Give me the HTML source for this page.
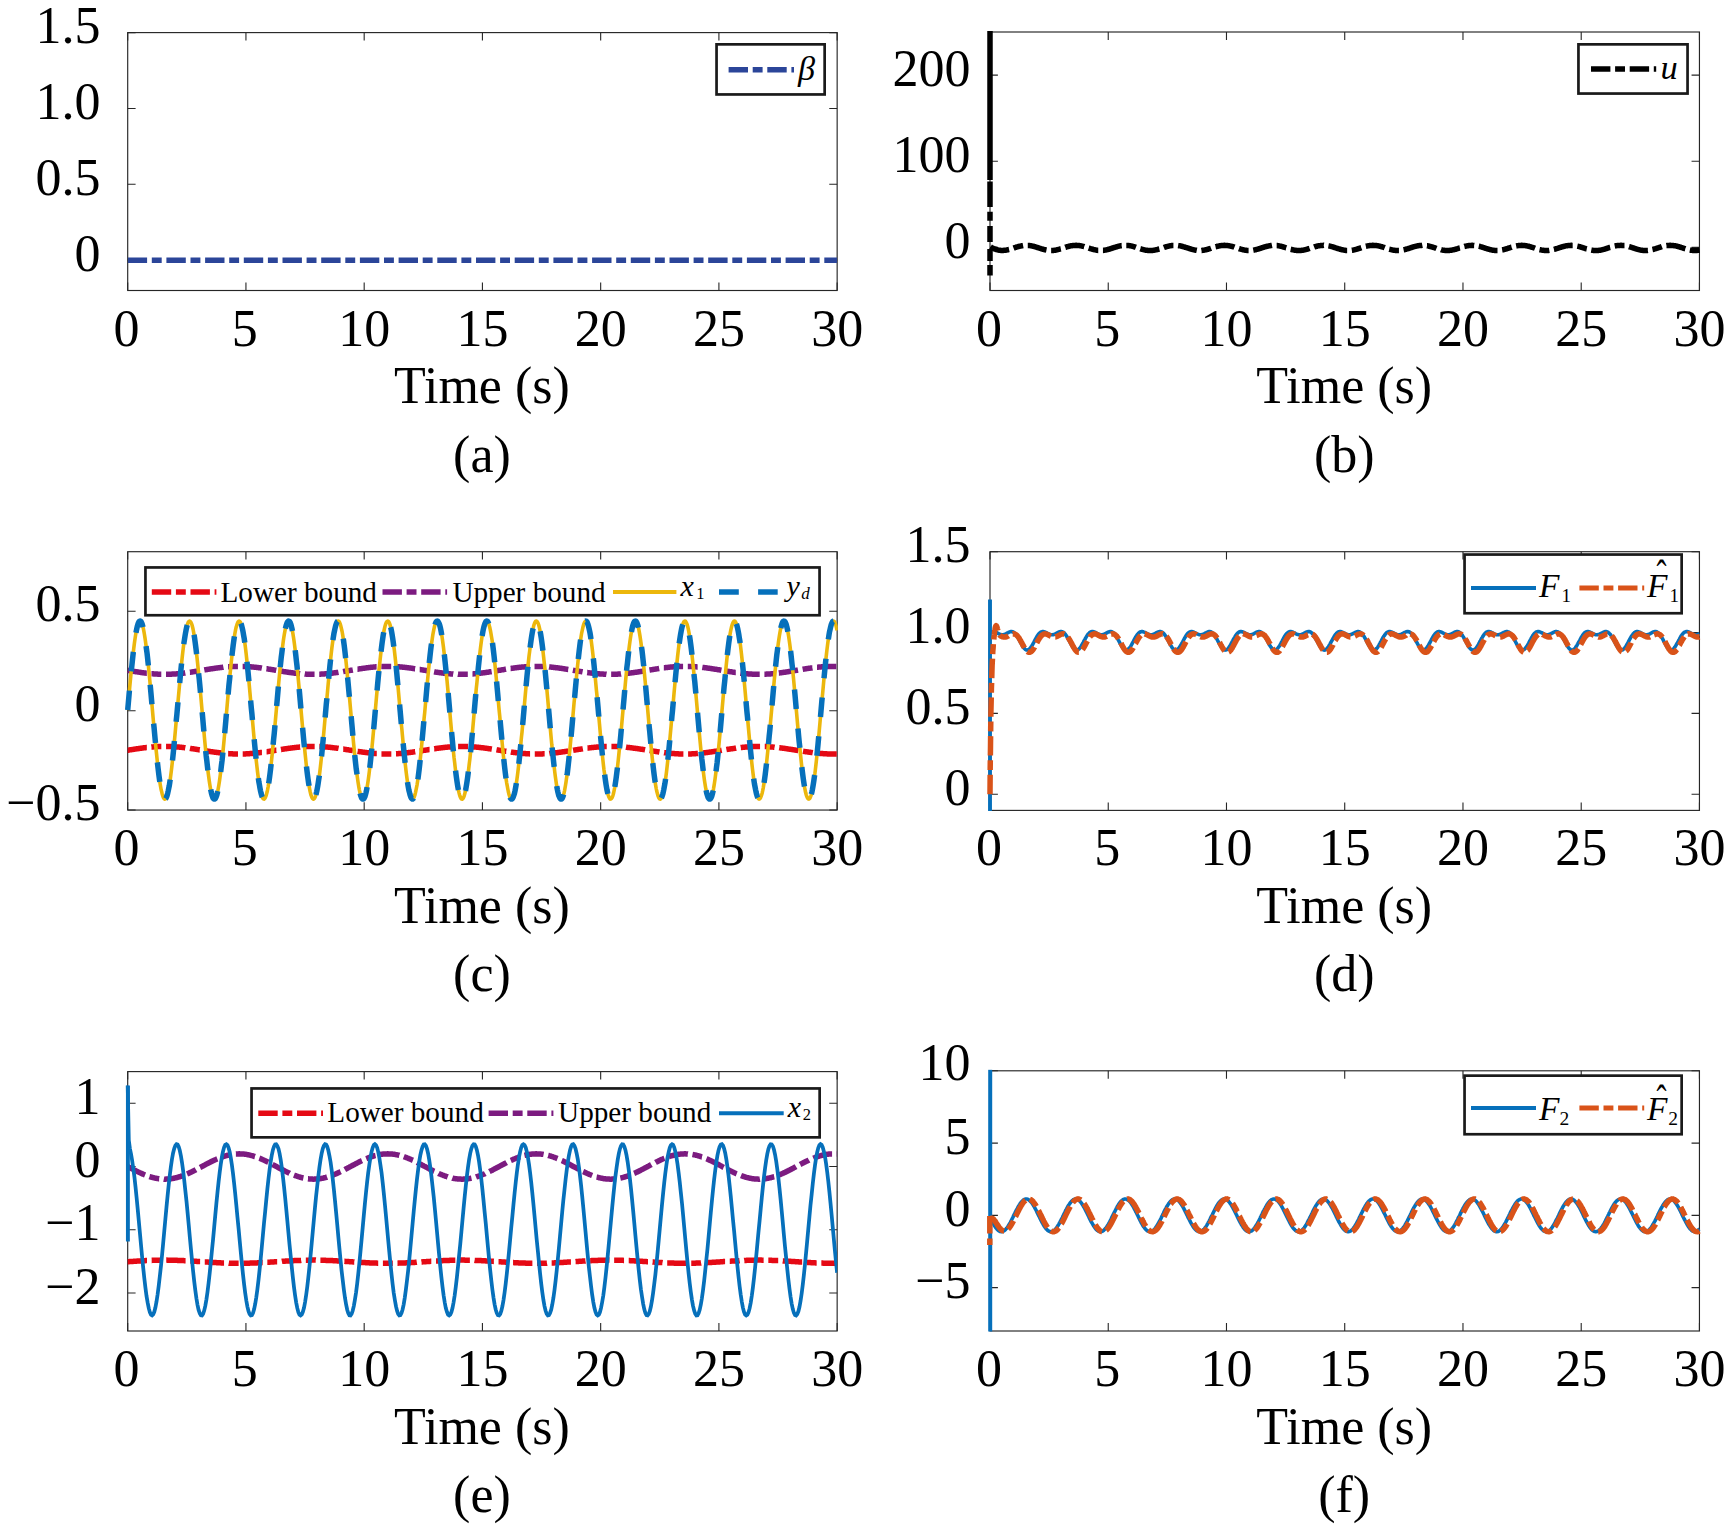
<!DOCTYPE html>
<html lang="en"><head><meta charset="utf-8"><title>Simulation results</title>
<style>html,body{margin:0;padding:0;background:#fff}svg{display:block}text{font-family:'Liberation Serif', 'Times New Roman', serif;fill:#000}</style>
</head><body>
<svg width="1732" height="1528" viewBox="0 0 1732 1528" font-family='"Liberation Serif", "Times New Roman", serif' font-size="52">
<rect width="1732" height="1528" fill="#ffffff"/>
<path d="M127.7 290.5 v-7.9 M127.7 32.6 v7.9 M245.94 290.5 v-7.9 M245.94 32.6 v7.9 M364.18 290.5 v-7.9 M364.18 32.6 v7.9 M482.42 290.5 v-7.9 M482.42 32.6 v7.9 M600.67 290.5 v-7.9 M600.67 32.6 v7.9 M718.91 290.5 v-7.9 M718.91 32.6 v7.9 M837.15 290.5 v-7.9 M837.15 32.6 v7.9 M127.7 32.6 h7.9 M837.15 32.6 h-7.9 M127.7 108.45 h7.9 M837.15 108.45 h-7.9 M127.7 184.31 h7.9 M837.15 184.31 h-7.9 M127.7 260.16 h7.9 M837.15 260.16 h-7.9" fill="none" stroke="#262626" stroke-width="1.1"/>
<rect x="127.7" y="32.6" width="709.45" height="257.9" fill="none" stroke="#262626" stroke-width="1.15"/>
<clipPath id="cp1"><rect x="127.7" y="31.6" width="709.45" height="259.4"/></clipPath>
<g clip-path="url(#cp1)" fill="none" stroke-linejoin="round">
<path d="M127.7 260.3 H837.15" stroke="#2B4599" stroke-width="5.5" stroke-dasharray="19.4 4.7 9.9 4.7"/>
</g>
<text x="126.6" y="346.2" text-anchor="middle">0</text>
<text x="244.84" y="346.2" text-anchor="middle">5</text>
<text x="364.18" y="346.2" text-anchor="middle">10</text>
<text x="482.42" y="346.2" text-anchor="middle">15</text>
<text x="600.67" y="346.2" text-anchor="middle">20</text>
<text x="718.91" y="346.2" text-anchor="middle">25</text>
<text x="837.15" y="346.2" text-anchor="middle">30</text>
<text x="100.4" y="43.2" text-anchor="end">1.5</text>
<text x="100.4" y="119.05" text-anchor="end">1.0</text>
<text x="100.4" y="194.91" text-anchor="end">0.5</text>
<text x="100.4" y="270.76" text-anchor="end">0</text>
<text x="481.93" y="403.4" text-anchor="middle">Time (s)</text>
<text x="481.93" y="471.7" text-anchor="middle">(a)</text>
<rect x="716.55" y="44.35" width="108.1" height="50.1" fill="#ffffff" stroke="#1a1a1a" stroke-width="2.7"/>
<path d="M728.6 69.7 H794" fill="none" stroke="#2B4599" stroke-width="5.5" stroke-dasharray="19.4 4.7 9.9 4.7"/>
<text x="797.9" y="79.6" font-size="34.2" font-style="italic">β</text>
<path d="M990 290.5 v-7.9 M990 32 v7.9 M1108.24 290.5 v-7.9 M1108.24 32 v7.9 M1226.48 290.5 v-7.9 M1226.48 32 v7.9 M1344.72 290.5 v-7.9 M1344.72 32 v7.9 M1462.97 290.5 v-7.9 M1462.97 32 v7.9 M1581.21 290.5 v-7.9 M1581.21 32 v7.9 M1699.45 290.5 v-7.9 M1699.45 32 v7.9 M990 75.08 h7.9 M1699.45 75.08 h-7.9 M990 161.25 h7.9 M1699.45 161.25 h-7.9 M990 247.42 h7.9 M1699.45 247.42 h-7.9" fill="none" stroke="#262626" stroke-width="1.1"/>
<rect x="990" y="32" width="709.45" height="258.5" fill="none" stroke="#262626" stroke-width="1.15"/>
<clipPath id="cp2"><rect x="986" y="31" width="714.45" height="260"/></clipPath>
<g clip-path="url(#cp2)" fill="none" stroke-linejoin="round">
<path d="M990 31 V180" stroke="#000000" stroke-width="5.5"/>
<path d="M990 181.5 V275.7" stroke="#000000" stroke-width="5.5" stroke-dasharray="25.5 4.7 9 5.3 16 7 12 4 10.6 30"/>
<path d="M990.5 246.9 991 247.2 991.5 247.5 992 247.8 992.5 248 993 248.3 993.5 248.5 994 248.7 994.5 248.9 995 249.1 995.5 249.3 996 249.4 996.5 249.6 997.1 249.7 997.6 249.9 998.1 250 998.6 250.1 999.1 250.2 999.6 250.2 1000.1 250.3 1000.6 250.4 1001.1 250.4 1001.6 250.4 1002.1 250.4 1002.6 250.4 1003.1 250.4 1003.6 250.4 1004.1 250.3 1004.7 250.3 1005.2 250.2 1005.7 250.2 1006.2 250.1 1006.7 250 1007.2 249.9 1007.7 249.8 1008.2 249.7 1008.7 249.5 1009.2 249.4 1009.7 249.3 1010.2 249.1 1010.7 249 1011.2 248.8 1011.7 248.7 1012.2 248.5 1012.8 248.3 1013.3 248.2 1013.8 248 1014.3 247.8 1014.8 247.7 1015.3 247.5 1015.8 247.3 1016.3 247.2 1016.8 247 1017.3 246.9 1017.8 246.7 1018.3 246.6 1018.8 246.4 1019.3 246.3 1019.8 246.2 1020.4 246.1 1020.9 246 1021.4 245.9 1021.9 245.8 1022.4 245.7 1022.9 245.6 1023.4 245.5 1023.9 245.5 1024.4 245.4 1024.9 245.4 1025.4 245.4 1025.9 245.4 1026.4 245.3 1026.9 245.4 1027.4 245.4 1027.9 245.4 1028.5 245.4 1029 245.5 1029.5 245.5 1030 245.6 1030.5 245.7 1031 245.8 1031.5 245.9 1032 246 1032.5 246.1 1033 246.2 1033.5 246.3 1034 246.5 1034.5 246.6 1035 246.8 1035.5 246.9 1036.1 247.1 1036.6 247.2 1037.1 247.4 1037.6 247.6 1038.1 247.7 1038.6 247.9 1039.1 248 1039.6 248.2 1040.1 248.4 1040.6 248.5 1041.1 248.7 1041.6 248.9 1042.1 249 1042.6 249.2 1043.1 249.3 1043.6 249.4 1044.2 249.6 1044.7 249.7 1045.2 249.8 1045.7 249.9 1046.2 250 1046.7 250.1 1047.2 250.2 1047.7 250.3 1048.2 250.3 1048.7 250.4 1049.2 250.4 1049.7 250.5 1050.2 250.5 1050.7 250.5 1051.2 250.5 1051.7 250.5 1052.3 250.5 1052.8 250.5 1053.3 250.4 1053.8 250.4 1054.3 250.3 1054.8 250.2 1055.3 250.2 1055.8 250.1 1056.3 250 1056.8 249.9 1057.3 249.8 1057.8 249.6 1058.3 249.5 1058.8 249.4 1059.3 249.2 1059.9 249.1 1060.4 248.9 1060.9 248.8 1061.4 248.6 1061.9 248.5 1062.4 248.3 1062.9 248.1 1063.4 248 1063.9 247.8 1064.4 247.6 1064.9 247.5 1065.4 247.3 1065.9 247.2 1066.4 247 1066.9 246.8 1067.4 246.7 1068 246.6 1068.5 246.4 1069 246.3 1069.5 246.2 1070 246 1070.5 245.9 1071 245.8 1071.5 245.7 1072 245.7 1072.5 245.6 1073 245.5 1073.5 245.5 1074 245.4 1074.5 245.4 1075 245.4 1075.6 245.4 1076.1 245.3 1076.6 245.4 1077.1 245.4 1077.6 245.4 1078.1 245.4 1078.6 245.5 1079.1 245.6 1079.6 245.6 1080.1 245.7 1080.6 245.8 1081.1 245.9 1081.6 246 1082.1 246.1 1082.6 246.2 1083.1 246.4 1083.7 246.5 1084.2 246.6 1084.7 246.8 1085.2 246.9 1085.7 247.1 1086.2 247.3 1086.7 247.4 1087.2 247.6 1087.7 247.7 1088.2 247.9 1088.7 248.1 1089.2 248.2 1089.7 248.4 1090.2 248.6 1090.7 248.7 1091.2 248.9 1091.8 249 1092.3 249.2 1092.8 249.3 1093.3 249.5 1093.8 249.6 1094.3 249.7 1094.8 249.8 1095.3 249.9 1095.8 250 1096.3 250.1 1096.8 250.2 1097.3 250.3 1097.8 250.4 1098.3 250.4 1098.8 250.5 1099.4 250.5 1099.9 250.5 1100.4 250.5 1100.9 250.5 1101.4 250.5 1101.9 250.5 1102.4 250.5 1102.9 250.4 1103.4 250.4 1103.9 250.3 1104.4 250.2 1104.9 250.1 1105.4 250.1 1105.9 250 1106.4 249.9 1106.9 249.7 1107.5 249.6 1108 249.5 1108.5 249.3 1109 249.2 1109.5 249.1 1110 248.9 1110.5 248.8 1111 248.6 1111.5 248.4 1112 248.3 1112.5 248.1 1113 247.9 1113.5 247.8 1114 247.6 1114.5 247.4 1115.1 247.3 1115.6 247.1 1116.1 247 1116.6 246.8 1117.1 246.7 1117.6 246.5 1118.1 246.4 1118.6 246.3 1119.1 246.1 1119.6 246 1120.1 245.9 1120.6 245.8 1121.1 245.7 1121.6 245.6 1122.1 245.6 1122.6 245.5 1123.2 245.5 1123.7 245.4 1124.2 245.4 1124.7 245.4 1125.2 245.3 1125.7 245.4 1126.2 245.4 1126.7 245.4 1127.2 245.4 1127.7 245.5 1128.2 245.5 1128.7 245.6 1129.2 245.6 1129.7 245.7 1130.2 245.8 1130.7 245.9 1131.3 246 1131.8 246.1 1132.3 246.3 1132.8 246.4 1133.3 246.5 1133.8 246.7 1134.3 246.8 1134.8 247 1135.3 247.1 1135.8 247.3 1136.3 247.5 1136.8 247.6 1137.3 247.8 1137.8 247.9 1138.3 248.1 1138.9 248.3 1139.4 248.4 1139.9 248.6 1140.4 248.8 1140.9 248.9 1141.4 249.1 1141.9 249.2 1142.4 249.4 1142.9 249.5 1143.4 249.6 1143.9 249.7 1144.4 249.9 1144.9 250 1145.4 250.1 1145.9 250.2 1146.4 250.2 1147 250.3 1147.5 250.4 1148 250.4 1148.5 250.5 1149 250.5 1149.5 250.5 1150 250.5 1150.5 250.5 1151 250.5 1151.5 250.5 1152 250.4 1152.5 250.4 1153 250.4 1153.5 250.3 1154 250.2 1154.6 250.1 1155.1 250 1155.6 249.9 1156.1 249.8 1156.6 249.7 1157.1 249.6 1157.6 249.5 1158.1 249.3 1158.6 249.2 1159.1 249 1159.6 248.9 1160.1 248.7 1160.6 248.6 1161.1 248.4 1161.6 248.2 1162.1 248.1 1162.7 247.9 1163.2 247.7 1163.7 247.6 1164.2 247.4 1164.7 247.2 1165.2 247.1 1165.7 246.9 1166.2 246.8 1166.7 246.6 1167.2 246.5 1167.7 246.4 1168.2 246.2 1168.7 246.1 1169.2 246 1169.7 245.9 1170.2 245.8 1170.8 245.7 1171.3 245.6 1171.8 245.6 1172.3 245.5 1172.8 245.4 1173.3 245.4 1173.8 245.4 1174.3 245.4 1174.8 245.3 1175.3 245.4 1175.8 245.4 1176.3 245.4 1176.8 245.4 1177.3 245.5 1177.8 245.5 1178.4 245.6 1178.9 245.7 1179.4 245.7 1179.9 245.8 1180.4 245.9 1180.9 246 1181.4 246.2 1181.9 246.3 1182.4 246.4 1182.9 246.6 1183.4 246.7 1183.9 246.9 1184.4 247 1184.9 247.2 1185.4 247.3 1185.9 247.5 1186.5 247.6 1187 247.8 1187.5 248 1188 248.1 1188.5 248.3 1189 248.5 1189.5 248.6 1190 248.8 1190.5 248.9 1191 249.1 1191.5 249.2 1192 249.4 1192.5 249.5 1193 249.6 1193.5 249.8 1194.1 249.9 1194.6 250 1195.1 250.1 1195.6 250.2 1196.1 250.2 1196.6 250.3 1197.1 250.4 1197.6 250.4 1198.1 250.5 1198.6 250.5 1199.1 250.5 1199.6 250.5 1200.1 250.5 1200.6 250.5 1201.1 250.5 1201.6 250.4 1202.2 250.4 1202.7 250.3 1203.2 250.3 1203.7 250.2 1204.2 250.1 1204.7 250 1205.2 249.9 1205.7 249.8 1206.2 249.7 1206.7 249.6 1207.2 249.4 1207.7 249.3 1208.2 249.2 1208.7 249 1209.2 248.8 1209.7 248.7 1210.3 248.5 1210.8 248.4 1211.3 248.2 1211.8 248 1212.3 247.9 1212.8 247.7 1213.3 247.5 1213.8 247.4 1214.3 247.2 1214.8 247.1 1215.3 246.9 1215.8 246.8 1216.3 246.6 1216.8 246.5 1217.3 246.3 1217.9 246.2 1218.4 246.1 1218.9 246 1219.4 245.9 1219.9 245.8 1220.4 245.7 1220.9 245.6 1221.4 245.5 1221.9 245.5 1222.4 245.4 1222.9 245.4 1223.4 245.4 1223.9 245.4 1224.4 245.3 1224.9 245.4 1225.4 245.4 1226 245.4 1226.5 245.4 1227 245.5 1227.5 245.5 1228 245.6 1228.5 245.7 1229 245.8 1229.5 245.9 1230 246 1230.5 246.1 1231 246.2 1231.5 246.3 1232 246.4 1232.5 246.6 1233 246.7 1233.6 246.9 1234.1 247 1234.6 247.2 1235.1 247.4 1235.6 247.5 1236.1 247.7 1236.6 247.8 1237.1 248 1237.6 248.2 1238.1 248.3 1238.6 248.5 1239.1 248.7 1239.6 248.8 1240.1 249 1240.6 249.1 1241.1 249.3 1241.7 249.4 1242.2 249.5 1242.7 249.7 1243.2 249.8 1243.7 249.9 1244.2 250 1244.7 250.1 1245.2 250.2 1245.7 250.3 1246.2 250.3 1246.7 250.4 1247.2 250.4 1247.7 250.5 1248.2 250.5 1248.7 250.5 1249.2 250.5 1249.8 250.5 1250.3 250.5 1250.8 250.5 1251.3 250.4 1251.8 250.4 1252.3 250.3 1252.8 250.3 1253.3 250.2 1253.8 250.1 1254.3 250 1254.8 249.9 1255.3 249.8 1255.8 249.7 1256.3 249.5 1256.8 249.4 1257.4 249.3 1257.9 249.1 1258.4 249 1258.9 248.8 1259.4 248.7 1259.9 248.5 1260.4 248.3 1260.9 248.2 1261.4 248 1261.9 247.8 1262.4 247.7 1262.9 247.5 1263.4 247.3 1263.9 247.2 1264.4 247 1264.9 246.9 1265.5 246.7 1266 246.6 1266.5 246.4 1267 246.3 1267.5 246.2 1268 246.1 1268.5 246 1269 245.9 1269.5 245.8 1270 245.7 1270.5 245.6 1271 245.5 1271.5 245.5 1272 245.4 1272.5 245.4 1273.1 245.4 1273.6 245.4 1274.1 245.3 1274.6 245.4 1275.1 245.4 1275.6 245.4 1276.1 245.4 1276.6 245.5 1277.1 245.5 1277.6 245.6 1278.1 245.7 1278.6 245.8 1279.1 245.9 1279.6 246 1280.1 246.1 1280.6 246.2 1281.2 246.3 1281.7 246.5 1282.2 246.6 1282.7 246.8 1283.2 246.9 1283.7 247.1 1284.2 247.2 1284.7 247.4 1285.2 247.5 1285.7 247.7 1286.2 247.9 1286.7 248 1287.2 248.2 1287.7 248.4 1288.2 248.5 1288.7 248.7 1289.3 248.9 1289.8 249 1290.3 249.2 1290.8 249.3 1291.3 249.4 1291.8 249.6 1292.3 249.7 1292.8 249.8 1293.3 249.9 1293.8 250 1294.3 250.1 1294.8 250.2 1295.3 250.3 1295.8 250.3 1296.3 250.4 1296.9 250.4 1297.4 250.5 1297.9 250.5 1298.4 250.5 1298.9 250.5 1299.4 250.5 1299.9 250.5 1300.4 250.5 1300.9 250.4 1301.4 250.4 1301.9 250.3 1302.4 250.2 1302.9 250.2 1303.4 250.1 1303.9 250 1304.4 249.9 1305 249.8 1305.5 249.6 1306 249.5 1306.5 249.4 1307 249.2 1307.5 249.1 1308 248.9 1308.5 248.8 1309 248.6 1309.5 248.5 1310 248.3 1310.5 248.1 1311 248 1311.5 247.8 1312 247.6 1312.6 247.5 1313.1 247.3 1313.6 247.2 1314.1 247 1314.6 246.8 1315.1 246.7 1315.6 246.6 1316.1 246.4 1316.6 246.3 1317.1 246.2 1317.6 246 1318.1 245.9 1318.6 245.8 1319.1 245.7 1319.6 245.7 1320.1 245.6 1320.7 245.5 1321.2 245.5 1321.7 245.4 1322.2 245.4 1322.7 245.4 1323.2 245.4 1323.7 245.3 1324.2 245.4 1324.7 245.4 1325.2 245.4 1325.7 245.4 1326.2 245.5 1326.7 245.6 1327.2 245.6 1327.7 245.7 1328.2 245.8 1328.8 245.9 1329.3 246 1329.8 246.1 1330.3 246.2 1330.8 246.4 1331.3 246.5 1331.8 246.6 1332.3 246.8 1332.8 246.9 1333.3 247.1 1333.8 247.3 1334.3 247.4 1334.8 247.6 1335.3 247.7 1335.8 247.9 1336.4 248.1 1336.9 248.2 1337.4 248.4 1337.9 248.6 1338.4 248.7 1338.9 248.9 1339.4 249 1339.9 249.2 1340.4 249.3 1340.9 249.5 1341.4 249.6 1341.9 249.7 1342.4 249.8 1342.9 249.9 1343.4 250 1343.9 250.1 1344.5 250.2 1345 250.3 1345.5 250.4 1346 250.4 1346.5 250.5 1347 250.5 1347.5 250.5 1348 250.5 1348.5 250.5 1349 250.5 1349.5 250.5 1350 250.5 1350.5 250.4 1351 250.4 1351.5 250.3 1352.1 250.2 1352.6 250.2 1353.1 250.1 1353.6 250 1354.1 249.9 1354.6 249.7 1355.1 249.6 1355.6 249.5 1356.1 249.4 1356.6 249.2 1357.1 249.1 1357.6 248.9 1358.1 248.8 1358.6 248.6 1359.1 248.4 1359.6 248.3 1360.2 248.1 1360.7 247.9 1361.2 247.8 1361.7 247.6 1362.2 247.4 1362.7 247.3 1363.2 247.1 1363.7 247 1364.2 246.8 1364.7 246.7 1365.2 246.5 1365.7 246.4 1366.2 246.3 1366.7 246.1 1367.2 246 1367.8 245.9 1368.3 245.8 1368.8 245.7 1369.3 245.6 1369.8 245.6 1370.3 245.5 1370.8 245.5 1371.3 245.4 1371.8 245.4 1372.3 245.4 1372.8 245.3 1373.3 245.4 1373.8 245.4 1374.3 245.4 1374.8 245.4 1375.3 245.5 1375.9 245.5 1376.4 245.6 1376.9 245.6 1377.4 245.7 1377.9 245.8 1378.4 245.9 1378.9 246 1379.4 246.1 1379.9 246.3 1380.4 246.4 1380.9 246.5 1381.4 246.7 1381.9 246.8 1382.4 247 1382.9 247.1 1383.4 247.3 1384 247.4 1384.5 247.6 1385 247.8 1385.5 247.9 1386 248.1 1386.5 248.3 1387 248.4 1387.5 248.6 1388 248.8 1388.5 248.9 1389 249.1 1389.5 249.2 1390 249.4 1390.5 249.5 1391 249.6 1391.6 249.7 1392.1 249.9 1392.6 250 1393.1 250.1 1393.6 250.2 1394.1 250.2 1394.6 250.3 1395.1 250.4 1395.6 250.4 1396.1 250.5 1396.6 250.5 1397.1 250.5 1397.6 250.5 1398.1 250.5 1398.6 250.5 1399.1 250.5 1399.7 250.4 1400.2 250.4 1400.7 250.4 1401.2 250.3 1401.7 250.2 1402.2 250.1 1402.7 250 1403.2 249.9 1403.7 249.8 1404.2 249.7 1404.7 249.6 1405.2 249.5 1405.7 249.3 1406.2 249.2 1406.7 249 1407.3 248.9 1407.8 248.7 1408.3 248.6 1408.8 248.4 1409.3 248.2 1409.8 248.1 1410.3 247.9 1410.8 247.7 1411.3 247.6 1411.8 247.4 1412.3 247.3 1412.8 247.1 1413.3 246.9 1413.8 246.8 1414.3 246.6 1414.8 246.5 1415.4 246.4 1415.9 246.2 1416.4 246.1 1416.9 246 1417.4 245.9 1417.9 245.8 1418.4 245.7 1418.9 245.6 1419.4 245.6 1419.9 245.5 1420.4 245.4 1420.9 245.4 1421.4 245.4 1421.9 245.4 1422.4 245.3 1422.9 245.4 1423.5 245.4 1424 245.4 1424.5 245.4 1425 245.5 1425.5 245.5 1426 245.6 1426.5 245.7 1427 245.7 1427.5 245.8 1428 245.9 1428.5 246 1429 246.2 1429.5 246.3 1430 246.4 1430.5 246.6 1431.1 246.7 1431.6 246.8 1432.1 247 1432.6 247.2 1433.1 247.3 1433.6 247.5 1434.1 247.6 1434.6 247.8 1435.1 248 1435.6 248.1 1436.1 248.3 1436.6 248.5 1437.1 248.6 1437.6 248.8 1438.1 248.9 1438.6 249.1 1439.2 249.2 1439.7 249.4 1440.2 249.5 1440.7 249.6 1441.2 249.8 1441.7 249.9 1442.2 250 1442.7 250.1 1443.2 250.2 1443.7 250.2 1444.2 250.3 1444.7 250.4 1445.2 250.4 1445.7 250.5 1446.2 250.5 1446.8 250.5 1447.3 250.5 1447.8 250.5 1448.3 250.5 1448.8 250.5 1449.3 250.4 1449.8 250.4 1450.3 250.3 1450.8 250.3 1451.3 250.2 1451.8 250.1 1452.3 250 1452.8 249.9 1453.3 249.8 1453.8 249.7 1454.3 249.6 1454.9 249.4 1455.4 249.3 1455.9 249.2 1456.4 249 1456.9 248.9 1457.4 248.7 1457.9 248.5 1458.4 248.4 1458.9 248.2 1459.4 248 1459.9 247.9 1460.4 247.7 1460.9 247.5 1461.4 247.4 1461.9 247.2 1462.4 247.1 1463 246.9 1463.5 246.8 1464 246.6 1464.5 246.5 1465 246.3 1465.5 246.2 1466 246.1 1466.5 246 1467 245.9 1467.5 245.8 1468 245.7 1468.5 245.6 1469 245.5 1469.5 245.5 1470 245.4 1470.6 245.4 1471.1 245.4 1471.6 245.4 1472.1 245.3 1472.6 245.4 1473.1 245.4 1473.6 245.4 1474.1 245.4 1474.6 245.5 1475.1 245.5 1475.6 245.6 1476.1 245.7 1476.6 245.8 1477.1 245.9 1477.6 246 1478.1 246.1 1478.7 246.2 1479.2 246.3 1479.7 246.4 1480.2 246.6 1480.7 246.7 1481.2 246.9 1481.7 247 1482.2 247.2 1482.7 247.3 1483.2 247.5 1483.7 247.7 1484.2 247.8 1484.7 248 1485.2 248.2 1485.7 248.3 1486.3 248.5 1486.8 248.7 1487.3 248.8 1487.8 249 1488.3 249.1 1488.8 249.3 1489.3 249.4 1489.8 249.5 1490.3 249.7 1490.8 249.8 1491.3 249.9 1491.8 250 1492.3 250.1 1492.8 250.2 1493.3 250.3 1493.8 250.3 1494.4 250.4 1494.9 250.4 1495.4 250.5 1495.9 250.5 1496.4 250.5 1496.9 250.5 1497.4 250.5 1497.9 250.5 1498.4 250.5 1498.9 250.4 1499.4 250.4 1499.9 250.3 1500.4 250.3 1500.9 250.2 1501.4 250.1 1501.9 250 1502.5 249.9 1503 249.8 1503.5 249.7 1504 249.5 1504.5 249.4 1505 249.3 1505.5 249.1 1506 249 1506.5 248.8 1507 248.7 1507.5 248.5 1508 248.3 1508.5 248.2 1509 248 1509.5 247.8 1510.1 247.7 1510.6 247.5 1511.1 247.3 1511.6 247.2 1512.1 247 1512.6 246.9 1513.1 246.7 1513.6 246.6 1514.1 246.4 1514.6 246.3 1515.1 246.2 1515.6 246.1 1516.1 246 1516.6 245.9 1517.1 245.8 1517.6 245.7 1518.2 245.6 1518.7 245.5 1519.2 245.5 1519.7 245.4 1520.2 245.4 1520.7 245.4 1521.2 245.4 1521.7 245.3 1522.2 245.4 1522.7 245.4 1523.2 245.4 1523.7 245.4 1524.2 245.5 1524.7 245.5 1525.2 245.6 1525.8 245.7 1526.3 245.8 1526.8 245.9 1527.3 246 1527.8 246.1 1528.3 246.2 1528.8 246.3 1529.3 246.5 1529.8 246.6 1530.3 246.8 1530.8 246.9 1531.3 247.1 1531.8 247.2 1532.3 247.4 1532.8 247.5 1533.3 247.7 1533.9 247.9 1534.4 248 1534.9 248.2 1535.4 248.4 1535.9 248.5 1536.4 248.7 1536.9 248.9 1537.4 249 1537.9 249.2 1538.4 249.3 1538.9 249.4 1539.4 249.6 1539.9 249.7 1540.4 249.8 1540.9 249.9 1541.4 250 1542 250.1 1542.5 250.2 1543 250.3 1543.5 250.3 1544 250.4 1544.5 250.4 1545 250.5 1545.5 250.5 1546 250.5 1546.5 250.5 1547 250.5 1547.5 250.5 1548 250.5 1548.5 250.4 1549 250.4 1549.6 250.3 1550.1 250.2 1550.6 250.2 1551.1 250.1 1551.6 250 1552.1 249.9 1552.6 249.8 1553.1 249.6 1553.6 249.5 1554.1 249.4 1554.6 249.2 1555.1 249.1 1555.6 248.9 1556.1 248.8 1556.6 248.6 1557.1 248.5 1557.7 248.3 1558.2 248.1 1558.7 248 1559.2 247.8 1559.7 247.6 1560.2 247.5 1560.7 247.3 1561.2 247.2 1561.7 247 1562.2 246.8 1562.7 246.7 1563.2 246.6 1563.7 246.4 1564.2 246.3 1564.7 246.2 1565.3 246 1565.8 245.9 1566.3 245.8 1566.8 245.7 1567.3 245.7 1567.8 245.6 1568.3 245.5 1568.8 245.5 1569.3 245.4 1569.8 245.4 1570.3 245.4 1570.8 245.4 1571.3 245.3 1571.8 245.4 1572.3 245.4 1572.8 245.4 1573.4 245.4 1573.9 245.5 1574.4 245.6 1574.9 245.6 1575.4 245.7 1575.9 245.8 1576.4 245.9 1576.9 246 1577.4 246.1 1577.9 246.2 1578.4 246.4 1578.9 246.5 1579.4 246.6 1579.9 246.8 1580.4 246.9 1580.9 247.1 1581.5 247.3 1582 247.4 1582.5 247.6 1583 247.7 1583.5 247.9 1584 248.1 1584.5 248.2 1585 248.4 1585.5 248.6 1586 248.7 1586.5 248.9 1587 249 1587.5 249.2 1588 249.3 1588.5 249.5 1589.1 249.6 1589.6 249.7 1590.1 249.8 1590.6 249.9 1591.1 250 1591.6 250.1 1592.1 250.2 1592.6 250.3 1593.1 250.4 1593.6 250.4 1594.1 250.4 1594.6 250.5 1595.1 250.5 1595.6 250.5 1596.1 250.5 1596.6 250.5 1597.2 250.5 1597.7 250.5 1598.2 250.4 1598.7 250.4 1599.2 250.3 1599.7 250.2 1600.2 250.2 1600.7 250.1 1601.2 250 1601.7 249.9 1602.2 249.7 1602.7 249.6 1603.2 249.5 1603.7 249.4 1604.2 249.2 1604.8 249.1 1605.3 248.9 1605.8 248.8 1606.3 248.6 1606.8 248.4 1607.3 248.3 1607.8 248.1 1608.3 247.9 1608.8 247.8 1609.3 247.6 1609.8 247.4 1610.3 247.3 1610.8 247.1 1611.3 247 1611.8 246.8 1612.3 246.7 1612.9 246.5 1613.4 246.4 1613.9 246.3 1614.4 246.1 1614.9 246 1615.4 245.9 1615.9 245.8 1616.4 245.7 1616.9 245.6 1617.4 245.6 1617.9 245.5 1618.4 245.5 1618.9 245.4 1619.4 245.4 1619.9 245.4 1620.4 245.4 1621 245.3 1621.5 245.4 1622 245.4 1622.5 245.4 1623 245.5 1623.5 245.5 1624 245.6 1624.5 245.6 1625 245.7 1625.5 245.8 1626 245.9 1626.5 246 1627 246.1 1627.5 246.3 1628 246.4 1628.6 246.5 1629.1 246.7 1629.6 246.8 1630.1 247 1630.6 247.1 1631.1 247.3 1631.6 247.4 1632.1 247.6 1632.6 247.8 1633.1 247.9 1633.6 248.1 1634.1 248.3 1634.6 248.4 1635.1 248.6 1635.6 248.8 1636.1 248.9 1636.7 249.1 1637.2 249.2 1637.7 249.4 1638.2 249.5 1638.7 249.6 1639.2 249.7 1639.7 249.9 1640.2 250 1640.7 250.1 1641.2 250.2 1641.7 250.2 1642.2 250.3 1642.7 250.4 1643.2 250.4 1643.7 250.5 1644.3 250.5 1644.8 250.5 1645.3 250.5 1645.8 250.5 1646.3 250.5 1646.8 250.5 1647.3 250.5 1647.8 250.4 1648.3 250.4 1648.8 250.3 1649.3 250.2 1649.8 250.1 1650.3 250 1650.8 249.9 1651.3 249.8 1651.8 249.7 1652.4 249.6 1652.9 249.5 1653.4 249.3 1653.9 249.2 1654.4 249 1654.9 248.9 1655.4 248.7 1655.9 248.6 1656.4 248.4 1656.9 248.2 1657.4 248.1 1657.9 247.9 1658.4 247.7 1658.9 247.6 1659.4 247.4 1659.9 247.3 1660.5 247.1 1661 246.9 1661.5 246.8 1662 246.6 1662.5 246.5 1663 246.4 1663.5 246.2 1664 246.1 1664.5 246 1665 245.9 1665.5 245.8 1666 245.7 1666.5 245.6 1667 245.6 1667.5 245.5 1668.1 245.4 1668.6 245.4 1669.1 245.4 1669.6 245.4 1670.1 245.3 1670.6 245.4 1671.1 245.4 1671.6 245.4 1672.1 245.4 1672.6 245.5 1673.1 245.5 1673.6 245.6 1674.1 245.7 1674.6 245.7 1675.1 245.8 1675.6 245.9 1676.2 246 1676.7 246.2 1677.2 246.3 1677.7 246.4 1678.2 246.6 1678.7 246.7 1679.2 246.8 1679.7 247 1680.2 247.2 1680.7 247.3 1681.2 247.5 1681.7 247.6 1682.2 247.8 1682.7 248 1683.2 248.1 1683.8 248.3 1684.3 248.5 1684.8 248.6 1685.3 248.8 1685.8 248.9 1686.3 249.1 1686.8 249.2 1687.3 249.4 1687.8 249.5 1688.3 249.6 1688.8 249.8 1689.3 249.9 1689.8 250 1690.3 250.1 1690.8 250.2 1691.3 250.2 1691.9 250.3 1692.4 250.4 1692.9 250.4 1693.4 250.5 1693.9 250.5 1694.4 250.5 1694.9 250.5 1695.4 250.5 1695.9 250.5 1696.4 250.5 1696.9 250.4 1697.4 250.4 1697.9 250.3 1698.4 250.3 1698.9 250.2 1699.5 250.1" stroke="#000000" stroke-width="5.5" stroke-dasharray="19.4 4.7 9.9 4.7"/>
</g>
<text x="988.9" y="346.2" text-anchor="middle">0</text>
<text x="1107.14" y="346.2" text-anchor="middle">5</text>
<text x="1226.48" y="346.2" text-anchor="middle">10</text>
<text x="1344.72" y="346.2" text-anchor="middle">15</text>
<text x="1462.97" y="346.2" text-anchor="middle">20</text>
<text x="1581.21" y="346.2" text-anchor="middle">25</text>
<text x="1699.45" y="346.2" text-anchor="middle">30</text>
<text x="970.4" y="85.68" text-anchor="end">200</text>
<text x="970.4" y="171.85" text-anchor="end">100</text>
<text x="970.4" y="258.02" text-anchor="end">0</text>
<text x="1344.22" y="403.4" text-anchor="middle">Time (s)</text>
<text x="1344.22" y="471.7" text-anchor="middle">(b)</text>
<rect x="1578.45" y="44.35" width="109.1" height="49.2" fill="#ffffff" stroke="#1a1a1a" stroke-width="2.7"/>
<path d="M1591 69 H1656.2" fill="none" stroke="#000000" stroke-width="5.5" stroke-dasharray="19.4 4.7 9.9 4.7"/>
<text x="1660.6" y="79.4" font-size="34.5" font-style="italic">u</text>
<path d="M127.7 810.05 v-7.9 M127.7 551.7 v7.9 M245.94 810.05 v-7.9 M245.94 551.7 v7.9 M364.18 810.05 v-7.9 M364.18 551.7 v7.9 M482.42 810.05 v-7.9 M482.42 551.7 v7.9 M600.67 810.05 v-7.9 M600.67 551.7 v7.9 M718.91 810.05 v-7.9 M718.91 551.7 v7.9 M837.15 810.05 v-7.9 M837.15 551.7 v7.9 M127.7 611.32 h7.9 M837.15 611.32 h-7.9 M127.7 710.68 h7.9 M837.15 710.68 h-7.9 M127.7 810.05 h7.9 M837.15 810.05 h-7.9" fill="none" stroke="#262626" stroke-width="1.1"/>
<rect x="127.7" y="551.7" width="709.45" height="258.35" fill="none" stroke="#262626" stroke-width="1.15"/>
<clipPath id="cp3"><rect x="124.7" y="550.7" width="713.05" height="259.85"/></clipPath>
<g clip-path="url(#cp3)" fill="none" stroke-linejoin="round">
<path d="M127.7 750.2 128.2 750.2 128.7 750.1 129.2 750 129.7 749.9 130.2 749.8 130.7 749.7 131.2 749.7 131.8 749.6 132.3 749.5 132.8 749.4 133.3 749.4 133.8 749.3 134.3 749.2 134.8 749.1 135.3 749 135.8 749 136.3 748.9 136.8 748.8 137.3 748.7 137.8 748.7 138.3 748.6 138.8 748.5 139.4 748.4 139.9 748.4 140.4 748.3 140.9 748.2 141.4 748.2 141.9 748.1 142.4 748 142.9 748 143.4 747.9 143.9 747.8 144.4 747.8 144.9 747.7 145.4 747.7 145.9 747.6 146.4 747.5 147 747.5 147.5 747.4 148 747.4 148.5 747.3 149 747.3 149.5 747.2 150 747.2 150.5 747.1 151 747.1 151.5 747 152 747 152.5 747 153 746.9 153.5 746.9 154.1 746.8 154.6 746.8 155.1 746.8 155.6 746.7 156.1 746.7 156.6 746.7 157.1 746.7 157.6 746.6 158.1 746.6 158.6 746.6 159.1 746.6 159.6 746.5 160.1 746.5 160.6 746.5 161.1 746.5 161.7 746.5 162.2 746.5 162.7 746.5 163.2 746.5 163.7 746.5 164.2 746.5 164.7 746.5 165.2 746.5 165.7 746.5 166.2 746.5 166.7 746.5 167.2 746.5 167.7 746.5 168.2 746.5 168.7 746.5 169.3 746.5 169.8 746.5 170.3 746.6 170.8 746.6 171.3 746.6 171.8 746.6 172.3 746.6 172.8 746.7 173.3 746.7 173.8 746.7 174.3 746.8 174.8 746.8 175.3 746.8 175.8 746.9 176.3 746.9 176.9 746.9 177.4 747 177.9 747 178.4 747.1 178.9 747.1 179.4 747.1 179.9 747.2 180.4 747.2 180.9 747.3 181.4 747.3 181.9 747.4 182.4 747.5 182.9 747.5 183.4 747.6 183.9 747.6 184.5 747.7 185 747.7 185.5 747.8 186 747.9 186.5 747.9 187 748 187.5 748.1 188 748.1 188.5 748.2 189 748.3 189.5 748.3 190 748.4 190.5 748.5 191 748.5 191.6 748.6 192.1 748.7 192.6 748.8 193.1 748.8 193.6 748.9 194.1 749 194.6 749.1 195.1 749.1 195.6 749.2 196.1 749.3 196.6 749.4 197.1 749.5 197.6 749.5 198.1 749.6 198.6 749.7 199.2 749.8 199.7 749.9 200.2 749.9 200.7 750 201.2 750.1 201.7 750.2 202.2 750.3 202.7 750.3 203.2 750.4 203.7 750.5 204.2 750.6 204.7 750.7 205.2 750.7 205.7 750.8 206.2 750.9 206.8 751 207.3 751.1 207.8 751.1 208.3 751.2 208.8 751.3 209.3 751.4 209.8 751.5 210.3 751.5 210.8 751.6 211.3 751.7 211.8 751.8 212.3 751.8 212.8 751.9 213.3 752 213.8 752 214.4 752.1 214.9 752.2 215.4 752.3 215.9 752.3 216.4 752.4 216.9 752.5 217.4 752.5 217.9 752.6 218.4 752.6 218.9 752.7 219.4 752.8 219.9 752.8 220.4 752.9 220.9 752.9 221.4 753 222 753.1 222.5 753.1 223 753.2 223.5 753.2 224 753.3 224.5 753.3 225 753.4 225.5 753.4 226 753.4 226.5 753.5 227 753.5 227.5 753.6 228 753.6 228.5 753.6 229 753.7 229.6 753.7 230.1 753.7 230.6 753.8 231.1 753.8 231.6 753.8 232.1 753.8 232.6 753.9 233.1 753.9 233.6 753.9 234.1 753.9 234.6 753.9 235.1 754 235.6 754 236.1 754 236.7 754 237.2 754 237.7 754 238.2 754 238.7 754 239.2 754 239.7 754 240.2 754 240.7 754 241.2 754 241.7 754 242.2 754 242.7 754 243.2 754 243.7 753.9 244.3 753.9 244.8 753.9 245.3 753.9 245.8 753.9 246.3 753.8 246.8 753.8 247.3 753.8 247.8 753.8 248.3 753.7 248.8 753.7 249.3 753.7 249.8 753.6 250.3 753.6 250.8 753.6 251.3 753.5 251.9 753.5 252.4 753.4 252.9 753.4 253.4 753.3 253.9 753.3 254.4 753.2 254.9 753.2 255.4 753.1 255.9 753.1 256.4 753 256.9 753 257.4 752.9 257.9 752.9 258.4 752.8 258.9 752.8 259.5 752.7 260 752.6 260.5 752.6 261 752.5 261.5 752.4 262 752.4 262.5 752.3 263 752.2 263.5 752.2 264 752.1 264.5 752 265 752 265.5 751.9 266 751.8 266.5 751.7 267.1 751.7 267.6 751.6 268.1 751.5 268.6 751.4 269.1 751.4 269.6 751.3 270.1 751.2 270.6 751.1 271.1 751.1 271.6 751 272.1 750.9 272.6 750.8 273.1 750.7 273.6 750.7 274.2 750.6 274.7 750.5 275.2 750.4 275.7 750.3 276.2 750.2 276.7 750.2 277.2 750.1 277.7 750 278.2 749.9 278.7 749.8 279.2 749.8 279.7 749.7 280.2 749.6 280.7 749.5 281.2 749.4 281.8 749.4 282.3 749.3 282.8 749.2 283.3 749.1 283.8 749.1 284.3 749 284.8 748.9 285.3 748.8 285.8 748.8 286.3 748.7 286.8 748.6 287.3 748.5 287.8 748.5 288.3 748.4 288.8 748.3 289.4 748.3 289.9 748.2 290.4 748.1 290.9 748 291.4 748 291.9 747.9 292.4 747.9 292.9 747.8 293.4 747.7 293.9 747.7 294.4 747.6 294.9 747.6 295.4 747.5 295.9 747.4 296.4 747.4 297 747.3 297.5 747.3 298 747.2 298.5 747.2 299 747.1 299.5 747.1 300 747 300.5 747 301 747 301.5 746.9 302 746.9 302.5 746.9 303 746.8 303.5 746.8 304 746.7 304.6 746.7 305.1 746.7 305.6 746.7 306.1 746.6 306.6 746.6 307.1 746.6 307.6 746.6 308.1 746.6 308.6 746.5 309.1 746.5 309.6 746.5 310.1 746.5 310.6 746.5 311.1 746.5 311.7 746.5 312.2 746.5 312.7 746.5 313.2 746.5 313.7 746.5 314.2 746.5 314.7 746.5 315.2 746.5 315.7 746.5 316.2 746.5 316.7 746.5 317.2 746.5 317.7 746.5 318.2 746.5 318.7 746.6 319.3 746.6 319.8 746.6 320.3 746.6 320.8 746.6 321.3 746.7 321.8 746.7 322.3 746.7 322.8 746.7 323.3 746.8 323.8 746.8 324.3 746.8 324.8 746.9 325.3 746.9 325.8 747 326.3 747 326.9 747 327.4 747.1 327.9 747.1 328.4 747.2 328.9 747.2 329.4 747.3 329.9 747.3 330.4 747.4 330.9 747.4 331.4 747.5 331.9 747.6 332.4 747.6 332.9 747.7 333.4 747.7 333.9 747.8 334.5 747.9 335 747.9 335.5 748 336 748 336.5 748.1 337 748.2 337.5 748.2 338 748.3 338.5 748.4 339 748.5 339.5 748.5 340 748.6 340.5 748.7 341 748.7 341.5 748.8 342.1 748.9 342.6 749 343.1 749.1 343.6 749.1 344.1 749.2 344.6 749.3 345.1 749.4 345.6 749.4 346.1 749.5 346.6 749.6 347.1 749.7 347.6 749.8 348.1 749.8 348.6 749.9 349.1 750 349.7 750.1 350.2 750.2 350.7 750.2 351.2 750.3 351.7 750.4 352.2 750.5 352.7 750.6 353.2 750.7 353.7 750.7 354.2 750.8 354.7 750.9 355.2 751 355.7 751 356.2 751.1 356.8 751.2 357.3 751.3 357.8 751.4 358.3 751.4 358.8 751.5 359.3 751.6 359.8 751.7 360.3 751.7 360.8 751.8 361.3 751.9 361.8 752 362.3 752 362.8 752.1 363.3 752.2 363.8 752.2 364.4 752.3 364.9 752.4 365.4 752.4 365.9 752.5 366.4 752.6 366.9 752.6 367.4 752.7 367.9 752.8 368.4 752.8 368.9 752.9 369.4 752.9 369.9 753 370.4 753 370.9 753.1 371.4 753.1 372 753.2 372.5 753.2 373 753.3 373.5 753.3 374 753.4 374.5 753.4 375 753.5 375.5 753.5 376 753.6 376.5 753.6 377 753.6 377.5 753.7 378 753.7 378.5 753.7 379 753.8 379.6 753.8 380.1 753.8 380.6 753.8 381.1 753.9 381.6 753.9 382.1 753.9 382.6 753.9 383.1 753.9 383.6 754 384.1 754 384.6 754 385.1 754 385.6 754 386.1 754 386.6 754 387.2 754 387.7 754 388.2 754 388.7 754 389.2 754 389.7 754 390.2 754 390.7 754 391.2 754 391.7 754 392.2 753.9 392.7 753.9 393.2 753.9 393.7 753.9 394.3 753.9 394.8 753.8 395.3 753.8 395.8 753.8 396.3 753.8 396.8 753.7 397.3 753.7 397.8 753.7 398.3 753.6 398.8 753.6 399.3 753.6 399.8 753.5 400.3 753.5 400.8 753.4 401.3 753.4 401.9 753.4 402.4 753.3 402.9 753.3 403.4 753.2 403.9 753.2 404.4 753.1 404.9 753.1 405.4 753 405.9 752.9 406.4 752.9 406.9 752.8 407.4 752.8 407.9 752.7 408.4 752.6 408.9 752.6 409.5 752.5 410 752.5 410.5 752.4 411 752.3 411.5 752.3 412 752.2 412.5 752.1 413 752 413.5 752 414 751.9 414.5 751.8 415 751.8 415.5 751.7 416 751.6 416.5 751.5 417.1 751.5 417.6 751.4 418.1 751.3 418.6 751.2 419.1 751.1 419.6 751.1 420.1 751 420.6 750.9 421.1 750.8 421.6 750.8 422.1 750.7 422.6 750.6 423.1 750.5 423.6 750.4 424.1 750.3 424.7 750.3 425.2 750.2 425.7 750.1 426.2 750 426.7 749.9 427.2 749.9 427.7 749.8 428.2 749.7 428.7 749.6 429.2 749.5 429.7 749.5 430.2 749.4 430.7 749.3 431.2 749.2 431.8 749.1 432.3 749.1 432.8 749 433.3 748.9 433.8 748.8 434.3 748.8 434.8 748.7 435.3 748.6 435.8 748.5 436.3 748.5 436.8 748.4 437.3 748.3 437.8 748.3 438.3 748.2 438.8 748.1 439.4 748.1 439.9 748 440.4 747.9 440.9 747.9 441.4 747.8 441.9 747.7 442.4 747.7 442.9 747.6 443.4 747.6 443.9 747.5 444.4 747.5 444.9 747.4 445.4 747.3 445.9 747.3 446.4 747.2 447 747.2 447.5 747.1 448 747.1 448.5 747.1 449 747 449.5 747 450 746.9 450.5 746.9 451 746.9 451.5 746.8 452 746.8 452.5 746.8 453 746.7 453.5 746.7 454 746.7 454.6 746.6 455.1 746.6 455.6 746.6 456.1 746.6 456.6 746.6 457.1 746.5 457.6 746.5 458.1 746.5 458.6 746.5 459.1 746.5 459.6 746.5 460.1 746.5 460.6 746.5 461.1 746.5 461.6 746.5 462.2 746.5 462.7 746.5 463.2 746.5 463.7 746.5 464.2 746.5 464.7 746.5 465.2 746.5 465.7 746.5 466.2 746.5 466.7 746.5 467.2 746.5 467.7 746.6 468.2 746.6 468.7 746.6 469.2 746.6 469.8 746.7 470.3 746.7 470.8 746.7 471.3 746.7 471.8 746.8 472.3 746.8 472.8 746.8 473.3 746.9 473.8 746.9 474.3 747 474.8 747 475.3 747 475.8 747.1 476.3 747.1 476.9 747.2 477.4 747.2 477.9 747.3 478.4 747.3 478.9 747.4 479.4 747.4 479.9 747.5 480.4 747.5 480.9 747.6 481.4 747.7 481.9 747.7 482.4 747.8 482.9 747.8 483.4 747.9 483.9 748 484.5 748 485 748.1 485.5 748.2 486 748.2 486.5 748.3 487 748.4 487.5 748.4 488 748.5 488.5 748.6 489 748.7 489.5 748.7 490 748.8 490.5 748.9 491 749 491.5 749 492.1 749.1 492.6 749.2 493.1 749.3 493.6 749.3 494.1 749.4 494.6 749.5 495.1 749.6 495.6 749.7 496.1 749.7 496.6 749.8 497.1 749.9 497.6 750 498.1 750.1 498.6 750.1 499.1 750.2 499.7 750.3 500.2 750.4 500.7 750.5 501.2 750.6 501.7 750.6 502.2 750.7 502.7 750.8 503.2 750.9 503.7 751 504.2 751 504.7 751.1 505.2 751.2 505.7 751.3 506.2 751.3 506.7 751.4 507.3 751.5 507.8 751.6 508.3 751.6 508.8 751.7 509.3 751.8 509.8 751.9 510.3 751.9 510.8 752 511.3 752.1 511.8 752.2 512.3 752.2 512.8 752.3 513.3 752.4 513.8 752.4 514.4 752.5 514.9 752.6 515.4 752.6 515.9 752.7 516.4 752.7 516.9 752.8 517.4 752.9 517.9 752.9 518.4 753 518.9 753 519.4 753.1 519.9 753.1 520.4 753.2 520.9 753.2 521.4 753.3 522 753.3 522.5 753.4 523 753.4 523.5 753.5 524 753.5 524.5 753.5 525 753.6 525.5 753.6 526 753.7 526.5 753.7 527 753.7 527.5 753.8 528 753.8 528.5 753.8 529 753.8 529.6 753.9 530.1 753.9 530.6 753.9 531.1 753.9 531.6 753.9 532.1 753.9 532.6 754 533.1 754 533.6 754 534.1 754 534.6 754 535.1 754 535.6 754 536.1 754 536.6 754 537.2 754 537.7 754 538.2 754 538.7 754 539.2 754 539.7 754 540.2 754 540.7 753.9 541.2 753.9 541.7 753.9 542.2 753.9 542.7 753.9 543.2 753.8 543.7 753.8 544.2 753.8 544.8 753.8 545.3 753.7 545.8 753.7 546.3 753.7 546.8 753.6 547.3 753.6 547.8 753.6 548.3 753.5 548.8 753.5 549.3 753.5 549.8 753.4 550.3 753.4 550.8 753.3 551.3 753.3 551.8 753.2 552.4 753.2 552.9 753.1 553.4 753.1 553.9 753 554.4 753 554.9 752.9 555.4 752.8 555.9 752.8 556.4 752.7 556.9 752.7 557.4 752.6 557.9 752.5 558.4 752.5 558.9 752.4 559.5 752.3 560 752.3 560.5 752.2 561 752.1 561.5 752.1 562 752 562.5 751.9 563 751.8 563.5 751.8 564 751.7 564.5 751.6 565 751.6 565.5 751.5 566 751.4 566.5 751.3 567.1 751.2 567.6 751.2 568.1 751.1 568.6 751 569.1 750.9 569.6 750.8 570.1 750.8 570.6 750.7 571.1 750.6 571.6 750.5 572.1 750.4 572.6 750.4 573.1 750.3 573.6 750.2 574.1 750.1 574.7 750 575.2 750 575.7 749.9 576.2 749.8 576.7 749.7 577.2 749.6 577.7 749.6 578.2 749.5 578.7 749.4 579.2 749.3 579.7 749.2 580.2 749.2 580.7 749.1 581.2 749 581.7 748.9 582.3 748.9 582.8 748.8 583.3 748.7 583.8 748.6 584.3 748.6 584.8 748.5 585.3 748.4 585.8 748.3 586.3 748.3 586.8 748.2 587.3 748.1 587.8 748.1 588.3 748 588.8 747.9 589.3 747.9 589.9 747.8 590.4 747.8 590.9 747.7 591.4 747.6 591.9 747.6 592.4 747.5 592.9 747.5 593.4 747.4 593.9 747.4 594.4 747.3 594.9 747.3 595.4 747.2 595.9 747.2 596.4 747.1 597 747.1 597.5 747 598 747 598.5 746.9 599 746.9 599.5 746.9 600 746.8 600.5 746.8 601 746.8 601.5 746.7 602 746.7 602.5 746.7 603 746.6 603.5 746.6 604 746.6 604.6 746.6 605.1 746.6 605.6 746.5 606.1 746.5 606.6 746.5 607.1 746.5 607.6 746.5 608.1 746.5 608.6 746.5 609.1 746.5 609.6 746.5 610.1 746.5 610.6 746.5 611.1 746.5 611.6 746.5 612.2 746.5 612.7 746.5 613.2 746.5 613.7 746.5 614.2 746.5 614.7 746.5 615.2 746.5 615.7 746.5 616.2 746.6 616.7 746.6 617.2 746.6 617.7 746.6 618.2 746.7 618.7 746.7 619.2 746.7 619.8 746.7 620.3 746.8 620.8 746.8 621.3 746.8 621.8 746.9 622.3 746.9 622.8 746.9 623.3 747 623.8 747 624.3 747.1 624.8 747.1 625.3 747.2 625.8 747.2 626.3 747.3 626.8 747.3 627.4 747.4 627.9 747.4 628.4 747.5 628.9 747.5 629.4 747.6 629.9 747.6 630.4 747.7 630.9 747.8 631.4 747.8 631.9 747.9 632.4 748 632.9 748 633.4 748.1 633.9 748.2 634.4 748.2 635 748.3 635.5 748.4 636 748.4 636.5 748.5 637 748.6 637.5 748.6 638 748.7 638.5 748.8 639 748.9 639.5 748.9 640 749 640.5 749.1 641 749.2 641.5 749.3 642.1 749.3 642.6 749.4 643.1 749.5 643.6 749.6 644.1 749.6 644.6 749.7 645.1 749.8 645.6 749.9 646.1 750 646.6 750 647.1 750.1 647.6 750.2 648.1 750.3 648.6 750.4 649.1 750.5 649.7 750.5 650.2 750.6 650.7 750.7 651.2 750.8 651.7 750.9 652.2 750.9 652.7 751 653.2 751.1 653.7 751.2 654.2 751.3 654.7 751.3 655.2 751.4 655.7 751.5 656.2 751.6 656.7 751.6 657.3 751.7 657.8 751.8 658.3 751.9 658.8 751.9 659.3 752 659.8 752.1 660.3 752.1 660.8 752.2 661.3 752.3 661.8 752.3 662.3 752.4 662.8 752.5 663.3 752.5 663.8 752.6 664.3 752.7 664.9 752.7 665.4 752.8 665.9 752.8 666.4 752.9 666.9 753 667.4 753 667.9 753.1 668.4 753.1 668.9 753.2 669.4 753.2 669.9 753.3 670.4 753.3 670.9 753.4 671.4 753.4 671.9 753.5 672.5 753.5 673 753.5 673.5 753.6 674 753.6 674.5 753.6 675 753.7 675.5 753.7 676 753.7 676.5 753.8 677 753.8 677.5 753.8 678 753.8 678.5 753.9 679 753.9 679.6 753.9 680.1 753.9 680.6 753.9 681.1 754 681.6 754 682.1 754 682.6 754 683.1 754 683.6 754 684.1 754 684.6 754 685.1 754 685.6 754 686.1 754 686.6 754 687.2 754 687.7 754 688.2 754 688.7 754 689.2 753.9 689.7 753.9 690.2 753.9 690.7 753.9 691.2 753.9 691.7 753.9 692.2 753.8 692.7 753.8 693.2 753.8 693.7 753.7 694.2 753.7 694.8 753.7 695.3 753.7 695.8 753.6 696.3 753.6 696.8 753.5 697.3 753.5 697.8 753.5 698.3 753.4 698.8 753.4 699.3 753.3 699.8 753.3 700.3 753.2 700.8 753.2 701.3 753.1 701.8 753.1 702.4 753 702.9 753 703.4 752.9 703.9 752.9 704.4 752.8 704.9 752.7 705.4 752.7 705.9 752.6 706.4 752.6 706.9 752.5 707.4 752.4 707.9 752.4 708.4 752.3 708.9 752.2 709.4 752.1 710 752.1 710.5 752 711 751.9 711.5 751.9 712 751.8 712.5 751.7 713 751.6 713.5 751.6 714 751.5 714.5 751.4 715 751.3 715.5 751.3 716 751.2 716.5 751.1 717.1 751 717.6 750.9 718.1 750.9 718.6 750.8 719.1 750.7 719.6 750.6 720.1 750.5 720.6 750.5 721.1 750.4 721.6 750.3 722.1 750.2 722.6 750.1 723.1 750.1 723.6 750 724.1 749.9 724.7 749.8 725.2 749.7 725.7 749.7 726.2 749.6 726.7 749.5 727.2 749.4 727.7 749.3 728.2 749.3 728.7 749.2 729.2 749.1 729.7 749 730.2 749 730.7 748.9 731.2 748.8 731.7 748.7 732.3 748.7 732.8 748.6 733.3 748.5 733.8 748.4 734.3 748.4 734.8 748.3 735.3 748.2 735.8 748.2 736.3 748.1 736.8 748 737.3 748 737.8 747.9 738.3 747.8 738.8 747.8 739.3 747.7 739.9 747.7 740.4 747.6 740.9 747.5 741.4 747.5 741.9 747.4 742.4 747.4 742.9 747.3 743.4 747.3 743.9 747.2 744.4 747.2 744.9 747.1 745.4 747.1 745.9 747 746.4 747 746.9 747 747.5 746.9 748 746.9 748.5 746.8 749 746.8 749.5 746.8 750 746.7 750.5 746.7 751 746.7 751.5 746.7 752 746.6 752.5 746.6 753 746.6 753.5 746.6 754 746.5 754.5 746.5 755.1 746.5 755.6 746.5 756.1 746.5 756.6 746.5 757.1 746.5 757.6 746.5 758.1 746.5 758.6 746.5 759.1 746.5 759.6 746.5 760.1 746.5 760.6 746.5 761.1 746.5 761.6 746.5 762.2 746.5 762.7 746.5 763.2 746.5 763.7 746.5 764.2 746.5 764.7 746.6 765.2 746.6 765.7 746.6 766.2 746.6 766.7 746.6 767.2 746.7 767.7 746.7 768.2 746.7 768.7 746.8 769.2 746.8 769.8 746.8 770.3 746.9 770.8 746.9 771.3 746.9 771.8 747 772.3 747 772.8 747.1 773.3 747.1 773.8 747.2 774.3 747.2 774.8 747.3 775.3 747.3 775.8 747.4 776.3 747.4 776.8 747.5 777.4 747.5 777.9 747.6 778.4 747.6 778.9 747.7 779.4 747.8 779.9 747.8 780.4 747.9 780.9 747.9 781.4 748 781.9 748.1 782.4 748.1 782.9 748.2 783.4 748.3 783.9 748.3 784.4 748.4 785 748.5 785.5 748.6 786 748.6 786.5 748.7 787 748.8 787.5 748.9 788 748.9 788.5 749 789 749.1 789.5 749.2 790 749.2 790.5 749.3 791 749.4 791.5 749.5 792 749.6 792.6 749.6 793.1 749.7 793.6 749.8 794.1 749.9 794.6 750 795.1 750 795.6 750.1 796.1 750.2 796.6 750.3 797.1 750.4 797.6 750.4 798.1 750.5 798.6 750.6 799.1 750.7 799.7 750.8 800.2 750.8 800.7 750.9 801.2 751 801.7 751.1 802.2 751.2 802.7 751.2 803.2 751.3 803.7 751.4 804.2 751.5 804.7 751.5 805.2 751.6 805.7 751.7 806.2 751.8 806.7 751.8 807.3 751.9 807.8 752 808.3 752.1 808.8 752.1 809.3 752.2 809.8 752.3 810.3 752.3 810.8 752.4 811.3 752.5 811.8 752.5 812.3 752.6 812.8 752.7 813.3 752.7 813.8 752.8 814.3 752.8 814.9 752.9 815.4 753 815.9 753 816.4 753.1 816.9 753.1 817.4 753.2 817.9 753.2 818.4 753.3 818.9 753.3 819.4 753.4 819.9 753.4 820.4 753.4 820.9 753.5 821.4 753.5 821.9 753.6 822.5 753.6 823 753.6 823.5 753.7 824 753.7 824.5 753.7 825 753.8 825.5 753.8 826 753.8 826.5 753.8 827 753.9 827.5 753.9 828 753.9 828.5 753.9 829 753.9 829.5 754 830.1 754 830.6 754 831.1 754 831.6 754 832.1 754 832.6 754 833.1 754 833.6 754 834.1 754 834.6 754 835.1 754 835.6 754 836.1 754 836.6 754 837.1 754" stroke="#E50914" stroke-width="5.5" stroke-dasharray="19.4 4.7 9.9 4.7"/>
<path d="M127.7 670.3 128.2 670.4 128.7 670.5 129.2 670.6 129.7 670.7 130.2 670.8 130.7 670.9 131.2 670.9 131.8 671 132.3 671.1 132.8 671.2 133.3 671.3 133.8 671.4 134.3 671.4 134.8 671.5 135.3 671.6 135.8 671.7 136.3 671.8 136.8 671.8 137.3 671.9 137.8 672 138.3 672.1 138.8 672.1 139.4 672.2 139.9 672.3 140.4 672.4 140.9 672.4 141.4 672.5 141.9 672.6 142.4 672.7 142.9 672.7 143.4 672.8 143.9 672.9 144.4 672.9 144.9 673 145.4 673.1 145.9 673.1 146.4 673.2 147 673.2 147.5 673.3 148 673.3 148.5 673.4 149 673.5 149.5 673.5 150 673.6 150.5 673.6 151 673.7 151.5 673.7 152 673.7 152.5 673.8 153 673.8 153.5 673.9 154.1 673.9 154.6 673.9 155.1 674 155.6 674 156.1 674 156.6 674.1 157.1 674.1 157.6 674.1 158.1 674.2 158.6 674.2 159.1 674.2 159.6 674.2 160.1 674.2 160.6 674.3 161.1 674.3 161.7 674.3 162.2 674.3 162.7 674.3 163.2 674.3 163.7 674.3 164.2 674.3 164.7 674.3 165.2 674.3 165.7 674.3 166.2 674.3 166.7 674.3 167.2 674.3 167.7 674.3 168.2 674.3 168.7 674.3 169.3 674.2 169.8 674.2 170.3 674.2 170.8 674.2 171.3 674.2 171.8 674.1 172.3 674.1 172.8 674.1 173.3 674.1 173.8 674 174.3 674 174.8 674 175.3 673.9 175.8 673.9 176.3 673.9 176.9 673.8 177.4 673.8 177.9 673.7 178.4 673.7 178.9 673.6 179.4 673.6 179.9 673.5 180.4 673.5 180.9 673.4 181.4 673.4 181.9 673.3 182.4 673.3 182.9 673.2 183.4 673.2 183.9 673.1 184.5 673 185 673 185.5 672.9 186 672.8 186.5 672.8 187 672.7 187.5 672.6 188 672.6 188.5 672.5 189 672.4 189.5 672.3 190 672.3 190.5 672.2 191 672.1 191.6 672 192.1 672 192.6 671.9 193.1 671.8 193.6 671.7 194.1 671.6 194.6 671.6 195.1 671.5 195.6 671.4 196.1 671.3 196.6 671.2 197.1 671.2 197.6 671.1 198.1 671 198.6 670.9 199.2 670.8 199.7 670.7 200.2 670.6 200.7 670.6 201.2 670.5 201.7 670.4 202.2 670.3 202.7 670.2 203.2 670.1 203.7 670.1 204.2 670 204.7 669.9 205.2 669.8 205.7 669.7 206.2 669.6 206.8 669.5 207.3 669.5 207.8 669.4 208.3 669.3 208.8 669.2 209.3 669.1 209.8 669.1 210.3 669 210.8 668.9 211.3 668.8 211.8 668.7 212.3 668.7 212.8 668.6 213.3 668.5 213.8 668.4 214.4 668.4 214.9 668.3 215.4 668.2 215.9 668.1 216.4 668.1 216.9 668 217.4 667.9 217.9 667.9 218.4 667.8 218.9 667.7 219.4 667.7 219.9 667.6 220.4 667.5 220.9 667.5 221.4 667.4 222 667.4 222.5 667.3 223 667.3 223.5 667.2 224 667.2 224.5 667.1 225 667.1 225.5 667 226 667 226.5 666.9 227 666.9 227.5 666.8 228 666.8 228.5 666.8 229 666.7 229.6 666.7 230.1 666.7 230.6 666.6 231.1 666.6 231.6 666.6 232.1 666.5 232.6 666.5 233.1 666.5 233.6 666.5 234.1 666.5 234.6 666.4 235.1 666.4 235.6 666.4 236.1 666.4 236.7 666.4 237.2 666.4 237.7 666.4 238.2 666.4 238.7 666.4 239.2 666.4 239.7 666.4 240.2 666.4 240.7 666.4 241.2 666.4 241.7 666.4 242.2 666.4 242.7 666.4 243.2 666.4 243.7 666.4 244.3 666.5 244.8 666.5 245.3 666.5 245.8 666.5 246.3 666.5 246.8 666.6 247.3 666.6 247.8 666.6 248.3 666.7 248.8 666.7 249.3 666.7 249.8 666.8 250.3 666.8 250.8 666.8 251.3 666.9 251.9 666.9 252.4 667 252.9 667 253.4 667.1 253.9 667.1 254.4 667.2 254.9 667.2 255.4 667.3 255.9 667.3 256.4 667.4 256.9 667.4 257.4 667.5 257.9 667.6 258.4 667.6 258.9 667.7 259.5 667.7 260 667.8 260.5 667.9 261 667.9 261.5 668 262 668.1 262.5 668.2 263 668.2 263.5 668.3 264 668.4 264.5 668.4 265 668.5 265.5 668.6 266 668.7 266.5 668.8 267.1 668.8 267.6 668.9 268.1 669 268.6 669.1 269.1 669.2 269.6 669.2 270.1 669.3 270.6 669.4 271.1 669.5 271.6 669.6 272.1 669.6 272.6 669.7 273.1 669.8 273.6 669.9 274.2 670 274.7 670.1 275.2 670.2 275.7 670.2 276.2 670.3 276.7 670.4 277.2 670.5 277.7 670.6 278.2 670.7 278.7 670.7 279.2 670.8 279.7 670.9 280.2 671 280.7 671.1 281.2 671.2 281.8 671.3 282.3 671.3 282.8 671.4 283.3 671.5 283.8 671.6 284.3 671.7 284.8 671.7 285.3 671.8 285.8 671.9 286.3 672 286.8 672.1 287.3 672.1 287.8 672.2 288.3 672.3 288.8 672.4 289.4 672.4 289.9 672.5 290.4 672.6 290.9 672.6 291.4 672.7 291.9 672.8 292.4 672.8 292.9 672.9 293.4 673 293.9 673 294.4 673.1 294.9 673.2 295.4 673.2 295.9 673.3 296.4 673.3 297 673.4 297.5 673.4 298 673.5 298.5 673.5 299 673.6 299.5 673.6 300 673.7 300.5 673.7 301 673.8 301.5 673.8 302 673.9 302.5 673.9 303 673.9 303.5 674 304 674 304.6 674 305.1 674.1 305.6 674.1 306.1 674.1 306.6 674.2 307.1 674.2 307.6 674.2 308.1 674.2 308.6 674.2 309.1 674.3 309.6 674.3 310.1 674.3 310.6 674.3 311.1 674.3 311.7 674.3 312.2 674.3 312.7 674.3 313.2 674.3 313.7 674.3 314.2 674.3 314.7 674.3 315.2 674.3 315.7 674.3 316.2 674.3 316.7 674.3 317.2 674.3 317.7 674.3 318.2 674.2 318.7 674.2 319.3 674.2 319.8 674.2 320.3 674.2 320.8 674.1 321.3 674.1 321.8 674.1 322.3 674 322.8 674 323.3 674 323.8 673.9 324.3 673.9 324.8 673.9 325.3 673.8 325.8 673.8 326.3 673.7 326.9 673.7 327.4 673.6 327.9 673.6 328.4 673.5 328.9 673.5 329.4 673.4 329.9 673.4 330.4 673.3 330.9 673.3 331.4 673.2 331.9 673.2 332.4 673.1 332.9 673 333.4 673 333.9 672.9 334.5 672.8 335 672.8 335.5 672.7 336 672.6 336.5 672.6 337 672.5 337.5 672.4 338 672.4 338.5 672.3 339 672.2 339.5 672.1 340 672.1 340.5 672 341 671.9 341.5 671.8 342.1 671.7 342.6 671.7 343.1 671.6 343.6 671.5 344.1 671.4 344.6 671.3 345.1 671.3 345.6 671.2 346.1 671.1 346.6 671 347.1 670.9 347.6 670.8 348.1 670.8 348.6 670.7 349.1 670.6 349.7 670.5 350.2 670.4 350.7 670.3 351.2 670.2 351.7 670.2 352.2 670.1 352.7 670 353.2 669.9 353.7 669.8 354.2 669.7 354.7 669.6 355.2 669.6 355.7 669.5 356.2 669.4 356.8 669.3 357.3 669.2 357.8 669.2 358.3 669.1 358.8 669 359.3 668.9 359.8 668.8 360.3 668.8 360.8 668.7 361.3 668.6 361.8 668.5 362.3 668.4 362.8 668.4 363.3 668.3 363.8 668.2 364.4 668.2 364.9 668.1 365.4 668 365.9 667.9 366.4 667.9 366.9 667.8 367.4 667.7 367.9 667.7 368.4 667.6 368.9 667.6 369.4 667.5 369.9 667.4 370.4 667.4 370.9 667.3 371.4 667.3 372 667.2 372.5 667.2 373 667.1 373.5 667.1 374 667 374.5 667 375 666.9 375.5 666.9 376 666.8 376.5 666.8 377 666.8 377.5 666.7 378 666.7 378.5 666.7 379 666.6 379.6 666.6 380.1 666.6 380.6 666.5 381.1 666.5 381.6 666.5 382.1 666.5 382.6 666.5 383.1 666.4 383.6 666.4 384.1 666.4 384.6 666.4 385.1 666.4 385.6 666.4 386.1 666.4 386.6 666.4 387.2 666.4 387.7 666.4 388.2 666.4 388.7 666.4 389.2 666.4 389.7 666.4 390.2 666.4 390.7 666.4 391.2 666.4 391.7 666.4 392.2 666.4 392.7 666.5 393.2 666.5 393.7 666.5 394.3 666.5 394.8 666.5 395.3 666.6 395.8 666.6 396.3 666.6 396.8 666.7 397.3 666.7 397.8 666.7 398.3 666.8 398.8 666.8 399.3 666.8 399.8 666.9 400.3 666.9 400.8 667 401.3 667 401.9 667.1 402.4 667.1 402.9 667.2 403.4 667.2 403.9 667.3 404.4 667.3 404.9 667.4 405.4 667.4 405.9 667.5 406.4 667.5 406.9 667.6 407.4 667.7 407.9 667.7 408.4 667.8 408.9 667.9 409.5 667.9 410 668 410.5 668.1 411 668.1 411.5 668.2 412 668.3 412.5 668.4 413 668.4 413.5 668.5 414 668.6 414.5 668.7 415 668.7 415.5 668.8 416 668.9 416.5 669 417.1 669.1 417.6 669.1 418.1 669.2 418.6 669.3 419.1 669.4 419.6 669.5 420.1 669.5 420.6 669.6 421.1 669.7 421.6 669.8 422.1 669.9 422.6 670 423.1 670.1 423.6 670.1 424.1 670.2 424.7 670.3 425.2 670.4 425.7 670.5 426.2 670.6 426.7 670.6 427.2 670.7 427.7 670.8 428.2 670.9 428.7 671 429.2 671.1 429.7 671.2 430.2 671.2 430.7 671.3 431.2 671.4 431.8 671.5 432.3 671.6 432.8 671.6 433.3 671.7 433.8 671.8 434.3 671.9 434.8 672 435.3 672 435.8 672.1 436.3 672.2 436.8 672.3 437.3 672.3 437.8 672.4 438.3 672.5 438.8 672.6 439.4 672.6 439.9 672.7 440.4 672.8 440.9 672.8 441.4 672.9 441.9 673 442.4 673 442.9 673.1 443.4 673.1 443.9 673.2 444.4 673.3 444.9 673.3 445.4 673.4 445.9 673.4 446.4 673.5 447 673.5 447.5 673.6 448 673.6 448.5 673.7 449 673.7 449.5 673.8 450 673.8 450.5 673.9 451 673.9 451.5 673.9 452 674 452.5 674 453 674 453.5 674.1 454 674.1 454.6 674.1 455.1 674.1 455.6 674.2 456.1 674.2 456.6 674.2 457.1 674.2 457.6 674.2 458.1 674.3 458.6 674.3 459.1 674.3 459.6 674.3 460.1 674.3 460.6 674.3 461.1 674.3 461.6 674.3 462.2 674.3 462.7 674.3 463.2 674.3 463.7 674.3 464.2 674.3 464.7 674.3 465.2 674.3 465.7 674.3 466.2 674.3 466.7 674.2 467.2 674.2 467.7 674.2 468.2 674.2 468.7 674.2 469.2 674.1 469.8 674.1 470.3 674.1 470.8 674 471.3 674 471.8 674 472.3 673.9 472.8 673.9 473.3 673.9 473.8 673.8 474.3 673.8 474.8 673.7 475.3 673.7 475.8 673.7 476.3 673.6 476.9 673.6 477.4 673.5 477.9 673.5 478.4 673.4 478.9 673.3 479.4 673.3 479.9 673.2 480.4 673.2 480.9 673.1 481.4 673.1 481.9 673 482.4 672.9 482.9 672.9 483.4 672.8 483.9 672.7 484.5 672.7 485 672.6 485.5 672.5 486 672.4 486.5 672.4 487 672.3 487.5 672.2 488 672.2 488.5 672.1 489 672 489.5 671.9 490 671.8 490.5 671.8 491 671.7 491.5 671.6 492.1 671.5 492.6 671.4 493.1 671.4 493.6 671.3 494.1 671.2 494.6 671.1 495.1 671 495.6 670.9 496.1 670.9 496.6 670.8 497.1 670.7 497.6 670.6 498.1 670.5 498.6 670.4 499.1 670.3 499.7 670.3 500.2 670.2 500.7 670.1 501.2 670 501.7 669.9 502.2 669.8 502.7 669.8 503.2 669.7 503.7 669.6 504.2 669.5 504.7 669.4 505.2 669.3 505.7 669.3 506.2 669.2 506.7 669.1 507.3 669 507.8 668.9 508.3 668.8 508.8 668.8 509.3 668.7 509.8 668.6 510.3 668.5 510.8 668.5 511.3 668.4 511.8 668.3 512.3 668.2 512.8 668.2 513.3 668.1 513.8 668 514.4 668 514.9 667.9 515.4 667.8 515.9 667.8 516.4 667.7 516.9 667.6 517.4 667.6 517.9 667.5 518.4 667.5 518.9 667.4 519.4 667.3 519.9 667.3 520.4 667.2 520.9 667.2 521.4 667.1 522 667.1 522.5 667 523 667 523.5 666.9 524 666.9 524.5 666.9 525 666.8 525.5 666.8 526 666.7 526.5 666.7 527 666.7 527.5 666.6 528 666.6 528.5 666.6 529 666.6 529.6 666.5 530.1 666.5 530.6 666.5 531.1 666.5 531.6 666.4 532.1 666.4 532.6 666.4 533.1 666.4 533.6 666.4 534.1 666.4 534.6 666.4 535.1 666.4 535.6 666.4 536.1 666.4 536.6 666.4 537.2 666.4 537.7 666.4 538.2 666.4 538.7 666.4 539.2 666.4 539.7 666.4 540.2 666.4 540.7 666.4 541.2 666.5 541.7 666.5 542.2 666.5 542.7 666.5 543.2 666.5 543.7 666.6 544.2 666.6 544.8 666.6 545.3 666.6 545.8 666.7 546.3 666.7 546.8 666.8 547.3 666.8 547.8 666.8 548.3 666.9 548.8 666.9 549.3 667 549.8 667 550.3 667 550.8 667.1 551.3 667.1 551.8 667.2 552.4 667.2 552.9 667.3 553.4 667.4 553.9 667.4 554.4 667.5 554.9 667.5 555.4 667.6 555.9 667.7 556.4 667.7 556.9 667.8 557.4 667.8 557.9 667.9 558.4 668 558.9 668.1 559.5 668.1 560 668.2 560.5 668.3 561 668.3 561.5 668.4 562 668.5 562.5 668.6 563 668.6 563.5 668.7 564 668.8 564.5 668.9 565 669 565.5 669 566 669.1 566.5 669.2 567.1 669.3 567.6 669.4 568.1 669.4 568.6 669.5 569.1 669.6 569.6 669.7 570.1 669.8 570.6 669.9 571.1 669.9 571.6 670 572.1 670.1 572.6 670.2 573.1 670.3 573.6 670.4 574.1 670.5 574.7 670.5 575.2 670.6 575.7 670.7 576.2 670.8 576.7 670.9 577.2 671 577.7 671 578.2 671.1 578.7 671.2 579.2 671.3 579.7 671.4 580.2 671.5 580.7 671.5 581.2 671.6 581.7 671.7 582.3 671.8 582.8 671.9 583.3 671.9 583.8 672 584.3 672.1 584.8 672.2 585.3 672.2 585.8 672.3 586.3 672.4 586.8 672.5 587.3 672.5 587.8 672.6 588.3 672.7 588.8 672.7 589.3 672.8 589.9 672.9 590.4 672.9 590.9 673 591.4 673.1 591.9 673.1 592.4 673.2 592.9 673.3 593.4 673.3 593.9 673.4 594.4 673.4 594.9 673.5 595.4 673.5 595.9 673.6 596.4 673.6 597 673.7 597.5 673.7 598 673.8 598.5 673.8 599 673.8 599.5 673.9 600 673.9 600.5 674 601 674 601.5 674 602 674.1 602.5 674.1 603 674.1 603.5 674.1 604 674.2 604.6 674.2 605.1 674.2 605.6 674.2 606.1 674.2 606.6 674.3 607.1 674.3 607.6 674.3 608.1 674.3 608.6 674.3 609.1 674.3 609.6 674.3 610.1 674.3 610.6 674.3 611.1 674.3 611.6 674.3 612.2 674.3 612.7 674.3 613.2 674.3 613.7 674.3 614.2 674.3 614.7 674.3 615.2 674.2 615.7 674.2 616.2 674.2 616.7 674.2 617.2 674.2 617.7 674.1 618.2 674.1 618.7 674.1 619.2 674.1 619.8 674 620.3 674 620.8 674 621.3 673.9 621.8 673.9 622.3 673.8 622.8 673.8 623.3 673.8 623.8 673.7 624.3 673.7 624.8 673.6 625.3 673.6 625.8 673.5 626.3 673.5 626.8 673.4 627.4 673.4 627.9 673.3 628.4 673.2 628.9 673.2 629.4 673.1 629.9 673.1 630.4 673 630.9 672.9 631.4 672.9 631.9 672.8 632.4 672.7 632.9 672.7 633.4 672.6 633.9 672.5 634.4 672.5 635 672.4 635.5 672.3 636 672.2 636.5 672.2 637 672.1 637.5 672 638 671.9 638.5 671.9 639 671.8 639.5 671.7 640 671.6 640.5 671.5 641 671.5 641.5 671.4 642.1 671.3 642.6 671.2 643.1 671.1 643.6 671 644.1 671 644.6 670.9 645.1 670.8 645.6 670.7 646.1 670.6 646.6 670.5 647.1 670.4 647.6 670.4 648.1 670.3 648.6 670.2 649.1 670.1 649.7 670 650.2 669.9 650.7 669.9 651.2 669.8 651.7 669.7 652.2 669.6 652.7 669.5 653.2 669.4 653.7 669.4 654.2 669.3 654.7 669.2 655.2 669.1 655.7 669 656.2 668.9 656.7 668.9 657.3 668.8 657.8 668.7 658.3 668.6 658.8 668.6 659.3 668.5 659.8 668.4 660.3 668.3 660.8 668.3 661.3 668.2 661.8 668.1 662.3 668 662.8 668 663.3 667.9 663.8 667.8 664.3 667.8 664.9 667.7 665.4 667.6 665.9 667.6 666.4 667.5 666.9 667.5 667.4 667.4 667.9 667.4 668.4 667.3 668.9 667.2 669.4 667.2 669.9 667.1 670.4 667.1 670.9 667 671.4 667 671.9 666.9 672.5 666.9 673 666.9 673.5 666.8 674 666.8 674.5 666.7 675 666.7 675.5 666.7 676 666.6 676.5 666.6 677 666.6 677.5 666.6 678 666.5 678.5 666.5 679 666.5 679.6 666.5 680.1 666.5 680.6 666.4 681.1 666.4 681.6 666.4 682.1 666.4 682.6 666.4 683.1 666.4 683.6 666.4 684.1 666.4 684.6 666.4 685.1 666.4 685.6 666.4 686.1 666.4 686.6 666.4 687.2 666.4 687.7 666.4 688.2 666.4 688.7 666.4 689.2 666.4 689.7 666.4 690.2 666.5 690.7 666.5 691.2 666.5 691.7 666.5 692.2 666.6 692.7 666.6 693.2 666.6 693.7 666.6 694.2 666.7 694.8 666.7 695.3 666.7 695.8 666.8 696.3 666.8 696.8 666.9 697.3 666.9 697.8 666.9 698.3 667 698.8 667 699.3 667.1 699.8 667.1 700.3 667.2 700.8 667.2 701.3 667.3 701.8 667.3 702.4 667.4 702.9 667.5 703.4 667.5 703.9 667.6 704.4 667.6 704.9 667.7 705.4 667.8 705.9 667.8 706.4 667.9 706.9 668 707.4 668 707.9 668.1 708.4 668.2 708.9 668.3 709.4 668.3 710 668.4 710.5 668.5 711 668.5 711.5 668.6 712 668.7 712.5 668.8 713 668.9 713.5 668.9 714 669 714.5 669.1 715 669.2 715.5 669.3 716 669.3 716.5 669.4 717.1 669.5 717.6 669.6 718.1 669.7 718.6 669.8 719.1 669.8 719.6 669.9 720.1 670 720.6 670.1 721.1 670.2 721.6 670.3 722.1 670.4 722.6 670.4 723.1 670.5 723.6 670.6 724.1 670.7 724.7 670.8 725.2 670.9 725.7 670.9 726.2 671 726.7 671.1 727.2 671.2 727.7 671.3 728.2 671.4 728.7 671.4 729.2 671.5 729.7 671.6 730.2 671.7 730.7 671.8 731.2 671.8 731.7 671.9 732.3 672 732.8 672.1 733.3 672.2 733.8 672.2 734.3 672.3 734.8 672.4 735.3 672.5 735.8 672.5 736.3 672.6 736.8 672.7 737.3 672.7 737.8 672.8 738.3 672.9 738.8 672.9 739.3 673 739.9 673.1 740.4 673.1 740.9 673.2 741.4 673.2 741.9 673.3 742.4 673.4 742.9 673.4 743.4 673.5 743.9 673.5 744.4 673.6 744.9 673.6 745.4 673.7 745.9 673.7 746.4 673.8 746.9 673.8 747.5 673.8 748 673.9 748.5 673.9 749 674 749.5 674 750 674 750.5 674.1 751 674.1 751.5 674.1 752 674.1 752.5 674.2 753 674.2 753.5 674.2 754 674.2 754.5 674.2 755.1 674.3 755.6 674.3 756.1 674.3 756.6 674.3 757.1 674.3 757.6 674.3 758.1 674.3 758.6 674.3 759.1 674.3 759.6 674.3 760.1 674.3 760.6 674.3 761.1 674.3 761.6 674.3 762.2 674.3 762.7 674.3 763.2 674.3 763.7 674.2 764.2 674.2 764.7 674.2 765.2 674.2 765.7 674.2 766.2 674.1 766.7 674.1 767.2 674.1 767.7 674.1 768.2 674 768.7 674 769.2 674 769.8 673.9 770.3 673.9 770.8 673.9 771.3 673.8 771.8 673.8 772.3 673.7 772.8 673.7 773.3 673.6 773.8 673.6 774.3 673.5 774.8 673.5 775.3 673.4 775.8 673.4 776.3 673.3 776.8 673.3 777.4 673.2 777.9 673.1 778.4 673.1 778.9 673 779.4 673 779.9 672.9 780.4 672.8 780.9 672.8 781.4 672.7 781.9 672.6 782.4 672.5 782.9 672.5 783.4 672.4 783.9 672.3 784.4 672.3 785 672.2 785.5 672.1 786 672 786.5 672 787 671.9 787.5 671.8 788 671.7 788.5 671.6 789 671.6 789.5 671.5 790 671.4 790.5 671.3 791 671.2 791.5 671.1 792 671.1 792.6 671 793.1 670.9 793.6 670.8 794.1 670.7 794.6 670.6 795.1 670.6 795.6 670.5 796.1 670.4 796.6 670.3 797.1 670.2 797.6 670.1 798.1 670 798.6 670 799.1 669.9 799.7 669.8 800.2 669.7 800.7 669.6 801.2 669.5 801.7 669.5 802.2 669.4 802.7 669.3 803.2 669.2 803.7 669.1 804.2 669 804.7 669 805.2 668.9 805.7 668.8 806.2 668.7 806.7 668.6 807.3 668.6 807.8 668.5 808.3 668.4 808.8 668.3 809.3 668.3 809.8 668.2 810.3 668.1 810.8 668.1 811.3 668 811.8 667.9 812.3 667.9 812.8 667.8 813.3 667.7 813.8 667.7 814.3 667.6 814.9 667.5 815.4 667.5 815.9 667.4 816.4 667.4 816.9 667.3 817.4 667.3 817.9 667.2 818.4 667.1 818.9 667.1 819.4 667.1 819.9 667 820.4 667 820.9 666.9 821.4 666.9 821.9 666.8 822.5 666.8 823 666.8 823.5 666.7 824 666.7 824.5 666.7 825 666.6 825.5 666.6 826 666.6 826.5 666.5 827 666.5 827.5 666.5 828 666.5 828.5 666.5 829 666.4 829.5 666.4 830.1 666.4 830.6 666.4 831.1 666.4 831.6 666.4 832.1 666.4 832.6 666.4 833.1 666.4 833.6 666.4 834.1 666.4 834.6 666.4 835.1 666.4 835.6 666.4 836.1 666.4 836.6 666.4 837.1 666.4" stroke="#7C1B80" stroke-width="5.5" stroke-dasharray="19.4 4.7 9.9 4.7"/>
<path d="M127.7 710.1 128.2 704.4 128.7 698.7 129.2 693 129.7 687.4 130.2 682 130.7 676.6 131.2 671.4 131.8 666.3 132.3 661.4 132.8 656.7 133.3 652.2 133.8 648 134.3 644 134.8 640.3 135.3 636.9 135.8 633.8 136.3 631 136.8 628.6 137.3 626.4 137.8 624.7 138.3 623.2 138.8 622.1 139.4 621.4 139.9 621.1 140.4 621.1 140.9 621.5 141.4 622.3 141.9 623.4 142.4 624.9 142.9 626.7 143.4 628.9 143.9 631.4 144.4 634.2 144.9 637.4 145.4 640.8 145.9 644.6 146.4 648.6 147 652.8 147.5 657.3 148 662 148.5 666.9 149 672 149.5 677.3 150 682.7 150.5 688.2 151 693.8 151.5 699.4 152 705.1 152.5 710.8 153 716.6 153.5 722.2 154.1 727.9 154.6 733.5 155.1 738.9 155.6 744.3 156.1 749.5 156.6 754.5 157.1 759.4 157.6 764.1 158.1 768.5 158.6 772.7 159.1 776.6 159.6 780.3 160.1 783.7 160.6 786.7 161.1 789.5 161.7 791.9 162.2 794 162.7 795.7 163.2 797.1 163.7 798.1 164.2 798.8 164.7 799.1 165.2 799 165.7 798.6 166.2 797.8 166.7 796.6 167.2 795.1 167.7 793.2 168.2 791 168.7 788.4 169.3 785.6 169.8 782.4 170.3 778.9 170.8 775.1 171.3 771.1 171.8 766.8 172.3 762.3 172.8 757.5 173.3 752.6 173.8 747.5 174.3 742.2 174.8 736.8 175.3 731.3 175.8 725.7 176.3 720 176.9 714.3 177.4 708.6 177.9 702.9 178.4 697.2 178.9 691.6 179.4 686 179.9 680.5 180.4 675.2 180.9 670 181.4 665 181.9 660.2 182.4 655.5 182.9 651.1 183.4 647 183.9 643.1 184.5 639.4 185 636.1 185.5 633.1 186 630.4 186.5 628 187 625.9 187.5 624.2 188 622.9 188.5 621.9 189 621.3 189.5 621.1 190 621.2 190.5 621.7 191 622.5 191.6 623.7 192.1 625.3 192.6 627.2 193.1 629.5 193.6 632.1 194.1 635 194.6 638.2 195.1 641.8 195.6 645.6 196.1 649.6 196.6 654 197.1 658.5 197.6 663.3 198.1 668.3 198.6 673.4 199.2 678.7 199.7 684.1 200.2 689.6 200.7 695.2 201.2 700.9 201.7 706.6 202.2 712.3 202.7 718 203.2 723.7 203.7 729.4 204.2 734.9 204.7 740.3 205.2 745.7 205.7 750.8 206.2 755.8 206.8 760.6 207.3 765.2 207.8 769.6 208.3 773.7 208.8 777.6 209.3 781.2 209.8 784.5 210.3 787.5 210.8 790.2 211.3 792.5 211.8 794.5 212.3 796.1 212.8 797.4 213.3 798.4 213.8 798.9 214.4 799.1 214.9 799 215.4 798.4 215.9 797.5 216.4 796.3 216.9 794.6 217.4 792.7 217.9 790.4 218.4 787.7 218.9 784.8 219.4 781.5 219.9 777.9 220.4 774.1 220.9 770 221.4 765.6 222 761 222.5 756.2 223 751.3 223.5 746.1 224 740.8 224.5 735.4 225 729.8 225.5 724.2 226 718.5 226.5 712.8 227 707.1 227.5 701.4 228 695.7 228.5 690.1 229 684.6 229.6 679.1 230.1 673.8 230.6 668.7 231.1 663.7 231.6 658.9 232.1 654.3 232.6 650 233.1 645.9 233.6 642.1 234.1 638.5 234.6 635.3 235.1 632.3 235.6 629.7 236.1 627.4 236.7 625.5 237.2 623.9 237.7 622.6 238.2 621.7 238.7 621.2 239.2 621.1 239.7 621.3 240.2 621.9 240.7 622.8 241.2 624.1 241.7 625.8 242.2 627.8 242.7 630.1 243.2 632.8 243.7 635.8 244.3 639.1 244.8 642.7 245.3 646.6 245.8 650.8 246.3 655.1 246.8 659.8 247.3 664.6 247.8 669.6 248.3 674.8 248.8 680.1 249.3 685.5 249.8 691.1 250.3 696.7 250.8 702.4 251.3 708.1 251.9 713.8 252.4 719.5 252.9 725.2 253.4 730.8 253.9 736.3 254.4 741.7 254.9 747 255.4 752.1 255.9 757.1 256.4 761.9 256.9 766.4 257.4 770.7 257.9 774.8 258.4 778.6 258.9 782.1 259.5 785.3 260 788.2 260.5 790.8 261 793 261.5 794.9 262 796.5 262.5 797.7 263 798.5 263.5 799 264 799.1 264.5 798.8 265 798.2 265.5 797.2 266 795.9 266.5 794.2 267.1 792.1 267.6 789.7 268.1 787 268.6 783.9 269.1 780.6 269.6 776.9 270.1 773 270.6 768.9 271.1 764.4 271.6 759.8 272.1 755 272.6 749.9 273.1 744.7 273.6 739.4 274.2 733.9 274.7 728.4 275.2 722.7 275.7 717 276.2 711.3 276.7 705.6 277.2 699.9 277.7 694.2 278.2 688.6 278.7 683.1 279.2 677.7 279.7 672.5 280.2 667.4 280.7 662.4 281.2 657.7 281.8 653.2 282.3 648.9 282.8 644.9 283.3 641.1 283.8 637.6 284.3 634.5 284.8 631.6 285.3 629.1 285.8 626.9 286.3 625 286.8 623.5 287.3 622.3 287.8 621.6 288.3 621.1 288.8 621.1 289.4 621.4 289.9 622.1 290.4 623.1 290.9 624.5 291.4 626.3 291.9 628.4 292.4 630.8 292.9 633.6 293.4 636.7 293.9 640 294.4 643.7 294.9 647.7 295.4 651.9 295.9 656.3 296.4 661 297 665.9 297.5 670.9 298 676.1 298.5 681.5 299 687 299.5 692.5 300 698.2 300.5 703.9 301 709.6 301.5 715.3 302 721 302.5 726.7 303 732.3 303.5 737.8 304 743.1 304.6 748.4 305.1 753.5 305.6 758.4 306.1 763.1 306.6 767.6 307.1 771.8 307.6 775.8 308.1 779.5 308.6 783 309.1 786.1 309.6 788.9 310.1 791.4 310.6 793.6 311.1 795.4 311.7 796.9 312.2 798 312.7 798.7 313.2 799.1 313.7 799.1 314.2 798.7 314.7 798 315.2 796.9 315.7 795.5 316.2 793.7 316.7 791.5 317.2 789 317.7 786.2 318.2 783.1 318.7 779.7 319.3 776 319.8 772 320.3 767.7 320.8 763.2 321.3 758.6 321.8 753.7 322.3 748.6 322.8 743.3 323.3 738 323.8 732.5 324.3 726.9 324.8 721.2 325.3 715.5 325.8 709.8 326.3 704.1 326.9 698.4 327.4 692.8 327.9 687.2 328.4 681.7 328.9 676.3 329.4 671.1 329.9 666.1 330.4 661.2 330.9 656.5 331.4 652 331.9 647.8 332.4 643.9 332.9 640.2 333.4 636.8 333.9 633.7 334.5 630.9 335 628.5 335.5 626.3 336 624.6 336.5 623.2 337 622.1 337.5 621.4 338 621.1 338.5 621.1 339 621.5 339.5 622.3 340 623.4 340.5 624.9 341 626.8 341.5 629 342.1 631.5 342.6 634.4 343.1 637.5 343.6 641 344.1 644.7 344.6 648.7 345.1 653 345.6 657.5 346.1 662.3 346.6 667.2 347.1 672.3 347.6 677.5 348.1 682.9 348.6 688.4 349.1 694 349.7 699.7 350.2 705.4 350.7 711.1 351.2 716.8 351.7 722.5 352.2 728.1 352.7 733.7 353.2 739.2 353.7 744.5 354.2 749.7 354.7 754.8 355.2 759.6 355.7 764.3 356.2 768.7 356.8 772.9 357.3 776.8 357.8 780.5 358.3 783.8 358.8 786.9 359.3 789.6 359.8 792 360.3 794.1 360.8 795.8 361.3 797.2 361.8 798.2 362.3 798.8 362.8 799.1 363.3 799 363.8 798.6 364.4 797.7 364.9 796.6 365.4 795 365.9 793.1 366.4 790.9 366.9 788.3 367.4 785.4 367.9 782.2 368.4 778.7 368.9 774.9 369.4 770.9 369.9 766.6 370.4 762 370.9 757.3 371.4 752.3 372 747.2 372.5 741.9 373 736.5 373.5 731 374 725.4 374.5 719.8 375 714 375.5 708.3 376 702.6 376.5 696.9 377 691.3 377.5 685.7 378 680.3 378.5 675 379 669.8 379.6 664.8 380.1 659.9 380.6 655.3 381.1 650.9 381.6 646.8 382.1 642.9 382.6 639.3 383.1 635.9 383.6 632.9 384.1 630.2 384.6 627.9 385.1 625.8 385.6 624.2 386.1 622.8 386.6 621.9 387.2 621.3 387.7 621.1 388.2 621.2 388.7 621.7 389.2 622.6 389.7 623.8 390.2 625.4 390.7 627.3 391.2 629.6 391.7 632.2 392.2 635.2 392.7 638.4 393.2 641.9 393.7 645.8 394.3 649.8 394.8 654.2 395.3 658.7 395.8 663.5 396.3 668.5 396.8 673.6 397.3 678.9 397.8 684.4 398.3 689.9 398.8 695.5 399.3 701.2 399.8 706.9 400.3 712.6 400.8 718.3 401.3 724 401.9 729.6 402.4 735.1 402.9 740.6 403.4 745.9 403.9 751.1 404.4 756.1 404.9 760.9 405.4 765.4 405.9 769.8 406.4 773.9 406.9 777.8 407.4 781.4 407.9 784.6 408.4 787.6 408.9 790.3 409.5 792.6 410 794.6 410.5 796.2 411 797.5 411.5 798.4 412 798.9 412.5 799.1 413 798.9 413.5 798.4 414 797.5 414.5 796.2 415 794.6 415.5 792.6 416 790.2 416.5 787.6 417.1 784.6 417.6 781.3 418.1 777.8 418.6 773.9 419.1 769.8 419.6 765.4 420.1 760.8 420.6 756 421.1 751 421.6 745.9 422.1 740.5 422.6 735.1 423.1 729.6 423.6 723.9 424.1 718.3 424.7 712.6 425.2 706.8 425.7 701.1 426.2 695.4 426.7 689.8 427.2 684.3 427.7 678.9 428.2 673.6 428.7 668.5 429.2 663.5 429.7 658.7 430.2 654.1 430.7 649.8 431.2 645.7 431.8 641.9 432.3 638.4 432.8 635.1 433.3 632.2 433.8 629.6 434.3 627.3 434.8 625.4 435.3 623.8 435.8 622.6 436.3 621.7 436.8 621.2 437.3 621.1 437.8 621.3 438.3 621.9 438.8 622.9 439.4 624.2 439.9 625.9 440.4 627.9 440.9 630.3 441.4 633 441.9 636 442.4 639.3 442.9 642.9 443.4 646.8 443.9 651 444.4 655.4 444.9 660 445.4 664.8 445.9 669.8 446.4 675 447 680.3 447.5 685.8 448 691.3 448.5 697 449 702.7 449.5 708.4 450 714.1 450.5 719.8 451 725.5 451.5 731.1 452 736.6 452.5 742 453 747.3 453.5 752.4 454 757.3 454.6 762.1 455.1 766.6 455.6 770.9 456.1 775 456.6 778.7 457.1 782.2 457.6 785.4 458.1 788.3 458.6 790.9 459.1 793.1 459.6 795 460.1 796.6 460.6 797.7 461.1 798.6 461.6 799 462.2 799.1 462.7 798.8 463.2 798.2 463.7 797.2 464.2 795.8 464.7 794.1 465.2 792 465.7 789.6 466.2 786.8 466.7 783.8 467.2 780.4 467.7 776.8 468.2 772.8 468.7 768.7 469.2 764.2 469.8 759.6 470.3 754.7 470.8 749.7 471.3 744.5 471.8 739.1 472.3 733.7 472.8 728.1 473.3 722.5 473.8 716.8 474.3 711.1 474.8 705.3 475.3 699.6 475.8 694 476.3 688.4 476.9 682.9 477.4 677.5 477.9 672.2 478.4 667.1 478.9 662.2 479.4 657.5 479.9 653 480.4 648.7 480.9 644.7 481.4 641 481.9 637.5 482.4 634.3 482.9 631.5 483.4 629 483.9 626.8 484.5 624.9 485 623.4 485.5 622.3 486 621.5 486.5 621.1 487 621.1 487.5 621.4 488 622.1 488.5 623.2 489 624.6 489.5 626.4 490 628.5 490.5 630.9 491 633.7 491.5 636.8 492.1 640.2 492.6 643.9 493.1 647.9 493.6 652.1 494.1 656.5 494.6 661.2 495.1 666.1 495.6 671.2 496.1 676.4 496.6 681.8 497.1 687.2 497.6 692.8 498.1 698.5 498.6 704.2 499.1 709.9 499.7 715.6 500.2 721.3 500.7 726.9 501.2 732.5 501.7 738 502.2 743.4 502.7 748.6 503.2 753.7 503.7 758.6 504.2 763.3 504.7 767.8 505.2 772 505.7 776 506.2 779.7 506.7 783.1 507.3 786.2 507.8 789 508.3 791.5 508.8 793.7 509.3 795.5 509.8 796.9 510.3 798 510.8 798.7 511.3 799.1 511.8 799.1 512.3 798.7 512.8 797.9 513.3 796.8 513.8 795.4 514.4 793.6 514.9 791.4 515.4 788.9 515.9 786.1 516.4 782.9 516.9 779.5 517.4 775.8 517.9 771.8 518.4 767.5 518.9 763 519.4 758.3 519.9 753.4 520.4 748.3 520.9 743.1 521.4 737.7 522 732.2 522.5 726.6 523 721 523.5 715.3 524 709.6 524.5 703.8 525 698.1 525.5 692.5 526 686.9 526.5 681.5 527 676.1 527.5 670.9 528 665.8 528.5 661 529 656.3 529.6 651.8 530.1 647.6 530.6 643.7 531.1 640 531.6 636.6 532.1 633.6 532.6 630.8 533.1 628.4 533.6 626.3 534.1 624.5 534.6 623.1 535.1 622.1 535.6 621.4 536.1 621.1 536.6 621.1 537.2 621.6 537.7 622.4 538.2 623.5 538.7 625 539.2 626.9 539.7 629.1 540.2 631.6 540.7 634.5 541.2 637.7 541.7 641.1 542.2 644.9 542.7 648.9 543.2 653.2 543.7 657.7 544.2 662.5 544.8 667.4 545.3 672.5 545.8 677.8 546.3 683.2 546.8 688.7 547.3 694.3 547.8 699.9 548.3 705.6 548.8 711.4 549.3 717.1 549.8 722.8 550.3 728.4 550.8 734 551.3 739.4 551.8 744.8 552.4 750 552.9 755 553.4 759.8 553.9 764.5 554.4 768.9 554.9 773.1 555.4 777 555.9 780.6 556.4 784 556.9 787 557.4 789.7 557.9 792.1 558.4 794.2 558.9 795.9 559.5 797.2 560 798.2 560.5 798.9 561 799.1 561.5 799 562 798.5 562.5 797.7 563 796.5 563.5 794.9 564 793 564.5 790.8 565 788.2 565.5 785.3 566 782.1 566.5 778.6 567.1 774.8 567.6 770.7 568.1 766.4 568.6 761.8 569.1 757.1 569.6 752.1 570.1 747 570.6 741.7 571.1 736.3 571.6 730.8 572.1 725.2 572.6 719.5 573.1 713.8 573.6 708.1 574.1 702.3 574.7 696.7 575.2 691 575.7 685.5 576.2 680 576.7 674.7 577.2 669.5 577.7 664.5 578.2 659.7 578.7 655.1 579.2 650.7 579.7 646.6 580.2 642.7 580.7 639.1 581.2 635.8 581.7 632.8 582.3 630.1 582.8 627.8 583.3 625.8 583.8 624.1 584.3 622.8 584.8 621.9 585.3 621.3 585.8 621.1 586.3 621.2 586.8 621.7 587.3 622.6 587.8 623.9 588.3 625.5 588.8 627.4 589.3 629.7 589.9 632.3 590.4 635.3 590.9 638.6 591.4 642.1 591.9 645.9 592.4 650 592.9 654.4 593.4 659 593.9 663.8 594.4 668.7 594.9 673.9 595.4 679.2 595.9 684.6 596.4 690.1 597 695.8 597.5 701.4 598 707.1 598.5 712.9 599 718.6 599.5 724.2 600 729.9 600.5 735.4 601 740.8 601.5 746.1 602 751.3 602.5 756.3 603 761.1 603.5 765.7 604 770 604.6 774.1 605.1 778 605.6 781.5 606.1 784.8 606.6 787.7 607.1 790.4 607.6 792.7 608.1 794.7 608.6 796.3 609.1 797.5 609.6 798.4 610.1 799 610.6 799.1 611.1 798.9 611.6 798.3 612.2 797.4 612.7 796.1 613.2 794.5 613.7 792.5 614.2 790.1 614.7 787.5 615.2 784.5 615.7 781.2 616.2 777.6 616.7 773.7 617.2 769.6 617.7 765.2 618.2 760.6 618.7 755.8 619.2 750.8 619.8 745.6 620.3 740.3 620.8 734.9 621.3 729.3 621.8 723.7 622.3 718 622.8 712.3 623.3 706.6 623.8 700.9 624.3 695.2 624.8 689.6 625.3 684.1 625.8 678.6 626.3 673.4 626.8 668.2 627.4 663.3 627.9 658.5 628.4 653.9 628.9 649.6 629.4 645.5 629.9 641.7 630.4 638.2 630.9 635 631.4 632.1 631.9 629.5 632.4 627.2 632.9 625.3 633.4 623.7 633.9 622.5 634.4 621.7 635 621.2 635.5 621.1 636 621.3 636.5 621.9 637 622.9 637.5 624.3 638 625.9 638.5 628 639 630.4 639.5 633.1 640 636.1 640.5 639.5 641 643.1 641.5 647 642.1 651.2 642.6 655.6 643.1 660.2 643.6 665 644.1 670.1 644.6 675.3 645.1 680.6 645.6 686 646.1 691.6 646.6 697.2 647.1 702.9 647.6 708.6 648.1 714.4 648.6 720.1 649.1 725.7 649.7 731.3 650.2 736.8 650.7 742.2 651.2 747.5 651.7 752.6 652.2 757.6 652.7 762.3 653.2 766.8 653.7 771.1 654.2 775.1 654.7 778.9 655.2 782.4 655.7 785.6 656.2 788.5 656.7 791 657.3 793.2 657.8 795.1 658.3 796.6 658.8 797.8 659.3 798.6 659.8 799 660.3 799.1 660.8 798.8 661.3 798.1 661.8 797.1 662.3 795.7 662.8 794 663.3 791.9 663.8 789.5 664.3 786.7 664.9 783.6 665.4 780.3 665.9 776.6 666.4 772.7 666.9 768.5 667.4 764 667.9 759.4 668.4 754.5 668.9 749.4 669.4 744.2 669.9 738.9 670.4 733.4 670.9 727.8 671.4 722.2 671.9 716.5 672.5 710.8 673 705.1 673.5 699.4 674 693.7 674.5 688.1 675 682.6 675.5 677.2 676 672 676.5 666.9 677 662 677.5 657.3 678 652.8 678.5 648.5 679 644.5 679.6 640.8 680.1 637.3 680.6 634.2 681.1 631.4 681.6 628.9 682.1 626.7 682.6 624.9 683.1 623.4 683.6 622.3 684.1 621.5 684.6 621.1 685.1 621.1 685.6 621.4 686.1 622.2 686.6 623.2 687.2 624.7 687.7 626.5 688.2 628.6 688.7 631.1 689.2 633.9 689.7 637 690.2 640.4 690.7 644.1 691.2 648.1 691.7 652.3 692.2 656.8 692.7 661.4 693.2 666.3 693.7 671.4 694.2 676.6 694.8 682 695.3 687.5 695.8 693.1 696.3 698.7 696.8 704.4 697.3 710.1 697.8 715.9 698.3 721.5 698.8 727.2 699.3 732.8 699.8 738.3 700.3 743.6 700.8 748.9 701.3 753.9 701.8 758.8 702.4 763.5 702.9 768 703.4 772.2 703.9 776.2 704.4 779.9 704.9 783.3 705.4 786.4 705.9 789.2 706.4 791.6 706.9 793.8 707.4 795.5 707.9 797 708.4 798 708.9 798.7 709.4 799.1 710 799.1 710.5 798.7 711 797.9 711.5 796.8 712 795.3 712.5 793.5 713 791.3 713.5 788.8 714 785.9 714.5 782.8 715 779.3 715.5 775.6 716 771.6 716.5 767.3 717.1 762.8 717.6 758.1 718.1 753.2 718.6 748.1 719.1 742.8 719.6 737.5 720.1 732 720.6 726.4 721.1 720.7 721.6 715 722.1 709.3 722.6 703.6 723.1 697.9 723.6 692.2 724.1 686.7 724.7 681.2 725.2 675.9 725.7 670.6 726.2 665.6 726.7 660.7 727.2 656.1 727.7 651.6 728.2 647.5 728.7 643.5 729.2 639.9 729.7 636.5 730.2 633.4 730.7 630.7 731.2 628.3 731.7 626.2 732.3 624.4 732.8 623 733.3 622 733.8 621.4 734.3 621.1 734.8 621.1 735.3 621.6 735.8 622.4 736.3 623.6 736.8 625.1 737.3 627 737.8 629.2 738.3 631.8 738.8 634.6 739.3 637.8 739.9 641.3 740.4 645.1 740.9 649.1 741.4 653.4 741.9 658 742.4 662.7 742.9 667.6 743.4 672.8 743.9 678 744.4 683.4 744.9 688.9 745.4 694.5 745.9 700.2 746.4 705.9 746.9 711.6 747.5 717.3 748 723 748.5 728.7 749 734.2 749.5 739.7 750 745 750.5 750.2 751 755.2 751.5 760.1 752 764.7 752.5 769.1 753 773.3 753.5 777.2 754 780.8 754.5 784.1 755.1 787.1 755.6 789.8 756.1 792.2 756.6 794.3 757.1 795.9 757.6 797.3 758.1 798.3 758.6 798.9 759.1 799.1 759.6 799 760.1 798.5 760.6 797.6 761.1 796.4 761.6 794.9 762.2 792.9 762.7 790.7 763.2 788.1 763.7 785.1 764.2 781.9 764.7 778.4 765.2 774.6 765.7 770.5 766.2 766.2 766.7 761.6 767.2 756.8 767.7 751.9 768.2 746.7 768.7 741.5 769.2 736 769.8 730.5 770.3 724.9 770.8 719.2 771.3 713.5 771.8 707.8 772.3 702.1 772.8 696.4 773.3 690.8 773.8 685.2 774.3 679.8 774.8 674.5 775.3 669.3 775.8 664.3 776.3 659.5 776.8 654.9 777.4 650.5 777.9 646.4 778.4 642.5 778.9 638.9 779.4 635.7 779.9 632.7 780.4 630 780.9 627.7 781.4 625.7 781.9 624 782.4 622.7 782.9 621.8 783.4 621.3 783.9 621.1 784.4 621.2 785 621.8 785.5 622.7 786 623.9 786.5 625.6 787 627.5 787.5 629.8 788 632.5 788.5 635.4 789 638.7 789.5 642.3 790 646.1 790.5 650.2 791 654.6 791.5 659.2 792 664 792.6 669 793.1 674.1 793.6 679.4 794.1 684.9 794.6 690.4 795.1 696 795.6 701.7 796.1 707.4 796.6 713.1 797.1 718.8 797.6 724.5 798.1 730.1 798.6 735.7 799.1 741.1 799.7 746.4 800.2 751.5 800.7 756.5 801.2 761.3 801.7 765.9 802.2 770.2 802.7 774.3 803.2 778.1 803.7 781.7 804.2 784.9 804.7 787.9 805.2 790.5 805.7 792.8 806.2 794.7 806.7 796.3 807.3 797.6 807.8 798.5 808.3 799 808.8 799.1 809.3 798.9 809.8 798.3 810.3 797.4 810.8 796.1 811.3 794.4 811.8 792.4 812.3 790 812.8 787.3 813.3 784.3 813.8 781 814.3 777.4 814.9 773.5 815.4 769.4 815.9 765 816.4 760.4 816.9 755.6 817.4 750.5 817.9 745.4 818.4 740 818.9 734.6 819.4 729 819.9 723.4 820.4 717.7 820.9 712 821.4 706.3 821.9 700.6 822.5 694.9 823 689.3 823.5 683.8 824 678.4 824.5 673.1 825 668 825.5 663 826 658.3 826.5 653.7 827 649.4 827.5 645.4 828 641.6 828.5 638.1 829 634.8 829.5 631.9 830.1 629.4 830.6 627.1 831.1 625.2 831.6 623.7 832.1 622.5 832.6 621.6 833.1 621.2 833.6 621.1 834.1 621.3 834.6 622 835.1 623 835.6 624.3 836.1 626 836.6 628.1 837.1 630.5" stroke="#ECB70C" stroke-width="3.6"/>
<path d="M127.7 710.1 128.2 704.4 128.7 698.7 129.2 693 129.7 687.4 130.2 682 130.7 676.6 131.2 671.4 131.8 666.3 132.3 661.4 132.8 656.7 133.3 652.2 133.8 648 134.3 644 134.8 640.3 135.3 636.9 135.8 633.8 136.3 631 136.8 628.6 137.3 626.4 137.8 624.7 138.3 623.2 138.8 622.1 139.4 621.4 139.9 621.1 140.4 621.1 140.9 621.5 141.4 622.3 141.9 623.4 142.4 624.9 142.9 626.7 143.4 628.9 143.9 631.4 144.4 634.2 144.9 637.4 145.4 640.8 145.9 644.6 146.4 648.6 147 652.8 147.5 657.3 148 662 148.5 666.9 149 672 149.5 677.3 150 682.7 150.5 688.2 151 693.8 151.5 699.4 152 705.1 152.5 710.8 153 716.6 153.5 722.2 154.1 727.9 154.6 733.5 155.1 738.9 155.6 744.3 156.1 749.5 156.6 754.5 157.1 759.4 157.6 764.1 158.1 768.5 158.6 772.7 159.1 776.6 159.6 780.3 160.1 783.7 160.6 786.7 161.1 789.5 161.7 791.9 162.2 794 162.7 795.7 163.2 797.1 163.7 798.1 164.2 798.8 164.7 799.1 165.2 799 165.7 798.6 166.2 797.8 166.7 796.6 167.2 795.1 167.7 793.2 168.2 791 168.7 788.4 169.3 785.6 169.8 782.4 170.3 778.9 170.8 775.1 171.3 771.1 171.8 766.8 172.3 762.3 172.8 757.5 173.3 752.6 173.8 747.5 174.3 742.2 174.8 736.8 175.3 731.3 175.8 725.7 176.3 720 176.9 714.3 177.4 708.6 177.9 702.9 178.4 697.2 178.9 691.6 179.4 686 179.9 680.5 180.4 675.2 180.9 670 181.4 665 181.9 660.2 182.4 655.5 182.9 651.1 183.4 647 183.9 643.1 184.5 639.4 185 636.1 185.5 633.1 186 630.4 186.5 628 187 625.9 187.5 624.2 188 622.9 188.5 621.9 189 621.3 189.5 621.1 190 621.2 190.5 621.7 191 622.5 191.6 623.7 192.1 625.3 192.6 627.2 193.1 629.5 193.6 632.1 194.1 635 194.6 638.2 195.1 641.8 195.6 645.6 196.1 649.6 196.6 654 197.1 658.5 197.6 663.3 198.1 668.3 198.6 673.4 199.2 678.7 199.7 684.1 200.2 689.6 200.7 695.2 201.2 700.9 201.7 706.6 202.2 712.3 202.7 718 203.2 723.7 203.7 729.4 204.2 734.9 204.7 740.3 205.2 745.7 205.7 750.8 206.2 755.8 206.8 760.6 207.3 765.2 207.8 769.6 208.3 773.7 208.8 777.6 209.3 781.2 209.8 784.5 210.3 787.5 210.8 790.2 211.3 792.5 211.8 794.5 212.3 796.1 212.8 797.4 213.3 798.4 213.8 798.9 214.4 799.1 214.9 799 215.4 798.4 215.9 797.5 216.4 796.3 216.9 794.6 217.4 792.7 217.9 790.4 218.4 787.7 218.9 784.8 219.4 781.5 219.9 777.9 220.4 774.1 220.9 770 221.4 765.6 222 761 222.5 756.2 223 751.3 223.5 746.1 224 740.8 224.5 735.4 225 729.8 225.5 724.2 226 718.5 226.5 712.8 227 707.1 227.5 701.4 228 695.7 228.5 690.1 229 684.6 229.6 679.1 230.1 673.8 230.6 668.7 231.1 663.7 231.6 658.9 232.1 654.3 232.6 650 233.1 645.9 233.6 642.1 234.1 638.5 234.6 635.3 235.1 632.3 235.6 629.7 236.1 627.4 236.7 625.5 237.2 623.9 237.7 622.6 238.2 621.7 238.7 621.2 239.2 621.1 239.7 621.3 240.2 621.9 240.7 622.8 241.2 624.1 241.7 625.8 242.2 627.8 242.7 630.1 243.2 632.8 243.7 635.8 244.3 639.1 244.8 642.7 245.3 646.6 245.8 650.8 246.3 655.1 246.8 659.8 247.3 664.6 247.8 669.6 248.3 674.8 248.8 680.1 249.3 685.5 249.8 691.1 250.3 696.7 250.8 702.4 251.3 708.1 251.9 713.8 252.4 719.5 252.9 725.2 253.4 730.8 253.9 736.3 254.4 741.7 254.9 747 255.4 752.1 255.9 757.1 256.4 761.9 256.9 766.4 257.4 770.7 257.9 774.8 258.4 778.6 258.9 782.1 259.5 785.3 260 788.2 260.5 790.8 261 793 261.5 794.9 262 796.5 262.5 797.7 263 798.5 263.5 799 264 799.1 264.5 798.8 265 798.2 265.5 797.2 266 795.9 266.5 794.2 267.1 792.1 267.6 789.7 268.1 787 268.6 783.9 269.1 780.6 269.6 776.9 270.1 773 270.6 768.9 271.1 764.4 271.6 759.8 272.1 755 272.6 749.9 273.1 744.7 273.6 739.4 274.2 733.9 274.7 728.4 275.2 722.7 275.7 717 276.2 711.3 276.7 705.6 277.2 699.9 277.7 694.2 278.2 688.6 278.7 683.1 279.2 677.7 279.7 672.5 280.2 667.4 280.7 662.4 281.2 657.7 281.8 653.2 282.3 648.9 282.8 644.9 283.3 641.1 283.8 637.6 284.3 634.5 284.8 631.6 285.3 629.1 285.8 626.9 286.3 625 286.8 623.5 287.3 622.3 287.8 621.6 288.3 621.1 288.8 621.1 289.4 621.4 289.9 622.1 290.4 623.1 290.9 624.5 291.4 626.3 291.9 628.4 292.4 630.8 292.9 633.6 293.4 636.7 293.9 640 294.4 643.7 294.9 647.7 295.4 651.9 295.9 656.3 296.4 661 297 665.9 297.5 670.9 298 676.1 298.5 681.5 299 687 299.5 692.5 300 698.2 300.5 703.9 301 709.6 301.5 715.3 302 721 302.5 726.7 303 732.3 303.5 737.8 304 743.1 304.6 748.4 305.1 753.5 305.6 758.4 306.1 763.1 306.6 767.6 307.1 771.8 307.6 775.8 308.1 779.5 308.6 783 309.1 786.1 309.6 788.9 310.1 791.4 310.6 793.6 311.1 795.4 311.7 796.9 312.2 798 312.7 798.7 313.2 799.1 313.7 799.1 314.2 798.7 314.7 798 315.2 796.9 315.7 795.5 316.2 793.7 316.7 791.5 317.2 789 317.7 786.2 318.2 783.1 318.7 779.7 319.3 776 319.8 772 320.3 767.7 320.8 763.2 321.3 758.6 321.8 753.7 322.3 748.6 322.8 743.3 323.3 738 323.8 732.5 324.3 726.9 324.8 721.2 325.3 715.5 325.8 709.8 326.3 704.1 326.9 698.4 327.4 692.8 327.9 687.2 328.4 681.7 328.9 676.3 329.4 671.1 329.9 666.1 330.4 661.2 330.9 656.5 331.4 652 331.9 647.8 332.4 643.9 332.9 640.2 333.4 636.8 333.9 633.7 334.5 630.9 335 628.5 335.5 626.3 336 624.6 336.5 623.2 337 622.1 337.5 621.4 338 621.1 338.5 621.1 339 621.5 339.5 622.3 340 623.4 340.5 624.9 341 626.8 341.5 629 342.1 631.5 342.6 634.4 343.1 637.5 343.6 641 344.1 644.7 344.6 648.7 345.1 653 345.6 657.5 346.1 662.3 346.6 667.2 347.1 672.3 347.6 677.5 348.1 682.9 348.6 688.4 349.1 694 349.7 699.7 350.2 705.4 350.7 711.1 351.2 716.8 351.7 722.5 352.2 728.1 352.7 733.7 353.2 739.2 353.7 744.5 354.2 749.7 354.7 754.8 355.2 759.6 355.7 764.3 356.2 768.7 356.8 772.9 357.3 776.8 357.8 780.5 358.3 783.8 358.8 786.9 359.3 789.6 359.8 792 360.3 794.1 360.8 795.8 361.3 797.2 361.8 798.2 362.3 798.8 362.8 799.1 363.3 799 363.8 798.6 364.4 797.7 364.9 796.6 365.4 795 365.9 793.1 366.4 790.9 366.9 788.3 367.4 785.4 367.9 782.2 368.4 778.7 368.9 774.9 369.4 770.9 369.9 766.6 370.4 762 370.9 757.3 371.4 752.3 372 747.2 372.5 741.9 373 736.5 373.5 731 374 725.4 374.5 719.8 375 714 375.5 708.3 376 702.6 376.5 696.9 377 691.3 377.5 685.7 378 680.3 378.5 675 379 669.8 379.6 664.8 380.1 659.9 380.6 655.3 381.1 650.9 381.6 646.8 382.1 642.9 382.6 639.3 383.1 635.9 383.6 632.9 384.1 630.2 384.6 627.9 385.1 625.8 385.6 624.2 386.1 622.8 386.6 621.9 387.2 621.3 387.7 621.1 388.2 621.2 388.7 621.7 389.2 622.6 389.7 623.8 390.2 625.4 390.7 627.3 391.2 629.6 391.7 632.2 392.2 635.2 392.7 638.4 393.2 641.9 393.7 645.8 394.3 649.8 394.8 654.2 395.3 658.7 395.8 663.5 396.3 668.5 396.8 673.6 397.3 678.9 397.8 684.4 398.3 689.9 398.8 695.5 399.3 701.2 399.8 706.9 400.3 712.6 400.8 718.3 401.3 724 401.9 729.6 402.4 735.1 402.9 740.6 403.4 745.9 403.9 751.1 404.4 756.1 404.9 760.9 405.4 765.4 405.9 769.8 406.4 773.9 406.9 777.8 407.4 781.4 407.9 784.6 408.4 787.6 408.9 790.3 409.5 792.6 410 794.6 410.5 796.2 411 797.5 411.5 798.4 412 798.9 412.5 799.1 413 798.9 413.5 798.4 414 797.5 414.5 796.2 415 794.6 415.5 792.6 416 790.2 416.5 787.6 417.1 784.6 417.6 781.3 418.1 777.8 418.6 773.9 419.1 769.8 419.6 765.4 420.1 760.8 420.6 756 421.1 751 421.6 745.9 422.1 740.5 422.6 735.1 423.1 729.6 423.6 723.9 424.1 718.3 424.7 712.6 425.2 706.8 425.7 701.1 426.2 695.4 426.7 689.8 427.2 684.3 427.7 678.9 428.2 673.6 428.7 668.5 429.2 663.5 429.7 658.7 430.2 654.1 430.7 649.8 431.2 645.7 431.8 641.9 432.3 638.4 432.8 635.1 433.3 632.2 433.8 629.6 434.3 627.3 434.8 625.4 435.3 623.8 435.8 622.6 436.3 621.7 436.8 621.2 437.3 621.1 437.8 621.3 438.3 621.9 438.8 622.9 439.4 624.2 439.9 625.9 440.4 627.9 440.9 630.3 441.4 633 441.9 636 442.4 639.3 442.9 642.9 443.4 646.8 443.9 651 444.4 655.4 444.9 660 445.4 664.8 445.9 669.8 446.4 675 447 680.3 447.5 685.8 448 691.3 448.5 697 449 702.7 449.5 708.4 450 714.1 450.5 719.8 451 725.5 451.5 731.1 452 736.6 452.5 742 453 747.3 453.5 752.4 454 757.3 454.6 762.1 455.1 766.6 455.6 770.9 456.1 775 456.6 778.7 457.1 782.2 457.6 785.4 458.1 788.3 458.6 790.9 459.1 793.1 459.6 795 460.1 796.6 460.6 797.7 461.1 798.6 461.6 799 462.2 799.1 462.7 798.8 463.2 798.2 463.7 797.2 464.2 795.8 464.7 794.1 465.2 792 465.7 789.6 466.2 786.8 466.7 783.8 467.2 780.4 467.7 776.8 468.2 772.8 468.7 768.7 469.2 764.2 469.8 759.6 470.3 754.7 470.8 749.7 471.3 744.5 471.8 739.1 472.3 733.7 472.8 728.1 473.3 722.5 473.8 716.8 474.3 711.1 474.8 705.3 475.3 699.6 475.8 694 476.3 688.4 476.9 682.9 477.4 677.5 477.9 672.2 478.4 667.1 478.9 662.2 479.4 657.5 479.9 653 480.4 648.7 480.9 644.7 481.4 641 481.9 637.5 482.4 634.3 482.9 631.5 483.4 629 483.9 626.8 484.5 624.9 485 623.4 485.5 622.3 486 621.5 486.5 621.1 487 621.1 487.5 621.4 488 622.1 488.5 623.2 489 624.6 489.5 626.4 490 628.5 490.5 630.9 491 633.7 491.5 636.8 492.1 640.2 492.6 643.9 493.1 647.9 493.6 652.1 494.1 656.5 494.6 661.2 495.1 666.1 495.6 671.2 496.1 676.4 496.6 681.8 497.1 687.2 497.6 692.8 498.1 698.5 498.6 704.2 499.1 709.9 499.7 715.6 500.2 721.3 500.7 726.9 501.2 732.5 501.7 738 502.2 743.4 502.7 748.6 503.2 753.7 503.7 758.6 504.2 763.3 504.7 767.8 505.2 772 505.7 776 506.2 779.7 506.7 783.1 507.3 786.2 507.8 789 508.3 791.5 508.8 793.7 509.3 795.5 509.8 796.9 510.3 798 510.8 798.7 511.3 799.1 511.8 799.1 512.3 798.7 512.8 797.9 513.3 796.8 513.8 795.4 514.4 793.6 514.9 791.4 515.4 788.9 515.9 786.1 516.4 782.9 516.9 779.5 517.4 775.8 517.9 771.8 518.4 767.5 518.9 763 519.4 758.3 519.9 753.4 520.4 748.3 520.9 743.1 521.4 737.7 522 732.2 522.5 726.6 523 721 523.5 715.3 524 709.6 524.5 703.8 525 698.1 525.5 692.5 526 686.9 526.5 681.5 527 676.1 527.5 670.9 528 665.8 528.5 661 529 656.3 529.6 651.8 530.1 647.6 530.6 643.7 531.1 640 531.6 636.6 532.1 633.6 532.6 630.8 533.1 628.4 533.6 626.3 534.1 624.5 534.6 623.1 535.1 622.1 535.6 621.4 536.1 621.1 536.6 621.1 537.2 621.6 537.7 622.4 538.2 623.5 538.7 625 539.2 626.9 539.7 629.1 540.2 631.6 540.7 634.5 541.2 637.7 541.7 641.1 542.2 644.9 542.7 648.9 543.2 653.2 543.7 657.7 544.2 662.5 544.8 667.4 545.3 672.5 545.8 677.8 546.3 683.2 546.8 688.7 547.3 694.3 547.8 699.9 548.3 705.6 548.8 711.4 549.3 717.1 549.8 722.8 550.3 728.4 550.8 734 551.3 739.4 551.8 744.8 552.4 750 552.9 755 553.4 759.8 553.9 764.5 554.4 768.9 554.9 773.1 555.4 777 555.9 780.6 556.4 784 556.9 787 557.4 789.7 557.9 792.1 558.4 794.2 558.9 795.9 559.5 797.2 560 798.2 560.5 798.9 561 799.1 561.5 799 562 798.5 562.5 797.7 563 796.5 563.5 794.9 564 793 564.5 790.8 565 788.2 565.5 785.3 566 782.1 566.5 778.6 567.1 774.8 567.6 770.7 568.1 766.4 568.6 761.8 569.1 757.1 569.6 752.1 570.1 747 570.6 741.7 571.1 736.3 571.6 730.8 572.1 725.2 572.6 719.5 573.1 713.8 573.6 708.1 574.1 702.3 574.7 696.7 575.2 691 575.7 685.5 576.2 680 576.7 674.7 577.2 669.5 577.7 664.5 578.2 659.7 578.7 655.1 579.2 650.7 579.7 646.6 580.2 642.7 580.7 639.1 581.2 635.8 581.7 632.8 582.3 630.1 582.8 627.8 583.3 625.8 583.8 624.1 584.3 622.8 584.8 621.9 585.3 621.3 585.8 621.1 586.3 621.2 586.8 621.7 587.3 622.6 587.8 623.9 588.3 625.5 588.8 627.4 589.3 629.7 589.9 632.3 590.4 635.3 590.9 638.6 591.4 642.1 591.9 645.9 592.4 650 592.9 654.4 593.4 659 593.9 663.8 594.4 668.7 594.9 673.9 595.4 679.2 595.9 684.6 596.4 690.1 597 695.8 597.5 701.4 598 707.1 598.5 712.9 599 718.6 599.5 724.2 600 729.9 600.5 735.4 601 740.8 601.5 746.1 602 751.3 602.5 756.3 603 761.1 603.5 765.7 604 770 604.6 774.1 605.1 778 605.6 781.5 606.1 784.8 606.6 787.7 607.1 790.4 607.6 792.7 608.1 794.7 608.6 796.3 609.1 797.5 609.6 798.4 610.1 799 610.6 799.1 611.1 798.9 611.6 798.3 612.2 797.4 612.7 796.1 613.2 794.5 613.7 792.5 614.2 790.1 614.7 787.5 615.2 784.5 615.7 781.2 616.2 777.6 616.7 773.7 617.2 769.6 617.7 765.2 618.2 760.6 618.7 755.8 619.2 750.8 619.8 745.6 620.3 740.3 620.8 734.9 621.3 729.3 621.8 723.7 622.3 718 622.8 712.3 623.3 706.6 623.8 700.9 624.3 695.2 624.8 689.6 625.3 684.1 625.8 678.6 626.3 673.4 626.8 668.2 627.4 663.3 627.9 658.5 628.4 653.9 628.9 649.6 629.4 645.5 629.9 641.7 630.4 638.2 630.9 635 631.4 632.1 631.9 629.5 632.4 627.2 632.9 625.3 633.4 623.7 633.9 622.5 634.4 621.7 635 621.2 635.5 621.1 636 621.3 636.5 621.9 637 622.9 637.5 624.3 638 625.9 638.5 628 639 630.4 639.5 633.1 640 636.1 640.5 639.5 641 643.1 641.5 647 642.1 651.2 642.6 655.6 643.1 660.2 643.6 665 644.1 670.1 644.6 675.3 645.1 680.6 645.6 686 646.1 691.6 646.6 697.2 647.1 702.9 647.6 708.6 648.1 714.4 648.6 720.1 649.1 725.7 649.7 731.3 650.2 736.8 650.7 742.2 651.2 747.5 651.7 752.6 652.2 757.6 652.7 762.3 653.2 766.8 653.7 771.1 654.2 775.1 654.7 778.9 655.2 782.4 655.7 785.6 656.2 788.5 656.7 791 657.3 793.2 657.8 795.1 658.3 796.6 658.8 797.8 659.3 798.6 659.8 799 660.3 799.1 660.8 798.8 661.3 798.1 661.8 797.1 662.3 795.7 662.8 794 663.3 791.9 663.8 789.5 664.3 786.7 664.9 783.6 665.4 780.3 665.9 776.6 666.4 772.7 666.9 768.5 667.4 764 667.9 759.4 668.4 754.5 668.9 749.4 669.4 744.2 669.9 738.9 670.4 733.4 670.9 727.8 671.4 722.2 671.9 716.5 672.5 710.8 673 705.1 673.5 699.4 674 693.7 674.5 688.1 675 682.6 675.5 677.2 676 672 676.5 666.9 677 662 677.5 657.3 678 652.8 678.5 648.5 679 644.5 679.6 640.8 680.1 637.3 680.6 634.2 681.1 631.4 681.6 628.9 682.1 626.7 682.6 624.9 683.1 623.4 683.6 622.3 684.1 621.5 684.6 621.1 685.1 621.1 685.6 621.4 686.1 622.2 686.6 623.2 687.2 624.7 687.7 626.5 688.2 628.6 688.7 631.1 689.2 633.9 689.7 637 690.2 640.4 690.7 644.1 691.2 648.1 691.7 652.3 692.2 656.8 692.7 661.4 693.2 666.3 693.7 671.4 694.2 676.6 694.8 682 695.3 687.5 695.8 693.1 696.3 698.7 696.8 704.4 697.3 710.1 697.8 715.9 698.3 721.5 698.8 727.2 699.3 732.8 699.8 738.3 700.3 743.6 700.8 748.9 701.3 753.9 701.8 758.8 702.4 763.5 702.9 768 703.4 772.2 703.9 776.2 704.4 779.9 704.9 783.3 705.4 786.4 705.9 789.2 706.4 791.6 706.9 793.8 707.4 795.5 707.9 797 708.4 798 708.9 798.7 709.4 799.1 710 799.1 710.5 798.7 711 797.9 711.5 796.8 712 795.3 712.5 793.5 713 791.3 713.5 788.8 714 785.9 714.5 782.8 715 779.3 715.5 775.6 716 771.6 716.5 767.3 717.1 762.8 717.6 758.1 718.1 753.2 718.6 748.1 719.1 742.8 719.6 737.5 720.1 732 720.6 726.4 721.1 720.7 721.6 715 722.1 709.3 722.6 703.6 723.1 697.9 723.6 692.2 724.1 686.7 724.7 681.2 725.2 675.9 725.7 670.6 726.2 665.6 726.7 660.7 727.2 656.1 727.7 651.6 728.2 647.5 728.7 643.5 729.2 639.9 729.7 636.5 730.2 633.4 730.7 630.7 731.2 628.3 731.7 626.2 732.3 624.4 732.8 623 733.3 622 733.8 621.4 734.3 621.1 734.8 621.1 735.3 621.6 735.8 622.4 736.3 623.6 736.8 625.1 737.3 627 737.8 629.2 738.3 631.8 738.8 634.6 739.3 637.8 739.9 641.3 740.4 645.1 740.9 649.1 741.4 653.4 741.9 658 742.4 662.7 742.9 667.6 743.4 672.8 743.9 678 744.4 683.4 744.9 688.9 745.4 694.5 745.9 700.2 746.4 705.9 746.9 711.6 747.5 717.3 748 723 748.5 728.7 749 734.2 749.5 739.7 750 745 750.5 750.2 751 755.2 751.5 760.1 752 764.7 752.5 769.1 753 773.3 753.5 777.2 754 780.8 754.5 784.1 755.1 787.1 755.6 789.8 756.1 792.2 756.6 794.3 757.1 795.9 757.6 797.3 758.1 798.3 758.6 798.9 759.1 799.1 759.6 799 760.1 798.5 760.6 797.6 761.1 796.4 761.6 794.9 762.2 792.9 762.7 790.7 763.2 788.1 763.7 785.1 764.2 781.9 764.7 778.4 765.2 774.6 765.7 770.5 766.2 766.2 766.7 761.6 767.2 756.8 767.7 751.9 768.2 746.7 768.7 741.5 769.2 736 769.8 730.5 770.3 724.9 770.8 719.2 771.3 713.5 771.8 707.8 772.3 702.1 772.8 696.4 773.3 690.8 773.8 685.2 774.3 679.8 774.8 674.5 775.3 669.3 775.8 664.3 776.3 659.5 776.8 654.9 777.4 650.5 777.9 646.4 778.4 642.5 778.9 638.9 779.4 635.7 779.9 632.7 780.4 630 780.9 627.7 781.4 625.7 781.9 624 782.4 622.7 782.9 621.8 783.4 621.3 783.9 621.1 784.4 621.2 785 621.8 785.5 622.7 786 623.9 786.5 625.6 787 627.5 787.5 629.8 788 632.5 788.5 635.4 789 638.7 789.5 642.3 790 646.1 790.5 650.2 791 654.6 791.5 659.2 792 664 792.6 669 793.1 674.1 793.6 679.4 794.1 684.9 794.6 690.4 795.1 696 795.6 701.7 796.1 707.4 796.6 713.1 797.1 718.8 797.6 724.5 798.1 730.1 798.6 735.7 799.1 741.1 799.7 746.4 800.2 751.5 800.7 756.5 801.2 761.3 801.7 765.9 802.2 770.2 802.7 774.3 803.2 778.1 803.7 781.7 804.2 784.9 804.7 787.9 805.2 790.5 805.7 792.8 806.2 794.7 806.7 796.3 807.3 797.6 807.8 798.5 808.3 799 808.8 799.1 809.3 798.9 809.8 798.3 810.3 797.4 810.8 796.1 811.3 794.4 811.8 792.4 812.3 790 812.8 787.3 813.3 784.3 813.8 781 814.3 777.4 814.9 773.5 815.4 769.4 815.9 765 816.4 760.4 816.9 755.6 817.4 750.5 817.9 745.4 818.4 740 818.9 734.6 819.4 729 819.9 723.4 820.4 717.7 820.9 712 821.4 706.3 821.9 700.6 822.5 694.9 823 689.3 823.5 683.8 824 678.4 824.5 673.1 825 668 825.5 663 826 658.3 826.5 653.7 827 649.4 827.5 645.4 828 641.6 828.5 638.1 829 634.8 829.5 631.9 830.1 629.4 830.6 627.1 831.1 625.2 831.6 623.7 832.1 622.5 832.6 621.6 833.1 621.2 833.6 621.1 834.1 621.3 834.6 622 835.1 623 835.6 624.3 836.1 626 836.6 628.1 837.1 630.5" stroke="#0670BB" stroke-width="5.5" stroke-dasharray="19.55 19.39" stroke-dashoffset="0"/>
</g>
<text x="126.6" y="865.3" text-anchor="middle">0</text>
<text x="244.84" y="865.3" text-anchor="middle">5</text>
<text x="364.18" y="865.3" text-anchor="middle">10</text>
<text x="482.42" y="865.3" text-anchor="middle">15</text>
<text x="600.67" y="865.3" text-anchor="middle">20</text>
<text x="718.91" y="865.3" text-anchor="middle">25</text>
<text x="837.15" y="865.3" text-anchor="middle">30</text>
<text x="100.4" y="621.42" text-anchor="end">0.5</text>
<text x="100.4" y="720.78" text-anchor="end">0</text>
<text x="100.4" y="820.15" text-anchor="end">−0.5</text>
<text x="481.93" y="922.6" text-anchor="middle">Time (s)</text>
<text x="481.93" y="990.7" text-anchor="middle">(c)</text>
<rect x="145.45" y="567.45" width="674.1" height="47.8" fill="#ffffff" stroke="#1a1a1a" stroke-width="2.7"/>
<path d="M151.8 592 H216.4" fill="none" stroke="#E50914" stroke-width="5.5" stroke-dasharray="19.4 4.7 9.9 4.7"/>
<text x="220.5" y="601.8" font-size="29.2">Lower bound</text>
<path d="M382.5 592 H447.1" fill="none" stroke="#7C1B80" stroke-width="5.5" stroke-dasharray="19.4 4.7 9.9 4.7"/>
<text x="452.4" y="601.8" font-size="29.2">Upper bound</text>
<path d="M613 592 H676.4" fill="none" stroke="#ECB70C" stroke-width="3.9"/>
<text x="680.6" y="596.3" font-size="30" font-style="italic">x</text>
<text x="696.2" y="598.9" font-size="16.5">1</text>
<path d="M719 592 H738.8" fill="none" stroke="#0670BB" stroke-width="5.5"/>
<path d="M758.1 592 H777.7" fill="none" stroke="#0670BB" stroke-width="5.5"/>
<text x="786.6" y="596.3" font-size="30" font-style="italic">y</text>
<text x="801.2" y="598.8" font-size="17" font-style="italic">d</text>
<path d="M990 810.4 v-7.9 M990 551.7 v7.9 M1108.24 810.4 v-7.9 M1108.24 551.7 v7.9 M1226.48 810.4 v-7.9 M1226.48 551.7 v7.9 M1344.72 810.4 v-7.9 M1344.72 551.7 v7.9 M1462.97 810.4 v-7.9 M1462.97 551.7 v7.9 M1581.21 810.4 v-7.9 M1581.21 551.7 v7.9 M1699.45 810.4 v-7.9 M1699.45 551.7 v7.9 M990 551.7 h7.9 M1699.45 551.7 h-7.9 M990 632.54 h7.9 M1699.45 632.54 h-7.9 M990 713.39 h7.9 M1699.45 713.39 h-7.9 M990 794.23 h7.9 M1699.45 794.23 h-7.9" fill="none" stroke="#262626" stroke-width="1.1"/>
<rect x="990" y="551.7" width="709.45" height="258.7" fill="none" stroke="#262626" stroke-width="1.15"/>
<clipPath id="cp4"><rect x="986" y="550.7" width="714.45" height="260.2"/></clipPath>
<g clip-path="url(#cp4)" fill="none" stroke-linejoin="round">
<path d="M990 599.6 V812.4" stroke="#0670BB" stroke-width="3.9"/>
<path d="M990 633.1 990.5 632.7 991 632.3 991.5 632 992 631.8 992.5 631.7 993 631.6 993.5 631.6 994.1 631.6 994.6 631.7 995.1 631.9 995.6 632.1 996.1 632.3 996.6 632.6 997.1 632.9 997.6 633.1 998.1 633.4 998.6 633.7 999.1 634 999.6 634.2 1000.1 634.4 1000.6 634.5 1001.1 634.7 1001.7 634.8 1002.2 634.8 1002.7 634.8 1003.2 634.8 1003.7 634.7 1004.2 634.5 1004.7 634.4 1005.2 634.2 1005.7 633.9 1006.2 633.7 1006.7 633.4 1007.2 633.1 1007.7 632.8 1008.2 632.6 1008.7 632.3 1009.3 632.1 1009.8 631.9 1010.3 631.7 1010.8 631.6 1011.3 631.6 1011.8 631.6 1012.3 631.7 1012.8 631.8 1013.3 632.1 1013.8 632.4 1014.3 632.7 1014.8 633.2 1015.3 633.7 1015.8 634.4 1016.4 635 1016.9 635.8 1017.4 636.6 1017.9 637.4 1018.4 638.3 1018.9 639.3 1019.4 640.2 1019.9 641.2 1020.4 642.1 1020.9 643.1 1021.4 644 1021.9 644.9 1022.4 645.8 1022.9 646.6 1023.4 647.3 1024 648 1024.5 648.6 1025 649.1 1025.5 649.5 1026 649.8 1026.5 650 1027 650.1 1027.5 650 1028 649.9 1028.5 649.7 1029 649.3 1029.5 648.9 1030 648.4 1030.5 647.7 1031 647 1031.6 646.3 1032.1 645.5 1032.6 644.6 1033.1 643.7 1033.6 642.7 1034.1 641.8 1034.6 640.8 1035.1 639.8 1035.6 638.9 1036.1 638 1036.6 637.1 1037.1 636.3 1037.6 635.5 1038.1 634.8 1038.6 634.1 1039.2 633.5 1039.7 633 1040.2 632.6 1040.7 632.2 1041.2 632 1041.7 631.8 1042.2 631.6 1042.7 631.6 1043.2 631.6 1043.7 631.7 1044.2 631.8 1044.7 632 1045.2 632.2 1045.7 632.4 1046.2 632.7 1046.8 632.9 1047.3 633.2 1047.8 633.5 1048.3 633.8 1048.8 634 1049.3 634.2 1049.8 634.4 1050.3 634.6 1050.8 634.7 1051.3 634.8 1051.8 634.8 1052.3 634.8 1052.8 634.7 1053.3 634.6 1053.9 634.5 1054.4 634.3 1054.9 634.1 1055.4 633.9 1055.9 633.6 1056.4 633.3 1056.9 633 1057.4 632.8 1057.9 632.5 1058.4 632.2 1058.9 632 1059.4 631.8 1059.9 631.7 1060.4 631.6 1060.9 631.6 1061.5 631.6 1062 631.7 1062.5 631.9 1063 632.1 1063.5 632.4 1064 632.9 1064.5 633.3 1065 633.9 1065.5 634.5 1066 635.2 1066.5 636 1067 636.8 1067.5 637.7 1068 638.6 1068.5 639.5 1069.1 640.5 1069.6 641.4 1070.1 642.4 1070.6 643.3 1071.1 644.3 1071.6 645.2 1072.1 646 1072.6 646.8 1073.1 647.5 1073.6 648.2 1074.1 648.7 1074.6 649.2 1075.1 649.6 1075.6 649.8 1076.1 650 1076.7 650.1 1077.2 650 1077.7 649.9 1078.2 649.6 1078.7 649.2 1079.2 648.8 1079.7 648.2 1080.2 647.6 1080.7 646.9 1081.2 646.1 1081.7 645.2 1082.2 644.3 1082.7 643.4 1083.2 642.5 1083.7 641.5 1084.3 640.5 1084.8 639.6 1085.3 638.6 1085.8 637.7 1086.3 636.9 1086.8 636 1087.3 635.3 1087.8 634.6 1088.3 633.9 1088.8 633.4 1089.3 632.9 1089.8 632.5 1090.3 632.1 1090.8 631.9 1091.3 631.7 1091.9 631.6 1092.4 631.6 1092.9 631.6 1093.4 631.7 1093.9 631.8 1094.4 632 1094.9 632.2 1095.4 632.5 1095.9 632.7 1096.4 633 1096.9 633.3 1097.4 633.6 1097.9 633.8 1098.4 634.1 1099 634.3 1099.5 634.5 1100 634.6 1100.5 634.7 1101 634.8 1101.5 634.8 1102 634.8 1102.5 634.7 1103 634.6 1103.5 634.4 1104 634.3 1104.5 634 1105 633.8 1105.5 633.5 1106 633.2 1106.6 633 1107.1 632.7 1107.6 632.4 1108.1 632.2 1108.6 632 1109.1 631.8 1109.6 631.7 1110.1 631.6 1110.6 631.6 1111.1 631.6 1111.6 631.7 1112.1 631.9 1112.6 632.2 1113.1 632.5 1113.6 633 1114.2 633.5 1114.7 634.1 1115.2 634.7 1115.7 635.4 1116.2 636.2 1116.7 637 1117.2 637.9 1117.7 638.8 1118.2 639.8 1118.7 640.7 1119.2 641.7 1119.7 642.6 1120.2 643.6 1120.7 644.5 1121.2 645.4 1121.8 646.2 1122.3 647 1122.8 647.7 1123.3 648.3 1123.8 648.8 1124.3 649.3 1124.8 649.6 1125.3 649.9 1125.8 650 1126.3 650.1 1126.8 650 1127.3 649.8 1127.8 649.5 1128.3 649.1 1128.8 648.6 1129.4 648 1129.9 647.4 1130.4 646.7 1130.9 645.9 1131.4 645 1131.9 644.1 1132.4 643.2 1132.9 642.2 1133.4 641.3 1133.9 640.3 1134.4 639.3 1134.9 638.4 1135.4 637.5 1135.9 636.7 1136.5 635.8 1137 635.1 1137.5 634.4 1138 633.8 1138.5 633.2 1139 632.8 1139.5 632.4 1140 632.1 1140.5 631.8 1141 631.7 1141.5 631.6 1142 631.6 1142.5 631.6 1143 631.7 1143.5 631.9 1144.1 632.1 1144.6 632.3 1145.1 632.5 1145.6 632.8 1146.1 633.1 1146.6 633.4 1147.1 633.6 1147.6 633.9 1148.1 634.1 1148.6 634.3 1149.1 634.5 1149.6 634.7 1150.1 634.7 1150.6 634.8 1151.1 634.8 1151.7 634.8 1152.2 634.7 1152.7 634.6 1153.2 634.4 1153.7 634.2 1154.2 634 1154.7 633.7 1155.2 633.5 1155.7 633.2 1156.2 632.9 1156.7 632.6 1157.2 632.4 1157.7 632.1 1158.2 631.9 1158.7 631.8 1159.3 631.6 1159.8 631.6 1160.3 631.6 1160.8 631.6 1161.3 631.8 1161.8 632 1162.3 632.3 1162.8 632.7 1163.3 633.1 1163.8 633.6 1164.3 634.2 1164.8 634.9 1165.3 635.6 1165.8 636.4 1166.3 637.2 1166.9 638.1 1167.4 639.1 1167.9 640 1168.4 641 1168.9 641.9 1169.4 642.9 1169.9 643.8 1170.4 644.7 1170.9 645.6 1171.4 646.4 1171.9 647.2 1172.4 647.9 1172.9 648.5 1173.4 649 1174 649.4 1174.5 649.7 1175 649.9 1175.5 650 1176 650 1176.5 649.9 1177 649.7 1177.5 649.4 1178 649 1178.5 648.5 1179 647.9 1179.5 647.2 1180 646.5 1180.5 645.6 1181 644.8 1181.6 643.9 1182.1 642.9 1182.6 642 1183.1 641 1183.6 640 1184.1 639.1 1184.6 638.2 1185.1 637.3 1185.6 636.4 1186.1 635.6 1186.6 634.9 1187.1 634.2 1187.6 633.6 1188.1 633.1 1188.6 632.7 1189.2 632.3 1189.7 632 1190.2 631.8 1190.7 631.7 1191.2 631.6 1191.7 631.6 1192.2 631.6 1192.7 631.8 1193.2 631.9 1193.7 632.1 1194.2 632.4 1194.7 632.6 1195.2 632.9 1195.7 633.2 1196.2 633.4 1196.8 633.7 1197.3 634 1197.8 634.2 1198.3 634.4 1198.8 634.6 1199.3 634.7 1199.8 634.8 1200.3 634.8 1200.8 634.8 1201.3 634.8 1201.8 634.7 1202.3 634.5 1202.8 634.3 1203.3 634.1 1203.8 633.9 1204.4 633.7 1204.9 633.4 1205.4 633.1 1205.9 632.8 1206.4 632.6 1206.9 632.3 1207.4 632.1 1207.9 631.9 1208.4 631.7 1208.9 631.6 1209.4 631.6 1209.9 631.6 1210.4 631.7 1210.9 631.8 1211.4 632.1 1212 632.4 1212.5 632.8 1213 633.2 1213.5 633.8 1214 634.4 1214.5 635.1 1215 635.8 1215.5 636.6 1216 637.5 1216.5 638.4 1217 639.3 1217.5 640.3 1218 641.2 1218.5 642.2 1219.1 643.1 1219.6 644.1 1220.1 645 1220.6 645.8 1221.1 646.6 1221.6 647.4 1222.1 648 1222.6 648.6 1223.1 649.1 1223.6 649.5 1224.1 649.8 1224.6 650 1225.1 650.1 1225.6 650 1226.1 649.9 1226.7 649.7 1227.2 649.3 1227.7 648.9 1228.2 648.3 1228.7 647.7 1229.2 647 1229.7 646.2 1230.2 645.4 1230.7 644.5 1231.2 643.6 1231.7 642.7 1232.2 641.7 1232.7 640.8 1233.2 639.8 1233.7 638.8 1234.3 637.9 1234.8 637.1 1235.3 636.2 1235.8 635.4 1236.3 634.7 1236.8 634.1 1237.3 633.5 1237.8 633 1238.3 632.6 1238.8 632.2 1239.3 631.9 1239.8 631.7 1240.3 631.6 1240.8 631.6 1241.3 631.6 1241.9 631.7 1242.4 631.8 1242.9 632 1243.4 632.2 1243.9 632.4 1244.4 632.7 1244.9 633 1245.4 633.2 1245.9 633.5 1246.4 633.8 1246.9 634 1247.4 634.2 1247.9 634.4 1248.4 634.6 1248.9 634.7 1249.5 634.8 1250 634.8 1250.5 634.8 1251 634.7 1251.5 634.6 1252 634.5 1252.5 634.3 1253 634.1 1253.5 633.8 1254 633.6 1254.5 633.3 1255 633 1255.5 632.7 1256 632.5 1256.6 632.2 1257.1 632 1257.6 631.8 1258.1 631.7 1258.6 631.6 1259.1 631.6 1259.6 631.6 1260.1 631.7 1260.6 631.9 1261.1 632.1 1261.6 632.5 1262.1 632.9 1262.6 633.4 1263.1 633.9 1263.6 634.6 1264.2 635.3 1264.7 636 1265.2 636.8 1265.7 637.7 1266.2 638.6 1266.7 639.6 1267.2 640.5 1267.7 641.5 1268.2 642.4 1268.7 643.4 1269.2 644.3 1269.7 645.2 1270.2 646 1270.7 646.8 1271.2 647.5 1271.8 648.2 1272.3 648.7 1272.8 649.2 1273.3 649.6 1273.8 649.8 1274.3 650 1274.8 650.1 1275.3 650 1275.8 649.8 1276.3 649.6 1276.8 649.2 1277.3 648.7 1277.8 648.2 1278.3 647.5 1278.8 646.8 1279.4 646 1279.9 645.2 1280.4 644.3 1280.9 643.4 1281.4 642.4 1281.9 641.5 1282.4 640.5 1282.9 639.5 1283.4 638.6 1283.9 637.7 1284.4 636.8 1284.9 636 1285.4 635.2 1285.9 634.5 1286.4 633.9 1287 633.4 1287.5 632.9 1288 632.5 1288.5 632.1 1289 631.9 1289.5 631.7 1290 631.6 1290.5 631.6 1291 631.6 1291.5 631.7 1292 631.8 1292.5 632 1293 632.2 1293.5 632.5 1294.1 632.8 1294.6 633 1295.1 633.3 1295.6 633.6 1296.1 633.8 1296.6 634.1 1297.1 634.3 1297.6 634.5 1298.1 634.6 1298.6 634.7 1299.1 634.8 1299.6 634.8 1300.1 634.8 1300.6 634.7 1301.1 634.6 1301.7 634.4 1302.2 634.2 1302.7 634 1303.2 633.8 1303.7 633.5 1304.2 633.2 1304.7 633 1305.2 632.7 1305.7 632.4 1306.2 632.2 1306.7 632 1307.2 631.8 1307.7 631.7 1308.2 631.6 1308.7 631.6 1309.3 631.6 1309.8 631.7 1310.3 631.9 1310.8 632.2 1311.3 632.6 1311.8 633 1312.3 633.5 1312.8 634.1 1313.3 634.7 1313.8 635.4 1314.3 636.2 1314.8 637.1 1315.3 637.9 1315.8 638.9 1316.3 639.8 1316.9 640.8 1317.4 641.7 1317.9 642.7 1318.4 643.6 1318.9 644.5 1319.4 645.4 1319.9 646.3 1320.4 647 1320.9 647.7 1321.4 648.3 1321.9 648.9 1322.4 649.3 1322.9 649.7 1323.4 649.9 1323.9 650 1324.5 650.1 1325 650 1325.5 649.8 1326 649.5 1326.5 649.1 1327 648.6 1327.5 648 1328 647.4 1328.5 646.6 1329 645.8 1329.5 645 1330 644.1 1330.5 643.1 1331 642.2 1331.5 641.2 1332.1 640.2 1332.6 639.3 1333.1 638.4 1333.6 637.5 1334.1 636.6 1334.6 635.8 1335.1 635.1 1335.6 634.4 1336.1 633.8 1336.6 633.2 1337.1 632.8 1337.6 632.4 1338.1 632.1 1338.6 631.8 1339.2 631.7 1339.7 631.6 1340.2 631.6 1340.7 631.6 1341.2 631.7 1341.7 631.9 1342.2 632.1 1342.7 632.3 1343.2 632.6 1343.7 632.8 1344.2 633.1 1344.7 633.4 1345.2 633.7 1345.7 633.9 1346.2 634.1 1346.8 634.4 1347.3 634.5 1347.8 634.7 1348.3 634.8 1348.8 634.8 1349.3 634.8 1349.8 634.8 1350.3 634.7 1350.8 634.6 1351.3 634.4 1351.8 634.2 1352.3 634 1352.8 633.7 1353.3 633.4 1353.8 633.2 1354.4 632.9 1354.9 632.6 1355.4 632.3 1355.9 632.1 1356.4 631.9 1356.9 631.8 1357.4 631.6 1357.9 631.6 1358.4 631.6 1358.9 631.7 1359.4 631.8 1359.9 632 1360.4 632.3 1360.9 632.7 1361.4 633.1 1362 633.6 1362.5 634.2 1363 634.9 1363.5 635.6 1364 636.4 1364.5 637.3 1365 638.2 1365.5 639.1 1366 640 1366.5 641 1367 642 1367.5 642.9 1368 643.9 1368.5 644.8 1369 645.6 1369.6 646.5 1370.1 647.2 1370.6 647.9 1371.1 648.5 1371.6 649 1372.1 649.4 1372.6 649.7 1373.1 649.9 1373.6 650 1374.1 650 1374.6 649.9 1375.1 649.7 1375.6 649.4 1376.1 649 1376.7 648.5 1377.2 647.9 1377.7 647.2 1378.2 646.4 1378.7 645.6 1379.2 644.7 1379.7 643.8 1380.2 642.9 1380.7 641.9 1381.2 641 1381.7 640 1382.2 639 1382.7 638.1 1383.2 637.2 1383.7 636.4 1384.3 635.6 1384.8 634.9 1385.3 634.2 1385.8 633.6 1386.3 633.1 1386.8 632.6 1387.3 632.3 1387.8 632 1388.3 631.8 1388.8 631.6 1389.3 631.6 1389.8 631.6 1390.3 631.6 1390.8 631.8 1391.3 631.9 1391.9 632.1 1392.4 632.4 1392.9 632.6 1393.4 632.9 1393.9 633.2 1394.4 633.5 1394.9 633.7 1395.4 634 1395.9 634.2 1396.4 634.4 1396.9 634.6 1397.4 634.7 1397.9 634.8 1398.4 634.8 1398.9 634.8 1399.5 634.7 1400 634.7 1400.5 634.5 1401 634.3 1401.5 634.1 1402 633.9 1402.5 633.6 1403 633.4 1403.5 633.1 1404 632.8 1404.5 632.5 1405 632.3 1405.5 632.1 1406 631.9 1406.5 631.7 1407.1 631.6 1407.6 631.6 1408.1 631.6 1408.6 631.7 1409.1 631.8 1409.6 632.1 1410.1 632.4 1410.6 632.8 1411.1 633.2 1411.6 633.8 1412.1 634.4 1412.6 635.1 1413.1 635.8 1413.6 636.7 1414.1 637.5 1414.7 638.4 1415.2 639.3 1415.7 640.3 1416.2 641.3 1416.7 642.2 1417.2 643.2 1417.7 644.1 1418.2 645 1418.7 645.9 1419.2 646.7 1419.7 647.4 1420.2 648.1 1420.7 648.6 1421.2 649.1 1421.8 649.5 1422.3 649.8 1422.8 650 1423.3 650.1 1423.8 650 1424.3 649.9 1424.8 649.6 1425.3 649.3 1425.8 648.8 1426.3 648.3 1426.8 647.7 1427.3 647 1427.8 646.2 1428.3 645.4 1428.8 644.5 1429.4 643.6 1429.9 642.6 1430.4 641.7 1430.9 640.7 1431.4 639.7 1431.9 638.8 1432.4 637.9 1432.9 637 1433.4 636.2 1433.9 635.4 1434.4 634.7 1434.9 634 1435.4 633.5 1435.9 633 1436.4 632.5 1437 632.2 1437.5 631.9 1438 631.7 1438.5 631.6 1439 631.6 1439.5 631.6 1440 631.7 1440.5 631.8 1441 632 1441.5 632.2 1442 632.4 1442.5 632.7 1443 633 1443.5 633.2 1444 633.5 1444.6 633.8 1445.1 634 1445.6 634.3 1446.1 634.4 1446.6 634.6 1447.1 634.7 1447.6 634.8 1448.1 634.8 1448.6 634.8 1449.1 634.7 1449.6 634.6 1450.1 634.5 1450.6 634.3 1451.1 634.1 1451.6 633.8 1452.2 633.6 1452.7 633.3 1453.2 633 1453.7 632.7 1454.2 632.5 1454.7 632.2 1455.2 632 1455.7 631.8 1456.2 631.7 1456.7 631.6 1457.2 631.6 1457.7 631.6 1458.2 631.7 1458.7 631.9 1459.3 632.2 1459.8 632.5 1460.3 632.9 1460.8 633.4 1461.3 633.9 1461.8 634.6 1462.3 635.3 1462.8 636.1 1463.3 636.9 1463.8 637.7 1464.3 638.7 1464.8 639.6 1465.3 640.6 1465.8 641.5 1466.3 642.5 1466.9 643.4 1467.4 644.4 1467.9 645.2 1468.4 646.1 1468.9 646.9 1469.4 647.6 1469.9 648.2 1470.4 648.8 1470.9 649.2 1471.4 649.6 1471.9 649.9 1472.4 650 1472.9 650.1 1473.4 650 1473.9 649.8 1474.5 649.6 1475 649.2 1475.5 648.7 1476 648.2 1476.5 647.5 1477 646.8 1477.5 646 1478 645.2 1478.5 644.3 1479 643.3 1479.5 642.4 1480 641.4 1480.5 640.5 1481 639.5 1481.5 638.6 1482.1 637.7 1482.6 636.8 1483.1 636 1483.6 635.2 1484.1 634.5 1484.6 633.9 1485.1 633.3 1485.6 632.8 1486.1 632.4 1486.6 632.1 1487.1 631.9 1487.6 631.7 1488.1 631.6 1488.6 631.6 1489.1 631.6 1489.7 631.7 1490.2 631.8 1490.7 632 1491.2 632.2 1491.7 632.5 1492.2 632.8 1492.7 633 1493.2 633.3 1493.7 633.6 1494.2 633.9 1494.7 634.1 1495.2 634.3 1495.7 634.5 1496.2 634.6 1496.8 634.7 1497.3 634.8 1497.8 634.8 1498.3 634.8 1498.8 634.7 1499.3 634.6 1499.8 634.4 1500.3 634.2 1500.8 634 1501.3 633.8 1501.8 633.5 1502.3 633.2 1502.8 632.9 1503.3 632.7 1503.8 632.4 1504.4 632.2 1504.9 632 1505.4 631.8 1505.9 631.7 1506.4 631.6 1506.9 631.6 1507.4 631.6 1507.9 631.8 1508.4 632 1508.9 632.2 1509.4 632.6 1509.9 633 1510.4 633.5 1510.9 634.1 1511.4 634.8 1512 635.5 1512.5 636.3 1513 637.1 1513.5 638 1514 638.9 1514.5 639.8 1515 640.8 1515.5 641.8 1516 642.7 1516.5 643.7 1517 644.6 1517.5 645.5 1518 646.3 1518.5 647.1 1519 647.7 1519.6 648.4 1520.1 648.9 1520.6 649.3 1521.1 649.7 1521.6 649.9 1522.1 650 1522.6 650.1 1523.1 650 1523.6 649.8 1524.1 649.5 1524.6 649.1 1525.1 648.6 1525.6 648 1526.1 647.3 1526.6 646.6 1527.2 645.8 1527.7 644.9 1528.2 644 1528.7 643.1 1529.2 642.1 1529.7 641.2 1530.2 640.2 1530.7 639.3 1531.2 638.3 1531.7 637.4 1532.2 636.6 1532.7 635.8 1533.2 635 1533.7 634.3 1534.2 633.7 1534.8 633.2 1535.3 632.7 1535.8 632.4 1536.3 632 1536.8 631.8 1537.3 631.7 1537.8 631.6 1538.3 631.6 1538.8 631.6 1539.3 631.7 1539.8 631.9 1540.3 632.1 1540.8 632.3 1541.3 632.6 1541.9 632.8 1542.4 633.1 1542.9 633.4 1543.4 633.7 1543.9 633.9 1544.4 634.2 1544.9 634.4 1545.4 634.5 1545.9 634.7 1546.4 634.8 1546.9 634.8 1547.4 634.8 1547.9 634.8 1548.4 634.7 1548.9 634.5 1549.5 634.4 1550 634.2 1550.5 633.9 1551 633.7 1551.5 633.4 1552 633.1 1552.5 632.9 1553 632.6 1553.5 632.3 1554 632.1 1554.5 631.9 1555 631.7 1555.5 631.6 1556 631.6 1556.5 631.6 1557.1 631.7 1557.6 631.8 1558.1 632 1558.6 632.3 1559.1 632.7 1559.6 633.1 1560.1 633.7 1560.6 634.3 1561.1 634.9 1561.6 635.7 1562.1 636.5 1562.6 637.3 1563.1 638.2 1563.6 639.1 1564.1 640.1 1564.7 641.1 1565.2 642 1565.7 643 1566.2 643.9 1566.7 644.8 1567.2 645.7 1567.7 646.5 1568.2 647.2 1568.7 647.9 1569.2 648.5 1569.7 649 1570.2 649.4 1570.7 649.7 1571.2 649.9 1571.7 650 1572.3 650 1572.8 649.9 1573.3 649.7 1573.8 649.4 1574.3 648.9 1574.8 648.4 1575.3 647.8 1575.8 647.1 1576.3 646.4 1576.8 645.6 1577.3 644.7 1577.8 643.8 1578.3 642.8 1578.8 641.9 1579.4 640.9 1579.9 640 1580.4 639 1580.9 638.1 1581.4 637.2 1581.9 636.4 1582.4 635.6 1582.9 634.8 1583.4 634.2 1583.9 633.6 1584.4 633.1 1584.9 632.6 1585.4 632.3 1585.9 632 1586.4 631.8 1587 631.6 1587.5 631.6 1588 631.6 1588.5 631.6 1589 631.8 1589.5 631.9 1590 632.1 1590.5 632.4 1591 632.6 1591.5 632.9 1592 633.2 1592.5 633.5 1593 633.7 1593.5 634 1594 634.2 1594.6 634.4 1595.1 634.6 1595.6 634.7 1596.1 634.8 1596.6 634.8 1597.1 634.8 1597.6 634.7 1598.1 634.6 1598.6 634.5 1599.1 634.3 1599.6 634.1 1600.1 633.9 1600.6 633.6 1601.1 633.4 1601.6 633.1 1602.2 632.8 1602.7 632.5 1603.2 632.3 1603.7 632.1 1604.2 631.9 1604.7 631.7 1605.2 631.6 1605.7 631.6 1606.2 631.6 1606.7 631.7 1607.2 631.9 1607.7 632.1 1608.2 632.4 1608.7 632.8 1609.2 633.3 1609.8 633.8 1610.3 634.4 1610.8 635.1 1611.3 635.9 1611.8 636.7 1612.3 637.6 1612.8 638.5 1613.3 639.4 1613.8 640.3 1614.3 641.3 1614.8 642.3 1615.3 643.2 1615.8 644.2 1616.3 645.1 1616.8 645.9 1617.4 646.7 1617.9 647.4 1618.4 648.1 1618.9 648.7 1619.4 649.1 1619.9 649.5 1620.4 649.8 1620.9 650 1621.4 650.1 1621.9 650 1622.4 649.9 1622.9 649.6 1623.4 649.3 1623.9 648.8 1624.5 648.3 1625 647.7 1625.5 646.9 1626 646.2 1626.5 645.3 1627 644.5 1627.5 643.5 1628 642.6 1628.5 641.6 1629 640.7 1629.5 639.7 1630 638.8 1630.5 637.9 1631 637 1631.5 636.1 1632.1 635.4 1632.6 634.7 1633.1 634 1633.6 633.4 1634.1 632.9 1634.6 632.5 1635.1 632.2 1635.6 631.9 1636.1 631.7 1636.6 631.6 1637.1 631.6 1637.6 631.6 1638.1 631.7 1638.6 631.8 1639.1 632 1639.7 632.2 1640.2 632.4 1640.7 632.7 1641.2 633 1641.7 633.3 1642.2 633.5 1642.7 633.8 1643.2 634 1643.7 634.3 1644.2 634.5 1644.7 634.6 1645.2 634.7 1645.7 634.8 1646.2 634.8 1646.7 634.8 1647.3 634.7 1647.8 634.6 1648.3 634.5 1648.8 634.3 1649.3 634.1 1649.8 633.8 1650.3 633.6 1650.8 633.3 1651.3 633 1651.8 632.7 1652.3 632.5 1652.8 632.2 1653.3 632 1653.8 631.8 1654.3 631.7 1654.9 631.6 1655.4 631.6 1655.9 631.6 1656.4 631.7 1656.9 631.9 1657.4 632.2 1657.9 632.5 1658.4 632.9 1658.9 633.4 1659.4 634 1659.9 634.6 1660.4 635.3 1660.9 636.1 1661.4 636.9 1662 637.8 1662.5 638.7 1663 639.6 1663.5 640.6 1664 641.6 1664.5 642.5 1665 643.5 1665.5 644.4 1666 645.3 1666.5 646.1 1667 646.9 1667.5 647.6 1668 648.2 1668.5 648.8 1669 649.2 1669.6 649.6 1670.1 649.9 1670.6 650 1671.1 650.1 1671.6 650 1672.1 649.8 1672.6 649.5 1673.1 649.2 1673.6 648.7 1674.1 648.1 1674.6 647.5 1675.1 646.7 1675.6 646 1676.1 645.1 1676.6 644.2 1677.2 643.3 1677.7 642.3 1678.2 641.4 1678.7 640.4 1679.2 639.5 1679.7 638.5 1680.2 637.6 1680.7 636.8 1681.2 635.9 1681.7 635.2 1682.2 634.5 1682.7 633.9 1683.2 633.3 1683.7 632.8 1684.2 632.4 1684.8 632.1 1685.3 631.9 1685.8 631.7 1686.3 631.6 1686.8 631.6 1687.3 631.6 1687.8 631.7 1688.3 631.8 1688.8 632 1689.3 632.3 1689.8 632.5 1690.3 632.8 1690.8 633.1 1691.3 633.3 1691.8 633.6 1692.4 633.9 1692.9 634.1 1693.4 634.3 1693.9 634.5 1694.4 634.6 1694.9 634.7 1695.4 634.8 1695.9 634.8 1696.4 634.8 1696.9 634.7 1697.4 634.6 1697.9 634.4 1698.4 634.2 1698.9 634 1699.5 633.8" stroke="#0670BB" stroke-width="3.6"/>
<path d="M990 794.2 990.2 768.2 990.5 746.4 990.7 728.1 990.9 712.8 991.2 699.9 991.4 689.1 991.7 680.1 991.9 672.4 992.1 665.9 992.4 660.4 992.6 655.7 992.8 651.6 993.1 648 993.3 644.8 993.5 642 993.8 639.4 994 637 994.3 634.8 994.5 632.8 994.7 631 995 629.4 995.2 628.1 995.4 627.1 995.7 626.3 995.9 625.9 996.1 625.7 996.4 625.9 996.6 626.3 996.9 626.9 997.1 627.7 997.3 628.6 997.6 629.5 997.8 630.4 998 631.3 998.3 632.1 998.5 632.8 998.7 633.4 999 634 999.2 634.4 999.5 634.8 999.7 635.1 999.9 635.3 1000.2 635.5 1000.4 635.7 1000.6 635.9 1000.9 636 1001.1 636.2 1001.4 636.3 1001.6 636.4 1001.8 636.5 1002.1 636.6 1002.3 636.7 1002.5 636.7 1002.8 636.8 1003 636.9 1003.2 636.9 1003.5 637 1003.7 637 1004 637 1004.2 637.1 1004.4 637.1 1004.7 637.1 1004.9 637.1 1005.1 637 1005.4 637 1005.6 637 1005.8 636.9 1006.1 636.9 1006.3 636.8 1006.6 636.7 1006.8 636.6 1007 636.5 1007.3 636.4 1007.5 636.3 1007.7 636.2 1008 636.1 1008.2 636 1008.4 635.9 1008.7 635.7 1008.9 635.6 1009.2 635.5 1009.4 635.4 1009.6 635.2 1009.9 635.1 1010.1 635 1010.3 634.8 1010.6 634.7 1010.8 634.6 1011 634.5 1011.3 634.4 1011.5 634.3 1011.8 634.2 1012 634.1 1012.2 634 1012.5 634 1012.7 633.9 1012.9 633.9 1013.2 633.9 1013.4 633.8 1013.6 633.8 1013.9 633.9 1014.1 633.9 1014.4 633.9 1014.6 634 1014.8 634.1 1015.1 634.1 1015.3 634.2 1015.5 634.4 1015.8 634.5 1016 634.7 1016.2 634.8 1016.5 635 1016.7 635.2 1017 635.5 1017.2 635.7 1017.4 636 1017.7 636.2 1017.9 636.5 1018.1 636.8 1018.4 637.2 1018.6 637.5 1018.9 637.8 1019.1 638.2 1019.3 638.6 1019.6 639 1019.8 639.4 1020 639.8 1020.3 640.2 1020.5 640.6 1020.7 641 1021 641.5 1021.2 641.9 1021.5 642.3 1021.7 642.8 1021.9 643.2 1022.2 643.7 1022.4 644.1 1022.6 644.6 1022.9 645 1023.1 645.5 1023.3 645.9 1023.6 646.4 1023.8 646.8 1024.1 647.2 1024.3 647.6 1024.5 648 1024.8 648.4 1025 648.7 1025.2 649.1 1025.5 649.5 1025.7 649.8 1025.9 650.1 1026.2 650.4 1026.4 650.7 1026.7 650.9 1026.9 651.2 1027.1 651.4 1027.4 651.6 1027.6 651.7 1027.8 651.9 1028.1 652 1028.3 652.1 1028.5 652.2 1028.8 652.3 1029 652.3 1029.3 652.3 1029.5 652.3 1029.7 652.3 1030 652.2 1030.2 652.1 1030.4 652 1030.7 651.9 1030.9 651.8 1031.1 651.6 1031.4 651.4 1031.6 651.2 1031.9 651 1032.1 650.7 1032.3 650.4 1032.6 650.1 1032.8 649.8 1033 649.5 1033.3 649.2 1033.5 648.8 1033.7 648.4 1034 648.1 1034.2 647.7 1034.5 647.3 1034.7 646.8 1034.9 646.4 1035.2 646 1035.4 645.6 1035.6 645.1 1035.9 644.7 1036.1 644.2 1036.4 643.8 1036.6 643.3 1036.8 642.9 1037.1 642.4 1037.3 642 1037.5 641.5 1037.8 641.1 1038 640.7 1038.2 640.2 1038.5 639.8 1038.7 639.4 1039 639 1039.2 638.6 1039.4 638.3 1039.7 637.9 1039.9 637.5 1040.1 637.2 1040.4 636.9 1040.6 636.6 1040.8 636.3 1041.1 636 1041.3 635.7 1041.6 635.5 1041.8 635.3 1042 635.1 1042.3 634.9 1042.5 634.7 1042.7 634.5 1043 634.4 1043.2 634.3 1043.4 634.2 1043.7 634.1 1043.9 634 1044.2 633.9 1044.4 633.9 1044.6 633.9 1044.9 633.8 1045.1 633.8 1045.3 633.9 1045.6 633.9 1045.8 633.9 1046 634 1046.3 634 1046.5 634.1 1046.8 634.2 1047 634.3 1047.2 634.4 1047.5 634.5 1047.7 634.6 1047.9 634.7 1048.2 634.8 1048.4 634.9 1048.6 635.1 1048.9 635.2 1049.1 635.3 1049.4 635.5 1049.6 635.6 1049.8 635.7 1050.1 635.9 1050.3 636 1050.5 636.1 1050.8 636.2 1051 636.3 1051.2 636.4 1051.5 636.5 1051.7 636.6 1052 636.7 1052.2 636.8 1052.4 636.9 1052.7 636.9 1052.9 637 1053.1 637 1053.4 637 1053.6 637.1 1053.9 637.1 1054.1 637.1 1054.3 637.1 1054.6 637 1054.8 637 1055 637 1055.3 636.9 1055.5 636.9 1055.7 636.8 1056 636.8 1056.2 636.7 1056.5 636.6 1056.7 636.5 1056.9 636.4 1057.2 636.3 1057.4 636.2 1057.6 636 1057.9 635.9 1058.1 635.8 1058.3 635.7 1058.6 635.5 1058.8 635.4 1059.1 635.3 1059.3 635.2 1059.5 635 1059.8 634.9 1060 634.8 1060.2 634.7 1060.5 634.5 1060.7 634.4 1060.9 634.3 1061.2 634.2 1061.4 634.1 1061.7 634.1 1061.9 634 1062.1 633.9 1062.4 633.9 1062.6 633.9 1062.8 633.8 1063.1 633.8 1063.3 633.8 1063.5 633.9 1063.8 633.9 1064 633.9 1064.3 634 1064.5 634.1 1064.7 634.2 1065 634.3 1065.2 634.4 1065.4 634.6 1065.7 634.8 1065.9 634.9 1066.1 635.1 1066.4 635.4 1066.6 635.6 1066.9 635.8 1067.1 636.1 1067.3 636.4 1067.6 636.7 1067.8 637 1068 637.3 1068.3 637.7 1068.5 638 1068.7 638.4 1069 638.8 1069.2 639.2 1069.5 639.6 1069.7 640 1069.9 640.4 1070.2 640.8 1070.4 641.3 1070.6 641.7 1070.9 642.2 1071.1 642.6 1071.4 643 1071.6 643.5 1071.8 643.9 1072.1 644.4 1072.3 644.8 1072.5 645.3 1072.8 645.7 1073 646.2 1073.2 646.6 1073.5 647 1073.7 647.4 1074 647.8 1074.2 648.2 1074.4 648.6 1074.7 649 1074.9 649.3 1075.1 649.6 1075.4 650 1075.6 650.3 1075.8 650.5 1076.1 650.8 1076.3 651 1076.6 651.3 1076.8 651.5 1077 651.7 1077.3 651.8 1077.5 652 1077.7 652.1 1078 652.2 1078.2 652.2 1078.4 652.3 1078.7 652.3 1078.9 652.3 1079.2 652.3 1079.4 652.2 1079.6 652.2 1079.9 652.1 1080.1 652 1080.3 651.8 1080.6 651.7 1080.8 651.5 1081 651.3 1081.3 651.1 1081.5 650.8 1081.8 650.5 1082 650.3 1082.2 650 1082.5 649.6 1082.7 649.3 1082.9 649 1083.2 648.6 1083.4 648.2 1083.6 647.8 1083.9 647.4 1084.1 647 1084.4 646.6 1084.6 646.2 1084.8 645.7 1085.1 645.3 1085.3 644.9 1085.5 644.4 1085.8 644 1086 643.5 1086.2 643.1 1086.5 642.6 1086.7 642.2 1087 641.7 1087.2 641.3 1087.4 640.9 1087.7 640.4 1087.9 640 1088.1 639.6 1088.4 639.2 1088.6 638.8 1088.9 638.4 1089.1 638.1 1089.3 637.7 1089.6 637.4 1089.8 637 1090 636.7 1090.3 636.4 1090.5 636.1 1090.7 635.9 1091 635.6 1091.2 635.4 1091.5 635.2 1091.7 635 1091.9 634.8 1092.2 634.6 1092.4 634.5 1092.6 634.3 1092.9 634.2 1093.1 634.1 1093.3 634 1093.6 634 1093.8 633.9 1094.1 633.9 1094.3 633.8 1094.5 633.8 1094.8 633.8 1095 633.9 1095.2 633.9 1095.5 633.9 1095.7 634 1095.9 634.1 1096.2 634.1 1096.4 634.2 1096.7 634.3 1096.9 634.4 1097.1 634.5 1097.4 634.7 1097.6 634.8 1097.8 634.9 1098.1 635 1098.3 635.1 1098.5 635.3 1098.8 635.4 1099 635.5 1099.3 635.7 1099.5 635.8 1099.7 635.9 1100 636 1100.2 636.2 1100.4 636.3 1100.7 636.4 1100.9 636.5 1101.1 636.6 1101.4 636.7 1101.6 636.7 1101.9 636.8 1102.1 636.9 1102.3 636.9 1102.6 637 1102.8 637 1103 637 1103.3 637.1 1103.5 637.1 1103.7 637.1 1104 637.1 1104.2 637 1104.5 637 1104.7 637 1104.9 636.9 1105.2 636.9 1105.4 636.8 1105.6 636.7 1105.9 636.6 1106.1 636.5 1106.3 636.4 1106.6 636.3 1106.8 636.2 1107.1 636.1 1107.3 636 1107.5 635.9 1107.8 635.7 1108 635.6 1108.2 635.5 1108.5 635.3 1108.7 635.2 1109 635.1 1109.2 635 1109.4 634.8 1109.7 634.7 1109.9 634.6 1110.1 634.5 1110.4 634.4 1110.6 634.3 1110.8 634.2 1111.1 634.1 1111.3 634 1111.6 634 1111.8 633.9 1112 633.9 1112.3 633.9 1112.5 633.8 1112.7 633.8 1113 633.9 1113.2 633.9 1113.4 633.9 1113.7 634 1113.9 634.1 1114.2 634.2 1114.4 634.3 1114.6 634.4 1114.9 634.5 1115.1 634.7 1115.3 634.9 1115.6 635.1 1115.8 635.3 1116 635.5 1116.3 635.7 1116.5 636 1116.8 636.3 1117 636.6 1117.2 636.9 1117.5 637.2 1117.7 637.5 1117.9 637.9 1118.2 638.2 1118.4 638.6 1118.6 639 1118.9 639.4 1119.1 639.8 1119.4 640.2 1119.6 640.6 1119.8 641.1 1120.1 641.5 1120.3 642 1120.5 642.4 1120.8 642.8 1121 643.3 1121.2 643.7 1121.5 644.2 1121.7 644.6 1122 645.1 1122.2 645.5 1122.4 646 1122.7 646.4 1122.9 646.8 1123.1 647.2 1123.4 647.6 1123.6 648 1123.8 648.4 1124.1 648.8 1124.3 649.1 1124.6 649.5 1124.8 649.8 1125 650.1 1125.3 650.4 1125.5 650.7 1125.7 650.9 1126 651.2 1126.2 651.4 1126.5 651.6 1126.7 651.8 1126.9 651.9 1127.2 652 1127.4 652.1 1127.6 652.2 1127.9 652.3 1128.1 652.3 1128.3 652.3 1128.6 652.3 1128.8 652.3 1129.1 652.2 1129.3 652.1 1129.5 652 1129.8 651.9 1130 651.7 1130.2 651.6 1130.5 651.4 1130.7 651.2 1130.9 650.9 1131.2 650.7 1131.4 650.4 1131.7 650.1 1131.9 649.8 1132.1 649.5 1132.4 649.1 1132.6 648.8 1132.8 648.4 1133.1 648 1133.3 647.6 1133.5 647.2 1133.8 646.8 1134 646.4 1134.3 645.9 1134.5 645.5 1134.7 645.1 1135 644.6 1135.2 644.2 1135.4 643.7 1135.7 643.3 1135.9 642.8 1136.1 642.4 1136.4 641.9 1136.6 641.5 1136.9 641 1137.1 640.6 1137.3 640.2 1137.6 639.8 1137.8 639.4 1138 639 1138.3 638.6 1138.5 638.2 1138.7 637.8 1139 637.5 1139.2 637.2 1139.5 636.8 1139.7 636.5 1139.9 636.2 1140.2 636 1140.4 635.7 1140.6 635.5 1140.9 635.2 1141.1 635 1141.3 634.8 1141.6 634.7 1141.8 634.5 1142.1 634.4 1142.3 634.3 1142.5 634.1 1142.8 634.1 1143 634 1143.2 633.9 1143.5 633.9 1143.7 633.9 1144 633.8 1144.2 633.8 1144.4 633.9 1144.7 633.9 1144.9 633.9 1145.1 634 1145.4 634 1145.6 634.1 1145.8 634.2 1146.1 634.3 1146.3 634.4 1146.6 634.5 1146.8 634.6 1147 634.7 1147.3 634.8 1147.5 635 1147.7 635.1 1148 635.2 1148.2 635.4 1148.4 635.5 1148.7 635.6 1148.9 635.7 1149.2 635.9 1149.4 636 1149.6 636.1 1149.9 636.2 1150.1 636.3 1150.3 636.4 1150.6 636.5 1150.8 636.6 1151 636.7 1151.3 636.8 1151.5 636.9 1151.8 636.9 1152 637 1152.2 637 1152.5 637 1152.7 637.1 1152.9 637.1 1153.2 637.1 1153.4 637.1 1153.6 637 1153.9 637 1154.1 637 1154.4 636.9 1154.6 636.9 1154.8 636.8 1155.1 636.7 1155.3 636.7 1155.5 636.6 1155.8 636.5 1156 636.4 1156.2 636.3 1156.5 636.2 1156.7 636 1157 635.9 1157.2 635.8 1157.4 635.7 1157.7 635.5 1157.9 635.4 1158.1 635.3 1158.4 635.1 1158.6 635 1158.8 634.9 1159.1 634.8 1159.3 634.6 1159.6 634.5 1159.8 634.4 1160 634.3 1160.3 634.2 1160.5 634.1 1160.7 634.1 1161 634 1161.2 633.9 1161.5 633.9 1161.7 633.9 1161.9 633.8 1162.2 633.8 1162.4 633.8 1162.6 633.9 1162.9 633.9 1163.1 634 1163.3 634 1163.6 634.1 1163.8 634.2 1164.1 634.3 1164.3 634.5 1164.5 634.6 1164.8 634.8 1165 635 1165.2 635.2 1165.5 635.4 1165.7 635.6 1165.9 635.9 1166.2 636.1 1166.4 636.4 1166.7 636.7 1166.9 637.1 1167.1 637.4 1167.4 637.7 1167.6 638.1 1167.8 638.5 1168.1 638.8 1168.3 639.2 1168.5 639.6 1168.8 640 1169 640.5 1169.3 640.9 1169.5 641.3 1169.7 641.8 1170 642.2 1170.2 642.7 1170.4 643.1 1170.7 643.6 1170.9 644 1171.1 644.5 1171.4 644.9 1171.6 645.3 1171.9 645.8 1172.1 646.2 1172.3 646.6 1172.6 647.1 1172.8 647.5 1173 647.9 1173.3 648.3 1173.5 648.6 1173.7 649 1174 649.3 1174.2 649.7 1174.5 650 1174.7 650.3 1174.9 650.6 1175.2 650.8 1175.4 651.1 1175.6 651.3 1175.9 651.5 1176.1 651.7 1176.3 651.8 1176.6 652 1176.8 652.1 1177.1 652.2 1177.3 652.3 1177.5 652.3 1177.8 652.3 1178 652.3 1178.2 652.3 1178.5 652.2 1178.7 652.2 1179 652.1 1179.2 652 1179.4 651.8 1179.7 651.6 1179.9 651.5 1180.1 651.3 1180.4 651 1180.6 650.8 1180.8 650.5 1181.1 650.2 1181.3 649.9 1181.6 649.6 1181.8 649.3 1182 648.9 1182.3 648.6 1182.5 648.2 1182.7 647.8 1183 647.4 1183.2 647 1183.4 646.6 1183.7 646.1 1183.9 645.7 1184.2 645.3 1184.4 644.8 1184.6 644.4 1184.9 643.9 1185.1 643.5 1185.3 643 1185.6 642.6 1185.8 642.1 1186 641.7 1186.3 641.2 1186.5 640.8 1186.8 640.4 1187 640 1187.2 639.5 1187.5 639.1 1187.7 638.8 1187.9 638.4 1188.2 638 1188.4 637.7 1188.6 637.3 1188.9 637 1189.1 636.7 1189.4 636.4 1189.6 636.1 1189.8 635.8 1190.1 635.6 1190.3 635.3 1190.5 635.1 1190.8 634.9 1191 634.7 1191.2 634.6 1191.5 634.4 1191.7 634.3 1192 634.2 1192.2 634.1 1192.4 634 1192.7 633.9 1192.9 633.9 1193.1 633.9 1193.4 633.8 1193.6 633.8 1193.8 633.8 1194.1 633.9 1194.3 633.9 1194.6 634 1194.8 634 1195 634.1 1195.3 634.2 1195.5 634.2 1195.7 634.3 1196 634.4 1196.2 634.6 1196.4 634.7 1196.7 634.8 1196.9 634.9 1197.2 635 1197.4 635.2 1197.6 635.3 1197.9 635.4 1198.1 635.6 1198.3 635.7 1198.6 635.8 1198.8 635.9 1199.1 636.1 1199.3 636.2 1199.5 636.3 1199.8 636.4 1200 636.5 1200.2 636.6 1200.5 636.7 1200.7 636.8 1200.9 636.8 1201.2 636.9 1201.4 636.9 1201.7 637 1201.9 637 1202.1 637.1 1202.4 637.1 1202.6 637.1 1202.8 637.1 1203.1 637.1 1203.3 637 1203.5 637 1203.8 637 1204 636.9 1204.3 636.8 1204.5 636.8 1204.7 636.7 1205 636.6 1205.2 636.5 1205.4 636.4 1205.7 636.3 1205.9 636.2 1206.1 636.1 1206.4 636 1206.6 635.8 1206.9 635.7 1207.1 635.6 1207.3 635.5 1207.6 635.3 1207.8 635.2 1208 635.1 1208.3 634.9 1208.5 634.8 1208.7 634.7 1209 634.6 1209.2 634.5 1209.5 634.4 1209.7 634.3 1209.9 634.2 1210.2 634.1 1210.4 634 1210.6 634 1210.9 633.9 1211.1 633.9 1211.3 633.9 1211.6 633.8 1211.8 633.8 1212.1 633.9 1212.3 633.9 1212.5 633.9 1212.8 634 1213 634.1 1213.2 634.2 1213.5 634.3 1213.7 634.4 1213.9 634.5 1214.2 634.7 1214.4 634.9 1214.7 635.1 1214.9 635.3 1215.1 635.5 1215.4 635.8 1215.6 636 1215.8 636.3 1216.1 636.6 1216.3 636.9 1216.6 637.2 1216.8 637.6 1217 637.9 1217.3 638.3 1217.5 638.7 1217.7 639.1 1218 639.4 1218.2 639.9 1218.4 640.3 1218.7 640.7 1218.9 641.1 1219.2 641.6 1219.4 642 1219.6 642.5 1219.9 642.9 1220.1 643.4 1220.3 643.8 1220.6 644.3 1220.8 644.7 1221 645.1 1221.3 645.6 1221.5 646 1221.8 646.5 1222 646.9 1222.2 647.3 1222.5 647.7 1222.7 648.1 1222.9 648.5 1223.2 648.8 1223.4 649.2 1223.6 649.5 1223.9 649.9 1224.1 650.2 1224.4 650.5 1224.6 650.7 1224.8 651 1225.1 651.2 1225.3 651.4 1225.5 651.6 1225.8 651.8 1226 651.9 1226.2 652 1226.5 652.1 1226.7 652.2 1227 652.3 1227.2 652.3 1227.4 652.3 1227.7 652.3 1227.9 652.3 1228.1 652.2 1228.4 652.1 1228.6 652 1228.8 651.9 1229.1 651.7 1229.3 651.5 1229.6 651.3 1229.8 651.1 1230 650.9 1230.3 650.6 1230.5 650.4 1230.7 650.1 1231 649.8 1231.2 649.4 1231.4 649.1 1231.7 648.7 1231.9 648.3 1232.2 648 1232.4 647.6 1232.6 647.2 1232.9 646.7 1233.1 646.3 1233.3 645.9 1233.6 645.4 1233.8 645 1234.1 644.6 1234.3 644.1 1234.5 643.7 1234.8 643.2 1235 642.8 1235.2 642.3 1235.5 641.9 1235.7 641.4 1235.9 641 1236.2 640.6 1236.4 640.1 1236.7 639.7 1236.9 639.3 1237.1 638.9 1237.4 638.5 1237.6 638.2 1237.8 637.8 1238.1 637.5 1238.3 637.1 1238.5 636.8 1238.8 636.5 1239 636.2 1239.3 635.9 1239.5 635.7 1239.7 635.4 1240 635.2 1240.2 635 1240.4 634.8 1240.7 634.7 1240.9 634.5 1241.1 634.4 1241.4 634.2 1241.6 634.1 1241.9 634 1242.1 634 1242.3 633.9 1242.6 633.9 1242.8 633.8 1243 633.8 1243.3 633.8 1243.5 633.9 1243.7 633.9 1244 633.9 1244.2 634 1244.5 634 1244.7 634.1 1244.9 634.2 1245.2 634.3 1245.4 634.4 1245.6 634.5 1245.9 634.6 1246.1 634.7 1246.3 634.9 1246.6 635 1246.8 635.1 1247.1 635.2 1247.3 635.4 1247.5 635.5 1247.8 635.6 1248 635.8 1248.2 635.9 1248.5 636 1248.7 636.1 1248.9 636.2 1249.2 636.3 1249.4 636.5 1249.7 636.6 1249.9 636.6 1250.1 636.7 1250.4 636.8 1250.6 636.9 1250.8 636.9 1251.1 637 1251.3 637 1251.6 637 1251.8 637.1 1252 637.1 1252.3 637.1 1252.5 637.1 1252.7 637 1253 637 1253.2 637 1253.4 636.9 1253.7 636.9 1253.9 636.8 1254.2 636.7 1254.4 636.7 1254.6 636.6 1254.9 636.5 1255.1 636.4 1255.3 636.3 1255.6 636.1 1255.8 636 1256 635.9 1256.3 635.8 1256.5 635.6 1256.8 635.5 1257 635.4 1257.2 635.3 1257.5 635.1 1257.7 635 1257.9 634.9 1258.2 634.7 1258.4 634.6 1258.6 634.5 1258.9 634.4 1259.1 634.3 1259.4 634.2 1259.6 634.1 1259.8 634.1 1260.1 634 1260.3 633.9 1260.5 633.9 1260.8 633.9 1261 633.8 1261.2 633.8 1261.5 633.8 1261.7 633.9 1262 633.9 1262.2 634 1262.4 634 1262.7 634.1 1262.9 634.2 1263.1 634.3 1263.4 634.5 1263.6 634.6 1263.8 634.8 1264.1 635 1264.3 635.2 1264.6 635.4 1264.8 635.7 1265 635.9 1265.3 636.2 1265.5 636.5 1265.7 636.8 1266 637.1 1266.2 637.4 1266.4 637.8 1266.7 638.1 1266.9 638.5 1267.2 638.9 1267.4 639.3 1267.6 639.7 1267.9 640.1 1268.1 640.5 1268.3 640.9 1268.6 641.4 1268.8 641.8 1269.1 642.3 1269.3 642.7 1269.5 643.2 1269.8 643.6 1270 644.1 1270.2 644.5 1270.5 645 1270.7 645.4 1270.9 645.8 1271.2 646.3 1271.4 646.7 1271.7 647.1 1271.9 647.5 1272.1 647.9 1272.4 648.3 1272.6 648.7 1272.8 649 1273.1 649.4 1273.3 649.7 1273.5 650 1273.8 650.3 1274 650.6 1274.3 650.9 1274.5 651.1 1274.7 651.3 1275 651.5 1275.2 651.7 1275.4 651.9 1275.7 652 1275.9 652.1 1276.1 652.2 1276.4 652.3 1276.6 652.3 1276.9 652.3 1277.1 652.3 1277.3 652.3 1277.6 652.2 1277.8 652.2 1278 652.1 1278.3 651.9 1278.5 651.8 1278.7 651.6 1279 651.4 1279.2 651.2 1279.5 651 1279.7 650.8 1279.9 650.5 1280.2 650.2 1280.4 649.9 1280.6 649.6 1280.9 649.2 1281.1 648.9 1281.3 648.5 1281.6 648.1 1281.8 647.7 1282.1 647.3 1282.3 646.9 1282.5 646.5 1282.8 646.1 1283 645.6 1283.2 645.2 1283.5 644.8 1283.7 644.3 1283.9 643.9 1284.2 643.4 1284.4 643 1284.7 642.5 1284.9 642.1 1285.1 641.6 1285.4 641.2 1285.6 640.7 1285.8 640.3 1286.1 639.9 1286.3 639.5 1286.6 639.1 1286.8 638.7 1287 638.3 1287.3 638 1287.5 637.6 1287.7 637.3 1288 636.9 1288.2 636.6 1288.4 636.3 1288.7 636.1 1288.9 635.8 1289.2 635.5 1289.4 635.3 1289.6 635.1 1289.9 634.9 1290.1 634.7 1290.3 634.6 1290.6 634.4 1290.8 634.3 1291 634.2 1291.3 634.1 1291.5 634 1291.8 633.9 1292 633.9 1292.2 633.9 1292.5 633.8 1292.7 633.8 1292.9 633.8 1293.2 633.9 1293.4 633.9 1293.6 634 1293.9 634 1294.1 634.1 1294.4 634.2 1294.6 634.3 1294.8 634.4 1295.1 634.5 1295.3 634.6 1295.5 634.7 1295.8 634.8 1296 634.9 1296.2 635.1 1296.5 635.2 1296.7 635.3 1297 635.4 1297.2 635.6 1297.4 635.7 1297.7 635.8 1297.9 636 1298.1 636.1 1298.4 636.2 1298.6 636.3 1298.8 636.4 1299.1 636.5 1299.3 636.6 1299.6 636.7 1299.8 636.8 1300 636.8 1300.3 636.9 1300.5 637 1300.7 637 1301 637 1301.2 637.1 1301.4 637.1 1301.7 637.1 1301.9 637.1 1302.2 637.1 1302.4 637 1302.6 637 1302.9 637 1303.1 636.9 1303.3 636.8 1303.6 636.8 1303.8 636.7 1304 636.6 1304.3 636.5 1304.5 636.4 1304.8 636.3 1305 636.2 1305.2 636.1 1305.5 636 1305.7 635.8 1305.9 635.7 1306.2 635.6 1306.4 635.4 1306.7 635.3 1306.9 635.2 1307.1 635.1 1307.4 634.9 1307.6 634.8 1307.8 634.7 1308.1 634.6 1308.3 634.5 1308.5 634.3 1308.8 634.3 1309 634.2 1309.3 634.1 1309.5 634 1309.7 634 1310 633.9 1310.2 633.9 1310.4 633.8 1310.7 633.8 1310.9 633.8 1311.1 633.9 1311.4 633.9 1311.6 633.9 1311.9 634 1312.1 634.1 1312.3 634.2 1312.6 634.3 1312.8 634.4 1313 634.6 1313.3 634.7 1313.5 634.9 1313.7 635.1 1314 635.3 1314.2 635.6 1314.5 635.8 1314.7 636.1 1314.9 636.3 1315.2 636.6 1315.4 636.9 1315.6 637.3 1315.9 637.6 1316.1 638 1316.3 638.3 1316.6 638.7 1316.8 639.1 1317.1 639.5 1317.3 639.9 1317.5 640.3 1317.8 640.7 1318 641.2 1318.2 641.6 1318.5 642.1 1318.7 642.5 1318.9 643 1319.2 643.4 1319.4 643.9 1319.7 644.3 1319.9 644.8 1320.1 645.2 1320.4 645.6 1320.6 646.1 1320.8 646.5 1321.1 646.9 1321.3 647.3 1321.5 647.7 1321.8 648.1 1322 648.5 1322.3 648.9 1322.5 649.2 1322.7 649.6 1323 649.9 1323.2 650.2 1323.4 650.5 1323.7 650.8 1323.9 651 1324.2 651.2 1324.4 651.4 1324.6 651.6 1324.9 651.8 1325.1 651.9 1325.3 652.1 1325.6 652.2 1325.8 652.2 1326 652.3 1326.3 652.3 1326.5 652.3 1326.8 652.3 1327 652.3 1327.2 652.2 1327.5 652.1 1327.7 652 1327.9 651.9 1328.2 651.7 1328.4 651.5 1328.6 651.3 1328.9 651.1 1329.1 650.9 1329.4 650.6 1329.6 650.3 1329.8 650 1330.1 649.7 1330.3 649.4 1330.5 649 1330.8 648.7 1331 648.3 1331.2 647.9 1331.5 647.5 1331.7 647.1 1332 646.7 1332.2 646.3 1332.4 645.8 1332.7 645.4 1332.9 645 1333.1 644.5 1333.4 644.1 1333.6 643.6 1333.8 643.2 1334.1 642.7 1334.3 642.3 1334.6 641.8 1334.8 641.4 1335 640.9 1335.3 640.5 1335.5 640.1 1335.7 639.7 1336 639.3 1336.2 638.9 1336.4 638.5 1336.7 638.1 1336.9 637.8 1337.2 637.4 1337.4 637.1 1337.6 636.8 1337.9 636.5 1338.1 636.2 1338.3 635.9 1338.6 635.7 1338.8 635.4 1339 635.2 1339.3 635 1339.5 634.8 1339.8 634.6 1340 634.5 1340.2 634.3 1340.5 634.2 1340.7 634.1 1340.9 634 1341.2 634 1341.4 633.9 1341.7 633.9 1341.9 633.8 1342.1 633.8 1342.4 633.8 1342.6 633.9 1342.8 633.9 1343.1 633.9 1343.3 634 1343.5 634.1 1343.8 634.1 1344 634.2 1344.3 634.3 1344.5 634.4 1344.7 634.5 1345 634.6 1345.2 634.7 1345.4 634.9 1345.7 635 1345.9 635.1 1346.1 635.3 1346.4 635.4 1346.6 635.5 1346.9 635.6 1347.1 635.8 1347.3 635.9 1347.6 636 1347.8 636.1 1348 636.3 1348.3 636.4 1348.5 636.5 1348.7 636.6 1349 636.7 1349.2 636.7 1349.5 636.8 1349.7 636.9 1349.9 636.9 1350.2 637 1350.4 637 1350.6 637 1350.9 637.1 1351.1 637.1 1351.3 637.1 1351.6 637.1 1351.8 637 1352.1 637 1352.3 637 1352.5 636.9 1352.8 636.9 1353 636.8 1353.2 636.7 1353.5 636.6 1353.7 636.6 1353.9 636.5 1354.2 636.3 1354.4 636.2 1354.7 636.1 1354.9 636 1355.1 635.9 1355.4 635.8 1355.6 635.6 1355.8 635.5 1356.1 635.4 1356.3 635.2 1356.5 635.1 1356.8 635 1357 634.9 1357.3 634.7 1357.5 634.6 1357.7 634.5 1358 634.4 1358.2 634.3 1358.4 634.2 1358.7 634.1 1358.9 634 1359.2 634 1359.4 633.9 1359.6 633.9 1359.9 633.9 1360.1 633.8 1360.3 633.8 1360.6 633.8 1360.8 633.9 1361 633.9 1361.3 634 1361.5 634 1361.8 634.1 1362 634.2 1362.2 634.4 1362.5 634.5 1362.7 634.7 1362.9 634.8 1363.2 635 1363.4 635.2 1363.6 635.4 1363.9 635.7 1364.1 635.9 1364.4 636.2 1364.6 636.5 1364.8 636.8 1365.1 637.1 1365.3 637.5 1365.5 637.8 1365.8 638.2 1366 638.5 1366.2 638.9 1366.5 639.3 1366.7 639.7 1367 640.1 1367.2 640.6 1367.4 641 1367.7 641.4 1367.9 641.9 1368.1 642.3 1368.4 642.8 1368.6 643.2 1368.8 643.7 1369.1 644.1 1369.3 644.6 1369.6 645 1369.8 645.4 1370 645.9 1370.3 646.3 1370.5 646.7 1370.7 647.2 1371 647.6 1371.2 648 1371.4 648.3 1371.7 648.7 1371.9 649.1 1372.2 649.4 1372.4 649.8 1372.6 650.1 1372.9 650.4 1373.1 650.6 1373.3 650.9 1373.6 651.1 1373.8 651.4 1374 651.5 1374.3 651.7 1374.5 651.9 1374.8 652 1375 652.1 1375.2 652.2 1375.5 652.3 1375.7 652.3 1375.9 652.3 1376.2 652.3 1376.4 652.3 1376.7 652.2 1376.9 652.1 1377.1 652 1377.4 651.9 1377.6 651.8 1377.8 651.6 1378.1 651.4 1378.3 651.2 1378.5 651 1378.8 650.7 1379 650.4 1379.3 650.2 1379.5 649.9 1379.7 649.5 1380 649.2 1380.2 648.8 1380.4 648.5 1380.7 648.1 1380.9 647.7 1381.1 647.3 1381.4 646.9 1381.6 646.5 1381.9 646 1382.1 645.6 1382.3 645.1 1382.6 644.7 1382.8 644.3 1383 643.8 1383.3 643.4 1383.5 642.9 1383.7 642.5 1384 642 1384.2 641.6 1384.5 641.1 1384.7 640.7 1384.9 640.3 1385.2 639.9 1385.4 639.4 1385.6 639 1385.9 638.7 1386.1 638.3 1386.3 637.9 1386.6 637.6 1386.8 637.2 1387.1 636.9 1387.3 636.6 1387.5 636.3 1387.8 636 1388 635.8 1388.2 635.5 1388.5 635.3 1388.7 635.1 1388.9 634.9 1389.2 634.7 1389.4 634.5 1389.7 634.4 1389.9 634.3 1390.1 634.2 1390.4 634.1 1390.6 634 1390.8 633.9 1391.1 633.9 1391.3 633.9 1391.5 633.8 1391.8 633.8 1392 633.9 1392.3 633.9 1392.5 633.9 1392.7 634 1393 634 1393.2 634.1 1393.4 634.2 1393.7 634.3 1393.9 634.4 1394.2 634.5 1394.4 634.6 1394.6 634.7 1394.9 634.8 1395.1 634.9 1395.3 635.1 1395.6 635.2 1395.8 635.3 1396 635.5 1396.3 635.6 1396.5 635.7 1396.8 635.8 1397 636 1397.2 636.1 1397.5 636.2 1397.7 636.3 1397.9 636.4 1398.2 636.5 1398.4 636.6 1398.6 636.7 1398.9 636.8 1399.1 636.8 1399.4 636.9 1399.6 637 1399.8 637 1400.1 637 1400.3 637.1 1400.5 637.1 1400.8 637.1 1401 637.1 1401.2 637.1 1401.5 637 1401.7 637 1402 636.9 1402.2 636.9 1402.4 636.8 1402.7 636.8 1402.9 636.7 1403.1 636.6 1403.4 636.5 1403.6 636.4 1403.8 636.3 1404.1 636.2 1404.3 636.1 1404.6 635.9 1404.8 635.8 1405 635.7 1405.3 635.6 1405.5 635.4 1405.7 635.3 1406 635.2 1406.2 635 1406.4 634.9 1406.7 634.8 1406.9 634.7 1407.2 634.5 1407.4 634.4 1407.6 634.3 1407.9 634.2 1408.1 634.2 1408.3 634.1 1408.6 634 1408.8 634 1409 633.9 1409.3 633.9 1409.5 633.8 1409.8 633.8 1410 633.8 1410.2 633.9 1410.5 633.9 1410.7 633.9 1410.9 634 1411.2 634.1 1411.4 634.2 1411.6 634.3 1411.9 634.4 1412.1 634.6 1412.4 634.7 1412.6 634.9 1412.8 635.1 1413.1 635.3 1413.3 635.6 1413.5 635.8 1413.8 636.1 1414 636.4 1414.3 636.7 1414.5 637 1414.7 637.3 1415 637.7 1415.2 638 1415.4 638.4 1415.7 638.8 1415.9 639.1 1416.1 639.5 1416.4 640 1416.6 640.4 1416.9 640.8 1417.1 641.2 1417.3 641.7 1417.6 642.1 1417.8 642.6 1418 643 1418.3 643.5 1418.5 643.9 1418.7 644.4 1419 644.8 1419.2 645.3 1419.5 645.7 1419.7 646.1 1419.9 646.6 1420.2 647 1420.4 647.4 1420.6 647.8 1420.9 648.2 1421.1 648.6 1421.3 648.9 1421.6 649.3 1421.8 649.6 1422.1 649.9 1422.3 650.2 1422.5 650.5 1422.8 650.8 1423 651 1423.2 651.3 1423.5 651.5 1423.7 651.6 1423.9 651.8 1424.2 652 1424.4 652.1 1424.7 652.2 1424.9 652.2 1425.1 652.3 1425.4 652.3 1425.6 652.3 1425.8 652.3 1426.1 652.3 1426.3 652.2 1426.5 652.1 1426.8 652 1427 651.8 1427.3 651.7 1427.5 651.5 1427.7 651.3 1428 651.1 1428.2 650.8 1428.4 650.6 1428.7 650.3 1428.9 650 1429.1 649.7 1429.4 649.3 1429.6 649 1429.9 648.6 1430.1 648.3 1430.3 647.9 1430.6 647.5 1430.8 647.1 1431 646.6 1431.3 646.2 1431.5 645.8 1431.8 645.3 1432 644.9 1432.2 644.4 1432.5 644 1432.7 643.5 1432.9 643.1 1433.2 642.6 1433.4 642.2 1433.6 641.8 1433.9 641.3 1434.1 640.9 1434.4 640.5 1434.6 640 1434.8 639.6 1435.1 639.2 1435.3 638.8 1435.5 638.4 1435.8 638.1 1436 637.7 1436.2 637.4 1436.5 637 1436.7 636.7 1437 636.4 1437.2 636.1 1437.4 635.9 1437.7 635.6 1437.9 635.4 1438.1 635.2 1438.4 635 1438.6 634.8 1438.8 634.6 1439.1 634.5 1439.3 634.3 1439.6 634.2 1439.8 634.1 1440 634 1440.3 634 1440.5 633.9 1440.7 633.9 1441 633.8 1441.2 633.8 1441.4 633.8 1441.7 633.9 1441.9 633.9 1442.2 633.9 1442.4 634 1442.6 634.1 1442.9 634.1 1443.1 634.2 1443.3 634.3 1443.6 634.4 1443.8 634.5 1444 634.6 1444.3 634.8 1444.5 634.9 1444.8 635 1445 635.1 1445.2 635.3 1445.5 635.4 1445.7 635.5 1445.9 635.7 1446.2 635.8 1446.4 635.9 1446.6 636 1446.9 636.2 1447.1 636.3 1447.4 636.4 1447.6 636.5 1447.8 636.6 1448.1 636.7 1448.3 636.7 1448.5 636.8 1448.8 636.9 1449 636.9 1449.3 637 1449.5 637 1449.7 637 1450 637.1 1450.2 637.1 1450.4 637.1 1450.7 637.1 1450.9 637 1451.1 637 1451.4 637 1451.6 636.9 1451.9 636.9 1452.1 636.8 1452.3 636.7 1452.6 636.6 1452.8 636.5 1453 636.4 1453.3 636.3 1453.5 636.2 1453.7 636.1 1454 636 1454.2 635.9 1454.5 635.7 1454.7 635.6 1454.9 635.5 1455.2 635.4 1455.4 635.2 1455.6 635.1 1455.9 635 1456.1 634.8 1456.3 634.7 1456.6 634.6 1456.8 634.5 1457.1 634.4 1457.3 634.3 1457.5 634.2 1457.8 634.1 1458 634 1458.2 634 1458.5 633.9 1458.7 633.9 1458.9 633.9 1459.2 633.8 1459.4 633.8 1459.7 633.9 1459.9 633.9 1460.1 633.9 1460.4 634 1460.6 634.1 1460.8 634.1 1461.1 634.3 1461.3 634.4 1461.5 634.5 1461.8 634.7 1462 634.8 1462.3 635 1462.5 635.2 1462.7 635.5 1463 635.7 1463.2 636 1463.4 636.3 1463.7 636.5 1463.9 636.8 1464.1 637.2 1464.4 637.5 1464.6 637.9 1464.9 638.2 1465.1 638.6 1465.3 639 1465.6 639.4 1465.8 639.8 1466 640.2 1466.3 640.6 1466.5 641 1466.8 641.5 1467 641.9 1467.2 642.4 1467.5 642.8 1467.7 643.3 1467.9 643.7 1468.2 644.2 1468.4 644.6 1468.6 645.1 1468.9 645.5 1469.1 645.9 1469.4 646.4 1469.6 646.8 1469.8 647.2 1470.1 647.6 1470.3 648 1470.5 648.4 1470.8 648.8 1471 649.1 1471.2 649.5 1471.5 649.8 1471.7 650.1 1472 650.4 1472.2 650.7 1472.4 650.9 1472.7 651.2 1472.9 651.4 1473.1 651.6 1473.4 651.7 1473.6 651.9 1473.8 652 1474.1 652.1 1474.3 652.2 1474.6 652.3 1474.8 652.3 1475 652.3 1475.3 652.3 1475.5 652.3 1475.7 652.2 1476 652.1 1476.2 652 1476.4 651.9 1476.7 651.8 1476.9 651.6 1477.2 651.4 1477.4 651.2 1477.6 650.9 1477.9 650.7 1478.1 650.4 1478.3 650.1 1478.6 649.8 1478.8 649.5 1479 649.1 1479.3 648.8 1479.5 648.4 1479.8 648 1480 647.6 1480.2 647.2 1480.5 646.8 1480.7 646.4 1480.9 646 1481.2 645.5 1481.4 645.1 1481.6 644.6 1481.9 644.2 1482.1 643.7 1482.4 643.3 1482.6 642.8 1482.8 642.4 1483.1 642 1483.3 641.5 1483.5 641.1 1483.8 640.6 1484 640.2 1484.3 639.8 1484.5 639.4 1484.7 639 1485 638.6 1485.2 638.2 1485.4 637.9 1485.7 637.5 1485.9 637.2 1486.1 636.9 1486.4 636.6 1486.6 636.3 1486.9 636 1487.1 635.7 1487.3 635.5 1487.6 635.3 1487.8 635.1 1488 634.9 1488.3 634.7 1488.5 634.5 1488.7 634.4 1489 634.3 1489.2 634.2 1489.5 634.1 1489.7 634 1489.9 633.9 1490.2 633.9 1490.4 633.9 1490.6 633.8 1490.9 633.8 1491.1 633.9 1491.3 633.9 1491.6 633.9 1491.8 634 1492.1 634 1492.3 634.1 1492.5 634.2 1492.8 634.3 1493 634.4 1493.2 634.5 1493.5 634.6 1493.7 634.7 1493.9 634.8 1494.2 635 1494.4 635.1 1494.7 635.2 1494.9 635.3 1495.1 635.5 1495.4 635.6 1495.6 635.7 1495.8 635.9 1496.1 636 1496.3 636.1 1496.5 636.2 1496.8 636.3 1497 636.4 1497.3 636.5 1497.5 636.6 1497.7 636.7 1498 636.8 1498.2 636.9 1498.4 636.9 1498.7 637 1498.9 637 1499.1 637 1499.4 637.1 1499.6 637.1 1499.9 637.1 1500.1 637.1 1500.3 637 1500.6 637 1500.8 637 1501 636.9 1501.3 636.9 1501.5 636.8 1501.7 636.7 1502 636.7 1502.2 636.6 1502.5 636.5 1502.7 636.4 1502.9 636.3 1503.2 636.2 1503.4 636 1503.6 635.9 1503.9 635.8 1504.1 635.7 1504.4 635.5 1504.6 635.4 1504.8 635.3 1505.1 635.1 1505.3 635 1505.5 634.9 1505.8 634.8 1506 634.7 1506.2 634.5 1506.5 634.4 1506.7 634.3 1507 634.2 1507.2 634.1 1507.4 634.1 1507.7 634 1507.9 633.9 1508.1 633.9 1508.4 633.9 1508.6 633.8 1508.8 633.8 1509.1 633.8 1509.3 633.9 1509.6 633.9 1509.8 634 1510 634 1510.3 634.1 1510.5 634.2 1510.7 634.3 1511 634.5 1511.2 634.6 1511.4 634.8 1511.7 635 1511.9 635.2 1512.2 635.4 1512.4 635.6 1512.6 635.9 1512.9 636.1 1513.1 636.4 1513.3 636.7 1513.6 637 1513.8 637.4 1514 637.7 1514.3 638.1 1514.5 638.4 1514.8 638.8 1515 639.2 1515.2 639.6 1515.5 640 1515.7 640.4 1515.9 640.9 1516.2 641.3 1516.4 641.7 1516.6 642.2 1516.9 642.6 1517.1 643.1 1517.4 643.5 1517.6 644 1517.8 644.4 1518.1 644.9 1518.3 645.3 1518.5 645.7 1518.8 646.2 1519 646.6 1519.2 647 1519.5 647.4 1519.7 647.8 1520 648.2 1520.2 648.6 1520.4 649 1520.7 649.3 1520.9 649.6 1521.1 650 1521.4 650.3 1521.6 650.6 1521.9 650.8 1522.1 651.1 1522.3 651.3 1522.6 651.5 1522.8 651.7 1523 651.8 1523.3 652 1523.5 652.1 1523.7 652.2 1524 652.2 1524.2 652.3 1524.5 652.3 1524.7 652.3 1524.9 652.3 1525.2 652.2 1525.4 652.2 1525.6 652.1 1525.9 652 1526.1 651.8 1526.3 651.7 1526.6 651.5 1526.8 651.3 1527.1 651 1527.3 650.8 1527.5 650.5 1527.8 650.3 1528 650 1528.2 649.6 1528.5 649.3 1528.7 648.9 1528.9 648.6 1529.2 648.2 1529.4 647.8 1529.7 647.4 1529.9 647 1530.1 646.6 1530.4 646.2 1530.6 645.7 1530.8 645.3 1531.1 644.8 1531.3 644.4 1531.5 643.9 1531.8 643.5 1532 643 1532.3 642.6 1532.5 642.1 1532.7 641.7 1533 641.3 1533.2 640.8 1533.4 640.4 1533.7 640 1533.9 639.6 1534.1 639.2 1534.4 638.8 1534.6 638.4 1534.9 638 1535.1 637.7 1535.3 637.3 1535.6 637 1535.8 636.7 1536 636.4 1536.3 636.1 1536.5 635.8 1536.7 635.6 1537 635.4 1537.2 635.1 1537.5 634.9 1537.7 634.8 1537.9 634.6 1538.2 634.4 1538.4 634.3 1538.6 634.2 1538.9 634.1 1539.1 634 1539.4 633.9 1539.6 633.9 1539.8 633.9 1540.1 633.8 1540.3 633.8 1540.5 633.8 1540.8 633.9 1541 633.9 1541.2 633.9 1541.5 634 1541.7 634.1 1542 634.1 1542.2 634.2 1542.4 634.3 1542.7 634.4 1542.9 634.5 1543.1 634.7 1543.4 634.8 1543.6 634.9 1543.8 635 1544.1 635.2 1544.3 635.3 1544.6 635.4 1544.8 635.5 1545 635.7 1545.3 635.8 1545.5 635.9 1545.7 636.1 1546 636.2 1546.2 636.3 1546.4 636.4 1546.7 636.5 1546.9 636.6 1547.2 636.7 1547.4 636.8 1547.6 636.8 1547.9 636.9 1548.1 636.9 1548.3 637 1548.6 637 1548.8 637 1549 637.1 1549.3 637.1 1549.5 637.1 1549.8 637.1 1550 637 1550.2 637 1550.5 637 1550.7 636.9 1550.9 636.8 1551.2 636.8 1551.4 636.7 1551.6 636.6 1551.9 636.5 1552.1 636.4 1552.4 636.3 1552.6 636.2 1552.8 636.1 1553.1 636 1553.3 635.9 1553.5 635.7 1553.8 635.6 1554 635.5 1554.2 635.3 1554.5 635.2 1554.7 635.1 1555 634.9 1555.2 634.8 1555.4 634.7 1555.7 634.6 1555.9 634.5 1556.1 634.4 1556.4 634.3 1556.6 634.2 1556.9 634.1 1557.1 634 1557.3 634 1557.6 633.9 1557.8 633.9 1558 633.9 1558.3 633.8 1558.5 633.8 1558.7 633.9 1559 633.9 1559.2 633.9 1559.5 634 1559.7 634.1 1559.9 634.2 1560.2 634.3 1560.4 634.4 1560.6 634.5 1560.9 634.7 1561.1 634.9 1561.3 635.1 1561.6 635.3 1561.8 635.5 1562.1 635.7 1562.3 636 1562.5 636.3 1562.8 636.6 1563 636.9 1563.2 637.2 1563.5 637.5 1563.7 637.9 1563.9 638.3 1564.2 638.6 1564.4 639 1564.7 639.4 1564.9 639.8 1565.1 640.2 1565.4 640.7 1565.6 641.1 1565.8 641.5 1566.1 642 1566.3 642.4 1566.5 642.9 1566.8 643.3 1567 643.8 1567.3 644.2 1567.5 644.7 1567.7 645.1 1568 645.6 1568.2 646 1568.4 646.4 1568.7 646.8 1568.9 647.3 1569.1 647.7 1569.4 648.1 1569.6 648.4 1569.9 648.8 1570.1 649.2 1570.3 649.5 1570.6 649.8 1570.8 650.1 1571 650.4 1571.3 650.7 1571.5 651 1571.7 651.2 1572 651.4 1572.2 651.6 1572.5 651.8 1572.7 651.9 1572.9 652 1573.2 652.1 1573.4 652.2 1573.6 652.3 1573.9 652.3 1574.1 652.3 1574.4 652.3 1574.6 652.3 1574.8 652.2 1575.1 652.1 1575.3 652 1575.5 651.9 1575.8 651.7 1576 651.6 1576.2 651.4 1576.5 651.1 1576.7 650.9 1577 650.7 1577.2 650.4 1577.4 650.1 1577.7 649.8 1577.9 649.4 1578.1 649.1 1578.4 648.7 1578.6 648.4 1578.8 648 1579.1 647.6 1579.3 647.2 1579.6 646.8 1579.8 646.3 1580 645.9 1580.3 645.5 1580.5 645 1580.7 644.6 1581 644.1 1581.2 643.7 1581.4 643.2 1581.7 642.8 1581.9 642.3 1582.2 641.9 1582.4 641.5 1582.6 641 1582.9 640.6 1583.1 640.2 1583.3 639.8 1583.6 639.3 1583.8 639 1584 638.6 1584.3 638.2 1584.5 637.8 1584.8 637.5 1585 637.2 1585.2 636.8 1585.5 636.5 1585.7 636.2 1585.9 636 1586.2 635.7 1586.4 635.5 1586.6 635.2 1586.9 635 1587.1 634.8 1587.4 634.7 1587.6 634.5 1587.8 634.4 1588.1 634.2 1588.3 634.1 1588.5 634 1588.8 634 1589 633.9 1589.2 633.9 1589.5 633.9 1589.7 633.8 1590 633.8 1590.2 633.9 1590.4 633.9 1590.7 633.9 1590.9 634 1591.1 634 1591.4 634.1 1591.6 634.2 1591.9 634.3 1592.1 634.4 1592.3 634.5 1592.6 634.6 1592.8 634.7 1593 634.8 1593.3 635 1593.5 635.1 1593.7 635.2 1594 635.4 1594.2 635.5 1594.5 635.6 1594.7 635.7 1594.9 635.9 1595.2 636 1595.4 636.1 1595.6 636.2 1595.9 636.3 1596.1 636.4 1596.3 636.5 1596.6 636.6 1596.8 636.7 1597.1 636.8 1597.3 636.9 1597.5 636.9 1597.8 637 1598 637 1598.2 637 1598.5 637.1 1598.7 637.1 1598.9 637.1 1599.2 637.1 1599.4 637 1599.7 637 1599.9 637 1600.1 636.9 1600.4 636.9 1600.6 636.8 1600.8 636.7 1601.1 636.7 1601.3 636.6 1601.5 636.5 1601.8 636.4 1602 636.3 1602.3 636.1 1602.5 636 1602.7 635.9 1603 635.8 1603.2 635.7 1603.4 635.5 1603.7 635.4 1603.9 635.3 1604.1 635.1 1604.4 635 1604.6 634.9 1604.9 634.8 1605.1 634.6 1605.3 634.5 1605.6 634.4 1605.8 634.3 1606 634.2 1606.3 634.1 1606.5 634.1 1606.7 634 1607 633.9 1607.2 633.9 1607.5 633.9 1607.7 633.8 1607.9 633.8 1608.2 633.8 1608.4 633.9 1608.6 633.9 1608.9 634 1609.1 634 1609.3 634.1 1609.6 634.2 1609.8 634.3 1610.1 634.5 1610.3 634.6 1610.5 634.8 1610.8 635 1611 635.2 1611.2 635.4 1611.5 635.6 1611.7 635.9 1612 636.2 1612.2 636.4 1612.4 636.7 1612.7 637.1 1612.9 637.4 1613.1 637.7 1613.4 638.1 1613.6 638.5 1613.8 638.8 1614.1 639.2 1614.3 639.6 1614.6 640.1 1614.8 640.5 1615 640.9 1615.3 641.3 1615.5 641.8 1615.7 642.2 1616 642.7 1616.2 643.1 1616.4 643.6 1616.7 644 1616.9 644.5 1617.2 644.9 1617.4 645.4 1617.6 645.8 1617.9 646.2 1618.1 646.7 1618.3 647.1 1618.6 647.5 1618.8 647.9 1619 648.3 1619.3 648.6 1619.5 649 1619.8 649.4 1620 649.7 1620.2 650 1620.5 650.3 1620.7 650.6 1620.9 650.8 1621.2 651.1 1621.4 651.3 1621.6 651.5 1621.9 651.7 1622.1 651.8 1622.4 652 1622.6 652.1 1622.8 652.2 1623.1 652.3 1623.3 652.3 1623.5 652.3 1623.8 652.3 1624 652.3 1624.2 652.2 1624.5 652.2 1624.7 652.1 1625 651.9 1625.2 651.8 1625.4 651.6 1625.7 651.5 1625.9 651.2 1626.1 651 1626.4 650.8 1626.6 650.5 1626.8 650.2 1627.1 649.9 1627.3 649.6 1627.6 649.3 1627.8 648.9 1628 648.5 1628.3 648.2 1628.5 647.8 1628.7 647.4 1629 647 1629.2 646.5 1629.5 646.1 1629.7 645.7 1629.9 645.2 1630.2 644.8 1630.4 644.3 1630.6 643.9 1630.9 643.4 1631.1 643 1631.3 642.5 1631.6 642.1 1631.8 641.7 1632.1 641.2 1632.3 640.8 1632.5 640.4 1632.8 639.9 1633 639.5 1633.2 639.1 1633.5 638.7 1633.7 638.4 1633.9 638 1634.2 637.6 1634.4 637.3 1634.7 637 1634.9 636.7 1635.1 636.4 1635.4 636.1 1635.6 635.8 1635.8 635.6 1636.1 635.3 1636.3 635.1 1636.5 634.9 1636.8 634.7 1637 634.6 1637.3 634.4 1637.5 634.3 1637.7 634.2 1638 634.1 1638.2 634 1638.4 633.9 1638.7 633.9 1638.9 633.9 1639.1 633.8 1639.4 633.8 1639.6 633.8 1639.9 633.9 1640.1 633.9 1640.3 634 1640.6 634 1640.8 634.1 1641 634.2 1641.3 634.2 1641.5 634.3 1641.7 634.4 1642 634.6 1642.2 634.7 1642.5 634.8 1642.7 634.9 1642.9 635 1643.2 635.2 1643.4 635.3 1643.6 635.4 1643.9 635.6 1644.1 635.7 1644.3 635.8 1644.6 635.9 1644.8 636.1 1645.1 636.2 1645.3 636.3 1645.5 636.4 1645.8 636.5 1646 636.6 1646.2 636.7 1646.5 636.8 1646.7 636.8 1647 636.9 1647.2 636.9 1647.4 637 1647.7 637 1647.9 637.1 1648.1 637.1 1648.4 637.1 1648.6 637.1 1648.8 637.1 1649.1 637 1649.3 637 1649.6 637 1649.8 636.9 1650 636.8 1650.3 636.8 1650.5 636.7 1650.7 636.6 1651 636.5 1651.2 636.4 1651.4 636.3 1651.7 636.2 1651.9 636.1 1652.2 636 1652.4 635.8 1652.6 635.7 1652.9 635.6 1653.1 635.5 1653.3 635.3 1653.6 635.2 1653.8 635.1 1654 634.9 1654.3 634.8 1654.5 634.7 1654.8 634.6 1655 634.5 1655.2 634.4 1655.5 634.3 1655.7 634.2 1655.9 634.1 1656.2 634 1656.4 634 1656.6 633.9 1656.9 633.9 1657.1 633.8 1657.4 633.8 1657.6 633.8 1657.8 633.9 1658.1 633.9 1658.3 633.9 1658.5 634 1658.8 634.1 1659 634.2 1659.2 634.3 1659.5 634.4 1659.7 634.6 1660 634.7 1660.2 634.9 1660.4 635.1 1660.7 635.3 1660.9 635.5 1661.1 635.8 1661.4 636 1661.6 636.3 1661.8 636.6 1662.1 636.9 1662.3 637.2 1662.6 637.6 1662.8 637.9 1663 638.3 1663.3 638.7 1663.5 639.1 1663.7 639.5 1664 639.9 1664.2 640.3 1664.5 640.7 1664.7 641.1 1664.9 641.6 1665.2 642 1665.4 642.5 1665.6 642.9 1665.9 643.4 1666.1 643.8 1666.3 644.3 1666.6 644.7 1666.8 645.2 1667.1 645.6 1667.3 646 1667.5 646.5 1667.8 646.9 1668 647.3 1668.2 647.7 1668.5 648.1 1668.7 648.5 1668.9 648.9 1669.2 649.2 1669.4 649.5 1669.7 649.9 1669.9 650.2 1670.1 650.5 1670.4 650.7 1670.6 651 1670.8 651.2 1671.1 651.4 1671.3 651.6 1671.5 651.8 1671.8 651.9 1672 652.1 1672.3 652.2 1672.5 652.2 1672.7 652.3 1673 652.3 1673.2 652.3 1673.4 652.3 1673.7 652.3 1673.9 652.2 1674.1 652.1 1674.4 652 1674.6 651.9 1674.9 651.7 1675.1 651.5 1675.3 651.3 1675.6 651.1 1675.8 650.9 1676 650.6 1676.3 650.3 1676.5 650 1676.7 649.7 1677 649.4 1677.2 649.1 1677.5 648.7 1677.7 648.3 1677.9 647.9 1678.2 647.5 1678.4 647.1 1678.6 646.7 1678.9 646.3 1679.1 645.9 1679.3 645.4 1679.6 645 1679.8 644.5 1680.1 644.1 1680.3 643.6 1680.5 643.2 1680.8 642.7 1681 642.3 1681.2 641.8 1681.5 641.4 1681.7 641 1682 640.5 1682.2 640.1 1682.4 639.7 1682.7 639.3 1682.9 638.9 1683.1 638.5 1683.4 638.2 1683.6 637.8 1683.8 637.4 1684.1 637.1 1684.3 636.8 1684.6 636.5 1684.8 636.2 1685 635.9 1685.3 635.7 1685.5 635.4 1685.7 635.2 1686 635 1686.2 634.8 1686.4 634.6 1686.7 634.5 1686.9 634.4 1687.2 634.2 1687.4 634.1 1687.6 634 1687.9 634 1688.1 633.9 1688.3 633.9 1688.6 633.8 1688.8 633.8 1689 633.8 1689.3 633.9 1689.5 633.9 1689.8 633.9 1690 634 1690.2 634 1690.5 634.1 1690.7 634.2 1690.9 634.3 1691.2 634.4 1691.4 634.5 1691.6 634.6 1691.9 634.7 1692.1 634.9 1692.4 635 1692.6 635.1 1692.8 635.2 1693.1 635.4 1693.3 635.5 1693.5 635.6 1693.8 635.8 1694 635.9 1694.2 636 1694.5 636.1 1694.7 636.2 1695 636.4 1695.2 636.5 1695.4 636.6 1695.7 636.6 1695.9 636.7 1696.1 636.8 1696.4 636.9 1696.6 636.9 1696.8 637 1697.1 637 1697.3 637 1697.6 637.1 1697.8 637.1 1698 637.1 1698.3 637.1 1698.5 637 1698.7 637 1699 637 1699.2 636.9 1699.5 636.9" stroke="#D95319" stroke-width="5.5" stroke-dasharray="19.4 4.7 9.9 4.7"/>
</g>
<text x="988.9" y="865.3" text-anchor="middle">0</text>
<text x="1107.14" y="865.3" text-anchor="middle">5</text>
<text x="1226.48" y="865.3" text-anchor="middle">10</text>
<text x="1344.72" y="865.3" text-anchor="middle">15</text>
<text x="1462.97" y="865.3" text-anchor="middle">20</text>
<text x="1581.21" y="865.3" text-anchor="middle">25</text>
<text x="1699.45" y="865.3" text-anchor="middle">30</text>
<text x="970.4" y="562.3" text-anchor="end">1.5</text>
<text x="970.4" y="643.14" text-anchor="end">1.0</text>
<text x="970.4" y="723.99" text-anchor="end">0.5</text>
<text x="970.4" y="804.83" text-anchor="end">0</text>
<text x="1344.22" y="922.6" text-anchor="middle">Time (s)</text>
<text x="1344.22" y="990.7" text-anchor="middle">(d)</text>
<rect x="1464.55" y="554.55" width="217.1" height="58.7" fill="#ffffff" stroke="#1a1a1a" stroke-width="2.7"/>
<path d="M1471 588 H1536" fill="none" stroke="#0670BB" stroke-width="4"/>
<text x="1539" y="596.8" font-size="33.5" font-style="italic">F</text>
<text x="1561.4" y="601.6" font-size="19">1</text>
<path d="M1579.4 588 H1644.2" fill="none" stroke="#D95319" stroke-width="5.2" stroke-dasharray="19.4 4.7 9.9 4.7"/>
<text x="1647.1" y="596.8" font-size="33.5" font-style="italic">F</text>
<text transform="translate(1661.5 590.3) scale(1 1.45)" font-size="30" text-anchor="middle">ˆ</text>
<text x="1669.6" y="601.6" font-size="19">1</text>
<path d="M127.7 1331 v-7.9 M127.7 1071.6 v7.9 M245.94 1331 v-7.9 M245.94 1071.6 v7.9 M364.18 1331 v-7.9 M364.18 1071.6 v7.9 M482.42 1331 v-7.9 M482.42 1071.6 v7.9 M600.67 1331 v-7.9 M600.67 1071.6 v7.9 M718.91 1331 v-7.9 M718.91 1071.6 v7.9 M837.15 1331 v-7.9 M837.15 1071.6 v7.9 M127.7 1103.23 h7.9 M837.15 1103.23 h-7.9 M127.7 1166.5 h7.9 M837.15 1166.5 h-7.9 M127.7 1229.77 h7.9 M837.15 1229.77 h-7.9 M127.7 1293.04 h7.9 M837.15 1293.04 h-7.9" fill="none" stroke="#262626" stroke-width="1.1"/>
<rect x="127.7" y="1071.6" width="709.45" height="259.4" fill="none" stroke="#262626" stroke-width="1.15"/>
<clipPath id="cp5"><rect x="123.7" y="1070.6" width="713.45" height="260.9"/></clipPath>
<g clip-path="url(#cp5)" fill="none" stroke-linejoin="round">
<path d="M127.7 1261.7 128.2 1261.7 128.7 1261.7 129.2 1261.6 129.7 1261.6 130.2 1261.6 130.7 1261.5 131.2 1261.5 131.8 1261.5 132.3 1261.4 132.8 1261.4 133.3 1261.4 133.8 1261.3 134.3 1261.3 134.8 1261.3 135.3 1261.2 135.8 1261.2 136.3 1261.2 136.8 1261.1 137.3 1261.1 137.8 1261.1 138.3 1261 138.8 1261 139.4 1261 139.9 1260.9 140.4 1260.9 140.9 1260.9 141.4 1260.9 141.9 1260.8 142.4 1260.8 142.9 1260.8 143.4 1260.7 143.9 1260.7 144.4 1260.7 144.9 1260.7 145.4 1260.6 145.9 1260.6 146.4 1260.6 147 1260.6 147.5 1260.5 148 1260.5 148.5 1260.5 149 1260.5 149.5 1260.5 150 1260.4 150.5 1260.4 151 1260.4 151.5 1260.4 152 1260.4 152.5 1260.3 153 1260.3 153.5 1260.3 154.1 1260.3 154.6 1260.3 155.1 1260.3 155.6 1260.3 156.1 1260.2 156.6 1260.2 157.1 1260.2 157.6 1260.2 158.1 1260.2 158.6 1260.2 159.1 1260.2 159.6 1260.2 160.1 1260.2 160.6 1260.2 161.1 1260.2 161.7 1260.2 162.2 1260.1 162.7 1260.1 163.2 1260.1 163.7 1260.1 164.2 1260.1 164.7 1260.1 165.2 1260.1 165.7 1260.1 166.2 1260.1 166.7 1260.1 167.2 1260.1 167.7 1260.2 168.2 1260.2 168.7 1260.2 169.3 1260.2 169.8 1260.2 170.3 1260.2 170.8 1260.2 171.3 1260.2 171.8 1260.2 172.3 1260.2 172.8 1260.2 173.3 1260.2 173.8 1260.3 174.3 1260.3 174.8 1260.3 175.3 1260.3 175.8 1260.3 176.3 1260.3 176.9 1260.3 177.4 1260.4 177.9 1260.4 178.4 1260.4 178.9 1260.4 179.4 1260.4 179.9 1260.4 180.4 1260.5 180.9 1260.5 181.4 1260.5 181.9 1260.5 182.4 1260.6 182.9 1260.6 183.4 1260.6 183.9 1260.6 184.5 1260.7 185 1260.7 185.5 1260.7 186 1260.7 186.5 1260.8 187 1260.8 187.5 1260.8 188 1260.8 188.5 1260.9 189 1260.9 189.5 1260.9 190 1261 190.5 1261 191 1261 191.6 1261 192.1 1261.1 192.6 1261.1 193.1 1261.1 193.6 1261.2 194.1 1261.2 194.6 1261.2 195.1 1261.3 195.6 1261.3 196.1 1261.3 196.6 1261.4 197.1 1261.4 197.6 1261.4 198.1 1261.5 198.6 1261.5 199.2 1261.5 199.7 1261.6 200.2 1261.6 200.7 1261.6 201.2 1261.7 201.7 1261.7 202.2 1261.7 202.7 1261.8 203.2 1261.8 203.7 1261.8 204.2 1261.9 204.7 1261.9 205.2 1261.9 205.7 1262 206.2 1262 206.8 1262 207.3 1262.1 207.8 1262.1 208.3 1262.1 208.8 1262.2 209.3 1262.2 209.8 1262.2 210.3 1262.3 210.8 1262.3 211.3 1262.3 211.8 1262.4 212.3 1262.4 212.8 1262.4 213.3 1262.5 213.8 1262.5 214.4 1262.5 214.9 1262.5 215.4 1262.6 215.9 1262.6 216.4 1262.6 216.9 1262.7 217.4 1262.7 217.9 1262.7 218.4 1262.7 218.9 1262.8 219.4 1262.8 219.9 1262.8 220.4 1262.8 220.9 1262.9 221.4 1262.9 222 1262.9 222.5 1262.9 223 1262.9 223.5 1263 224 1263 224.5 1263 225 1263 225.5 1263 226 1263.1 226.5 1263.1 227 1263.1 227.5 1263.1 228 1263.1 228.5 1263.1 229 1263.2 229.6 1263.2 230.1 1263.2 230.6 1263.2 231.1 1263.2 231.6 1263.2 232.1 1263.2 232.6 1263.2 233.1 1263.3 233.6 1263.3 234.1 1263.3 234.6 1263.3 235.1 1263.3 235.6 1263.3 236.1 1263.3 236.7 1263.3 237.2 1263.3 237.7 1263.3 238.2 1263.3 238.7 1263.3 239.2 1263.3 239.7 1263.3 240.2 1263.3 240.7 1263.3 241.2 1263.3 241.7 1263.3 242.2 1263.3 242.7 1263.3 243.2 1263.3 243.7 1263.3 244.3 1263.3 244.8 1263.3 245.3 1263.3 245.8 1263.2 246.3 1263.2 246.8 1263.2 247.3 1263.2 247.8 1263.2 248.3 1263.2 248.8 1263.2 249.3 1263.2 249.8 1263.1 250.3 1263.1 250.8 1263.1 251.3 1263.1 251.9 1263.1 252.4 1263.1 252.9 1263 253.4 1263 253.9 1263 254.4 1263 254.9 1263 255.4 1262.9 255.9 1262.9 256.4 1262.9 256.9 1262.9 257.4 1262.9 257.9 1262.8 258.4 1262.8 258.9 1262.8 259.5 1262.8 260 1262.7 260.5 1262.7 261 1262.7 261.5 1262.6 262 1262.6 262.5 1262.6 263 1262.6 263.5 1262.5 264 1262.5 264.5 1262.5 265 1262.4 265.5 1262.4 266 1262.4 266.5 1262.4 267.1 1262.3 267.6 1262.3 268.1 1262.3 268.6 1262.2 269.1 1262.2 269.6 1262.2 270.1 1262.1 270.6 1262.1 271.1 1262.1 271.6 1262 272.1 1262 272.6 1262 273.1 1261.9 273.6 1261.9 274.2 1261.9 274.7 1261.8 275.2 1261.8 275.7 1261.8 276.2 1261.7 276.7 1261.7 277.2 1261.7 277.7 1261.6 278.2 1261.6 278.7 1261.6 279.2 1261.5 279.7 1261.5 280.2 1261.5 280.7 1261.4 281.2 1261.4 281.8 1261.4 282.3 1261.3 282.8 1261.3 283.3 1261.3 283.8 1261.2 284.3 1261.2 284.8 1261.2 285.3 1261.1 285.8 1261.1 286.3 1261.1 286.8 1261 287.3 1261 287.8 1261 288.3 1260.9 288.8 1260.9 289.4 1260.9 289.9 1260.9 290.4 1260.8 290.9 1260.8 291.4 1260.8 291.9 1260.8 292.4 1260.7 292.9 1260.7 293.4 1260.7 293.9 1260.6 294.4 1260.6 294.9 1260.6 295.4 1260.6 295.9 1260.6 296.4 1260.5 297 1260.5 297.5 1260.5 298 1260.5 298.5 1260.4 299 1260.4 299.5 1260.4 300 1260.4 300.5 1260.4 301 1260.4 301.5 1260.3 302 1260.3 302.5 1260.3 303 1260.3 303.5 1260.3 304 1260.3 304.6 1260.2 305.1 1260.2 305.6 1260.2 306.1 1260.2 306.6 1260.2 307.1 1260.2 307.6 1260.2 308.1 1260.2 308.6 1260.2 309.1 1260.2 309.6 1260.2 310.1 1260.2 310.6 1260.2 311.1 1260.1 311.7 1260.1 312.2 1260.1 312.7 1260.1 313.2 1260.1 313.7 1260.1 314.2 1260.1 314.7 1260.1 315.2 1260.1 315.7 1260.1 316.2 1260.2 316.7 1260.2 317.2 1260.2 317.7 1260.2 318.2 1260.2 318.7 1260.2 319.3 1260.2 319.8 1260.2 320.3 1260.2 320.8 1260.2 321.3 1260.2 321.8 1260.2 322.3 1260.2 322.8 1260.3 323.3 1260.3 323.8 1260.3 324.3 1260.3 324.8 1260.3 325.3 1260.3 325.8 1260.4 326.3 1260.4 326.9 1260.4 327.4 1260.4 327.9 1260.4 328.4 1260.4 328.9 1260.5 329.4 1260.5 329.9 1260.5 330.4 1260.5 330.9 1260.6 331.4 1260.6 331.9 1260.6 332.4 1260.6 332.9 1260.6 333.4 1260.7 333.9 1260.7 334.5 1260.7 335 1260.8 335.5 1260.8 336 1260.8 336.5 1260.8 337 1260.9 337.5 1260.9 338 1260.9 338.5 1260.9 339 1261 339.5 1261 340 1261 340.5 1261.1 341 1261.1 341.5 1261.1 342.1 1261.2 342.6 1261.2 343.1 1261.2 343.6 1261.3 344.1 1261.3 344.6 1261.3 345.1 1261.4 345.6 1261.4 346.1 1261.4 346.6 1261.5 347.1 1261.5 347.6 1261.5 348.1 1261.6 348.6 1261.6 349.1 1261.6 349.7 1261.7 350.2 1261.7 350.7 1261.7 351.2 1261.8 351.7 1261.8 352.2 1261.8 352.7 1261.9 353.2 1261.9 353.7 1261.9 354.2 1262 354.7 1262 355.2 1262 355.7 1262.1 356.2 1262.1 356.8 1262.1 357.3 1262.2 357.8 1262.2 358.3 1262.2 358.8 1262.3 359.3 1262.3 359.8 1262.3 360.3 1262.4 360.8 1262.4 361.3 1262.4 361.8 1262.4 362.3 1262.5 362.8 1262.5 363.3 1262.5 363.8 1262.6 364.4 1262.6 364.9 1262.6 365.4 1262.6 365.9 1262.7 366.4 1262.7 366.9 1262.7 367.4 1262.8 367.9 1262.8 368.4 1262.8 368.9 1262.8 369.4 1262.9 369.9 1262.9 370.4 1262.9 370.9 1262.9 371.4 1262.9 372 1263 372.5 1263 373 1263 373.5 1263 374 1263 374.5 1263.1 375 1263.1 375.5 1263.1 376 1263.1 376.5 1263.1 377 1263.1 377.5 1263.2 378 1263.2 378.5 1263.2 379 1263.2 379.6 1263.2 380.1 1263.2 380.6 1263.2 381.1 1263.2 381.6 1263.2 382.1 1263.3 382.6 1263.3 383.1 1263.3 383.6 1263.3 384.1 1263.3 384.6 1263.3 385.1 1263.3 385.6 1263.3 386.1 1263.3 386.6 1263.3 387.2 1263.3 387.7 1263.3 388.2 1263.3 388.7 1263.3 389.2 1263.3 389.7 1263.3 390.2 1263.3 390.7 1263.3 391.2 1263.3 391.7 1263.3 392.2 1263.3 392.7 1263.3 393.2 1263.3 393.7 1263.3 394.3 1263.2 394.8 1263.2 395.3 1263.2 395.8 1263.2 396.3 1263.2 396.8 1263.2 397.3 1263.2 397.8 1263.2 398.3 1263.1 398.8 1263.1 399.3 1263.1 399.8 1263.1 400.3 1263.1 400.8 1263.1 401.3 1263 401.9 1263 402.4 1263 402.9 1263 403.4 1263 403.9 1262.9 404.4 1262.9 404.9 1262.9 405.4 1262.9 405.9 1262.9 406.4 1262.8 406.9 1262.8 407.4 1262.8 407.9 1262.8 408.4 1262.7 408.9 1262.7 409.5 1262.7 410 1262.7 410.5 1262.6 411 1262.6 411.5 1262.6 412 1262.5 412.5 1262.5 413 1262.5 413.5 1262.5 414 1262.4 414.5 1262.4 415 1262.4 415.5 1262.3 416 1262.3 416.5 1262.3 417.1 1262.2 417.6 1262.2 418.1 1262.2 418.6 1262.1 419.1 1262.1 419.6 1262.1 420.1 1262 420.6 1262 421.1 1262 421.6 1261.9 422.1 1261.9 422.6 1261.9 423.1 1261.8 423.6 1261.8 424.1 1261.8 424.7 1261.7 425.2 1261.7 425.7 1261.7 426.2 1261.6 426.7 1261.6 427.2 1261.6 427.7 1261.5 428.2 1261.5 428.7 1261.5 429.2 1261.4 429.7 1261.4 430.2 1261.4 430.7 1261.3 431.2 1261.3 431.8 1261.3 432.3 1261.2 432.8 1261.2 433.3 1261.2 433.8 1261.1 434.3 1261.1 434.8 1261.1 435.3 1261 435.8 1261 436.3 1261 436.8 1261 437.3 1260.9 437.8 1260.9 438.3 1260.9 438.8 1260.8 439.4 1260.8 439.9 1260.8 440.4 1260.8 440.9 1260.7 441.4 1260.7 441.9 1260.7 442.4 1260.7 442.9 1260.6 443.4 1260.6 443.9 1260.6 444.4 1260.6 444.9 1260.5 445.4 1260.5 445.9 1260.5 446.4 1260.5 447 1260.4 447.5 1260.4 448 1260.4 448.5 1260.4 449 1260.4 449.5 1260.4 450 1260.3 450.5 1260.3 451 1260.3 451.5 1260.3 452 1260.3 452.5 1260.3 453 1260.3 453.5 1260.2 454 1260.2 454.6 1260.2 455.1 1260.2 455.6 1260.2 456.1 1260.2 456.6 1260.2 457.1 1260.2 457.6 1260.2 458.1 1260.2 458.6 1260.2 459.1 1260.2 459.6 1260.1 460.1 1260.1 460.6 1260.1 461.1 1260.1 461.6 1260.1 462.2 1260.1 462.7 1260.1 463.2 1260.1 463.7 1260.1 464.2 1260.1 464.7 1260.1 465.2 1260.2 465.7 1260.2 466.2 1260.2 466.7 1260.2 467.2 1260.2 467.7 1260.2 468.2 1260.2 468.7 1260.2 469.2 1260.2 469.8 1260.2 470.3 1260.2 470.8 1260.2 471.3 1260.3 471.8 1260.3 472.3 1260.3 472.8 1260.3 473.3 1260.3 473.8 1260.3 474.3 1260.3 474.8 1260.4 475.3 1260.4 475.8 1260.4 476.3 1260.4 476.9 1260.4 477.4 1260.5 477.9 1260.5 478.4 1260.5 478.9 1260.5 479.4 1260.5 479.9 1260.6 480.4 1260.6 480.9 1260.6 481.4 1260.6 481.9 1260.7 482.4 1260.7 482.9 1260.7 483.4 1260.7 483.9 1260.8 484.5 1260.8 485 1260.8 485.5 1260.9 486 1260.9 486.5 1260.9 487 1260.9 487.5 1261 488 1261 488.5 1261 489 1261.1 489.5 1261.1 490 1261.1 490.5 1261.2 491 1261.2 491.5 1261.2 492.1 1261.3 492.6 1261.3 493.1 1261.3 493.6 1261.4 494.1 1261.4 494.6 1261.4 495.1 1261.5 495.6 1261.5 496.1 1261.5 496.6 1261.6 497.1 1261.6 497.6 1261.6 498.1 1261.7 498.6 1261.7 499.1 1261.7 499.7 1261.8 500.2 1261.8 500.7 1261.8 501.2 1261.9 501.7 1261.9 502.2 1261.9 502.7 1262 503.2 1262 503.7 1262 504.2 1262.1 504.7 1262.1 505.2 1262.1 505.7 1262.2 506.2 1262.2 506.7 1262.2 507.3 1262.3 507.8 1262.3 508.3 1262.3 508.8 1262.3 509.3 1262.4 509.8 1262.4 510.3 1262.4 510.8 1262.5 511.3 1262.5 511.8 1262.5 512.3 1262.6 512.8 1262.6 513.3 1262.6 513.8 1262.6 514.4 1262.7 514.9 1262.7 515.4 1262.7 515.9 1262.7 516.4 1262.8 516.9 1262.8 517.4 1262.8 517.9 1262.8 518.4 1262.9 518.9 1262.9 519.4 1262.9 519.9 1262.9 520.4 1263 520.9 1263 521.4 1263 522 1263 522.5 1263 523 1263.1 523.5 1263.1 524 1263.1 524.5 1263.1 525 1263.1 525.5 1263.1 526 1263.2 526.5 1263.2 527 1263.2 527.5 1263.2 528 1263.2 528.5 1263.2 529 1263.2 529.6 1263.2 530.1 1263.2 530.6 1263.3 531.1 1263.3 531.6 1263.3 532.1 1263.3 532.6 1263.3 533.1 1263.3 533.6 1263.3 534.1 1263.3 534.6 1263.3 535.1 1263.3 535.6 1263.3 536.1 1263.3 536.6 1263.3 537.2 1263.3 537.7 1263.3 538.2 1263.3 538.7 1263.3 539.2 1263.3 539.7 1263.3 540.2 1263.3 540.7 1263.3 541.2 1263.3 541.7 1263.3 542.2 1263.3 542.7 1263.2 543.2 1263.2 543.7 1263.2 544.2 1263.2 544.8 1263.2 545.3 1263.2 545.8 1263.2 546.3 1263.2 546.8 1263.2 547.3 1263.1 547.8 1263.1 548.3 1263.1 548.8 1263.1 549.3 1263.1 549.8 1263.1 550.3 1263 550.8 1263 551.3 1263 551.8 1263 552.4 1263 552.9 1262.9 553.4 1262.9 553.9 1262.9 554.4 1262.9 554.9 1262.8 555.4 1262.8 555.9 1262.8 556.4 1262.8 556.9 1262.7 557.4 1262.7 557.9 1262.7 558.4 1262.7 558.9 1262.6 559.5 1262.6 560 1262.6 560.5 1262.5 561 1262.5 561.5 1262.5 562 1262.5 562.5 1262.4 563 1262.4 563.5 1262.4 564 1262.3 564.5 1262.3 565 1262.3 565.5 1262.2 566 1262.2 566.5 1262.2 567.1 1262.1 567.6 1262.1 568.1 1262.1 568.6 1262 569.1 1262 569.6 1262 570.1 1261.9 570.6 1261.9 571.1 1261.9 571.6 1261.8 572.1 1261.8 572.6 1261.8 573.1 1261.7 573.6 1261.7 574.1 1261.7 574.7 1261.6 575.2 1261.6 575.7 1261.6 576.2 1261.5 576.7 1261.5 577.2 1261.5 577.7 1261.4 578.2 1261.4 578.7 1261.4 579.2 1261.3 579.7 1261.3 580.2 1261.3 580.7 1261.2 581.2 1261.2 581.7 1261.2 582.3 1261.1 582.8 1261.1 583.3 1261.1 583.8 1261.1 584.3 1261 584.8 1261 585.3 1261 585.8 1260.9 586.3 1260.9 586.8 1260.9 587.3 1260.8 587.8 1260.8 588.3 1260.8 588.8 1260.8 589.3 1260.7 589.9 1260.7 590.4 1260.7 590.9 1260.7 591.4 1260.6 591.9 1260.6 592.4 1260.6 592.9 1260.6 593.4 1260.5 593.9 1260.5 594.4 1260.5 594.9 1260.5 595.4 1260.5 595.9 1260.4 596.4 1260.4 597 1260.4 597.5 1260.4 598 1260.4 598.5 1260.3 599 1260.3 599.5 1260.3 600 1260.3 600.5 1260.3 601 1260.3 601.5 1260.3 602 1260.2 602.5 1260.2 603 1260.2 603.5 1260.2 604 1260.2 604.6 1260.2 605.1 1260.2 605.6 1260.2 606.1 1260.2 606.6 1260.2 607.1 1260.2 607.6 1260.2 608.1 1260.1 608.6 1260.1 609.1 1260.1 609.6 1260.1 610.1 1260.1 610.6 1260.1 611.1 1260.1 611.6 1260.1 612.2 1260.1 612.7 1260.1 613.2 1260.1 613.7 1260.2 614.2 1260.2 614.7 1260.2 615.2 1260.2 615.7 1260.2 616.2 1260.2 616.7 1260.2 617.2 1260.2 617.7 1260.2 618.2 1260.2 618.7 1260.2 619.2 1260.2 619.8 1260.3 620.3 1260.3 620.8 1260.3 621.3 1260.3 621.8 1260.3 622.3 1260.3 622.8 1260.3 623.3 1260.4 623.8 1260.4 624.3 1260.4 624.8 1260.4 625.3 1260.4 625.8 1260.5 626.3 1260.5 626.8 1260.5 627.4 1260.5 627.9 1260.5 628.4 1260.6 628.9 1260.6 629.4 1260.6 629.9 1260.6 630.4 1260.7 630.9 1260.7 631.4 1260.7 631.9 1260.7 632.4 1260.8 632.9 1260.8 633.4 1260.8 633.9 1260.8 634.4 1260.9 635 1260.9 635.5 1260.9 636 1261 636.5 1261 637 1261 637.5 1261.1 638 1261.1 638.5 1261.1 639 1261.1 639.5 1261.2 640 1261.2 640.5 1261.2 641 1261.3 641.5 1261.3 642.1 1261.3 642.6 1261.4 643.1 1261.4 643.6 1261.4 644.1 1261.5 644.6 1261.5 645.1 1261.5 645.6 1261.6 646.1 1261.6 646.6 1261.6 647.1 1261.7 647.6 1261.7 648.1 1261.7 648.6 1261.8 649.1 1261.8 649.7 1261.8 650.2 1261.9 650.7 1261.9 651.2 1261.9 651.7 1262 652.2 1262 652.7 1262 653.2 1262.1 653.7 1262.1 654.2 1262.1 654.7 1262.2 655.2 1262.2 655.7 1262.2 656.2 1262.3 656.7 1262.3 657.3 1262.3 657.8 1262.4 658.3 1262.4 658.8 1262.4 659.3 1262.5 659.8 1262.5 660.3 1262.5 660.8 1262.6 661.3 1262.6 661.8 1262.6 662.3 1262.6 662.8 1262.7 663.3 1262.7 663.8 1262.7 664.3 1262.7 664.9 1262.8 665.4 1262.8 665.9 1262.8 666.4 1262.8 666.9 1262.9 667.4 1262.9 667.9 1262.9 668.4 1262.9 668.9 1263 669.4 1263 669.9 1263 670.4 1263 670.9 1263 671.4 1263.1 671.9 1263.1 672.5 1263.1 673 1263.1 673.5 1263.1 674 1263.1 674.5 1263.2 675 1263.2 675.5 1263.2 676 1263.2 676.5 1263.2 677 1263.2 677.5 1263.2 678 1263.2 678.5 1263.2 679 1263.3 679.6 1263.3 680.1 1263.3 680.6 1263.3 681.1 1263.3 681.6 1263.3 682.1 1263.3 682.6 1263.3 683.1 1263.3 683.6 1263.3 684.1 1263.3 684.6 1263.3 685.1 1263.3 685.6 1263.3 686.1 1263.3 686.6 1263.3 687.2 1263.3 687.7 1263.3 688.2 1263.3 688.7 1263.3 689.2 1263.3 689.7 1263.3 690.2 1263.3 690.7 1263.3 691.2 1263.2 691.7 1263.2 692.2 1263.2 692.7 1263.2 693.2 1263.2 693.7 1263.2 694.2 1263.2 694.8 1263.2 695.3 1263.2 695.8 1263.1 696.3 1263.1 696.8 1263.1 697.3 1263.1 697.8 1263.1 698.3 1263.1 698.8 1263 699.3 1263 699.8 1263 700.3 1263 700.8 1263 701.3 1262.9 701.8 1262.9 702.4 1262.9 702.9 1262.9 703.4 1262.8 703.9 1262.8 704.4 1262.8 704.9 1262.8 705.4 1262.7 705.9 1262.7 706.4 1262.7 706.9 1262.7 707.4 1262.6 707.9 1262.6 708.4 1262.6 708.9 1262.6 709.4 1262.5 710 1262.5 710.5 1262.5 711 1262.4 711.5 1262.4 712 1262.4 712.5 1262.3 713 1262.3 713.5 1262.3 714 1262.2 714.5 1262.2 715 1262.2 715.5 1262.2 716 1262.1 716.5 1262.1 717.1 1262.1 717.6 1262 718.1 1262 718.6 1262 719.1 1261.9 719.6 1261.9 720.1 1261.9 720.6 1261.8 721.1 1261.8 721.6 1261.8 722.1 1261.7 722.6 1261.7 723.1 1261.6 723.6 1261.6 724.1 1261.6 724.7 1261.5 725.2 1261.5 725.7 1261.5 726.2 1261.4 726.7 1261.4 727.2 1261.4 727.7 1261.3 728.2 1261.3 728.7 1261.3 729.2 1261.2 729.7 1261.2 730.2 1261.2 730.7 1261.2 731.2 1261.1 731.7 1261.1 732.3 1261.1 732.8 1261 733.3 1261 733.8 1261 734.3 1260.9 734.8 1260.9 735.3 1260.9 735.8 1260.9 736.3 1260.8 736.8 1260.8 737.3 1260.8 737.8 1260.7 738.3 1260.7 738.8 1260.7 739.3 1260.7 739.9 1260.6 740.4 1260.6 740.9 1260.6 741.4 1260.6 741.9 1260.5 742.4 1260.5 742.9 1260.5 743.4 1260.5 743.9 1260.5 744.4 1260.4 744.9 1260.4 745.4 1260.4 745.9 1260.4 746.4 1260.4 746.9 1260.3 747.5 1260.3 748 1260.3 748.5 1260.3 749 1260.3 749.5 1260.3 750 1260.3 750.5 1260.2 751 1260.2 751.5 1260.2 752 1260.2 752.5 1260.2 753 1260.2 753.5 1260.2 754 1260.2 754.5 1260.2 755.1 1260.2 755.6 1260.2 756.1 1260.2 756.6 1260.1 757.1 1260.1 757.6 1260.1 758.1 1260.1 758.6 1260.1 759.1 1260.1 759.6 1260.1 760.1 1260.1 760.6 1260.1 761.1 1260.1 761.6 1260.1 762.2 1260.2 762.7 1260.2 763.2 1260.2 763.7 1260.2 764.2 1260.2 764.7 1260.2 765.2 1260.2 765.7 1260.2 766.2 1260.2 766.7 1260.2 767.2 1260.2 767.7 1260.2 768.2 1260.3 768.7 1260.3 769.2 1260.3 769.8 1260.3 770.3 1260.3 770.8 1260.3 771.3 1260.3 771.8 1260.4 772.3 1260.4 772.8 1260.4 773.3 1260.4 773.8 1260.4 774.3 1260.5 774.8 1260.5 775.3 1260.5 775.8 1260.5 776.3 1260.5 776.8 1260.6 777.4 1260.6 777.9 1260.6 778.4 1260.6 778.9 1260.7 779.4 1260.7 779.9 1260.7 780.4 1260.7 780.9 1260.8 781.4 1260.8 781.9 1260.8 782.4 1260.8 782.9 1260.9 783.4 1260.9 783.9 1260.9 784.4 1261 785 1261 785.5 1261 786 1261 786.5 1261.1 787 1261.1 787.5 1261.1 788 1261.2 788.5 1261.2 789 1261.2 789.5 1261.3 790 1261.3 790.5 1261.3 791 1261.4 791.5 1261.4 792 1261.4 792.6 1261.5 793.1 1261.5 793.6 1261.5 794.1 1261.6 794.6 1261.6 795.1 1261.6 795.6 1261.7 796.1 1261.7 796.6 1261.7 797.1 1261.8 797.6 1261.8 798.1 1261.8 798.6 1261.9 799.1 1261.9 799.7 1261.9 800.2 1262 800.7 1262 801.2 1262 801.7 1262.1 802.2 1262.1 802.7 1262.1 803.2 1262.2 803.7 1262.2 804.2 1262.2 804.7 1262.3 805.2 1262.3 805.7 1262.3 806.2 1262.4 806.7 1262.4 807.3 1262.4 807.8 1262.5 808.3 1262.5 808.8 1262.5 809.3 1262.5 809.8 1262.6 810.3 1262.6 810.8 1262.6 811.3 1262.7 811.8 1262.7 812.3 1262.7 812.8 1262.7 813.3 1262.8 813.8 1262.8 814.3 1262.8 814.9 1262.8 815.4 1262.9 815.9 1262.9 816.4 1262.9 816.9 1262.9 817.4 1263 817.9 1263 818.4 1263 818.9 1263 819.4 1263 819.9 1263 820.4 1263.1 820.9 1263.1 821.4 1263.1 821.9 1263.1 822.5 1263.1 823 1263.1 823.5 1263.2 824 1263.2 824.5 1263.2 825 1263.2 825.5 1263.2 826 1263.2 826.5 1263.2 827 1263.2 827.5 1263.3 828 1263.3 828.5 1263.3 829 1263.3 829.5 1263.3 830.1 1263.3 830.6 1263.3 831.1 1263.3 831.6 1263.3 832.1 1263.3 832.6 1263.3 833.1 1263.3 833.6 1263.3 834.1 1263.3 834.6 1263.3 835.1 1263.3 835.6 1263.3 836.1 1263.3 836.6 1263.3 837.1 1263.3" stroke="#E50914" stroke-width="5.5" stroke-dasharray="19.4 4.7 9.9 4.7"/>
<path d="M127.7 1166.5 128.2 1166.8 128.7 1167 129.2 1167.3 129.7 1167.6 130.2 1167.9 130.7 1168.1 131.2 1168.4 131.8 1168.7 132.3 1168.9 132.8 1169.2 133.3 1169.5 133.8 1169.7 134.3 1170 134.8 1170.2 135.3 1170.5 135.8 1170.8 136.3 1171 136.8 1171.3 137.3 1171.5 137.8 1171.8 138.3 1172 138.8 1172.2 139.4 1172.5 139.9 1172.7 140.4 1173 140.9 1173.2 141.4 1173.4 141.9 1173.6 142.4 1173.9 142.9 1174.1 143.4 1174.3 143.9 1174.5 144.4 1174.7 144.9 1174.9 145.4 1175.1 145.9 1175.3 146.4 1175.5 147 1175.7 147.5 1175.9 148 1176.1 148.5 1176.2 149 1176.4 149.5 1176.6 150 1176.7 150.5 1176.9 151 1177.1 151.5 1177.2 152 1177.3 152.5 1177.5 153 1177.6 153.5 1177.7 154.1 1177.9 154.6 1178 155.1 1178.1 155.6 1178.2 156.1 1178.3 156.6 1178.4 157.1 1178.5 157.6 1178.6 158.1 1178.6 158.6 1178.7 159.1 1178.8 159.6 1178.8 160.1 1178.9 160.6 1179 161.1 1179 161.7 1179 162.2 1179.1 162.7 1179.1 163.2 1179.1 163.7 1179.1 164.2 1179.2 164.7 1179.2 165.2 1179.2 165.7 1179.1 166.2 1179.1 166.7 1179.1 167.2 1179.1 167.7 1179.1 168.2 1179 168.7 1179 169.3 1178.9 169.8 1178.9 170.3 1178.8 170.8 1178.8 171.3 1178.7 171.8 1178.6 172.3 1178.5 172.8 1178.4 173.3 1178.4 173.8 1178.3 174.3 1178.2 174.8 1178 175.3 1177.9 175.8 1177.8 176.3 1177.7 176.9 1177.6 177.4 1177.4 177.9 1177.3 178.4 1177.1 178.9 1177 179.4 1176.8 179.9 1176.7 180.4 1176.5 180.9 1176.3 181.4 1176.2 181.9 1176 182.4 1175.8 182.9 1175.6 183.4 1175.4 183.9 1175.2 184.5 1175 185 1174.8 185.5 1174.6 186 1174.4 186.5 1174.2 187 1174 187.5 1173.8 188 1173.6 188.5 1173.3 189 1173.1 189.5 1172.9 190 1172.6 190.5 1172.4 191 1172.2 191.6 1171.9 192.1 1171.7 192.6 1171.4 193.1 1171.2 193.6 1170.9 194.1 1170.7 194.6 1170.4 195.1 1170.1 195.6 1169.9 196.1 1169.6 196.6 1169.4 197.1 1169.1 197.6 1168.8 198.1 1168.6 198.6 1168.3 199.2 1168 199.7 1167.7 200.2 1167.5 200.7 1167.2 201.2 1166.9 201.7 1166.7 202.2 1166.4 202.7 1166.1 203.2 1165.9 203.7 1165.6 204.2 1165.3 204.7 1165 205.2 1164.8 205.7 1164.5 206.2 1164.2 206.8 1164 207.3 1163.7 207.8 1163.4 208.3 1163.2 208.8 1162.9 209.3 1162.7 209.8 1162.4 210.3 1162.1 210.8 1161.9 211.3 1161.6 211.8 1161.4 212.3 1161.1 212.8 1160.9 213.3 1160.7 213.8 1160.4 214.4 1160.2 214.9 1160 215.4 1159.7 215.9 1159.5 216.4 1159.3 216.9 1159 217.4 1158.8 217.9 1158.6 218.4 1158.4 218.9 1158.2 219.4 1158 219.9 1157.8 220.4 1157.6 220.9 1157.4 221.4 1157.2 222 1157 222.5 1156.9 223 1156.7 223.5 1156.5 224 1156.4 224.5 1156.2 225 1156 225.5 1155.9 226 1155.7 226.5 1155.6 227 1155.5 227.5 1155.3 228 1155.2 228.5 1155.1 229 1155 229.6 1154.9 230.1 1154.8 230.6 1154.7 231.1 1154.6 231.6 1154.5 232.1 1154.4 232.6 1154.3 233.1 1154.3 233.6 1154.2 234.1 1154.1 234.6 1154.1 235.1 1154 235.6 1154 236.1 1154 236.7 1153.9 237.2 1153.9 237.7 1153.9 238.2 1153.9 238.7 1153.9 239.2 1153.8 239.7 1153.9 240.2 1153.9 240.7 1153.9 241.2 1153.9 241.7 1153.9 242.2 1154 242.7 1154 243.2 1154 243.7 1154.1 244.3 1154.1 244.8 1154.2 245.3 1154.3 245.8 1154.3 246.3 1154.4 246.8 1154.5 247.3 1154.6 247.8 1154.7 248.3 1154.8 248.8 1154.9 249.3 1155 249.8 1155.1 250.3 1155.2 250.8 1155.4 251.3 1155.5 251.9 1155.6 252.4 1155.8 252.9 1155.9 253.4 1156.1 253.9 1156.2 254.4 1156.4 254.9 1156.6 255.4 1156.7 255.9 1156.9 256.4 1157.1 256.9 1157.3 257.4 1157.4 257.9 1157.6 258.4 1157.8 258.9 1158 259.5 1158.2 260 1158.4 260.5 1158.7 261 1158.9 261.5 1159.1 262 1159.3 262.5 1159.5 263 1159.8 263.5 1160 264 1160.2 264.5 1160.5 265 1160.7 265.5 1160.9 266 1161.2 266.5 1161.4 267.1 1161.7 267.6 1161.9 268.1 1162.2 268.6 1162.4 269.1 1162.7 269.6 1163 270.1 1163.2 270.6 1163.5 271.1 1163.8 271.6 1164 272.1 1164.3 272.6 1164.6 273.1 1164.8 273.6 1165.1 274.2 1165.4 274.7 1165.6 275.2 1165.9 275.7 1166.2 276.2 1166.4 276.7 1166.7 277.2 1167 277.7 1167.3 278.2 1167.5 278.7 1167.8 279.2 1168.1 279.7 1168.3 280.2 1168.6 280.7 1168.9 281.2 1169.1 281.8 1169.4 282.3 1169.7 282.8 1169.9 283.3 1170.2 283.8 1170.4 284.3 1170.7 284.8 1171 285.3 1171.2 285.8 1171.5 286.3 1171.7 286.8 1172 287.3 1172.2 287.8 1172.4 288.3 1172.7 288.8 1172.9 289.4 1173.1 289.9 1173.4 290.4 1173.6 290.9 1173.8 291.4 1174 291.9 1174.3 292.4 1174.5 292.9 1174.7 293.4 1174.9 293.9 1175.1 294.4 1175.3 294.9 1175.5 295.4 1175.7 295.9 1175.8 296.4 1176 297 1176.2 297.5 1176.4 298 1176.5 298.5 1176.7 299 1176.9 299.5 1177 300 1177.2 300.5 1177.3 301 1177.4 301.5 1177.6 302 1177.7 302.5 1177.8 303 1178 303.5 1178.1 304 1178.2 304.6 1178.3 305.1 1178.4 305.6 1178.5 306.1 1178.5 306.6 1178.6 307.1 1178.7 307.6 1178.8 308.1 1178.8 308.6 1178.9 309.1 1178.9 309.6 1179 310.1 1179 310.6 1179.1 311.1 1179.1 311.7 1179.1 312.2 1179.1 312.7 1179.1 313.2 1179.2 313.7 1179.2 314.2 1179.1 314.7 1179.1 315.2 1179.1 315.7 1179.1 316.2 1179.1 316.7 1179 317.2 1179 317.7 1178.9 318.2 1178.9 318.7 1178.8 319.3 1178.8 319.8 1178.7 320.3 1178.6 320.8 1178.6 321.3 1178.5 321.8 1178.4 322.3 1178.3 322.8 1178.2 323.3 1178.1 323.8 1178 324.3 1177.8 324.8 1177.7 325.3 1177.6 325.8 1177.5 326.3 1177.3 326.9 1177.2 327.4 1177 327.9 1176.9 328.4 1176.7 328.9 1176.6 329.4 1176.4 329.9 1176.2 330.4 1176 330.9 1175.9 331.4 1175.7 331.9 1175.5 332.4 1175.3 332.9 1175.1 333.4 1174.9 333.9 1174.7 334.5 1174.5 335 1174.3 335.5 1174 336 1173.8 336.5 1173.6 337 1173.4 337.5 1173.2 338 1172.9 338.5 1172.7 339 1172.4 339.5 1172.2 340 1172 340.5 1171.7 341 1171.5 341.5 1171.2 342.1 1171 342.6 1170.7 343.1 1170.5 343.6 1170.2 344.1 1169.9 344.6 1169.7 345.1 1169.4 345.6 1169.1 346.1 1168.9 346.6 1168.6 347.1 1168.3 347.6 1168.1 348.1 1167.8 348.6 1167.5 349.1 1167.3 349.7 1167 350.2 1166.7 350.7 1166.5 351.2 1166.2 351.7 1165.9 352.2 1165.6 352.7 1165.4 353.2 1165.1 353.7 1164.8 354.2 1164.6 354.7 1164.3 355.2 1164 355.7 1163.8 356.2 1163.5 356.8 1163.2 357.3 1163 357.8 1162.7 358.3 1162.5 358.8 1162.2 359.3 1161.9 359.8 1161.7 360.3 1161.4 360.8 1161.2 361.3 1161 361.8 1160.7 362.3 1160.5 362.8 1160.2 363.3 1160 363.8 1159.8 364.4 1159.5 364.9 1159.3 365.4 1159.1 365.9 1158.9 366.4 1158.7 366.9 1158.5 367.4 1158.2 367.9 1158 368.4 1157.8 368.9 1157.6 369.4 1157.5 369.9 1157.3 370.4 1157.1 370.9 1156.9 371.4 1156.7 372 1156.6 372.5 1156.4 373 1156.2 373.5 1156.1 374 1155.9 374.5 1155.8 375 1155.6 375.5 1155.5 376 1155.4 376.5 1155.2 377 1155.1 377.5 1155 378 1154.9 378.5 1154.8 379 1154.7 379.6 1154.6 380.1 1154.5 380.6 1154.4 381.1 1154.3 381.6 1154.3 382.1 1154.2 382.6 1154.1 383.1 1154.1 383.6 1154 384.1 1154 384.6 1154 385.1 1153.9 385.6 1153.9 386.1 1153.9 386.6 1153.9 387.2 1153.9 387.7 1153.8 388.2 1153.9 388.7 1153.9 389.2 1153.9 389.7 1153.9 390.2 1153.9 390.7 1153.9 391.2 1154 391.7 1154 392.2 1154.1 392.7 1154.1 393.2 1154.2 393.7 1154.3 394.3 1154.3 394.8 1154.4 395.3 1154.5 395.8 1154.6 396.3 1154.7 396.8 1154.8 397.3 1154.9 397.8 1155 398.3 1155.1 398.8 1155.2 399.3 1155.3 399.8 1155.5 400.3 1155.6 400.8 1155.7 401.3 1155.9 401.9 1156 402.4 1156.2 402.9 1156.4 403.4 1156.5 403.9 1156.7 404.4 1156.9 404.9 1157 405.4 1157.2 405.9 1157.4 406.4 1157.6 406.9 1157.8 407.4 1158 407.9 1158.2 408.4 1158.4 408.9 1158.6 409.5 1158.8 410 1159 410.5 1159.3 411 1159.5 411.5 1159.7 412 1159.9 412.5 1160.2 413 1160.4 413.5 1160.7 414 1160.9 414.5 1161.1 415 1161.4 415.5 1161.6 416 1161.9 416.5 1162.1 417.1 1162.4 417.6 1162.7 418.1 1162.9 418.6 1163.2 419.1 1163.4 419.6 1163.7 420.1 1164 420.6 1164.2 421.1 1164.5 421.6 1164.8 422.1 1165 422.6 1165.3 423.1 1165.6 423.6 1165.8 424.1 1166.1 424.7 1166.4 425.2 1166.7 425.7 1166.9 426.2 1167.2 426.7 1167.5 427.2 1167.7 427.7 1168 428.2 1168.3 428.7 1168.5 429.2 1168.8 429.7 1169.1 430.2 1169.3 430.7 1169.6 431.2 1169.9 431.8 1170.1 432.3 1170.4 432.8 1170.6 433.3 1170.9 433.8 1171.2 434.3 1171.4 434.8 1171.7 435.3 1171.9 435.8 1172.1 436.3 1172.4 436.8 1172.6 437.3 1172.9 437.8 1173.1 438.3 1173.3 438.8 1173.6 439.4 1173.8 439.9 1174 440.4 1174.2 440.9 1174.4 441.4 1174.6 441.9 1174.8 442.4 1175 442.9 1175.2 443.4 1175.4 443.9 1175.6 444.4 1175.8 444.9 1176 445.4 1176.2 445.9 1176.3 446.4 1176.5 447 1176.7 447.5 1176.8 448 1177 448.5 1177.1 449 1177.3 449.5 1177.4 450 1177.6 450.5 1177.7 451 1177.8 451.5 1177.9 452 1178 452.5 1178.2 453 1178.3 453.5 1178.4 454 1178.4 454.6 1178.5 455.1 1178.6 455.6 1178.7 456.1 1178.8 456.6 1178.8 457.1 1178.9 457.6 1178.9 458.1 1179 458.6 1179 459.1 1179.1 459.6 1179.1 460.1 1179.1 460.6 1179.1 461.1 1179.1 461.6 1179.2 462.2 1179.2 462.7 1179.2 463.2 1179.1 463.7 1179.1 464.2 1179.1 464.7 1179.1 465.2 1179 465.7 1179 466.2 1179 466.7 1178.9 467.2 1178.9 467.7 1178.8 468.2 1178.7 468.7 1178.6 469.2 1178.6 469.8 1178.5 470.3 1178.4 470.8 1178.3 471.3 1178.2 471.8 1178.1 472.3 1178 472.8 1177.9 473.3 1177.7 473.8 1177.6 474.3 1177.5 474.8 1177.3 475.3 1177.2 475.8 1177.1 476.3 1176.9 476.9 1176.7 477.4 1176.6 477.9 1176.4 478.4 1176.3 478.9 1176.1 479.4 1175.9 479.9 1175.7 480.4 1175.5 480.9 1175.3 481.4 1175.1 481.9 1174.9 482.4 1174.7 482.9 1174.5 483.4 1174.3 483.9 1174.1 484.5 1173.9 485 1173.7 485.5 1173.4 486 1173.2 486.5 1173 487 1172.7 487.5 1172.5 488 1172.3 488.5 1172 489 1171.8 489.5 1171.5 490 1171.3 490.5 1171 491 1170.8 491.5 1170.5 492.1 1170.3 492.6 1170 493.1 1169.7 493.6 1169.5 494.1 1169.2 494.6 1168.9 495.1 1168.7 495.6 1168.4 496.1 1168.1 496.6 1167.9 497.1 1167.6 497.6 1167.3 498.1 1167.1 498.6 1166.8 499.1 1166.5 499.7 1166.2 500.2 1166 500.7 1165.7 501.2 1165.4 501.7 1165.2 502.2 1164.9 502.7 1164.6 503.2 1164.4 503.7 1164.1 504.2 1163.8 504.7 1163.6 505.2 1163.3 505.7 1163 506.2 1162.8 506.7 1162.5 507.3 1162.3 507.8 1162 508.3 1161.8 508.8 1161.5 509.3 1161.3 509.8 1161 510.3 1160.8 510.8 1160.5 511.3 1160.3 511.8 1160.1 512.3 1159.8 512.8 1159.6 513.3 1159.4 513.8 1159.1 514.4 1158.9 514.9 1158.7 515.4 1158.5 515.9 1158.3 516.4 1158.1 516.9 1157.9 517.4 1157.7 517.9 1157.5 518.4 1157.3 518.9 1157.1 519.4 1156.9 519.9 1156.8 520.4 1156.6 520.9 1156.4 521.4 1156.3 522 1156.1 522.5 1156 523 1155.8 523.5 1155.7 524 1155.5 524.5 1155.4 525 1155.3 525.5 1155.1 526 1155 526.5 1154.9 527 1154.8 527.5 1154.7 528 1154.6 528.5 1154.5 529 1154.4 529.6 1154.4 530.1 1154.3 530.6 1154.2 531.1 1154.2 531.6 1154.1 532.1 1154.1 532.6 1154 533.1 1154 533.6 1153.9 534.1 1153.9 534.6 1153.9 535.1 1153.9 535.6 1153.9 536.1 1153.8 536.6 1153.9 537.2 1153.9 537.7 1153.9 538.2 1153.9 538.7 1153.9 539.2 1153.9 539.7 1154 540.2 1154 540.7 1154.1 541.2 1154.1 541.7 1154.2 542.2 1154.2 542.7 1154.3 543.2 1154.4 543.7 1154.5 544.2 1154.6 544.8 1154.6 545.3 1154.7 545.8 1154.8 546.3 1155 546.8 1155.1 547.3 1155.2 547.8 1155.3 548.3 1155.4 548.8 1155.6 549.3 1155.7 549.8 1155.9 550.3 1156 550.8 1156.2 551.3 1156.3 551.8 1156.5 552.4 1156.7 552.9 1156.8 553.4 1157 553.9 1157.2 554.4 1157.4 554.9 1157.6 555.4 1157.7 555.9 1157.9 556.4 1158.1 556.9 1158.4 557.4 1158.6 557.9 1158.8 558.4 1159 558.9 1159.2 559.5 1159.4 560 1159.7 560.5 1159.9 561 1160.1 561.5 1160.4 562 1160.6 562.5 1160.8 563 1161.1 563.5 1161.3 564 1161.6 564.5 1161.8 565 1162.1 565.5 1162.3 566 1162.6 566.5 1162.9 567.1 1163.1 567.6 1163.4 568.1 1163.6 568.6 1163.9 569.1 1164.2 569.6 1164.4 570.1 1164.7 570.6 1165 571.1 1165.2 571.6 1165.5 572.1 1165.8 572.6 1166.1 573.1 1166.3 573.6 1166.6 574.1 1166.9 574.7 1167.1 575.2 1167.4 575.7 1167.7 576.2 1168 576.7 1168.2 577.2 1168.5 577.7 1168.8 578.2 1169 578.7 1169.3 579.2 1169.6 579.7 1169.8 580.2 1170.1 580.7 1170.3 581.2 1170.6 581.7 1170.8 582.3 1171.1 582.8 1171.4 583.3 1171.6 583.8 1171.8 584.3 1172.1 584.8 1172.3 585.3 1172.6 585.8 1172.8 586.3 1173 586.8 1173.3 587.3 1173.5 587.8 1173.7 588.3 1173.9 588.8 1174.2 589.3 1174.4 589.9 1174.6 590.4 1174.8 590.9 1175 591.4 1175.2 591.9 1175.4 592.4 1175.6 592.9 1175.8 593.4 1176 593.9 1176.1 594.4 1176.3 594.9 1176.5 595.4 1176.6 595.9 1176.8 596.4 1177 597 1177.1 597.5 1177.2 598 1177.4 598.5 1177.5 599 1177.7 599.5 1177.8 600 1177.9 600.5 1178 601 1178.1 601.5 1178.2 602 1178.3 602.5 1178.4 603 1178.5 603.5 1178.6 604 1178.7 604.6 1178.7 605.1 1178.8 605.6 1178.9 606.1 1178.9 606.6 1179 607.1 1179 607.6 1179.1 608.1 1179.1 608.6 1179.1 609.1 1179.1 609.6 1179.1 610.1 1179.2 610.6 1179.2 611.1 1179.2 611.6 1179.1 612.2 1179.1 612.7 1179.1 613.2 1179.1 613.7 1179 614.2 1179 614.7 1179 615.2 1178.9 615.7 1178.9 616.2 1178.8 616.7 1178.7 617.2 1178.7 617.7 1178.6 618.2 1178.5 618.7 1178.4 619.2 1178.3 619.8 1178.2 620.3 1178.1 620.8 1178 621.3 1177.9 621.8 1177.8 622.3 1177.6 622.8 1177.5 623.3 1177.4 623.8 1177.2 624.3 1177.1 624.8 1176.9 625.3 1176.8 625.8 1176.6 626.3 1176.5 626.8 1176.3 627.4 1176.1 627.9 1175.9 628.4 1175.8 628.9 1175.6 629.4 1175.4 629.9 1175.2 630.4 1175 630.9 1174.8 631.4 1174.6 631.9 1174.4 632.4 1174.1 632.9 1173.9 633.4 1173.7 633.9 1173.5 634.4 1173.3 635 1173 635.5 1172.8 636 1172.5 636.5 1172.3 637 1172.1 637.5 1171.8 638 1171.6 638.5 1171.3 639 1171.1 639.5 1170.8 640 1170.6 640.5 1170.3 641 1170 641.5 1169.8 642.1 1169.5 642.6 1169.3 643.1 1169 643.6 1168.7 644.1 1168.5 644.6 1168.2 645.1 1167.9 645.6 1167.7 646.1 1167.4 646.6 1167.1 647.1 1166.8 647.6 1166.6 648.1 1166.3 648.6 1166 649.1 1165.8 649.7 1165.5 650.2 1165.2 650.7 1164.9 651.2 1164.7 651.7 1164.4 652.2 1164.1 652.7 1163.9 653.2 1163.6 653.7 1163.4 654.2 1163.1 654.7 1162.8 655.2 1162.6 655.7 1162.3 656.2 1162.1 656.7 1161.8 657.3 1161.6 657.8 1161.3 658.3 1161.1 658.8 1160.8 659.3 1160.6 659.8 1160.3 660.3 1160.1 660.8 1159.9 661.3 1159.6 661.8 1159.4 662.3 1159.2 662.8 1159 663.3 1158.8 663.8 1158.5 664.3 1158.3 664.9 1158.1 665.4 1157.9 665.9 1157.7 666.4 1157.5 666.9 1157.3 667.4 1157.2 667.9 1157 668.4 1156.8 668.9 1156.6 669.4 1156.5 669.9 1156.3 670.4 1156.1 670.9 1156 671.4 1155.8 671.9 1155.7 672.5 1155.6 673 1155.4 673.5 1155.3 674 1155.2 674.5 1155.1 675 1154.9 675.5 1154.8 676 1154.7 676.5 1154.6 677 1154.5 677.5 1154.5 678 1154.4 678.5 1154.3 679 1154.2 679.6 1154.2 680.1 1154.1 680.6 1154.1 681.1 1154 681.6 1154 682.1 1153.9 682.6 1153.9 683.1 1153.9 683.6 1153.9 684.1 1153.9 684.6 1153.8 685.1 1153.8 685.6 1153.9 686.1 1153.9 686.6 1153.9 687.2 1153.9 687.7 1153.9 688.2 1154 688.7 1154 689.2 1154.1 689.7 1154.1 690.2 1154.2 690.7 1154.2 691.2 1154.3 691.7 1154.4 692.2 1154.4 692.7 1154.5 693.2 1154.6 693.7 1154.7 694.2 1154.8 694.8 1154.9 695.3 1155 695.8 1155.2 696.3 1155.3 696.8 1155.4 697.3 1155.5 697.8 1155.7 698.3 1155.8 698.8 1156 699.3 1156.1 699.8 1156.3 700.3 1156.4 700.8 1156.6 701.3 1156.8 701.8 1157 702.4 1157.1 702.9 1157.3 703.4 1157.5 703.9 1157.7 704.4 1157.9 704.9 1158.1 705.4 1158.3 705.9 1158.5 706.4 1158.7 706.9 1158.9 707.4 1159.2 707.9 1159.4 708.4 1159.6 708.9 1159.8 709.4 1160.1 710 1160.3 710.5 1160.5 711 1160.8 711.5 1161 712 1161.3 712.5 1161.5 713 1161.8 713.5 1162 714 1162.3 714.5 1162.5 715 1162.8 715.5 1163.1 716 1163.3 716.5 1163.6 717.1 1163.8 717.6 1164.1 718.1 1164.4 718.6 1164.6 719.1 1164.9 719.6 1165.2 720.1 1165.5 720.6 1165.7 721.1 1166 721.6 1166.3 722.1 1166.5 722.6 1166.8 723.1 1167.1 723.6 1167.4 724.1 1167.6 724.7 1167.9 725.2 1168.2 725.7 1168.4 726.2 1168.7 726.7 1169 727.2 1169.2 727.7 1169.5 728.2 1169.8 728.7 1170 729.2 1170.3 729.7 1170.5 730.2 1170.8 730.7 1171 731.2 1171.3 731.7 1171.5 732.3 1171.8 732.8 1172 733.3 1172.3 733.8 1172.5 734.3 1172.8 734.8 1173 735.3 1173.2 735.8 1173.5 736.3 1173.7 736.8 1173.9 737.3 1174.1 737.8 1174.3 738.3 1174.5 738.8 1174.8 739.3 1175 739.9 1175.2 740.4 1175.4 740.9 1175.5 741.4 1175.7 741.9 1175.9 742.4 1176.1 742.9 1176.3 743.4 1176.4 743.9 1176.6 744.4 1176.8 744.9 1176.9 745.4 1177.1 745.9 1177.2 746.4 1177.4 746.9 1177.5 747.5 1177.6 748 1177.8 748.5 1177.9 749 1178 749.5 1178.1 750 1178.2 750.5 1178.3 751 1178.4 751.5 1178.5 752 1178.6 752.5 1178.7 753 1178.7 753.5 1178.8 754 1178.9 754.5 1178.9 755.1 1179 755.6 1179 756.1 1179 756.6 1179.1 757.1 1179.1 757.6 1179.1 758.1 1179.1 758.6 1179.2 759.1 1179.2 759.6 1179.2 760.1 1179.1 760.6 1179.1 761.1 1179.1 761.6 1179.1 762.2 1179.1 762.7 1179 763.2 1179 763.7 1178.9 764.2 1178.9 764.7 1178.8 765.2 1178.8 765.7 1178.7 766.2 1178.6 766.7 1178.5 767.2 1178.4 767.7 1178.3 768.2 1178.2 768.7 1178.1 769.2 1178 769.8 1177.9 770.3 1177.8 770.8 1177.7 771.3 1177.5 771.8 1177.4 772.3 1177.3 772.8 1177.1 773.3 1177 773.8 1176.8 774.3 1176.7 774.8 1176.5 775.3 1176.3 775.8 1176.2 776.3 1176 776.8 1175.8 777.4 1175.6 777.9 1175.4 778.4 1175.2 778.9 1175 779.4 1174.8 779.9 1174.6 780.4 1174.4 780.9 1174.2 781.4 1174 781.9 1173.8 782.4 1173.5 782.9 1173.3 783.4 1173.1 783.9 1172.8 784.4 1172.6 785 1172.4 785.5 1172.1 786 1171.9 786.5 1171.6 787 1171.4 787.5 1171.1 788 1170.9 788.5 1170.6 789 1170.4 789.5 1170.1 790 1169.8 790.5 1169.6 791 1169.3 791.5 1169.1 792 1168.8 792.6 1168.5 793.1 1168.3 793.6 1168 794.1 1167.7 794.6 1167.4 795.1 1167.2 795.6 1166.9 796.1 1166.6 796.6 1166.4 797.1 1166.1 797.6 1165.8 798.1 1165.5 798.6 1165.3 799.1 1165 799.7 1164.7 800.2 1164.5 800.7 1164.2 801.2 1163.9 801.7 1163.7 802.2 1163.4 802.7 1163.1 803.2 1162.9 803.7 1162.6 804.2 1162.4 804.7 1162.1 805.2 1161.9 805.7 1161.6 806.2 1161.4 806.7 1161.1 807.3 1160.9 807.8 1160.6 808.3 1160.4 808.8 1160.2 809.3 1159.9 809.8 1159.7 810.3 1159.5 810.8 1159.2 811.3 1159 811.8 1158.8 812.3 1158.6 812.8 1158.4 813.3 1158.2 813.8 1158 814.3 1157.8 814.9 1157.6 815.4 1157.4 815.9 1157.2 816.4 1157 816.9 1156.8 817.4 1156.7 817.9 1156.5 818.4 1156.3 818.9 1156.2 819.4 1156 819.9 1155.9 820.4 1155.7 820.9 1155.6 821.4 1155.5 821.9 1155.3 822.5 1155.2 823 1155.1 823.5 1155 824 1154.9 824.5 1154.8 825 1154.7 825.5 1154.6 826 1154.5 826.5 1154.4 827 1154.3 827.5 1154.2 828 1154.2 828.5 1154.1 829 1154.1 829.5 1154 830.1 1154 830.6 1153.9 831.1 1153.9 831.6 1153.9 832.1 1153.9 832.6 1153.9 833.1 1153.9 833.6 1153.8 834.1 1153.9 834.6 1153.9 835.1 1153.9 835.6 1153.9 836.1 1153.9 836.6 1154 837.1 1154" stroke="#7C1B80" stroke-width="5.5" stroke-dasharray="19.4 4.7 9.9 4.7"/>
<path d="M127.9 1085.7 V1241.4" stroke="#0670BB" stroke-width="3.9"/>
<path d="M127.7 1085.5 128.8 1140.2 129.9 1148.6 131 1153.9 132.1 1160.2 133.2 1167.9 134.4 1176.8 135.5 1186.8 136.6 1197.6 137.7 1209 138.8 1220.9 139.9 1232.9 141 1244.9 142.1 1256.6 143.2 1267.7 144.3 1278.1 145.4 1287.5 146.5 1295.9 147.7 1302.9 148.8 1308.4 149.9 1312.4 151 1314.8 152.1 1315.5 153.2 1314.5 154.3 1311.8 155.4 1307.6 156.5 1301.7 157.6 1294.5 158.7 1286 159.8 1276.4 161 1265.8 162.1 1254.6 163.2 1242.8 164.3 1230.8 165.4 1218.8 166.5 1207 167.6 1195.7 168.7 1185 169.8 1175.2 170.9 1166.5 172 1159 173.1 1153 174.3 1148.4 175.4 1145.5 176.5 1144.2 177.6 1144.6 178.7 1146.7 179.8 1150.5 180.9 1155.8 182 1162.6 183.1 1170.6 184.2 1179.9 185.3 1190.2 186.5 1201.2 187.6 1212.8 188.7 1224.7 189.8 1236.8 190.9 1248.7 192 1260.2 193.1 1271.1 194.2 1281.2 195.3 1290.3 196.4 1298.2 197.5 1304.8 198.6 1309.9 199.8 1313.4 200.9 1315.2 202 1315.4 203.1 1313.8 204.2 1310.6 205.3 1305.9 206.4 1299.6 207.5 1291.9 208.6 1283 209.7 1273.1 210.8 1262.3 211.9 1250.9 213.1 1239 214.2 1227 215.3 1215 216.4 1203.3 217.5 1192.2 218.6 1181.8 219.7 1172.3 220.8 1164 221.9 1156.9 223 1151.4 224.1 1147.3 225.2 1144.9 226.4 1144.2 227.5 1145.1 228.6 1147.8 229.7 1152 230.8 1157.8 231.9 1165 233 1173.5 234.1 1183.1 235.2 1193.6 236.3 1204.9 237.4 1216.6 238.6 1228.6 239.7 1240.6 240.8 1252.4 241.9 1263.8 243 1274.5 244.1 1284.3 245.2 1293 246.3 1300.5 247.4 1306.6 248.5 1311.2 249.6 1314.1 250.7 1315.4 251.9 1315.1 253 1313 254.1 1309.3 255.2 1304 256.3 1297.3 257.4 1289.2 258.5 1280 259.6 1269.7 260.7 1258.7 261.8 1247.1 262.9 1235.2 264 1223.1 265.2 1211.2 266.3 1199.7 267.4 1188.8 268.5 1178.6 269.6 1169.5 270.7 1161.6 271.8 1155 272.9 1149.9 274 1146.4 275.1 1144.5 276.2 1144.3 277.3 1145.8 278.5 1148.9 279.6 1153.7 280.7 1159.9 281.8 1167.6 282.9 1176.4 284 1186.4 285.1 1197.1 286.2 1208.6 287.3 1220.4 288.4 1232.4 289.5 1244.4 290.7 1256.1 291.8 1267.3 292.9 1277.7 294 1287.2 295.1 1295.5 296.2 1302.6 297.3 1308.2 298.4 1312.3 299.5 1314.7 300.6 1315.5 301.7 1314.6 302.8 1312 304 1307.8 305.1 1302 306.2 1294.8 307.3 1286.4 308.4 1276.8 309.5 1266.3 310.6 1255.1 311.7 1243.3 312.8 1231.3 313.9 1219.3 315 1207.5 316.1 1196.1 317.3 1185.4 318.4 1175.6 319.5 1166.8 320.6 1159.3 321.7 1153.2 322.8 1148.6 323.9 1145.6 325 1144.2 326.1 1144.6 327.2 1146.6 328.3 1150.3 329.4 1155.5 330.6 1162.2 331.7 1170.3 332.8 1179.5 333.9 1189.7 335 1200.7 336.1 1212.3 337.2 1224.2 338.3 1236.3 339.4 1248.2 340.5 1259.7 341.6 1270.7 342.8 1280.8 343.9 1290 345 1297.9 346.1 1304.5 347.2 1309.7 348.3 1313.2 349.4 1315.2 350.5 1315.4 351.6 1313.9 352.7 1310.8 353.8 1306.1 354.9 1299.9 356.1 1292.3 357.2 1283.4 358.3 1273.5 359.4 1262.8 360.5 1251.3 361.6 1239.5 362.7 1227.5 363.8 1215.5 364.9 1203.8 366 1192.6 367.1 1182.2 368.2 1172.7 369.4 1164.3 370.5 1157.2 371.6 1151.6 372.7 1147.5 373.8 1145 374.9 1144.2 376 1145.1 377.1 1147.6 378.2 1151.8 379.3 1157.5 380.4 1164.7 381.6 1173.1 382.7 1182.7 383.8 1193.2 384.9 1204.4 386 1216.1 387.1 1228.1 388.2 1240.1 389.3 1251.9 390.4 1263.3 391.5 1274 392.6 1283.9 393.7 1292.7 394.9 1300.2 396 1306.4 397.1 1311 398.2 1314 399.3 1315.4 400.4 1315.1 401.5 1313.1 402.6 1309.5 403.7 1304.3 404.8 1297.6 405.9 1289.6 407 1280.4 408.2 1270.2 409.3 1259.2 410.4 1247.6 411.5 1235.7 412.6 1223.6 413.7 1211.7 414.8 1200.2 415.9 1189.2 417 1179 418.1 1169.9 419.2 1161.9 420.3 1155.2 421.5 1150.1 422.6 1146.5 423.7 1144.5 424.8 1144.3 425.9 1145.7 427 1148.8 428.1 1153.5 429.2 1159.7 430.3 1167.2 431.4 1176.1 432.5 1185.9 433.7 1196.7 434.8 1208.1 435.9 1219.9 437 1231.9 438.1 1243.9 439.2 1255.6 440.3 1266.8 441.4 1277.3 442.5 1286.8 443.6 1295.2 444.7 1302.3 445.8 1308 447 1312.1 448.1 1314.7 449.2 1315.5 450.3 1314.6 451.4 1312.1 452.5 1308 453.6 1302.3 454.7 1295.2 455.8 1286.7 456.9 1277.2 458 1266.7 459.1 1255.5 460.3 1243.8 461.4 1231.8 462.5 1219.8 463.6 1208 464.7 1196.6 465.8 1185.9 466.9 1176 468 1167.2 469.1 1159.6 470.2 1153.4 471.3 1148.8 472.4 1145.7 473.6 1144.3 474.7 1144.5 475.8 1146.5 476.9 1150.1 478 1155.3 479.1 1161.9 480.2 1169.9 481.3 1179.1 482.4 1189.3 483.5 1200.3 484.6 1211.8 485.8 1223.7 486.9 1235.8 488 1247.7 489.1 1259.3 490.2 1270.2 491.3 1280.4 492.4 1289.6 493.5 1297.6 494.6 1304.3 495.7 1309.5 496.8 1313.1 497.9 1315.1 499.1 1315.4 500.2 1314 501.3 1311 502.4 1306.3 503.5 1300.1 504.6 1292.6 505.7 1283.8 506.8 1273.9 507.9 1263.2 509 1251.8 510.1 1240 511.2 1228 512.4 1216 513.5 1204.3 514.6 1193.1 515.7 1182.6 516.8 1173 517.9 1164.6 519 1157.5 520.1 1151.8 521.2 1147.6 522.3 1145 523.4 1144.2 524.5 1145 525.7 1147.5 526.8 1151.6 527.9 1157.3 529 1164.4 530.1 1172.7 531.2 1182.3 532.3 1192.7 533.4 1203.9 534.5 1215.6 535.6 1227.6 536.7 1239.6 537.9 1251.4 539 1262.8 540.1 1273.6 541.2 1283.5 542.3 1292.3 543.4 1299.9 544.5 1306.1 545.6 1310.8 546.7 1313.9 547.8 1315.4 548.9 1315.1 550 1313.2 551.2 1309.7 552.3 1304.5 553.4 1297.9 554.5 1289.9 555.6 1280.8 556.7 1270.6 557.8 1259.6 558.9 1248.1 560 1236.2 561.1 1224.1 562.2 1212.2 563.3 1200.6 564.5 1189.6 565.6 1179.4 566.7 1170.2 567.8 1162.2 568.9 1155.5 570 1150.3 571.1 1146.6 572.2 1144.6 573.3 1144.2 574.4 1145.6 575.5 1148.6 576.6 1153.2 577.8 1159.4 578.9 1166.9 580 1175.7 581.1 1185.5 582.2 1196.2 583.3 1207.6 584.4 1219.4 585.5 1231.4 586.6 1243.4 587.7 1255.1 588.8 1266.4 590 1276.9 591.1 1286.4 592.2 1294.9 593.3 1302.1 594.4 1307.8 595.5 1312 596.6 1314.6 597.7 1315.5 598.8 1314.7 599.9 1312.3 601 1308.2 602.1 1302.5 603.3 1295.5 604.4 1287.1 605.5 1277.6 606.6 1267.2 607.7 1256 608.8 1244.3 609.9 1232.3 611 1220.3 612.1 1208.5 613.2 1197.1 614.3 1186.3 615.4 1176.4 616.6 1167.5 617.7 1159.9 618.8 1153.7 619.9 1148.9 621 1145.8 622.1 1144.3 623.2 1144.5 624.3 1146.4 625.4 1149.9 626.5 1155 627.6 1161.6 628.7 1169.6 629.9 1178.7 631 1188.8 632.1 1199.8 633.2 1211.3 634.3 1223.2 635.4 1235.3 636.5 1247.2 637.6 1258.8 638.7 1269.8 639.8 1280 640.9 1289.3 642.1 1297.3 643.2 1304.1 644.3 1309.3 645.4 1313 646.5 1315.1 647.6 1315.4 648.7 1314.1 649.8 1311.1 650.9 1306.5 652 1300.4 653.1 1292.9 654.2 1284.2 655.4 1274.4 656.5 1263.7 657.6 1252.3 658.7 1240.5 659.8 1228.5 660.9 1216.5 662 1204.8 663.1 1193.5 664.2 1183 665.3 1173.4 666.4 1164.9 667.5 1157.7 668.7 1152 669.8 1147.7 670.9 1145.1 672 1144.2 673.1 1144.9 674.2 1147.3 675.3 1151.4 676.4 1157 677.5 1164 678.6 1172.4 679.7 1181.8 680.8 1192.3 682 1203.4 683.1 1215.1 684.2 1227.1 685.3 1239.1 686.4 1251 687.5 1262.4 688.6 1273.2 689.7 1283.1 690.8 1292 691.9 1299.6 693 1305.9 694.2 1310.7 695.3 1313.8 696.4 1315.4 697.5 1315.2 698.6 1313.3 699.7 1309.8 700.8 1304.7 701.9 1298.2 703 1290.3 704.1 1281.2 705.2 1271 706.3 1260.1 707.5 1248.6 708.6 1236.7 709.7 1224.6 710.8 1212.7 711.9 1201.1 713 1190.1 714.1 1179.8 715.2 1170.6 716.3 1162.5 717.4 1155.7 718.5 1150.4 719.6 1146.7 720.8 1144.6 721.9 1144.2 723 1145.5 724.1 1148.5 725.2 1153 726.3 1159.1 727.4 1166.6 728.5 1175.3 729.6 1185.1 730.7 1195.8 731.8 1207.1 732.9 1218.9 734.1 1230.9 735.2 1242.9 736.3 1254.7 737.4 1265.9 738.5 1276.4 739.6 1286.1 740.7 1294.6 741.8 1301.8 742.9 1307.6 744 1311.9 745.1 1314.5 746.3 1315.5 747.4 1314.8 748.5 1312.4 749.6 1308.4 750.7 1302.8 751.8 1295.8 752.9 1287.5 754 1278 755.1 1267.6 756.2 1256.5 757.3 1244.8 758.4 1232.8 759.6 1220.8 760.7 1209 761.8 1197.5 762.9 1186.7 764 1176.8 765.1 1167.9 766.2 1160.2 767.3 1153.9 768.4 1149.1 769.5 1145.9 770.6 1144.3 771.7 1144.5 772.9 1146.3 774 1149.8 775.1 1154.8 776.2 1161.3 777.3 1169.2 778.4 1178.3 779.5 1188.4 780.6 1199.3 781.7 1210.9 782.8 1222.7 783.9 1234.8 785 1246.7 786.2 1258.3 787.3 1269.4 788.4 1279.6 789.5 1288.9 790.6 1297 791.7 1303.8 792.8 1309.1 793.9 1312.9 795 1315 796.1 1315.5 797.2 1314.2 798.4 1311.3 799.5 1306.8 800.6 1300.7 801.7 1293.3 802.8 1284.6 803.9 1274.8 805 1264.1 806.1 1252.8 807.2 1241 808.3 1229 809.4 1217 810.5 1205.2 811.7 1194 812.8 1183.4 813.9 1173.8 815 1165.3 816.1 1158 817.2 1152.2 818.3 1147.9 819.4 1145.2 820.5 1144.2 821.6 1144.9 822.7 1147.2 823.8 1151.2 825 1156.7 826.1 1163.7 827.2 1172 828.3 1181.4 829.4 1191.8 830.5 1203 831.6 1214.6 832.7 1226.6 833.8 1238.6 834.9 1250.5 836 1261.9 837.1 1272.7" stroke="#0670BB" stroke-width="3.75" stroke-linejoin="miter" stroke-miterlimit="6"/>
</g>
<text x="126.6" y="1386" text-anchor="middle">0</text>
<text x="244.84" y="1386" text-anchor="middle">5</text>
<text x="364.18" y="1386" text-anchor="middle">10</text>
<text x="482.42" y="1386" text-anchor="middle">15</text>
<text x="600.67" y="1386" text-anchor="middle">20</text>
<text x="718.91" y="1386" text-anchor="middle">25</text>
<text x="837.15" y="1386" text-anchor="middle">30</text>
<text x="100.4" y="1113.83" text-anchor="end">1</text>
<text x="100.4" y="1177.1" text-anchor="end">0</text>
<text x="100.4" y="1240.37" text-anchor="end">−1</text>
<text x="100.4" y="1303.64" text-anchor="end">−2</text>
<text x="481.93" y="1444" text-anchor="middle">Time (s)</text>
<text x="481.93" y="1511.5" text-anchor="middle">(e)</text>
<rect x="251.55" y="1088.45" width="568.1" height="48.9" fill="#ffffff" stroke="#1a1a1a" stroke-width="2.7"/>
<path d="M258.3 1113.2 H323" fill="none" stroke="#E50914" stroke-width="5.5" stroke-dasharray="19.4 4.7 9.9 4.7"/>
<text x="327.3" y="1121.5" font-size="29.2">Lower bound</text>
<path d="M488.6 1113.2 H553.4" fill="none" stroke="#7C1B80" stroke-width="5.5" stroke-dasharray="19.4 4.7 9.9 4.7"/>
<text x="558.1" y="1121.5" font-size="29.2">Upper bound</text>
<path d="M719 1113.2 H783.7" fill="none" stroke="#0670BB" stroke-width="4"/>
<text x="787.7" y="1117.3" font-size="30" font-style="italic">x</text>
<text x="802.8" y="1119.9" font-size="16.5">2</text>
<path d="M990 1331 v-7.9 M990 1070.8 v7.9 M1108.24 1331 v-7.9 M1108.24 1070.8 v7.9 M1226.48 1331 v-7.9 M1226.48 1070.8 v7.9 M1344.72 1331 v-7.9 M1344.72 1070.8 v7.9 M1462.97 1331 v-7.9 M1462.97 1070.8 v7.9 M1581.21 1331 v-7.9 M1581.21 1070.8 v7.9 M1699.45 1331 v-7.9 M1699.45 1070.8 v7.9 M990 1070.8 h7.9 M1699.45 1070.8 h-7.9 M990 1143.08 h7.9 M1699.45 1143.08 h-7.9 M990 1215.36 h7.9 M1699.45 1215.36 h-7.9 M990 1287.63 h7.9 M1699.45 1287.63 h-7.9" fill="none" stroke="#262626" stroke-width="1.1"/>
<rect x="990" y="1070.8" width="709.45" height="260.2" fill="none" stroke="#262626" stroke-width="1.15"/>
<clipPath id="cp6"><rect x="986" y="1069.8" width="714.45" height="261.7"/></clipPath>
<g clip-path="url(#cp6)" fill="none" stroke-linejoin="round">
<path d="M990.2 1069.3 V1333" stroke="#0670BB" stroke-width="4"/>
<path d="M990 1217.3 990.5 1218.3 991 1219.4 991.5 1220.4 992 1221.4 992.5 1222.3 993 1223.3 993.5 1224.2 994.1 1225 994.6 1225.9 995.1 1226.6 995.6 1227.4 996.1 1228.1 996.6 1228.7 997.1 1229.3 997.6 1229.8 998.1 1230.3 998.6 1230.7 999.1 1231 999.6 1231.3 1000.1 1231.5 1000.6 1231.6 1001.1 1231.7 1001.7 1231.7 1002.2 1231.6 1002.7 1231.5 1003.2 1231.3 1003.7 1231 1004.2 1230.7 1004.7 1230.3 1005.2 1229.9 1005.7 1229.3 1006.2 1228.8 1006.7 1228.2 1007.2 1227.5 1007.7 1226.7 1008.2 1226 1008.7 1225.2 1009.3 1224.3 1009.8 1223.4 1010.3 1222.5 1010.8 1221.5 1011.3 1220.5 1011.8 1219.5 1012.3 1218.5 1012.8 1217.5 1013.3 1216.4 1013.8 1215.4 1014.3 1214.3 1014.8 1213.3 1015.3 1212.2 1015.8 1211.2 1016.4 1210.2 1016.9 1209.2 1017.4 1208.3 1017.9 1207.3 1018.4 1206.4 1018.9 1205.6 1019.4 1204.7 1019.9 1204 1020.4 1203.2 1020.9 1202.6 1021.4 1201.9 1021.9 1201.4 1022.4 1200.9 1022.9 1200.4 1023.4 1200 1024 1199.7 1024.5 1199.4 1025 1199.2 1025.5 1199.1 1026 1199 1026.5 1199 1027 1199.1 1027.5 1199.2 1028 1199.4 1028.5 1199.7 1029 1200.1 1029.5 1200.5 1030 1200.9 1030.5 1201.4 1031 1202 1031.6 1202.6 1032.1 1203.3 1032.6 1204.1 1033.1 1204.8 1033.6 1205.7 1034.1 1206.5 1034.6 1207.4 1035.1 1208.4 1035.6 1209.3 1036.1 1210.3 1036.6 1211.3 1037.1 1212.4 1037.6 1213.4 1038.1 1214.4 1038.6 1215.5 1039.2 1216.5 1039.7 1217.6 1040.2 1218.6 1040.7 1219.6 1041.2 1220.6 1041.7 1221.6 1042.2 1222.6 1042.7 1223.5 1043.2 1224.4 1043.7 1225.3 1044.2 1226.1 1044.7 1226.8 1045.2 1227.6 1045.7 1228.2 1046.2 1228.9 1046.8 1229.4 1047.3 1229.9 1047.8 1230.4 1048.3 1230.7 1048.8 1231.1 1049.3 1231.3 1049.8 1231.5 1050.3 1231.6 1050.8 1231.7 1051.3 1231.7 1051.8 1231.6 1052.3 1231.4 1052.8 1231.2 1053.3 1231 1053.9 1230.6 1054.4 1230.2 1054.9 1229.7 1055.4 1229.2 1055.9 1228.6 1056.4 1228 1056.9 1227.3 1057.4 1226.5 1057.9 1225.8 1058.4 1224.9 1058.9 1224.1 1059.4 1223.2 1059.9 1222.2 1060.4 1221.2 1060.9 1220.3 1061.5 1219.2 1062 1218.2 1062.5 1217.2 1063 1216.1 1063.5 1215.1 1064 1214 1064.5 1213 1065 1212 1065.5 1210.9 1066 1209.9 1066.5 1209 1067 1208 1067.5 1207.1 1068 1206.2 1068.5 1205.3 1069.1 1204.5 1069.6 1203.8 1070.1 1203.1 1070.6 1202.4 1071.1 1201.8 1071.6 1201.2 1072.1 1200.7 1072.6 1200.3 1073.1 1199.9 1073.6 1199.6 1074.1 1199.4 1074.6 1199.2 1075.1 1199.1 1075.6 1199 1076.1 1199 1076.7 1199.1 1077.2 1199.3 1077.7 1199.5 1078.2 1199.8 1078.7 1200.2 1079.2 1200.6 1079.7 1201 1080.2 1201.6 1080.7 1202.2 1081.2 1202.8 1081.7 1203.5 1082.2 1204.3 1082.7 1205.1 1083.2 1205.9 1083.7 1206.8 1084.3 1207.7 1084.8 1208.6 1085.3 1209.6 1085.8 1210.6 1086.3 1211.6 1086.8 1212.6 1087.3 1213.7 1087.8 1214.7 1088.3 1215.8 1088.8 1216.8 1089.3 1217.9 1089.8 1218.9 1090.3 1219.9 1090.8 1220.9 1091.3 1221.9 1091.9 1222.8 1092.4 1223.7 1092.9 1224.6 1093.4 1225.5 1093.9 1226.3 1094.4 1227 1094.9 1227.7 1095.4 1228.4 1095.9 1229 1096.4 1229.6 1096.9 1230 1097.4 1230.5 1097.9 1230.8 1098.4 1231.1 1099 1231.4 1099.5 1231.5 1100 1231.7 1100.5 1231.7 1101 1231.7 1101.5 1231.6 1102 1231.4 1102.5 1231.2 1103 1230.9 1103.5 1230.5 1104 1230.1 1104.5 1229.6 1105 1229.1 1105.5 1228.5 1106 1227.8 1106.6 1227.1 1107.1 1226.3 1107.6 1225.5 1108.1 1224.7 1108.6 1223.8 1109.1 1222.9 1109.6 1222 1110.1 1221 1110.6 1220 1111.1 1219 1111.6 1217.9 1112.1 1216.9 1112.6 1215.9 1113.1 1214.8 1113.6 1213.8 1114.2 1212.7 1114.7 1211.7 1115.2 1210.7 1115.7 1209.7 1116.2 1208.7 1116.7 1207.8 1117.2 1206.8 1117.7 1206 1118.2 1205.1 1118.7 1204.3 1119.2 1203.6 1119.7 1202.9 1120.2 1202.2 1120.7 1201.6 1121.2 1201.1 1121.8 1200.6 1122.3 1200.2 1122.8 1199.8 1123.3 1199.5 1123.8 1199.3 1124.3 1199.1 1124.8 1199 1125.3 1199 1125.8 1199.1 1126.3 1199.2 1126.8 1199.3 1127.3 1199.6 1127.8 1199.9 1128.3 1200.3 1128.8 1200.7 1129.4 1201.2 1129.9 1201.7 1130.4 1202.3 1130.9 1203 1131.4 1203.7 1131.9 1204.5 1132.4 1205.3 1132.9 1206.1 1133.4 1207 1133.9 1207.9 1134.4 1208.9 1134.9 1209.8 1135.4 1210.8 1135.9 1211.9 1136.5 1212.9 1137 1213.9 1137.5 1215 1138 1216 1138.5 1217.1 1139 1218.1 1139.5 1219.2 1140 1220.2 1140.5 1221.2 1141 1222.1 1141.5 1223.1 1142 1224 1142.5 1224.9 1143 1225.7 1143.5 1226.5 1144.1 1227.2 1144.6 1227.9 1145.1 1228.6 1145.6 1229.2 1146.1 1229.7 1146.6 1230.2 1147.1 1230.6 1147.6 1230.9 1148.1 1231.2 1148.6 1231.4 1149.1 1231.6 1149.6 1231.7 1150.1 1231.7 1150.6 1231.6 1151.1 1231.5 1151.7 1231.3 1152.2 1231.1 1152.7 1230.8 1153.2 1230.4 1153.7 1230 1154.2 1229.5 1154.7 1228.9 1155.2 1228.3 1155.7 1227.6 1156.2 1226.9 1156.7 1226.1 1157.2 1225.3 1157.7 1224.5 1158.2 1223.6 1158.7 1222.7 1159.3 1221.7 1159.8 1220.7 1160.3 1219.7 1160.8 1218.7 1161.3 1217.7 1161.8 1216.6 1162.3 1215.6 1162.8 1214.5 1163.3 1213.5 1163.8 1212.4 1164.3 1211.4 1164.8 1210.4 1165.3 1209.4 1165.8 1208.5 1166.3 1207.5 1166.9 1206.6 1167.4 1205.7 1167.9 1204.9 1168.4 1204.1 1168.9 1203.4 1169.4 1202.7 1169.9 1202.1 1170.4 1201.5 1170.9 1201 1171.4 1200.5 1171.9 1200.1 1172.4 1199.7 1172.9 1199.5 1173.4 1199.3 1174 1199.1 1174.5 1199 1175 1199 1175.5 1199.1 1176 1199.2 1176.5 1199.4 1177 1199.7 1177.5 1200 1178 1200.4 1178.5 1200.8 1179 1201.3 1179.5 1201.9 1180 1202.5 1180.5 1203.2 1181 1203.9 1181.6 1204.7 1182.1 1205.5 1182.6 1206.3 1183.1 1207.2 1183.6 1208.2 1184.1 1209.1 1184.6 1210.1 1185.1 1211.1 1185.6 1212.1 1186.1 1213.2 1186.6 1214.2 1187.1 1215.3 1187.6 1216.3 1188.1 1217.4 1188.6 1218.4 1189.2 1219.4 1189.7 1220.4 1190.2 1221.4 1190.7 1222.4 1191.2 1223.3 1191.7 1224.2 1192.2 1225.1 1192.7 1225.9 1193.2 1226.7 1193.7 1227.4 1194.2 1228.1 1194.7 1228.7 1195.2 1229.3 1195.7 1229.8 1196.2 1230.3 1196.8 1230.7 1197.3 1231 1197.8 1231.3 1198.3 1231.5 1198.8 1231.6 1199.3 1231.7 1199.8 1231.7 1200.3 1231.6 1200.8 1231.5 1201.3 1231.3 1201.8 1231 1202.3 1230.7 1202.8 1230.3 1203.3 1229.8 1203.8 1229.3 1204.4 1228.8 1204.9 1228.1 1205.4 1227.4 1205.9 1226.7 1206.4 1225.9 1206.9 1225.1 1207.4 1224.2 1207.9 1223.4 1208.4 1222.4 1208.9 1221.5 1209.4 1220.5 1209.9 1219.5 1210.4 1218.4 1210.9 1217.4 1211.4 1216.4 1212 1215.3 1212.5 1214.3 1213 1213.2 1213.5 1212.2 1214 1211.2 1214.5 1210.2 1215 1209.2 1215.5 1208.2 1216 1207.3 1216.5 1206.4 1217 1205.5 1217.5 1204.7 1218 1203.9 1218.5 1203.2 1219.1 1202.5 1219.6 1201.9 1220.1 1201.3 1220.6 1200.8 1221.1 1200.4 1221.6 1200 1222.1 1199.7 1222.6 1199.4 1223.1 1199.2 1223.6 1199.1 1224.1 1199 1224.6 1199 1225.1 1199.1 1225.6 1199.3 1226.1 1199.5 1226.7 1199.7 1227.2 1200.1 1227.7 1200.5 1228.2 1200.9 1228.7 1201.5 1229.2 1202 1229.7 1202.7 1230.2 1203.4 1230.7 1204.1 1231.2 1204.9 1231.7 1205.7 1232.2 1206.6 1232.7 1207.5 1233.2 1208.4 1233.7 1209.4 1234.3 1210.4 1234.8 1211.4 1235.3 1212.4 1235.8 1213.4 1236.3 1214.5 1236.8 1215.5 1237.3 1216.6 1237.8 1217.6 1238.3 1218.7 1238.8 1219.7 1239.3 1220.7 1239.8 1221.7 1240.3 1222.6 1240.8 1223.5 1241.3 1224.4 1241.9 1225.3 1242.4 1226.1 1242.9 1226.9 1243.4 1227.6 1243.9 1228.3 1244.4 1228.9 1244.9 1229.4 1245.4 1229.9 1245.9 1230.4 1246.4 1230.8 1246.9 1231.1 1247.4 1231.3 1247.9 1231.5 1248.4 1231.6 1248.9 1231.7 1249.5 1231.7 1250 1231.6 1250.5 1231.4 1251 1231.2 1251.5 1230.9 1252 1230.6 1252.5 1230.2 1253 1229.7 1253.5 1229.2 1254 1228.6 1254.5 1227.9 1255 1227.3 1255.5 1226.5 1256 1225.7 1256.6 1224.9 1257.1 1224 1257.6 1223.1 1258.1 1222.2 1258.6 1221.2 1259.1 1220.2 1259.6 1219.2 1260.1 1218.2 1260.6 1217.1 1261.1 1216.1 1261.6 1215 1262.1 1214 1262.6 1212.9 1263.1 1211.9 1263.6 1210.9 1264.2 1209.9 1264.7 1208.9 1265.2 1208 1265.7 1207 1266.2 1206.2 1266.7 1205.3 1267.2 1204.5 1267.7 1203.7 1268.2 1203 1268.7 1202.4 1269.2 1201.8 1269.7 1201.2 1270.2 1200.7 1270.7 1200.3 1271.2 1199.9 1271.8 1199.6 1272.3 1199.4 1272.8 1199.2 1273.3 1199.1 1273.8 1199 1274.3 1199 1274.8 1199.1 1275.3 1199.3 1275.8 1199.5 1276.3 1199.8 1276.8 1200.2 1277.3 1200.6 1277.8 1201.1 1278.3 1201.6 1278.8 1202.2 1279.4 1202.8 1279.9 1203.6 1280.4 1204.3 1280.9 1205.1 1281.4 1205.9 1281.9 1206.8 1282.4 1207.7 1282.9 1208.7 1283.4 1209.6 1283.9 1210.6 1284.4 1211.6 1284.9 1212.7 1285.4 1213.7 1285.9 1214.8 1286.4 1215.8 1287 1216.9 1287.5 1217.9 1288 1218.9 1288.5 1220 1289 1220.9 1289.5 1221.9 1290 1222.9 1290.5 1223.8 1291 1224.7 1291.5 1225.5 1292 1226.3 1292.5 1227.1 1293 1227.8 1293.5 1228.4 1294.1 1229 1294.6 1229.6 1295.1 1230.1 1295.6 1230.5 1296.1 1230.9 1296.6 1231.2 1297.1 1231.4 1297.6 1231.6 1298.1 1231.7 1298.6 1231.7 1299.1 1231.7 1299.6 1231.6 1300.1 1231.4 1300.6 1231.2 1301.1 1230.9 1301.7 1230.5 1302.2 1230.1 1302.7 1229.6 1303.2 1229 1303.7 1228.4 1304.2 1227.8 1304.7 1227.1 1305.2 1226.3 1305.7 1225.5 1306.2 1224.7 1306.7 1223.8 1307.2 1222.9 1307.7 1221.9 1308.2 1220.9 1308.7 1219.9 1309.3 1218.9 1309.8 1217.9 1310.3 1216.9 1310.8 1215.8 1311.3 1214.8 1311.8 1213.7 1312.3 1212.7 1312.8 1211.6 1313.3 1210.6 1313.8 1209.6 1314.3 1208.7 1314.8 1207.7 1315.3 1206.8 1315.8 1205.9 1316.3 1205.1 1316.9 1204.3 1317.4 1203.5 1317.9 1202.8 1318.4 1202.2 1318.9 1201.6 1319.4 1201.1 1319.9 1200.6 1320.4 1200.2 1320.9 1199.8 1321.4 1199.5 1321.9 1199.3 1322.4 1199.1 1322.9 1199 1323.4 1199 1323.9 1199.1 1324.5 1199.2 1325 1199.4 1325.5 1199.6 1326 1199.9 1326.5 1200.3 1327 1200.7 1327.5 1201.2 1328 1201.8 1328.5 1202.4 1329 1203 1329.5 1203.7 1330 1204.5 1330.5 1205.3 1331 1206.2 1331.5 1207 1332.1 1208 1332.6 1208.9 1333.1 1209.9 1333.6 1210.9 1334.1 1211.9 1334.6 1212.9 1335.1 1214 1335.6 1215 1336.1 1216.1 1336.6 1217.1 1337.1 1218.2 1337.6 1219.2 1338.1 1220.2 1338.6 1221.2 1339.2 1222.2 1339.7 1223.1 1340.2 1224 1340.7 1224.9 1341.2 1225.7 1341.7 1226.5 1342.2 1227.3 1342.7 1228 1343.2 1228.6 1343.7 1229.2 1344.2 1229.7 1344.7 1230.2 1345.2 1230.6 1345.7 1230.9 1346.2 1231.2 1346.8 1231.4 1347.3 1231.6 1347.8 1231.7 1348.3 1231.7 1348.8 1231.6 1349.3 1231.5 1349.8 1231.3 1350.3 1231.1 1350.8 1230.8 1351.3 1230.4 1351.8 1229.9 1352.3 1229.4 1352.8 1228.9 1353.3 1228.3 1353.8 1227.6 1354.4 1226.9 1354.9 1226.1 1355.4 1225.3 1355.9 1224.4 1356.4 1223.5 1356.9 1222.6 1357.4 1221.7 1357.9 1220.7 1358.4 1219.7 1358.9 1218.7 1359.4 1217.6 1359.9 1216.6 1360.4 1215.5 1360.9 1214.5 1361.4 1213.4 1362 1212.4 1362.5 1211.4 1363 1210.4 1363.5 1209.4 1364 1208.4 1364.5 1207.5 1365 1206.6 1365.5 1205.7 1366 1204.9 1366.5 1204.1 1367 1203.4 1367.5 1202.7 1368 1202 1368.5 1201.5 1369 1200.9 1369.6 1200.5 1370.1 1200.1 1370.6 1199.7 1371.1 1199.5 1371.6 1199.2 1372.1 1199.1 1372.6 1199 1373.1 1199 1373.6 1199.1 1374.1 1199.2 1374.6 1199.4 1375.1 1199.7 1375.6 1200 1376.1 1200.4 1376.7 1200.8 1377.2 1201.3 1377.7 1201.9 1378.2 1202.5 1378.7 1203.2 1379.2 1203.9 1379.7 1204.7 1380.2 1205.5 1380.7 1206.4 1381.2 1207.3 1381.7 1208.2 1382.2 1209.2 1382.7 1210.2 1383.2 1211.2 1383.7 1212.2 1384.3 1213.2 1384.8 1214.3 1385.3 1215.3 1385.8 1216.4 1386.3 1217.4 1386.8 1218.4 1387.3 1219.5 1387.8 1220.5 1388.3 1221.5 1388.8 1222.4 1389.3 1223.4 1389.8 1224.3 1390.3 1225.1 1390.8 1225.9 1391.3 1226.7 1391.9 1227.4 1392.4 1228.1 1392.9 1228.8 1393.4 1229.3 1393.9 1229.8 1394.4 1230.3 1394.9 1230.7 1395.4 1231 1395.9 1231.3 1396.4 1231.5 1396.9 1231.6 1397.4 1231.7 1397.9 1231.7 1398.4 1231.6 1398.9 1231.5 1399.5 1231.3 1400 1231 1400.5 1230.7 1401 1230.3 1401.5 1229.8 1402 1229.3 1402.5 1228.7 1403 1228.1 1403.5 1227.4 1404 1226.7 1404.5 1225.9 1405 1225.1 1405.5 1224.2 1406 1223.3 1406.5 1222.4 1407.1 1221.4 1407.6 1220.4 1408.1 1219.4 1408.6 1218.4 1409.1 1217.4 1409.6 1216.3 1410.1 1215.3 1410.6 1214.2 1411.1 1213.2 1411.6 1212.1 1412.1 1211.1 1412.6 1210.1 1413.1 1209.1 1413.6 1208.2 1414.1 1207.2 1414.7 1206.3 1415.2 1205.5 1415.7 1204.7 1416.2 1203.9 1416.7 1203.2 1417.2 1202.5 1417.7 1201.9 1418.2 1201.3 1418.7 1200.8 1419.2 1200.4 1419.7 1200 1420.2 1199.7 1420.7 1199.4 1421.2 1199.2 1421.8 1199.1 1422.3 1199 1422.8 1199 1423.3 1199.1 1423.8 1199.3 1424.3 1199.5 1424.8 1199.7 1425.3 1200.1 1425.8 1200.5 1426.3 1201 1426.8 1201.5 1427.3 1202.1 1427.8 1202.7 1428.3 1203.4 1428.8 1204.1 1429.4 1204.9 1429.9 1205.7 1430.4 1206.6 1430.9 1207.5 1431.4 1208.5 1431.9 1209.4 1432.4 1210.4 1432.9 1211.4 1433.4 1212.5 1433.9 1213.5 1434.4 1214.5 1434.9 1215.6 1435.4 1216.6 1435.9 1217.7 1436.4 1218.7 1437 1219.7 1437.5 1220.7 1438 1221.7 1438.5 1222.7 1439 1223.6 1439.5 1224.5 1440 1225.3 1440.5 1226.1 1441 1226.9 1441.5 1227.6 1442 1228.3 1442.5 1228.9 1443 1229.5 1443.5 1230 1444 1230.4 1444.6 1230.8 1445.1 1231.1 1445.6 1231.3 1446.1 1231.5 1446.6 1231.6 1447.1 1231.7 1447.6 1231.7 1448.1 1231.6 1448.6 1231.4 1449.1 1231.2 1449.6 1230.9 1450.1 1230.6 1450.6 1230.2 1451.1 1229.7 1451.6 1229.2 1452.2 1228.6 1452.7 1227.9 1453.2 1227.2 1453.7 1226.5 1454.2 1225.7 1454.7 1224.9 1455.2 1224 1455.7 1223.1 1456.2 1222.1 1456.7 1221.2 1457.2 1220.2 1457.7 1219.2 1458.2 1218.1 1458.7 1217.1 1459.3 1216 1459.8 1215 1460.3 1213.9 1460.8 1212.9 1461.3 1211.9 1461.8 1210.8 1462.3 1209.8 1462.8 1208.9 1463.3 1207.9 1463.8 1207 1464.3 1206.1 1464.8 1205.3 1465.3 1204.5 1465.8 1203.7 1466.3 1203 1466.9 1202.3 1467.4 1201.7 1467.9 1201.2 1468.4 1200.7 1468.9 1200.3 1469.4 1199.9 1469.9 1199.6 1470.4 1199.3 1470.9 1199.2 1471.4 1199.1 1471.9 1199 1472.4 1199 1472.9 1199.1 1473.4 1199.3 1473.9 1199.5 1474.5 1199.8 1475 1200.2 1475.5 1200.6 1476 1201.1 1476.5 1201.6 1477 1202.2 1477.5 1202.9 1478 1203.6 1478.5 1204.3 1479 1205.1 1479.5 1206 1480 1206.9 1480.5 1207.8 1481 1208.7 1481.5 1209.7 1482.1 1210.7 1482.6 1211.7 1483.1 1212.7 1483.6 1213.8 1484.1 1214.8 1484.6 1215.9 1485.1 1216.9 1485.6 1218 1486.1 1219 1486.6 1220 1487.1 1221 1487.6 1222 1488.1 1222.9 1488.6 1223.8 1489.1 1224.7 1489.7 1225.5 1490.2 1226.3 1490.7 1227.1 1491.2 1227.8 1491.7 1228.5 1492.2 1229.1 1492.7 1229.6 1493.2 1230.1 1493.7 1230.5 1494.2 1230.9 1494.7 1231.2 1495.2 1231.4 1495.7 1231.6 1496.2 1231.7 1496.8 1231.7 1497.3 1231.7 1497.8 1231.5 1498.3 1231.4 1498.8 1231.1 1499.3 1230.8 1499.8 1230.5 1500.3 1230 1500.8 1229.6 1501.3 1229 1501.8 1228.4 1502.3 1227.7 1502.8 1227 1503.3 1226.3 1503.8 1225.5 1504.4 1224.6 1504.9 1223.7 1505.4 1222.8 1505.9 1221.9 1506.4 1220.9 1506.9 1219.9 1507.4 1218.9 1507.9 1217.9 1508.4 1216.8 1508.9 1215.8 1509.4 1214.7 1509.9 1213.7 1510.4 1212.6 1510.9 1211.6 1511.4 1210.6 1512 1209.6 1512.5 1208.6 1513 1207.7 1513.5 1206.8 1514 1205.9 1514.5 1205.1 1515 1204.3 1515.5 1203.5 1516 1202.8 1516.5 1202.2 1517 1201.6 1517.5 1201 1518 1200.6 1518.5 1200.2 1519 1199.8 1519.6 1199.5 1520.1 1199.3 1520.6 1199.1 1521.1 1199 1521.6 1199 1522.1 1199.1 1522.6 1199.2 1523.1 1199.4 1523.6 1199.6 1524.1 1199.9 1524.6 1200.3 1525.1 1200.7 1525.6 1201.2 1526.1 1201.8 1526.6 1202.4 1527.2 1203.1 1527.7 1203.8 1528.2 1204.5 1528.7 1205.3 1529.2 1206.2 1529.7 1207.1 1530.2 1208 1530.7 1209 1531.2 1209.9 1531.7 1210.9 1532.2 1212 1532.7 1213 1533.2 1214 1533.7 1215.1 1534.2 1216.1 1534.8 1217.2 1535.3 1218.2 1535.8 1219.2 1536.3 1220.3 1536.8 1221.3 1537.3 1222.2 1537.8 1223.2 1538.3 1224.1 1538.8 1224.9 1539.3 1225.8 1539.8 1226.5 1540.3 1227.3 1540.8 1228 1541.3 1228.6 1541.9 1229.2 1542.4 1229.7 1542.9 1230.2 1543.4 1230.6 1543.9 1231 1544.4 1231.2 1544.9 1231.4 1545.4 1231.6 1545.9 1231.7 1546.4 1231.7 1546.9 1231.6 1547.4 1231.5 1547.9 1231.3 1548.4 1231.1 1548.9 1230.7 1549.5 1230.4 1550 1229.9 1550.5 1229.4 1551 1228.9 1551.5 1228.2 1552 1227.6 1552.5 1226.8 1553 1226.1 1553.5 1225.3 1554 1224.4 1554.5 1223.5 1555 1222.6 1555.5 1221.6 1556 1220.6 1556.5 1219.6 1557.1 1218.6 1557.6 1217.6 1558.1 1216.5 1558.6 1215.5 1559.1 1214.4 1559.6 1213.4 1560.1 1212.4 1560.6 1211.3 1561.1 1210.3 1561.6 1209.3 1562.1 1208.4 1562.6 1207.4 1563.1 1206.5 1563.6 1205.7 1564.1 1204.8 1564.7 1204.1 1565.2 1203.3 1565.7 1202.6 1566.2 1202 1566.7 1201.4 1567.2 1200.9 1567.7 1200.5 1568.2 1200.1 1568.7 1199.7 1569.2 1199.4 1569.7 1199.2 1570.2 1199.1 1570.7 1199 1571.2 1199 1571.7 1199.1 1572.3 1199.2 1572.8 1199.4 1573.3 1199.7 1573.8 1200 1574.3 1200.4 1574.8 1200.9 1575.3 1201.4 1575.8 1201.9 1576.3 1202.6 1576.8 1203.2 1577.3 1204 1577.8 1204.7 1578.3 1205.6 1578.8 1206.4 1579.4 1207.3 1579.9 1208.3 1580.4 1209.2 1580.9 1210.2 1581.4 1211.2 1581.9 1212.2 1582.4 1213.3 1582.9 1214.3 1583.4 1215.4 1583.9 1216.4 1584.4 1217.5 1584.9 1218.5 1585.4 1219.5 1585.9 1220.5 1586.4 1221.5 1587 1222.5 1587.5 1223.4 1588 1224.3 1588.5 1225.2 1589 1226 1589.5 1226.7 1590 1227.5 1590.5 1228.2 1591 1228.8 1591.5 1229.4 1592 1229.9 1592.5 1230.3 1593 1230.7 1593.5 1231 1594 1231.3 1594.6 1231.5 1595.1 1231.6 1595.6 1231.7 1596.1 1231.7 1596.6 1231.6 1597.1 1231.5 1597.6 1231.3 1598.1 1231 1598.6 1230.7 1599.1 1230.3 1599.6 1229.8 1600.1 1229.3 1600.6 1228.7 1601.1 1228.1 1601.6 1227.4 1602.2 1226.6 1602.7 1225.9 1603.2 1225 1603.7 1224.2 1604.2 1223.3 1604.7 1222.3 1605.2 1221.4 1605.7 1220.4 1606.2 1219.4 1606.7 1218.3 1607.2 1217.3 1607.7 1216.3 1608.2 1215.2 1608.7 1214.2 1609.2 1213.1 1609.8 1212.1 1610.3 1211.1 1610.8 1210.1 1611.3 1209.1 1611.8 1208.1 1612.3 1207.2 1612.8 1206.3 1613.3 1205.4 1613.8 1204.6 1614.3 1203.9 1614.8 1203.1 1615.3 1202.5 1615.8 1201.9 1616.3 1201.3 1616.8 1200.8 1617.4 1200.3 1617.9 1200 1618.4 1199.6 1618.9 1199.4 1619.4 1199.2 1619.9 1199.1 1620.4 1199 1620.9 1199 1621.4 1199.1 1621.9 1199.3 1622.4 1199.5 1622.9 1199.8 1623.4 1200.1 1623.9 1200.5 1624.5 1201 1625 1201.5 1625.5 1202.1 1626 1202.7 1626.5 1203.4 1627 1204.2 1627.5 1205 1628 1205.8 1628.5 1206.7 1629 1207.6 1629.5 1208.5 1630 1209.5 1630.5 1210.5 1631 1211.5 1631.5 1212.5 1632.1 1213.5 1632.6 1214.6 1633.1 1215.6 1633.6 1216.7 1634.1 1217.7 1634.6 1218.8 1635.1 1219.8 1635.6 1220.8 1636.1 1221.8 1636.6 1222.7 1637.1 1223.6 1637.6 1224.5 1638.1 1225.4 1638.6 1226.2 1639.1 1226.9 1639.7 1227.7 1640.2 1228.3 1640.7 1228.9 1641.2 1229.5 1641.7 1230 1642.2 1230.4 1642.7 1230.8 1643.2 1231.1 1643.7 1231.4 1644.2 1231.5 1644.7 1231.6 1645.2 1231.7 1645.7 1231.7 1646.2 1231.6 1646.7 1231.4 1647.3 1231.2 1647.8 1230.9 1648.3 1230.6 1648.8 1230.1 1649.3 1229.7 1649.8 1229.1 1650.3 1228.5 1650.8 1227.9 1651.3 1227.2 1651.8 1226.4 1652.3 1225.6 1652.8 1224.8 1653.3 1223.9 1653.8 1223 1654.3 1222.1 1654.9 1221.1 1655.4 1220.1 1655.9 1219.1 1656.4 1218.1 1656.9 1217 1657.4 1216 1657.9 1214.9 1658.4 1213.9 1658.9 1212.8 1659.4 1211.8 1659.9 1210.8 1660.4 1209.8 1660.9 1208.8 1661.4 1207.9 1662 1207 1662.5 1206.1 1663 1205.2 1663.5 1204.4 1664 1203.7 1664.5 1203 1665 1202.3 1665.5 1201.7 1666 1201.2 1666.5 1200.7 1667 1200.2 1667.5 1199.9 1668 1199.6 1668.5 1199.3 1669 1199.2 1669.6 1199.1 1670.1 1199 1670.6 1199.1 1671.1 1199.2 1671.6 1199.3 1672.1 1199.5 1672.6 1199.8 1673.1 1200.2 1673.6 1200.6 1674.1 1201.1 1674.6 1201.7 1675.1 1202.3 1675.6 1202.9 1676.1 1203.6 1676.6 1204.4 1677.2 1205.2 1677.7 1206 1678.2 1206.9 1678.7 1207.8 1679.2 1208.8 1679.7 1209.7 1680.2 1210.7 1680.7 1211.7 1681.2 1212.8 1681.7 1213.8 1682.2 1214.9 1682.7 1215.9 1683.2 1217 1683.7 1218 1684.2 1219 1684.8 1220 1685.3 1221 1685.8 1222 1686.3 1223 1686.8 1223.9 1687.3 1224.7 1687.8 1225.6 1688.3 1226.4 1688.8 1227.1 1689.3 1227.8 1689.8 1228.5 1690.3 1229.1 1690.8 1229.6 1691.3 1230.1 1691.8 1230.5 1692.4 1230.9 1692.9 1231.2 1693.4 1231.4 1693.9 1231.6 1694.4 1231.7 1694.9 1231.7 1695.4 1231.6 1695.9 1231.5 1696.4 1231.4 1696.9 1231.1 1697.4 1230.8 1697.9 1230.5 1698.4 1230 1698.9 1229.5 1699.5 1229" stroke="#0670BB" stroke-width="3.6"/>
<path d="M989.8 1216 V1245" stroke="#D95319" stroke-width="5.5" stroke-dasharray="17.5 5 10 5"/>
<path d="M990.7 1218.7 990.9 1218.5 991.2 1218.4 991.4 1218.3 991.7 1218.2 991.9 1218.2 992.1 1218.3 992.4 1218.4 992.6 1218.5 992.8 1218.6 993.1 1218.8 993.3 1219 993.5 1219.2 993.8 1219.5 994 1219.8 994.3 1220.1 994.5 1220.4 994.7 1220.7 995 1221 995.2 1221.4 995.4 1221.7 995.7 1222.1 995.9 1222.5 996.1 1222.8 996.4 1223.2 996.6 1223.6 996.9 1223.9 997.1 1224.3 997.3 1224.7 997.6 1225 997.8 1225.4 998 1225.7 998.3 1226.1 998.5 1226.4 998.7 1226.7 999 1227.1 999.2 1227.4 999.5 1227.7 999.7 1228 999.9 1228.3 1000.2 1228.5 1000.4 1228.8 1000.6 1229 1000.9 1229.2 1001.1 1229.5 1001.3 1229.7 1001.6 1229.9 1001.8 1230 1002 1230.2 1002.3 1230.3 1002.5 1230.5 1002.8 1230.6 1003 1230.7 1003.2 1230.8 1003.5 1230.8 1003.7 1230.9 1003.9 1230.9 1004.2 1230.9 1004.4 1230.9 1004.6 1230.9 1004.9 1230.9 1005.1 1230.9 1005.4 1230.8 1005.6 1230.7 1005.8 1230.6 1006.1 1230.5 1006.3 1230.4 1006.5 1230.3 1006.8 1230.1 1007 1230 1007.2 1229.8 1007.5 1229.6 1007.7 1229.4 1008 1229.2 1008.2 1229 1008.4 1228.7 1008.7 1228.4 1008.9 1228.2 1009.1 1227.9 1009.4 1227.6 1009.6 1227.3 1009.8 1227 1010.1 1226.6 1010.3 1226.3 1010.6 1225.9 1010.8 1225.6 1011 1225.2 1011.3 1224.8 1011.5 1224.4 1011.7 1224 1012 1223.6 1012.2 1223.2 1012.4 1222.8 1012.7 1222.3 1012.9 1221.9 1013.2 1221.4 1013.4 1221 1013.6 1220.5 1013.9 1220.1 1014.1 1219.6 1014.3 1219.1 1014.6 1218.7 1014.8 1218.2 1015 1217.7 1015.3 1217.2 1015.5 1216.7 1015.8 1216.2 1016 1215.8 1016.2 1215.3 1016.5 1214.8 1016.7 1214.3 1016.9 1213.8 1017.2 1213.3 1017.4 1212.8 1017.6 1212.4 1017.9 1211.9 1018.1 1211.4 1018.4 1210.9 1018.6 1210.5 1018.8 1210 1019.1 1209.5 1019.3 1209.1 1019.5 1208.6 1019.8 1208.2 1020 1207.8 1020.2 1207.3 1020.5 1206.9 1020.7 1206.5 1020.9 1206.1 1021.2 1205.7 1021.4 1205.3 1021.7 1204.9 1021.9 1204.5 1022.1 1204.2 1022.4 1203.8 1022.6 1203.5 1022.8 1203.2 1023.1 1202.8 1023.3 1202.5 1023.5 1202.2 1023.8 1201.9 1024 1201.7 1024.3 1201.4 1024.5 1201.2 1024.7 1200.9 1025 1200.7 1025.2 1200.5 1025.4 1200.3 1025.7 1200.1 1025.9 1199.9 1026.1 1199.8 1026.4 1199.7 1026.6 1199.5 1026.9 1199.4 1027.1 1199.3 1027.3 1199.2 1027.6 1199.2 1027.8 1199.1 1028 1199.1 1028.3 1199 1028.5 1199 1028.7 1199 1029 1199 1029.2 1199.1 1029.5 1199.1 1029.7 1199.2 1029.9 1199.3 1030.2 1199.4 1030.4 1199.5 1030.6 1199.6 1030.9 1199.7 1031.1 1199.9 1031.3 1200 1031.6 1200.2 1031.8 1200.4 1032.1 1200.6 1032.3 1200.8 1032.5 1201 1032.8 1201.3 1033 1201.5 1033.2 1201.8 1033.5 1202.1 1033.7 1202.4 1033.9 1202.7 1034.2 1203 1034.4 1203.3 1034.7 1203.7 1034.9 1204 1035.1 1204.4 1035.4 1204.7 1035.6 1205.1 1035.8 1205.5 1036.1 1205.9 1036.3 1206.3 1036.5 1206.7 1036.8 1207.1 1037 1207.5 1037.3 1208 1037.5 1208.4 1037.7 1208.9 1038 1209.3 1038.2 1209.8 1038.4 1210.2 1038.7 1210.7 1038.9 1211.2 1039.1 1211.6 1039.4 1212.1 1039.6 1212.6 1039.8 1213.1 1040.1 1213.6 1040.3 1214.1 1040.6 1214.5 1040.8 1215 1041 1215.5 1041.3 1216 1041.5 1216.5 1041.7 1217 1042 1217.5 1042.2 1218 1042.4 1218.4 1042.7 1218.9 1042.9 1219.4 1043.2 1219.9 1043.4 1220.3 1043.6 1220.8 1043.9 1221.3 1044.1 1221.7 1044.3 1222.2 1044.6 1222.6 1044.8 1223 1045 1223.5 1045.3 1223.9 1045.5 1224.3 1045.8 1224.7 1046 1225.1 1046.2 1225.5 1046.5 1225.9 1046.7 1226.2 1046.9 1226.6 1047.2 1227 1047.4 1227.3 1047.6 1227.6 1047.9 1227.9 1048.1 1228.2 1048.4 1228.5 1048.6 1228.8 1048.8 1229.1 1049.1 1229.4 1049.3 1229.6 1049.5 1229.8 1049.8 1230.1 1050 1230.3 1050.2 1230.5 1050.5 1230.6 1050.7 1230.8 1051 1231 1051.2 1231.1 1051.4 1231.2 1051.7 1231.3 1051.9 1231.4 1052.1 1231.5 1052.4 1231.6 1052.6 1231.6 1052.8 1231.7 1053.1 1231.7 1053.3 1231.7 1053.6 1231.7 1053.8 1231.7 1054 1231.6 1054.3 1231.6 1054.5 1231.5 1054.7 1231.4 1055 1231.3 1055.2 1231.2 1055.4 1231.1 1055.7 1231 1055.9 1230.8 1056.1 1230.7 1056.4 1230.5 1056.6 1230.3 1056.9 1230.1 1057.1 1229.9 1057.3 1229.6 1057.6 1229.4 1057.8 1229.1 1058 1228.9 1058.3 1228.6 1058.5 1228.3 1058.7 1228 1059 1227.7 1059.2 1227.3 1059.5 1227 1059.7 1226.7 1059.9 1226.3 1060.2 1225.9 1060.4 1225.5 1060.6 1225.2 1060.9 1224.8 1061.1 1224.4 1061.3 1223.9 1061.6 1223.5 1061.8 1223.1 1062.1 1222.7 1062.3 1222.2 1062.5 1221.8 1062.8 1221.3 1063 1220.9 1063.2 1220.4 1063.5 1219.9 1063.7 1219.5 1063.9 1219 1064.2 1218.5 1064.4 1218 1064.7 1217.5 1064.9 1217.1 1065.1 1216.6 1065.4 1216.1 1065.6 1215.6 1065.8 1215.1 1066.1 1214.6 1066.3 1214.1 1066.5 1213.6 1066.8 1213.1 1067 1212.7 1067.3 1212.2 1067.5 1211.7 1067.7 1211.2 1068 1210.8 1068.2 1210.3 1068.4 1209.8 1068.7 1209.4 1068.9 1208.9 1069.1 1208.5 1069.4 1208 1069.6 1207.6 1069.9 1207.2 1070.1 1206.7 1070.3 1206.3 1070.6 1205.9 1070.8 1205.5 1071 1205.1 1071.3 1204.8 1071.5 1204.4 1071.7 1204 1072 1203.7 1072.2 1203.4 1072.5 1203 1072.7 1202.7 1072.9 1202.4 1073.2 1202.1 1073.4 1201.8 1073.6 1201.6 1073.9 1201.3 1074.1 1201.1 1074.3 1200.8 1074.6 1200.6 1074.8 1200.4 1075 1200.2 1075.3 1200 1075.5 1199.9 1075.8 1199.7 1076 1199.6 1076.2 1199.5 1076.5 1199.4 1076.7 1199.3 1076.9 1199.2 1077.2 1199.1 1077.4 1199.1 1077.6 1199 1077.9 1199 1078.1 1199 1078.4 1199 1078.6 1199.1 1078.8 1199.1 1079.1 1199.1 1079.3 1199.2 1079.5 1199.3 1079.8 1199.4 1080 1199.5 1080.2 1199.6 1080.5 1199.8 1080.7 1199.9 1081 1200.1 1081.2 1200.3 1081.4 1200.5 1081.7 1200.7 1081.9 1200.9 1082.1 1201.1 1082.4 1201.4 1082.6 1201.6 1082.8 1201.9 1083.1 1202.2 1083.3 1202.5 1083.6 1202.8 1083.8 1203.1 1084 1203.4 1084.3 1203.8 1084.5 1204.1 1084.7 1204.5 1085 1204.9 1085.2 1205.2 1085.4 1205.6 1085.7 1206 1085.9 1206.4 1086.2 1206.8 1086.4 1207.3 1086.6 1207.7 1086.9 1208.1 1087.1 1208.6 1087.3 1209 1087.6 1209.5 1087.8 1209.9 1088 1210.4 1088.3 1210.9 1088.5 1211.3 1088.8 1211.8 1089 1212.3 1089.2 1212.8 1089.5 1213.3 1089.7 1213.7 1089.9 1214.2 1090.2 1214.7 1090.4 1215.2 1090.6 1215.7 1090.9 1216.2 1091.1 1216.7 1091.4 1217.2 1091.6 1217.6 1091.8 1218.1 1092.1 1218.6 1092.3 1219.1 1092.5 1219.6 1092.8 1220 1093 1220.5 1093.2 1221 1093.5 1221.4 1093.7 1221.9 1093.9 1222.3 1094.2 1222.8 1094.4 1223.2 1094.7 1223.6 1094.9 1224 1095.1 1224.4 1095.4 1224.9 1095.6 1225.2 1095.8 1225.6 1096.1 1226 1096.3 1226.4 1096.5 1226.7 1096.8 1227.1 1097 1227.4 1097.3 1227.7 1097.5 1228 1097.7 1228.4 1098 1228.6 1098.2 1228.9 1098.4 1229.2 1098.7 1229.4 1098.9 1229.7 1099.1 1229.9 1099.4 1230.1 1099.6 1230.3 1099.9 1230.5 1100.1 1230.7 1100.3 1230.9 1100.6 1231 1100.8 1231.1 1101 1231.3 1101.3 1231.4 1101.5 1231.5 1101.7 1231.5 1102 1231.6 1102.2 1231.6 1102.5 1231.7 1102.7 1231.7 1102.9 1231.7 1103.2 1231.7 1103.4 1231.7 1103.6 1231.6 1103.9 1231.6 1104.1 1231.5 1104.3 1231.4 1104.6 1231.3 1104.8 1231.2 1105.1 1231.1 1105.3 1230.9 1105.5 1230.8 1105.8 1230.6 1106 1230.4 1106.2 1230.2 1106.5 1230 1106.7 1229.8 1106.9 1229.5 1107.2 1229.3 1107.4 1229 1107.7 1228.8 1107.9 1228.5 1108.1 1228.2 1108.4 1227.9 1108.6 1227.6 1108.8 1227.2 1109.1 1226.9 1109.3 1226.5 1109.5 1226.2 1109.8 1225.8 1110 1225.4 1110.3 1225 1110.5 1224.6 1110.7 1224.2 1111 1223.8 1111.2 1223.4 1111.4 1222.9 1111.7 1222.5 1111.9 1222.1 1112.1 1221.6 1112.4 1221.2 1112.6 1220.7 1112.8 1220.2 1113.1 1219.8 1113.3 1219.3 1113.6 1218.8 1113.8 1218.3 1114 1217.9 1114.3 1217.4 1114.5 1216.9 1114.7 1216.4 1115 1215.9 1115.2 1215.4 1115.4 1214.9 1115.7 1214.4 1115.9 1214 1116.2 1213.5 1116.4 1213 1116.6 1212.5 1116.9 1212 1117.1 1211.5 1117.3 1211.1 1117.6 1210.6 1117.8 1210.1 1118 1209.7 1118.3 1209.2 1118.5 1208.8 1118.8 1208.3 1119 1207.9 1119.2 1207.4 1119.5 1207 1119.7 1206.6 1119.9 1206.2 1120.2 1205.8 1120.4 1205.4 1120.6 1205 1120.9 1204.6 1121.1 1204.3 1121.4 1203.9 1121.6 1203.6 1121.8 1203.2 1122.1 1202.9 1122.3 1202.6 1122.5 1202.3 1122.8 1202 1123 1201.7 1123.2 1201.5 1123.5 1201.2 1123.7 1201 1124 1200.8 1124.2 1200.5 1124.4 1200.3 1124.7 1200.2 1124.9 1200 1125.1 1199.8 1125.4 1199.7 1125.6 1199.6 1125.8 1199.4 1126.1 1199.3 1126.3 1199.2 1126.6 1199.2 1126.8 1199.1 1127 1199.1 1127.3 1199 1127.5 1199 1127.7 1199 1128 1199 1128.2 1199.1 1128.4 1199.1 1128.7 1199.2 1128.9 1199.2 1129.2 1199.3 1129.4 1199.4 1129.6 1199.5 1129.9 1199.7 1130.1 1199.8 1130.3 1200 1130.6 1200.1 1130.8 1200.3 1131 1200.5 1131.3 1200.7 1131.5 1201 1131.7 1201.2 1132 1201.5 1132.2 1201.7 1132.5 1202 1132.7 1202.3 1132.9 1202.6 1133.2 1202.9 1133.4 1203.2 1133.6 1203.6 1133.9 1203.9 1134.1 1204.2 1134.3 1204.6 1134.6 1205 1134.8 1205.4 1135.1 1205.8 1135.3 1206.2 1135.5 1206.6 1135.8 1207 1136 1207.4 1136.2 1207.8 1136.5 1208.3 1136.7 1208.7 1136.9 1209.2 1137.2 1209.6 1137.4 1210.1 1137.7 1210.6 1137.9 1211 1138.1 1211.5 1138.4 1212 1138.6 1212.5 1138.8 1212.9 1139.1 1213.4 1139.3 1213.9 1139.5 1214.4 1139.8 1214.9 1140 1215.4 1140.3 1215.9 1140.5 1216.4 1140.7 1216.8 1141 1217.3 1141.2 1217.8 1141.4 1218.3 1141.7 1218.8 1141.9 1219.3 1142.1 1219.7 1142.4 1220.2 1142.6 1220.7 1142.9 1221.1 1143.1 1221.6 1143.3 1222 1143.6 1222.5 1143.8 1222.9 1144 1223.3 1144.3 1223.8 1144.5 1224.2 1144.7 1224.6 1145 1225 1145.2 1225.4 1145.5 1225.8 1145.7 1226.1 1145.9 1226.5 1146.2 1226.9 1146.4 1227.2 1146.6 1227.5 1146.9 1227.8 1147.1 1228.2 1147.3 1228.5 1147.6 1228.7 1147.8 1229 1148 1229.3 1148.3 1229.5 1148.5 1229.8 1148.8 1230 1149 1230.2 1149.2 1230.4 1149.5 1230.6 1149.7 1230.8 1149.9 1230.9 1150.2 1231.1 1150.4 1231.2 1150.6 1231.3 1150.9 1231.4 1151.1 1231.5 1151.4 1231.6 1151.6 1231.6 1151.8 1231.6 1152.1 1231.7 1152.3 1231.7 1152.5 1231.7 1152.8 1231.7 1153 1231.6 1153.2 1231.6 1153.5 1231.5 1153.7 1231.5 1154 1231.4 1154.2 1231.3 1154.4 1231.1 1154.7 1231 1154.9 1230.9 1155.1 1230.7 1155.4 1230.5 1155.6 1230.3 1155.8 1230.1 1156.1 1229.9 1156.3 1229.7 1156.6 1229.5 1156.8 1229.2 1157 1228.9 1157.3 1228.7 1157.5 1228.4 1157.7 1228.1 1158 1227.8 1158.2 1227.4 1158.4 1227.1 1158.7 1226.8 1158.9 1226.4 1159.2 1226 1159.4 1225.7 1159.6 1225.3 1159.9 1224.9 1160.1 1224.5 1160.3 1224.1 1160.6 1223.7 1160.8 1223.2 1161 1222.8 1161.3 1222.4 1161.5 1221.9 1161.8 1221.5 1162 1221 1162.2 1220.5 1162.5 1220.1 1162.7 1219.6 1162.9 1219.1 1163.2 1218.6 1163.4 1218.2 1163.6 1217.7 1163.9 1217.2 1164.1 1216.7 1164.4 1216.2 1164.6 1215.7 1164.8 1215.2 1165.1 1214.8 1165.3 1214.3 1165.5 1213.8 1165.8 1213.3 1166 1212.8 1166.2 1212.3 1166.5 1211.8 1166.7 1211.4 1166.9 1210.9 1167.2 1210.4 1167.4 1210 1167.7 1209.5 1167.9 1209 1168.1 1208.6 1168.4 1208.2 1168.6 1207.7 1168.8 1207.3 1169.1 1206.9 1169.3 1206.5 1169.5 1206 1169.8 1205.7 1170 1205.3 1170.3 1204.9 1170.5 1204.5 1170.7 1204.1 1171 1203.8 1171.2 1203.5 1171.4 1203.1 1171.7 1202.8 1171.9 1202.5 1172.1 1202.2 1172.4 1201.9 1172.6 1201.6 1172.9 1201.4 1173.1 1201.1 1173.3 1200.9 1173.6 1200.7 1173.8 1200.5 1174 1200.3 1174.3 1200.1 1174.5 1199.9 1174.7 1199.8 1175 1199.6 1175.2 1199.5 1175.5 1199.4 1175.7 1199.3 1175.9 1199.2 1176.2 1199.1 1176.4 1199.1 1176.6 1199.1 1176.9 1199 1177.1 1199 1177.3 1199 1177.6 1199 1177.8 1199.1 1178.1 1199.1 1178.3 1199.2 1178.5 1199.3 1178.8 1199.4 1179 1199.5 1179.2 1199.6 1179.5 1199.7 1179.7 1199.9 1179.9 1200 1180.2 1200.2 1180.4 1200.4 1180.7 1200.6 1180.9 1200.8 1181.1 1201.1 1181.4 1201.3 1181.6 1201.5 1181.8 1201.8 1182.1 1202.1 1182.3 1202.4 1182.5 1202.7 1182.8 1203 1183 1203.3 1183.3 1203.7 1183.5 1204 1183.7 1204.4 1184 1204.7 1184.2 1205.1 1184.4 1205.5 1184.7 1205.9 1184.9 1206.3 1185.1 1206.7 1185.4 1207.1 1185.6 1207.6 1185.8 1208 1186.1 1208.4 1186.3 1208.9 1186.6 1209.3 1186.8 1209.8 1187 1210.3 1187.3 1210.7 1187.5 1211.2 1187.7 1211.7 1188 1212.1 1188.2 1212.6 1188.4 1213.1 1188.7 1213.6 1188.9 1214.1 1189.2 1214.6 1189.4 1215.1 1189.6 1215.6 1189.9 1216 1190.1 1216.5 1190.3 1217 1190.6 1217.5 1190.8 1218 1191 1218.5 1191.3 1218.9 1191.5 1219.4 1191.8 1219.9 1192 1220.4 1192.2 1220.8 1192.5 1221.3 1192.7 1221.7 1192.9 1222.2 1193.2 1222.6 1193.4 1223.1 1193.6 1223.5 1193.9 1223.9 1194.1 1224.3 1194.4 1224.7 1194.6 1225.1 1194.8 1225.5 1195.1 1225.9 1195.3 1226.3 1195.5 1226.6 1195.8 1227 1196 1227.3 1196.2 1227.6 1196.5 1228 1196.7 1228.3 1197 1228.6 1197.2 1228.8 1197.4 1229.1 1197.7 1229.4 1197.9 1229.6 1198.1 1229.8 1198.4 1230.1 1198.6 1230.3 1198.8 1230.5 1199.1 1230.6 1199.3 1230.8 1199.6 1231 1199.8 1231.1 1200 1231.2 1200.3 1231.3 1200.5 1231.4 1200.7 1231.5 1201 1231.6 1201.2 1231.6 1201.4 1231.7 1201.7 1231.7 1201.9 1231.7 1202.2 1231.7 1202.4 1231.7 1202.6 1231.6 1202.9 1231.6 1203.1 1231.5 1203.3 1231.4 1203.6 1231.3 1203.8 1231.2 1204 1231.1 1204.3 1231 1204.5 1230.8 1204.7 1230.6 1205 1230.5 1205.2 1230.3 1205.5 1230.1 1205.7 1229.9 1205.9 1229.6 1206.2 1229.4 1206.4 1229.1 1206.6 1228.8 1206.9 1228.6 1207.1 1228.3 1207.3 1228 1207.6 1227.6 1207.8 1227.3 1208.1 1227 1208.3 1226.6 1208.5 1226.3 1208.8 1225.9 1209 1225.5 1209.2 1225.1 1209.5 1224.7 1209.7 1224.3 1209.9 1223.9 1210.2 1223.5 1210.4 1223.1 1210.7 1222.6 1210.9 1222.2 1211.1 1221.8 1211.4 1221.3 1211.6 1220.8 1211.8 1220.4 1212.1 1219.9 1212.3 1219.4 1212.5 1219 1212.8 1218.5 1213 1218 1213.3 1217.5 1213.5 1217 1213.7 1216.5 1214 1216.1 1214.2 1215.6 1214.4 1215.1 1214.7 1214.6 1214.9 1214.1 1215.1 1213.6 1215.4 1213.1 1215.6 1212.6 1215.9 1212.2 1216.1 1211.7 1216.3 1211.2 1216.6 1210.7 1216.8 1210.3 1217 1209.8 1217.3 1209.3 1217.5 1208.9 1217.7 1208.4 1218 1208 1218.2 1207.6 1218.5 1207.1 1218.7 1206.7 1218.9 1206.3 1219.2 1205.9 1219.4 1205.5 1219.6 1205.1 1219.9 1204.8 1220.1 1204.4 1220.3 1204 1220.6 1203.7 1220.8 1203.3 1221.1 1203 1221.3 1202.7 1221.5 1202.4 1221.8 1202.1 1222 1201.8 1222.2 1201.6 1222.5 1201.3 1222.7 1201.1 1222.9 1200.8 1223.2 1200.6 1223.4 1200.4 1223.6 1200.2 1223.9 1200 1224.1 1199.9 1224.4 1199.7 1224.6 1199.6 1224.8 1199.5 1225.1 1199.4 1225.3 1199.3 1225.5 1199.2 1225.8 1199.1 1226 1199.1 1226.2 1199 1226.5 1199 1226.7 1199 1227 1199 1227.2 1199.1 1227.4 1199.1 1227.7 1199.1 1227.9 1199.2 1228.1 1199.3 1228.4 1199.4 1228.6 1199.5 1228.8 1199.6 1229.1 1199.8 1229.3 1199.9 1229.6 1200.1 1229.8 1200.3 1230 1200.5 1230.3 1200.7 1230.5 1200.9 1230.7 1201.1 1231 1201.4 1231.2 1201.6 1231.4 1201.9 1231.7 1202.2 1231.9 1202.5 1232.2 1202.8 1232.4 1203.1 1232.6 1203.4 1232.9 1203.8 1233.1 1204.1 1233.3 1204.5 1233.6 1204.9 1233.8 1205.3 1234 1205.6 1234.3 1206 1234.5 1206.4 1234.8 1206.9 1235 1207.3 1235.2 1207.7 1235.5 1208.1 1235.7 1208.6 1235.9 1209 1236.2 1209.5 1236.4 1210 1236.6 1210.4 1236.9 1210.9 1237.1 1211.4 1237.4 1211.8 1237.6 1212.3 1237.8 1212.8 1238.1 1213.3 1238.3 1213.8 1238.5 1214.3 1238.8 1214.7 1239 1215.2 1239.2 1215.7 1239.5 1216.2 1239.7 1216.7 1239.9 1217.2 1240.2 1217.7 1240.4 1218.2 1240.7 1218.6 1240.9 1219.1 1241.1 1219.6 1241.4 1220.1 1241.6 1220.5 1241.8 1221 1242.1 1221.4 1242.3 1221.9 1242.5 1222.3 1242.8 1222.8 1243 1223.2 1243.3 1223.6 1243.5 1224.1 1243.7 1224.5 1244 1224.9 1244.2 1225.3 1244.4 1225.7 1244.7 1226 1244.9 1226.4 1245.1 1226.7 1245.4 1227.1 1245.6 1227.4 1245.9 1227.8 1246.1 1228.1 1246.3 1228.4 1246.6 1228.7 1246.8 1228.9 1247 1229.2 1247.3 1229.5 1247.5 1229.7 1247.7 1229.9 1248 1230.1 1248.2 1230.3 1248.5 1230.5 1248.7 1230.7 1248.9 1230.9 1249.2 1231 1249.4 1231.1 1249.6 1231.3 1249.9 1231.4 1250.1 1231.5 1250.3 1231.5 1250.6 1231.6 1250.8 1231.6 1251.1 1231.7 1251.3 1231.7 1251.5 1231.7 1251.8 1231.7 1252 1231.7 1252.2 1231.6 1252.5 1231.6 1252.7 1231.5 1252.9 1231.4 1253.2 1231.3 1253.4 1231.2 1253.7 1231.1 1253.9 1230.9 1254.1 1230.8 1254.4 1230.6 1254.6 1230.4 1254.8 1230.2 1255.1 1230 1255.3 1229.8 1255.5 1229.5 1255.8 1229.3 1256 1229 1256.3 1228.7 1256.5 1228.5 1256.7 1228.2 1257 1227.9 1257.2 1227.5 1257.4 1227.2 1257.7 1226.9 1257.9 1226.5 1258.1 1226.1 1258.4 1225.8 1258.6 1225.4 1258.8 1225 1259.1 1224.6 1259.3 1224.2 1259.6 1223.8 1259.8 1223.4 1260 1222.9 1260.3 1222.5 1260.5 1222 1260.7 1221.6 1261 1221.1 1261.2 1220.7 1261.4 1220.2 1261.7 1219.7 1261.9 1219.3 1262.2 1218.8 1262.4 1218.3 1262.6 1217.8 1262.9 1217.3 1263.1 1216.9 1263.3 1216.4 1263.6 1215.9 1263.8 1215.4 1264 1214.9 1264.3 1214.4 1264.5 1213.9 1264.8 1213.4 1265 1213 1265.2 1212.5 1265.5 1212 1265.7 1211.5 1265.9 1211 1266.2 1210.6 1266.4 1210.1 1266.6 1209.6 1266.9 1209.2 1267.1 1208.7 1267.4 1208.3 1267.6 1207.9 1267.8 1207.4 1268.1 1207 1268.3 1206.6 1268.5 1206.2 1268.8 1205.8 1269 1205.4 1269.2 1205 1269.5 1204.6 1269.7 1204.3 1270 1203.9 1270.2 1203.6 1270.4 1203.2 1270.7 1202.9 1270.9 1202.6 1271.1 1202.3 1271.4 1202 1271.6 1201.7 1271.8 1201.5 1272.1 1201.2 1272.3 1201 1272.6 1200.7 1272.8 1200.5 1273 1200.3 1273.3 1200.2 1273.5 1200 1273.7 1199.8 1274 1199.7 1274.2 1199.5 1274.4 1199.4 1274.7 1199.3 1274.9 1199.2 1275.2 1199.2 1275.4 1199.1 1275.6 1199.1 1275.9 1199 1276.1 1199 1276.3 1199 1276.6 1199 1276.8 1199.1 1277 1199.1 1277.3 1199.2 1277.5 1199.2 1277.7 1199.3 1278 1199.4 1278.2 1199.5 1278.5 1199.7 1278.7 1199.8 1278.9 1200 1279.2 1200.2 1279.4 1200.3 1279.6 1200.5 1279.9 1200.8 1280.1 1201 1280.3 1201.2 1280.6 1201.5 1280.8 1201.7 1281.1 1202 1281.3 1202.3 1281.5 1202.6 1281.8 1202.9 1282 1203.2 1282.2 1203.6 1282.5 1203.9 1282.7 1204.3 1282.9 1204.6 1283.2 1205 1283.4 1205.4 1283.7 1205.8 1283.9 1206.2 1284.1 1206.6 1284.4 1207 1284.6 1207.4 1284.8 1207.9 1285.1 1208.3 1285.3 1208.7 1285.5 1209.2 1285.8 1209.7 1286 1210.1 1286.3 1210.6 1286.5 1211.1 1286.7 1211.5 1287 1212 1287.2 1212.5 1287.4 1213 1287.7 1213.5 1287.9 1213.9 1288.1 1214.4 1288.4 1214.9 1288.6 1215.4 1288.9 1215.9 1289.1 1216.4 1289.3 1216.9 1289.6 1217.4 1289.8 1217.8 1290 1218.3 1290.3 1218.8 1290.5 1219.3 1290.7 1219.8 1291 1220.2 1291.2 1220.7 1291.5 1221.2 1291.7 1221.6 1291.9 1222.1 1292.2 1222.5 1292.4 1222.9 1292.6 1223.4 1292.9 1223.8 1293.1 1224.2 1293.3 1224.6 1293.6 1225 1293.8 1225.4 1294.1 1225.8 1294.3 1226.2 1294.5 1226.5 1294.8 1226.9 1295 1227.2 1295.2 1227.5 1295.5 1227.9 1295.7 1228.2 1295.9 1228.5 1296.2 1228.8 1296.4 1229 1296.6 1229.3 1296.9 1229.5 1297.1 1229.8 1297.4 1230 1297.6 1230.2 1297.8 1230.4 1298.1 1230.6 1298.3 1230.8 1298.5 1230.9 1298.8 1231.1 1299 1231.2 1299.2 1231.3 1299.5 1231.4 1299.7 1231.5 1300 1231.6 1300.2 1231.6 1300.4 1231.7 1300.7 1231.7 1300.9 1231.7 1301.1 1231.7 1301.4 1231.7 1301.6 1231.6 1301.8 1231.6 1302.1 1231.5 1302.3 1231.5 1302.6 1231.4 1302.8 1231.3 1303 1231.1 1303.3 1231 1303.5 1230.9 1303.7 1230.7 1304 1230.5 1304.2 1230.3 1304.4 1230.1 1304.7 1229.9 1304.9 1229.7 1305.2 1229.4 1305.4 1229.2 1305.6 1228.9 1305.9 1228.6 1306.1 1228.4 1306.3 1228.1 1306.6 1227.7 1306.8 1227.4 1307 1227.1 1307.3 1226.7 1307.5 1226.4 1307.8 1226 1308 1225.6 1308.2 1225.3 1308.5 1224.9 1308.7 1224.5 1308.9 1224 1309.2 1223.6 1309.4 1223.2 1309.6 1222.8 1309.9 1222.3 1310.1 1221.9 1310.4 1221.4 1310.6 1221 1310.8 1220.5 1311.1 1220 1311.3 1219.6 1311.5 1219.1 1311.8 1218.6 1312 1218.1 1312.2 1217.7 1312.5 1217.2 1312.7 1216.7 1313 1216.2 1313.2 1215.7 1313.4 1215.2 1313.7 1214.7 1313.9 1214.2 1314.1 1213.8 1314.4 1213.3 1314.6 1212.8 1314.8 1212.3 1315.1 1211.8 1315.3 1211.3 1315.5 1210.9 1315.8 1210.4 1316 1209.9 1316.3 1209.5 1316.5 1209 1316.7 1208.6 1317 1208.1 1317.2 1207.7 1317.4 1207.3 1317.7 1206.8 1317.9 1206.4 1318.1 1206 1318.4 1205.6 1318.6 1205.2 1318.9 1204.9 1319.1 1204.5 1319.3 1204.1 1319.6 1203.8 1319.8 1203.4 1320 1203.1 1320.3 1202.8 1320.5 1202.5 1320.7 1202.2 1321 1201.9 1321.2 1201.6 1321.5 1201.4 1321.7 1201.1 1321.9 1200.9 1322.2 1200.7 1322.4 1200.5 1322.6 1200.3 1322.9 1200.1 1323.1 1199.9 1323.3 1199.8 1323.6 1199.6 1323.8 1199.5 1324.1 1199.4 1324.3 1199.3 1324.5 1199.2 1324.8 1199.1 1325 1199.1 1325.2 1199.1 1325.5 1199 1325.7 1199 1325.9 1199 1326.2 1199 1326.4 1199.1 1326.7 1199.1 1326.9 1199.2 1327.1 1199.3 1327.4 1199.4 1327.6 1199.5 1327.8 1199.6 1328.1 1199.7 1328.3 1199.9 1328.5 1200 1328.8 1200.2 1329 1200.4 1329.3 1200.6 1329.5 1200.8 1329.7 1201.1 1330 1201.3 1330.2 1201.6 1330.4 1201.8 1330.7 1202.1 1330.9 1202.4 1331.1 1202.7 1331.4 1203 1331.6 1203.4 1331.8 1203.7 1332.1 1204 1332.3 1204.4 1332.6 1204.8 1332.8 1205.1 1333 1205.5 1333.3 1205.9 1333.5 1206.3 1333.7 1206.7 1334 1207.2 1334.2 1207.6 1334.4 1208 1334.7 1208.5 1334.9 1208.9 1335.2 1209.4 1335.4 1209.8 1335.6 1210.3 1335.9 1210.7 1336.1 1211.2 1336.3 1211.7 1336.6 1212.2 1336.8 1212.7 1337 1213.1 1337.3 1213.6 1337.5 1214.1 1337.8 1214.6 1338 1215.1 1338.2 1215.6 1338.5 1216.1 1338.7 1216.6 1338.9 1217 1339.2 1217.5 1339.4 1218 1339.6 1218.5 1339.9 1219 1340.1 1219.4 1340.4 1219.9 1340.6 1220.4 1340.8 1220.9 1341.1 1221.3 1341.3 1221.8 1341.5 1222.2 1341.8 1222.7 1342 1223.1 1342.2 1223.5 1342.5 1223.9 1342.7 1224.3 1343 1224.8 1343.2 1225.1 1343.4 1225.5 1343.7 1225.9 1343.9 1226.3 1344.1 1226.6 1344.4 1227 1344.6 1227.3 1344.8 1227.7 1345.1 1228 1345.3 1228.3 1345.6 1228.6 1345.8 1228.9 1346 1229.1 1346.3 1229.4 1346.5 1229.6 1346.7 1229.9 1347 1230.1 1347.2 1230.3 1347.4 1230.5 1347.7 1230.7 1347.9 1230.8 1348.2 1231 1348.4 1231.1 1348.6 1231.2 1348.9 1231.3 1349.1 1231.4 1349.3 1231.5 1349.6 1231.6 1349.8 1231.6 1350 1231.7 1350.3 1231.7 1350.5 1231.7 1350.7 1231.7 1351 1231.7 1351.2 1231.6 1351.5 1231.6 1351.7 1231.5 1351.9 1231.4 1352.2 1231.3 1352.4 1231.2 1352.6 1231.1 1352.9 1231 1353.1 1230.8 1353.3 1230.6 1353.6 1230.5 1353.8 1230.3 1354.1 1230.1 1354.3 1229.8 1354.5 1229.6 1354.8 1229.4 1355 1229.1 1355.2 1228.8 1355.5 1228.5 1355.7 1228.3 1355.9 1227.9 1356.2 1227.6 1356.4 1227.3 1356.7 1227 1356.9 1226.6 1357.1 1226.3 1357.4 1225.9 1357.6 1225.5 1357.8 1225.1 1358.1 1224.7 1358.3 1224.3 1358.5 1223.9 1358.8 1223.5 1359 1223.1 1359.3 1222.6 1359.5 1222.2 1359.7 1221.7 1360 1221.3 1360.2 1220.8 1360.4 1220.4 1360.7 1219.9 1360.9 1219.4 1361.1 1218.9 1361.4 1218.5 1361.6 1218 1361.9 1217.5 1362.1 1217 1362.3 1216.5 1362.6 1216 1362.8 1215.5 1363 1215 1363.3 1214.6 1363.5 1214.1 1363.7 1213.6 1364 1213.1 1364.2 1212.6 1364.5 1212.1 1364.7 1211.7 1364.9 1211.2 1365.2 1210.7 1365.4 1210.2 1365.6 1209.8 1365.9 1209.3 1366.1 1208.9 1366.3 1208.4 1366.6 1208 1366.8 1207.5 1367.1 1207.1 1367.3 1206.7 1367.5 1206.3 1367.8 1205.9 1368 1205.5 1368.2 1205.1 1368.5 1204.7 1368.7 1204.4 1368.9 1204 1369.2 1203.7 1369.4 1203.3 1369.6 1203 1369.9 1202.7 1370.1 1202.4 1370.4 1202.1 1370.6 1201.8 1370.8 1201.5 1371.1 1201.3 1371.3 1201 1371.5 1200.8 1371.8 1200.6 1372 1200.4 1372.2 1200.2 1372.5 1200 1372.7 1199.9 1373 1199.7 1373.2 1199.6 1373.4 1199.5 1373.7 1199.4 1373.9 1199.3 1374.1 1199.2 1374.4 1199.1 1374.6 1199.1 1374.8 1199 1375.1 1199 1375.3 1199 1375.6 1199 1375.8 1199.1 1376 1199.1 1376.3 1199.2 1376.5 1199.2 1376.7 1199.3 1377 1199.4 1377.2 1199.5 1377.4 1199.6 1377.7 1199.8 1377.9 1199.9 1378.2 1200.1 1378.4 1200.3 1378.6 1200.5 1378.9 1200.7 1379.1 1200.9 1379.3 1201.1 1379.6 1201.4 1379.8 1201.7 1380 1201.9 1380.3 1202.2 1380.5 1202.5 1380.8 1202.8 1381 1203.1 1381.2 1203.5 1381.5 1203.8 1381.7 1204.2 1381.9 1204.5 1382.2 1204.9 1382.4 1205.3 1382.6 1205.7 1382.9 1206.1 1383.1 1206.5 1383.4 1206.9 1383.6 1207.3 1383.8 1207.7 1384.1 1208.2 1384.3 1208.6 1384.5 1209.1 1384.8 1209.5 1385 1210 1385.2 1210.4 1385.5 1210.9 1385.7 1211.4 1386 1211.9 1386.2 1212.3 1386.4 1212.8 1386.7 1213.3 1386.9 1213.8 1387.1 1214.3 1387.4 1214.8 1387.6 1215.3 1387.8 1215.7 1388.1 1216.2 1388.3 1216.7 1388.5 1217.2 1388.8 1217.7 1389 1218.2 1389.3 1218.7 1389.5 1219.1 1389.7 1219.6 1390 1220.1 1390.2 1220.6 1390.4 1221 1390.7 1221.5 1390.9 1221.9 1391.1 1222.4 1391.4 1222.8 1391.6 1223.2 1391.9 1223.7 1392.1 1224.1 1392.3 1224.5 1392.6 1224.9 1392.8 1225.3 1393 1225.7 1393.3 1226 1393.5 1226.4 1393.7 1226.8 1394 1227.1 1394.2 1227.4 1394.5 1227.8 1394.7 1228.1 1394.9 1228.4 1395.2 1228.7 1395.4 1228.9 1395.6 1229.2 1395.9 1229.5 1396.1 1229.7 1396.3 1229.9 1396.6 1230.1 1396.8 1230.4 1397.1 1230.5 1397.3 1230.7 1397.5 1230.9 1397.8 1231 1398 1231.1 1398.2 1231.3 1398.5 1231.4 1398.7 1231.5 1398.9 1231.5 1399.2 1231.6 1399.4 1231.6 1399.7 1231.7 1399.9 1231.7 1400.1 1231.7 1400.4 1231.7 1400.6 1231.6 1400.8 1231.6 1401.1 1231.5 1401.3 1231.5 1401.5 1231.4 1401.8 1231.3 1402 1231.2 1402.3 1231 1402.5 1230.9 1402.7 1230.7 1403 1230.6 1403.2 1230.4 1403.4 1230.2 1403.7 1230 1403.9 1229.8 1404.1 1229.5 1404.4 1229.3 1404.6 1229 1404.9 1228.7 1405.1 1228.4 1405.3 1228.1 1405.6 1227.8 1405.8 1227.5 1406 1227.2 1406.3 1226.8 1406.5 1226.5 1406.7 1226.1 1407 1225.8 1407.2 1225.4 1407.4 1225 1407.7 1224.6 1407.9 1224.2 1408.2 1223.8 1408.4 1223.3 1408.6 1222.9 1408.9 1222.5 1409.1 1222 1409.3 1221.6 1409.6 1221.1 1409.8 1220.7 1410 1220.2 1410.3 1219.7 1410.5 1219.2 1410.8 1218.8 1411 1218.3 1411.2 1217.8 1411.5 1217.3 1411.7 1216.8 1411.9 1216.3 1412.2 1215.9 1412.4 1215.4 1412.6 1214.9 1412.9 1214.4 1413.1 1213.9 1413.4 1213.4 1413.6 1212.9 1413.8 1212.4 1414.1 1212 1414.3 1211.5 1414.5 1211 1414.8 1210.5 1415 1210.1 1415.2 1209.6 1415.5 1209.2 1415.7 1208.7 1416 1208.3 1416.2 1207.8 1416.4 1207.4 1416.7 1207 1416.9 1206.6 1417.1 1206.1 1417.4 1205.7 1417.6 1205.4 1417.8 1205 1418.1 1204.6 1418.3 1204.2 1418.6 1203.9 1418.8 1203.5 1419 1203.2 1419.3 1202.9 1419.5 1202.6 1419.7 1202.3 1420 1202 1420.2 1201.7 1420.4 1201.5 1420.7 1201.2 1420.9 1201 1421.2 1200.7 1421.4 1200.5 1421.6 1200.3 1421.9 1200.1 1422.1 1200 1422.3 1199.8 1422.6 1199.7 1422.8 1199.5 1423 1199.4 1423.3 1199.3 1423.5 1199.2 1423.7 1199.2 1424 1199.1 1424.2 1199.1 1424.5 1199 1424.7 1199 1424.9 1199 1425.2 1199 1425.4 1199.1 1425.6 1199.1 1425.9 1199.2 1426.1 1199.2 1426.3 1199.3 1426.6 1199.4 1426.8 1199.6 1427.1 1199.7 1427.3 1199.8 1427.5 1200 1427.8 1200.2 1428 1200.4 1428.2 1200.6 1428.5 1200.8 1428.7 1201 1428.9 1201.2 1429.2 1201.5 1429.4 1201.7 1429.7 1202 1429.9 1202.3 1430.1 1202.6 1430.4 1202.9 1430.6 1203.3 1430.8 1203.6 1431.1 1203.9 1431.3 1204.3 1431.5 1204.7 1431.8 1205 1432 1205.4 1432.3 1205.8 1432.5 1206.2 1432.7 1206.6 1433 1207 1433.2 1207.5 1433.4 1207.9 1433.7 1208.3 1433.9 1208.8 1434.1 1209.2 1434.4 1209.7 1434.6 1210.1 1434.9 1210.6 1435.1 1211.1 1435.3 1211.6 1435.6 1212 1435.8 1212.5 1436 1213 1436.3 1213.5 1436.5 1214 1436.7 1214.5 1437 1214.9 1437.2 1215.4 1437.5 1215.9 1437.7 1216.4 1437.9 1216.9 1438.2 1217.4 1438.4 1217.9 1438.6 1218.4 1438.9 1218.8 1439.1 1219.3 1439.3 1219.8 1439.6 1220.3 1439.8 1220.7 1440.1 1221.2 1440.3 1221.6 1440.5 1222.1 1440.8 1222.5 1441 1223 1441.2 1223.4 1441.5 1223.8 1441.7 1224.2 1441.9 1224.6 1442.2 1225 1442.4 1225.4 1442.6 1225.8 1442.9 1226.2 1443.1 1226.5 1443.4 1226.9 1443.6 1227.2 1443.8 1227.6 1444.1 1227.9 1444.3 1228.2 1444.5 1228.5 1444.8 1228.8 1445 1229 1445.2 1229.3 1445.5 1229.6 1445.7 1229.8 1446 1230 1446.2 1230.2 1446.4 1230.4 1446.7 1230.6 1446.9 1230.8 1447.1 1230.9 1447.4 1231.1 1447.6 1231.2 1447.8 1231.3 1448.1 1231.4 1448.3 1231.5 1448.6 1231.6 1448.8 1231.6 1449 1231.7 1449.3 1231.7 1449.5 1231.7 1449.7 1231.7 1450 1231.7 1450.2 1231.6 1450.4 1231.6 1450.7 1231.5 1450.9 1231.4 1451.2 1231.4 1451.4 1231.3 1451.6 1231.1 1451.9 1231 1452.1 1230.9 1452.3 1230.7 1452.6 1230.5 1452.8 1230.3 1453 1230.1 1453.3 1229.9 1453.5 1229.7 1453.8 1229.4 1454 1229.2 1454.2 1228.9 1454.5 1228.6 1454.7 1228.3 1454.9 1228 1455.2 1227.7 1455.4 1227.4 1455.6 1227.1 1455.9 1226.7 1456.1 1226.4 1456.4 1226 1456.6 1225.6 1456.8 1225.2 1457.1 1224.8 1457.3 1224.4 1457.5 1224 1457.8 1223.6 1458 1223.2 1458.2 1222.7 1458.5 1222.3 1458.7 1221.9 1459 1221.4 1459.2 1221 1459.4 1220.5 1459.7 1220 1459.9 1219.6 1460.1 1219.1 1460.4 1218.6 1460.6 1218.1 1460.8 1217.6 1461.1 1217.1 1461.3 1216.7 1461.5 1216.2 1461.8 1215.7 1462 1215.2 1462.3 1214.7 1462.5 1214.2 1462.7 1213.7 1463 1213.2 1463.2 1212.8 1463.4 1212.3 1463.7 1211.8 1463.9 1211.3 1464.1 1210.8 1464.4 1210.4 1464.6 1209.9 1464.9 1209.5 1465.1 1209 1465.3 1208.6 1465.6 1208.1 1465.8 1207.7 1466 1207.2 1466.3 1206.8 1466.5 1206.4 1466.7 1206 1467 1205.6 1467.2 1205.2 1467.5 1204.8 1467.7 1204.5 1467.9 1204.1 1468.2 1203.8 1468.4 1203.4 1468.6 1203.1 1468.9 1202.8 1469.1 1202.5 1469.3 1202.2 1469.6 1201.9 1469.8 1201.6 1470.1 1201.4 1470.3 1201.1 1470.5 1200.9 1470.8 1200.7 1471 1200.5 1471.2 1200.3 1471.5 1200.1 1471.7 1199.9 1471.9 1199.8 1472.2 1199.6 1472.4 1199.5 1472.7 1199.4 1472.9 1199.3 1473.1 1199.2 1473.4 1199.1 1473.6 1199.1 1473.8 1199.1 1474.1 1199 1474.3 1199 1474.5 1199 1474.8 1199 1475 1199.1 1475.3 1199.1 1475.5 1199.2 1475.7 1199.3 1476 1199.4 1476.2 1199.5 1476.4 1199.6 1476.7 1199.7 1476.9 1199.9 1477.1 1200.1 1477.4 1200.2 1477.6 1200.4 1477.9 1200.6 1478.1 1200.8 1478.3 1201.1 1478.6 1201.3 1478.8 1201.6 1479 1201.8 1479.3 1202.1 1479.5 1202.4 1479.7 1202.7 1480 1203 1480.2 1203.4 1480.4 1203.7 1480.7 1204.1 1480.9 1204.4 1481.2 1204.8 1481.4 1205.2 1481.6 1205.5 1481.9 1205.9 1482.1 1206.3 1482.3 1206.8 1482.6 1207.2 1482.8 1207.6 1483 1208 1483.3 1208.5 1483.5 1208.9 1483.8 1209.4 1484 1209.8 1484.2 1210.3 1484.5 1210.8 1484.7 1211.2 1484.9 1211.7 1485.2 1212.2 1485.4 1212.7 1485.6 1213.2 1485.9 1213.6 1486.1 1214.1 1486.4 1214.6 1486.6 1215.1 1486.8 1215.6 1487.1 1216.1 1487.3 1216.6 1487.5 1217.1 1487.8 1217.6 1488 1218 1488.2 1218.5 1488.5 1219 1488.7 1219.5 1489 1219.9 1489.2 1220.4 1489.4 1220.9 1489.7 1221.3 1489.9 1221.8 1490.1 1222.2 1490.4 1222.7 1490.6 1223.1 1490.8 1223.5 1491.1 1224 1491.3 1224.4 1491.6 1224.8 1491.8 1225.2 1492 1225.6 1492.3 1225.9 1492.5 1226.3 1492.7 1226.7 1493 1227 1493.2 1227.3 1493.4 1227.7 1493.7 1228 1493.9 1228.3 1494.2 1228.6 1494.4 1228.9 1494.6 1229.1 1494.9 1229.4 1495.1 1229.6 1495.3 1229.9 1495.6 1230.1 1495.8 1230.3 1496 1230.5 1496.3 1230.7 1496.5 1230.8 1496.8 1231 1497 1231.1 1497.2 1231.2 1497.5 1231.3 1497.7 1231.4 1497.9 1231.5 1498.2 1231.6 1498.4 1231.6 1498.6 1231.7 1498.9 1231.7 1499.1 1231.7 1499.3 1231.7 1499.6 1231.7 1499.8 1231.6 1500.1 1231.6 1500.3 1231.5 1500.5 1231.4 1500.8 1231.3 1501 1231.2 1501.2 1231.1 1501.5 1230.9 1501.7 1230.8 1501.9 1230.6 1502.2 1230.4 1502.4 1230.3 1502.7 1230 1502.9 1229.8 1503.1 1229.6 1503.4 1229.3 1503.6 1229.1 1503.8 1228.8 1504.1 1228.5 1504.3 1228.2 1504.5 1227.9 1504.8 1227.6 1505 1227.3 1505.3 1226.9 1505.5 1226.6 1505.7 1226.2 1506 1225.9 1506.2 1225.5 1506.4 1225.1 1506.7 1224.7 1506.9 1224.3 1507.1 1223.9 1507.4 1223.5 1507.6 1223 1507.9 1222.6 1508.1 1222.2 1508.3 1221.7 1508.6 1221.3 1508.8 1220.8 1509 1220.3 1509.3 1219.9 1509.5 1219.4 1509.7 1218.9 1510 1218.4 1510.2 1217.9 1510.5 1217.5 1510.7 1217 1510.9 1216.5 1511.2 1216 1511.4 1215.5 1511.6 1215 1511.9 1214.5 1512.1 1214 1512.3 1213.6 1512.6 1213.1 1512.8 1212.6 1513.1 1212.1 1513.3 1211.6 1513.5 1211.2 1513.8 1210.7 1514 1210.2 1514.2 1209.8 1514.5 1209.3 1514.7 1208.8 1514.9 1208.4 1515.2 1208 1515.4 1207.5 1515.6 1207.1 1515.9 1206.7 1516.1 1206.3 1516.4 1205.9 1516.6 1205.5 1516.8 1205.1 1517.1 1204.7 1517.3 1204.3 1517.5 1204 1517.8 1203.6 1518 1203.3 1518.2 1203 1518.5 1202.7 1518.7 1202.4 1519 1202.1 1519.2 1201.8 1519.4 1201.5 1519.7 1201.3 1519.9 1201 1520.1 1200.8 1520.4 1200.6 1520.6 1200.4 1520.8 1200.2 1521.1 1200 1521.3 1199.9 1521.6 1199.7 1521.8 1199.6 1522 1199.5 1522.3 1199.4 1522.5 1199.3 1522.7 1199.2 1523 1199.1 1523.2 1199.1 1523.4 1199 1523.7 1199 1523.9 1199 1524.2 1199 1524.4 1199.1 1524.6 1199.1 1524.9 1199.2 1525.1 1199.2 1525.3 1199.3 1525.6 1199.4 1525.8 1199.5 1526 1199.6 1526.3 1199.8 1526.5 1199.9 1526.8 1200.1 1527 1200.3 1527.2 1200.5 1527.5 1200.7 1527.7 1200.9 1527.9 1201.2 1528.2 1201.4 1528.4 1201.7 1528.6 1201.9 1528.9 1202.2 1529.1 1202.5 1529.4 1202.8 1529.6 1203.2 1529.8 1203.5 1530.1 1203.8 1530.3 1204.2 1530.5 1204.5 1530.8 1204.9 1531 1205.3 1531.2 1205.7 1531.5 1206.1 1531.7 1206.5 1532 1206.9 1532.2 1207.3 1532.4 1207.8 1532.7 1208.2 1532.9 1208.6 1533.1 1209.1 1533.4 1209.5 1533.6 1210 1533.8 1210.5 1534.1 1210.9 1534.3 1211.4 1534.5 1211.9 1534.8 1212.4 1535 1212.8 1535.3 1213.3 1535.5 1213.8 1535.7 1214.3 1536 1214.8 1536.2 1215.3 1536.4 1215.8 1536.7 1216.3 1536.9 1216.8 1537.1 1217.2 1537.4 1217.7 1537.6 1218.2 1537.9 1218.7 1538.1 1219.2 1538.3 1219.6 1538.6 1220.1 1538.8 1220.6 1539 1221 1539.3 1221.5 1539.5 1221.9 1539.7 1222.4 1540 1222.8 1540.2 1223.3 1540.5 1223.7 1540.7 1224.1 1540.9 1224.5 1541.2 1224.9 1541.4 1225.3 1541.6 1225.7 1541.9 1226.1 1542.1 1226.4 1542.3 1226.8 1542.6 1227.1 1542.8 1227.5 1543.1 1227.8 1543.3 1228.1 1543.5 1228.4 1543.8 1228.7 1544 1229 1544.2 1229.2 1544.5 1229.5 1544.7 1229.7 1544.9 1229.9 1545.2 1230.2 1545.4 1230.4 1545.7 1230.5 1545.9 1230.7 1546.1 1230.9 1546.4 1231 1546.6 1231.2 1546.8 1231.3 1547.1 1231.4 1547.3 1231.5 1547.5 1231.5 1547.8 1231.6 1548 1231.6 1548.3 1231.7 1548.5 1231.7 1548.7 1231.7 1549 1231.7 1549.2 1231.6 1549.4 1231.6 1549.7 1231.5 1549.9 1231.5 1550.1 1231.4 1550.4 1231.3 1550.6 1231.2 1550.9 1231 1551.1 1230.9 1551.3 1230.7 1551.6 1230.6 1551.8 1230.4 1552 1230.2 1552.3 1230 1552.5 1229.7 1552.7 1229.5 1553 1229.3 1553.2 1229 1553.4 1228.7 1553.7 1228.4 1553.9 1228.1 1554.2 1227.8 1554.4 1227.5 1554.6 1227.2 1554.9 1226.8 1555.1 1226.5 1555.3 1226.1 1555.6 1225.7 1555.8 1225.3 1556 1225 1556.3 1224.6 1556.5 1224.1 1556.8 1223.7 1557 1223.3 1557.2 1222.9 1557.5 1222.4 1557.7 1222 1557.9 1221.5 1558.2 1221.1 1558.4 1220.6 1558.6 1220.2 1558.9 1219.7 1559.1 1219.2 1559.4 1218.7 1559.6 1218.3 1559.8 1217.8 1560.1 1217.3 1560.3 1216.8 1560.5 1216.3 1560.8 1215.8 1561 1215.3 1561.2 1214.9 1561.5 1214.4 1561.7 1213.9 1562 1213.4 1562.2 1212.9 1562.4 1212.4 1562.7 1211.9 1562.9 1211.5 1563.1 1211 1563.4 1210.5 1563.6 1210.1 1563.8 1209.6 1564.1 1209.1 1564.3 1208.7 1564.6 1208.2 1564.8 1207.8 1565 1207.4 1565.3 1207 1565.5 1206.5 1565.7 1206.1 1566 1205.7 1566.2 1205.3 1566.4 1205 1566.7 1204.6 1566.9 1204.2 1567.2 1203.9 1567.4 1203.5 1567.6 1203.2 1567.9 1202.9 1568.1 1202.6 1568.3 1202.3 1568.6 1202 1568.8 1201.7 1569 1201.4 1569.3 1201.2 1569.5 1200.9 1569.8 1200.7 1570 1200.5 1570.2 1200.3 1570.5 1200.1 1570.7 1200 1570.9 1199.8 1571.2 1199.7 1571.4 1199.5 1571.6 1199.4 1571.9 1199.3 1572.1 1199.2 1572.3 1199.2 1572.6 1199.1 1572.8 1199.1 1573.1 1199 1573.3 1199 1573.5 1199 1573.8 1199 1574 1199.1 1574.2 1199.1 1574.5 1199.2 1574.7 1199.3 1574.9 1199.3 1575.2 1199.4 1575.4 1199.6 1575.7 1199.7 1575.9 1199.8 1576.1 1200 1576.4 1200.2 1576.6 1200.4 1576.8 1200.6 1577.1 1200.8 1577.3 1201 1577.5 1201.2 1577.8 1201.5 1578 1201.8 1578.3 1202 1578.5 1202.3 1578.7 1202.6 1579 1202.9 1579.2 1203.3 1579.4 1203.6 1579.7 1203.9 1579.9 1204.3 1580.1 1204.7 1580.4 1205 1580.6 1205.4 1580.9 1205.8 1581.1 1206.2 1581.3 1206.6 1581.6 1207.1 1581.8 1207.5 1582 1207.9 1582.3 1208.3 1582.5 1208.8 1582.7 1209.2 1583 1209.7 1583.2 1210.2 1583.5 1210.6 1583.7 1211.1 1583.9 1211.6 1584.2 1212.1 1584.4 1212.5 1584.6 1213 1584.9 1213.5 1585.1 1214 1585.3 1214.5 1585.6 1215 1585.8 1215.5 1586.1 1215.9 1586.3 1216.4 1586.5 1216.9 1586.8 1217.4 1587 1217.9 1587.2 1218.4 1587.5 1218.9 1587.7 1219.3 1587.9 1219.8 1588.2 1220.3 1588.4 1220.7 1588.7 1221.2 1588.9 1221.7 1589.1 1222.1 1589.4 1222.5 1589.6 1223 1589.8 1223.4 1590.1 1223.8 1590.3 1224.2 1590.5 1224.7 1590.8 1225.1 1591 1225.4 1591.2 1225.8 1591.5 1226.2 1591.7 1226.6 1592 1226.9 1592.2 1227.2 1592.4 1227.6 1592.7 1227.9 1592.9 1228.2 1593.1 1228.5 1593.4 1228.8 1593.6 1229.1 1593.8 1229.3 1594.1 1229.6 1594.3 1229.8 1594.6 1230 1594.8 1230.2 1595 1230.4 1595.3 1230.6 1595.5 1230.8 1595.7 1230.9 1596 1231.1 1596.2 1231.2 1596.4 1231.3 1596.7 1231.4 1596.9 1231.5 1597.2 1231.6 1597.4 1231.6 1597.6 1231.7 1597.9 1231.7 1598.1 1231.7 1598.3 1231.7 1598.6 1231.7 1598.8 1231.6 1599 1231.6 1599.3 1231.5 1599.5 1231.4 1599.8 1231.4 1600 1231.2 1600.2 1231.1 1600.5 1231 1600.7 1230.8 1600.9 1230.7 1601.2 1230.5 1601.4 1230.3 1601.6 1230.1 1601.9 1229.9 1602.1 1229.7 1602.4 1229.4 1602.6 1229.2 1602.8 1228.9 1603.1 1228.6 1603.3 1228.3 1603.5 1228 1603.8 1227.7 1604 1227.4 1604.2 1227 1604.5 1226.7 1604.7 1226.3 1605 1226 1605.2 1225.6 1605.4 1225.2 1605.7 1224.8 1605.9 1224.4 1606.1 1224 1606.4 1223.6 1606.6 1223.2 1606.8 1222.7 1607.1 1222.3 1607.3 1221.8 1607.5 1221.4 1607.8 1220.9 1608 1220.5 1608.3 1220 1608.5 1219.5 1608.7 1219.1 1609 1218.6 1609.2 1218.1 1609.4 1217.6 1609.7 1217.1 1609.9 1216.6 1610.1 1216.1 1610.4 1215.7 1610.6 1215.2 1610.9 1214.7 1611.1 1214.2 1611.3 1213.7 1611.6 1213.2 1611.8 1212.7 1612 1212.2 1612.3 1211.8 1612.5 1211.3 1612.7 1210.8 1613 1210.4 1613.2 1209.9 1613.5 1209.4 1613.7 1209 1613.9 1208.5 1614.2 1208.1 1614.4 1207.7 1614.6 1207.2 1614.9 1206.8 1615.1 1206.4 1615.3 1206 1615.6 1205.6 1615.8 1205.2 1616.1 1204.8 1616.3 1204.5 1616.5 1204.1 1616.8 1203.7 1617 1203.4 1617.2 1203.1 1617.5 1202.8 1617.7 1202.5 1617.9 1202.2 1618.2 1201.9 1618.4 1201.6 1618.7 1201.3 1618.9 1201.1 1619.1 1200.9 1619.4 1200.7 1619.6 1200.4 1619.8 1200.3 1620.1 1200.1 1620.3 1199.9 1620.5 1199.8 1620.8 1199.6 1621 1199.5 1621.3 1199.4 1621.5 1199.3 1621.7 1199.2 1622 1199.1 1622.2 1199.1 1622.4 1199.1 1622.7 1199 1622.9 1199 1623.1 1199 1623.4 1199 1623.6 1199.1 1623.9 1199.1 1624.1 1199.2 1624.3 1199.3 1624.6 1199.4 1624.8 1199.5 1625 1199.6 1625.3 1199.7 1625.5 1199.9 1625.7 1200.1 1626 1200.2 1626.2 1200.4 1626.4 1200.6 1626.7 1200.9 1626.9 1201.1 1627.2 1201.3 1627.4 1201.6 1627.6 1201.9 1627.9 1202.1 1628.1 1202.4 1628.3 1202.7 1628.6 1203.1 1628.8 1203.4 1629 1203.7 1629.3 1204.1 1629.5 1204.4 1629.8 1204.8 1630 1205.2 1630.2 1205.6 1630.5 1206 1630.7 1206.4 1630.9 1206.8 1631.2 1207.2 1631.4 1207.6 1631.6 1208.1 1631.9 1208.5 1632.1 1209 1632.4 1209.4 1632.6 1209.9 1632.8 1210.3 1633.1 1210.8 1633.3 1211.3 1633.5 1211.7 1633.8 1212.2 1634 1212.7 1634.2 1213.2 1634.5 1213.7 1634.7 1214.2 1635 1214.6 1635.2 1215.1 1635.4 1215.6 1635.7 1216.1 1635.9 1216.6 1636.1 1217.1 1636.4 1217.6 1636.6 1218.1 1636.8 1218.5 1637.1 1219 1637.3 1219.5 1637.6 1220 1637.8 1220.4 1638 1220.9 1638.3 1221.4 1638.5 1221.8 1638.7 1222.3 1639 1222.7 1639.2 1223.1 1639.4 1223.6 1639.7 1224 1639.9 1224.4 1640.2 1224.8 1640.4 1225.2 1640.6 1225.6 1640.9 1226 1641.1 1226.3 1641.3 1226.7 1641.6 1227 1641.8 1227.4 1642 1227.7 1642.3 1228 1642.5 1228.3 1642.8 1228.6 1643 1228.9 1643.2 1229.2 1643.5 1229.4 1643.7 1229.7 1643.9 1229.9 1644.2 1230.1 1644.4 1230.3 1644.6 1230.5 1644.9 1230.7 1645.1 1230.8 1645.3 1231 1645.6 1231.1 1645.8 1231.2 1646.1 1231.3 1646.3 1231.4 1646.5 1231.5 1646.8 1231.6 1647 1231.6 1647.2 1231.7 1647.5 1231.7 1647.7 1231.7 1647.9 1231.7 1648.2 1231.7 1648.4 1231.6 1648.7 1231.6 1648.9 1231.5 1649.1 1231.4 1649.4 1231.3 1649.6 1231.2 1649.8 1231.1 1650.1 1230.9 1650.3 1230.8 1650.5 1230.6 1650.8 1230.4 1651 1230.2 1651.3 1230 1651.5 1229.8 1651.7 1229.6 1652 1229.3 1652.2 1229.1 1652.4 1228.8 1652.7 1228.5 1652.9 1228.2 1653.1 1227.9 1653.4 1227.6 1653.6 1227.3 1653.9 1226.9 1654.1 1226.6 1654.3 1226.2 1654.6 1225.8 1654.8 1225.5 1655 1225.1 1655.3 1224.7 1655.5 1224.3 1655.7 1223.9 1656 1223.4 1656.2 1223 1656.5 1222.6 1656.7 1222.1 1656.9 1221.7 1657.2 1221.2 1657.4 1220.8 1657.6 1220.3 1657.9 1219.8 1658.1 1219.4 1658.3 1218.9 1658.6 1218.4 1658.8 1217.9 1659.1 1217.4 1659.3 1217 1659.5 1216.5 1659.8 1216 1660 1215.5 1660.2 1215 1660.5 1214.5 1660.7 1214 1660.9 1213.5 1661.2 1213 1661.4 1212.6 1661.7 1212.1 1661.9 1211.6 1662.1 1211.1 1662.4 1210.7 1662.6 1210.2 1662.8 1209.7 1663.1 1209.3 1663.3 1208.8 1663.5 1208.4 1663.8 1207.9 1664 1207.5 1664.2 1207.1 1664.5 1206.7 1664.7 1206.2 1665 1205.8 1665.2 1205.5 1665.4 1205.1 1665.7 1204.7 1665.9 1204.3 1666.1 1204 1666.4 1203.6 1666.6 1203.3 1666.8 1203 1667.1 1202.7 1667.3 1202.3 1667.6 1202.1 1667.8 1201.8 1668 1201.5 1668.3 1201.3 1668.5 1201 1668.7 1200.8 1669 1200.6 1669.2 1200.4 1669.4 1200.2 1669.7 1200 1669.9 1199.9 1670.2 1199.7 1670.4 1199.6 1670.6 1199.5 1670.9 1199.3 1671.1 1199.3 1671.3 1199.2 1671.6 1199.1 1671.8 1199.1 1672 1199 1672.3 1199 1672.5 1199 1672.8 1199 1673 1199.1 1673.2 1199.1 1673.5 1199.2 1673.7 1199.2 1673.9 1199.3 1674.2 1199.4 1674.4 1199.5 1674.6 1199.7 1674.9 1199.8 1675.1 1200 1675.4 1200.1 1675.6 1200.3 1675.8 1200.5 1676.1 1200.7 1676.3 1200.9 1676.5 1201.2 1676.8 1201.4 1677 1201.7 1677.2 1202 1677.5 1202.2 1677.7 1202.5 1678 1202.9 1678.2 1203.2 1678.4 1203.5 1678.7 1203.8 1678.9 1204.2 1679.1 1204.6 1679.4 1204.9 1679.6 1205.3 1679.8 1205.7 1680.1 1206.1 1680.3 1206.5 1680.6 1206.9 1680.8 1207.3 1681 1207.8 1681.3 1208.2 1681.5 1208.7 1681.7 1209.1 1682 1209.6 1682.2 1210 1682.4 1210.5 1682.7 1211 1682.9 1211.4 1683.1 1211.9 1683.4 1212.4 1683.6 1212.9 1683.9 1213.4 1684.1 1213.8 1684.3 1214.3 1684.6 1214.8 1684.8 1215.3 1685 1215.8 1685.3 1216.3 1685.5 1216.8 1685.7 1217.3 1686 1217.7 1686.2 1218.2 1686.5 1218.7 1686.7 1219.2 1686.9 1219.7 1687.2 1220.1 1687.4 1220.6 1687.6 1221.1 1687.9 1221.5 1688.1 1222 1688.3 1222.4 1688.6 1222.9 1688.8 1223.3 1689.1 1223.7 1689.3 1224.1 1689.5 1224.5 1689.8 1224.9 1690 1225.3 1690.2 1225.7 1690.5 1226.1 1690.7 1226.4 1690.9 1226.8 1691.2 1227.1 1691.4 1227.5 1691.7 1227.8 1691.9 1228.1 1692.1 1228.4 1692.4 1228.7 1692.6 1229 1692.8 1229.2 1693.1 1229.5 1693.3 1229.7 1693.5 1230 1693.8 1230.2 1694 1230.4 1694.3 1230.6 1694.5 1230.7 1694.7 1230.9 1695 1231 1695.2 1231.2 1695.4 1231.3 1695.7 1231.4 1695.9 1231.5 1696.1 1231.5 1696.4 1231.6 1696.6 1231.6 1696.9 1231.7 1697.1 1231.7 1697.3 1231.7 1697.6 1231.7 1697.8 1231.6 1698 1231.6 1698.3 1231.5 1698.5 1231.5 1698.7 1231.4 1699 1231.3 1699.2 1231.2 1699.5 1231" stroke="#D95319" stroke-width="5.5" stroke-dasharray="19.4 4.7 9.9 4.7"/>
</g>
<text x="988.9" y="1386" text-anchor="middle">0</text>
<text x="1107.14" y="1386" text-anchor="middle">5</text>
<text x="1226.48" y="1386" text-anchor="middle">10</text>
<text x="1344.72" y="1386" text-anchor="middle">15</text>
<text x="1462.97" y="1386" text-anchor="middle">20</text>
<text x="1581.21" y="1386" text-anchor="middle">25</text>
<text x="1699.45" y="1386" text-anchor="middle">30</text>
<text x="970.4" y="1080.1" text-anchor="end">10</text>
<text x="970.4" y="1153.68" text-anchor="end">5</text>
<text x="970.4" y="1225.96" text-anchor="end">0</text>
<text x="970.4" y="1298.23" text-anchor="end">−5</text>
<text x="1344.22" y="1444" text-anchor="middle">Time (s)</text>
<text x="1344.22" y="1511.5" text-anchor="middle">(f)</text>
<rect x="1464.55" y="1075.65" width="217.1" height="58.6" fill="#ffffff" stroke="#1a1a1a" stroke-width="2.7"/>
<path d="M1471 1108 H1536" fill="none" stroke="#0670BB" stroke-width="4"/>
<text x="1539" y="1119.8" font-size="33.5" font-style="italic">F</text>
<text x="1559.6" y="1124.9" font-size="19.5">2</text>
<path d="M1579.4 1108 H1644.2" fill="none" stroke="#D95319" stroke-width="5.2" stroke-dasharray="19.4 4.7 9.9 4.7"/>
<text x="1647.1" y="1119.8" font-size="33.5" font-style="italic">F</text>
<text transform="translate(1661.5 1115.3) scale(1 1.45)" font-size="30" text-anchor="middle">ˆ</text>
<text x="1668.2" y="1124.9" font-size="19.5">2</text>
</svg>
</body></html>
